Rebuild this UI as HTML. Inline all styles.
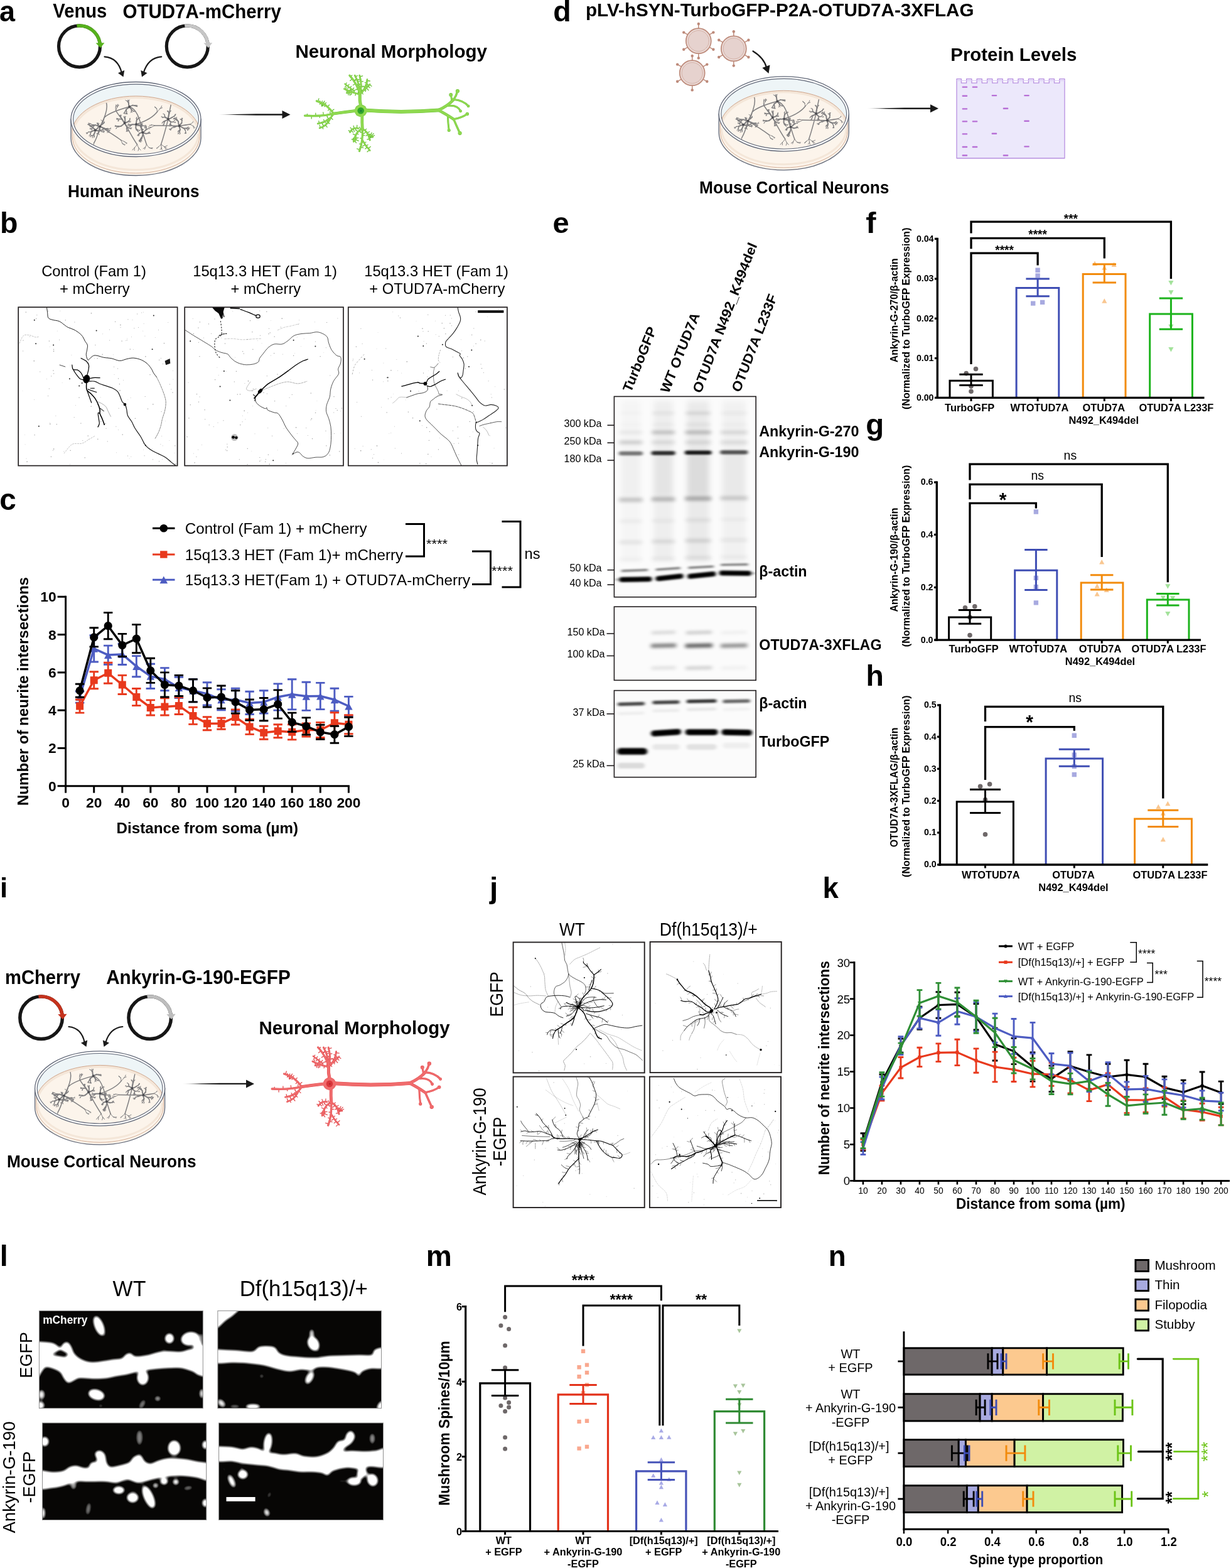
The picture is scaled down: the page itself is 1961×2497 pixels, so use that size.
<!DOCTYPE html>
<html lang="en"><head><meta charset="utf-8"><title>Figure</title>
<style>
html,body{margin:0;padding:0;background:#fff;}
body{width:1961px;height:2497px;overflow:hidden;}
svg{display:block;font-family:"Liberation Sans", sans-serif;}
text{white-space:pre;}
</style></head><body>
<svg width="1961" height="2497" viewBox="0 0 1961 2497">
<defs><g id="dishg"><path d="M-103.5 0.0L-103.5 30.0A103.5 59.5 0 0 0 103.5 30.0L103.5 0.0Z" fill="#fcf4eb" stroke="#5f6676" stroke-width="1.3" /><path d="M-101.3 14.0L-101.3 27.5A101.3 58.3 0 0 0 101.3 27.5L101.3 14.0" fill="none" stroke="#cfa58b" stroke-width="0.9" /><path d="M-99.5 23.0A99.5 57.5 0 0 0 99.5 23.0" fill="none" stroke="#f4e6d8" stroke-width="3" /><ellipse cx="0.0" cy="0.0" rx="103.5" ry="59.5" fill="#ffffff" stroke="#5f6676" stroke-width="1.3" /><clipPath id="dcA"><ellipse cx="0.0" cy="0.0" rx="99.9" ry="55.9"/></clipPath><ellipse cx="0.0" cy="0.0" rx="99.9" ry="55.9" fill="#eef5f7" stroke="none" stroke-width="1" /><g clip-path="url(#dcA)"><clipPath id="dcAm"><ellipse cx="0.0" cy="26.0" rx="98.5" ry="59.5"/></clipPath><ellipse cx="0.0" cy="22.5" rx="102.0" ry="59.5" fill="#f4e6d8" stroke="#cfa58b" stroke-width="1.0" /><ellipse cx="0.0" cy="26.5" rx="99.5" ry="59.5" fill="#fcf4eb" stroke="none" stroke-width="1" /></g><ellipse cx="0.0" cy="0.0" rx="99.9" ry="55.9" fill="none" stroke="#5f6676" stroke-width="1.1" /><g clip-path="url(#dcA)"><g clip-path="url(#dcAm)" opacity="0.9"><path d="M-69.3 8.7Q-71.0 9.1 -72.2 9.6M-72.2 9.6Q-72.5 10.4 -72.6 11.5M-72.2 9.6Q-73.0 10.1 -73.9 10.6M-69.3 8.7Q-70.4 8.0 -71.9 7.2M-71.9 7.2Q-72.6 6.8 -73.5 6.8M-71.9 7.2Q-72.6 6.8 -73.6 6.6M-68.4 12.6Q-69.7 13.6 -71.1 14.7M-71.1 14.7Q-71.6 15.3 -71.5 16.4M-71.1 14.7Q-72.2 14.9 -73.2 15.5M-71.1 14.7Q-72.1 14.5 -73.2 14.5M-68.4 12.6Q-69.2 14.0 -69.9 15.2M-69.9 15.2Q-70.2 16.1 -70.5 17.0M-69.9 15.2Q-70.1 16.1 -69.8 16.9M-69.0 10.2Q-70.0 10.3 -71.3 10.1M-71.3 10.1Q-71.9 9.6 -72.8 9.5M-71.3 10.1Q-71.9 10.3 -72.8 10.4M-69.0 10.2Q-70.3 10.5 -71.5 11.5M-71.5 11.5Q-71.9 12.2 -72.7 12.6M-71.5 11.5Q-72.4 11.6 -73.2 11.0M-52.9 3.8Q-52.2 3.1 -52.0 2.2M-52.9 3.8Q-53.2 2.7 -54.3 1.9M-54.3 1.9Q-54.8 1.4 -55.6 1.1M-50.5 5.5Q-50.4 4.7 -50.4 3.9M-50.5 5.5Q-50.4 4.7 -50.2 3.9M-45.2 16.5Q-44.9 18.0 -44.9 19.5M-44.9 19.5Q-45.3 20.3 -45.6 21.4M-44.9 19.5Q-44.4 20.3 -44.0 20.9M-44.9 19.5Q-44.3 20.1 -43.8 20.9M-45.2 16.5Q-44.1 17.2 -43.0 17.7M-43.0 17.7Q-42.2 17.6 -41.3 17.5M-43.0 17.7Q-42.0 17.8 -41.4 18.2M-44.7 14.6Q-43.8 15.9 -43.1 17.3M-43.1 17.3Q-42.6 18.4 -42.5 19.4M-43.1 17.3Q-43.2 18.1 -43.2 19.1M-44.7 14.6Q-43.1 15.4 -41.5 15.2M-41.5 15.2Q-40.4 14.7 -40.1 13.5M-41.5 15.2Q-40.6 14.9 -39.7 15.1M-59.2 19.5Q-59.5 20.3 -59.5 21.1M-59.2 19.5Q-59.8 20.2 -60.2 20.9M-59.3 20.9Q-60.0 21.7 -60.9 22.7M-60.9 22.7Q-61.5 22.9 -62.3 23.2M-60.9 22.7Q-61.6 22.7 -62.3 22.6M-59.3 20.9Q-59.2 21.9 -59.2 23.3M-59.2 23.3Q-58.8 23.7 -58.3 24.1M-59.2 23.3Q-58.8 23.8 -58.6 24.5M-73.7 9.4Q-73.9 8.2 -74.5 7.2M-74.5 7.2Q-74.9 6.7 -75.4 6.1M-74.5 7.2Q-74.4 6.5 -74.6 5.9M-74.5 7.2Q-75.1 6.8 -75.5 6.4M-73.7 9.4Q-74.5 8.7 -75.4 8.3M-75.4 8.3Q-76.1 8.4 -76.7 8.4M-75.4 8.3Q-75.9 8.2 -76.6 8.1M-73.3 9.3Q-74.4 9.4 -75.4 9.1M-75.4 9.1Q-75.8 8.7 -76.3 8.2M-73.3 9.3Q-73.9 8.4 -75.0 7.8M-75.0 7.8Q-75.8 7.9 -76.3 8.2M-75.0 7.8Q-75.1 7.3 -74.9 6.5M-60.7 9.3Q-60.8 8.2 -60.5 7.2M-60.5 7.2Q-60.6 6.5 -60.8 5.9M-60.5 7.2Q-60.4 6.6 -60.1 5.9M-60.7 9.3Q-60.9 8.1 -61.6 7.0M-61.6 7.0Q-61.4 6.2 -60.6 5.8M-61.6 7.0Q-62.2 6.4 -62.3 5.7M-59.7 9.9Q-59.6 9.0 -60.0 7.8M-60.0 7.8Q-60.6 7.2 -61.3 7.0M-60.0 7.8Q-60.1 7.2 -60.6 6.6M-59.7 9.9Q-59.6 8.9 -59.3 7.9M-59.3 7.9Q-59.4 7.1 -59.6 6.6M-59.3 7.9Q-58.9 7.4 -58.3 6.9M-53.9 17.0Q-52.9 16.6 -51.8 16.0M-51.8 16.0Q-51.1 15.6 -50.8 15.1M-51.8 16.0Q-51.5 15.4 -51.4 14.8M-51.8 16.0Q-51.5 15.5 -50.9 15.1M-53.9 17.0Q-53.1 15.9 -52.0 14.6M-52.0 14.6Q-51.1 14.2 -50.1 14.6M-52.0 14.6Q-50.9 14.6 -50.1 14.4M-53.9 17.0Q-52.7 17.3 -51.6 18.3M-51.6 18.3Q-51.0 18.6 -50.1 19.0M-51.6 18.3Q-50.9 18.5 -50.0 18.8M-54.2 19.6Q-53.4 20.3 -52.0 20.3M-52.0 20.3Q-51.7 20.8 -51.0 21.2M-52.0 20.3Q-51.4 20.2 -50.7 20.2M-54.2 19.6Q-53.2 19.5 -51.9 18.8M-51.9 18.8Q-51.3 19.0 -50.5 19.0M-68.9 26.1Q-70.0 26.3 -71.1 25.9M-71.1 25.9Q-71.8 26.0 -72.3 26.5M-71.1 25.9Q-71.6 26.3 -71.8 26.9M-68.9 26.1Q-69.2 26.9 -69.3 28.1M-69.3 28.1Q-69.2 28.7 -69.3 29.6M-68.9 26.1Q-69.7 26.2 -70.5 25.9M-66.4 27.0Q-66.7 28.1 -67.0 29.0M-66.4 27.0Q-66.6 27.7 -66.7 28.7M-75.5 20.2Q-76.5 20.7 -77.8 21.6M-77.8 21.6Q-78.4 21.7 -79.2 21.6M-77.8 21.6Q-78.1 22.2 -78.6 23.0M-75.5 20.2Q-76.6 20.5 -77.3 21.5M-77.3 21.5Q-77.5 22.1 -77.6 22.9M-77.3 21.5Q-77.6 22.1 -77.5 22.8M-72.6 23.8Q-73.4 24.6 -74.1 25.5M-74.1 25.5Q-74.4 26.2 -74.3 26.9M-72.6 23.8Q-72.0 25.0 -72.0 26.5M-72.0 26.5Q-72.2 27.4 -72.5 28.1M-72.0 26.5Q-72.0 27.2 -72.2 27.8M-1.5 -21.6Q-0.6 -21.3 0.2 -20.8M0.2 -20.8Q0.9 -20.7 1.5 -20.6M-1.5 -21.6Q-0.6 -21.9 0.5 -22.0M0.5 -22.0Q1.0 -22.4 1.6 -22.7M-1.1 -21.5Q-0.1 -21.3 0.8 -20.7M0.8 -20.7Q1.3 -20.4 1.9 -20.2M-1.1 -21.5Q0.1 -21.3 1.2 -21.4M1.2 -21.4Q1.9 -21.1 2.6 -21.3M-1.4 -22.2Q-0.3 -21.6 0.6 -21.1M0.6 -21.1Q1.3 -20.9 1.8 -20.5M0.6 -21.1Q1.3 -21.1 1.9 -21.4M-1.4 -22.2Q-0.3 -22.1 0.9 -22.1M-4.2 -13.0Q-3.4 -12.6 -2.5 -12.2M-4.2 -13.0Q-3.2 -12.6 -2.3 -12.5M-2.3 -12.5Q-1.8 -12.8 -1.3 -13.4M-7.2 -12.1Q-6.5 -11.5 -5.6 -11.1M-7.2 -12.1Q-7.6 -11.3 -8.3 -10.5M-14.8 -12.0Q-15.1 -11.0 -15.6 -9.8M-15.6 -9.8Q-15.4 -9.2 -14.9 -8.5M-15.6 -9.8Q-15.2 -9.2 -15.3 -8.5M-15.6 -9.8Q-15.8 -9.1 -16.2 -8.6M-14.8 -12.0Q-14.4 -10.9 -14.5 -9.7M-14.5 -9.7Q-14.0 -9.2 -13.8 -8.5M-14.5 -9.7Q-14.1 -9.3 -13.5 -8.8M-14.5 -9.7Q-14.9 -9.0 -14.6 -8.2M-17.3 -12.3Q-18.1 -11.3 -18.8 -10.6M-18.8 -10.6Q-18.8 -10.0 -19.1 -9.3M-18.8 -10.6Q-19.3 -10.0 -19.6 -9.6M-17.3 -12.3Q-17.4 -11.1 -17.9 -10.0M-17.9 -10.0Q-17.7 -9.4 -17.3 -8.9M-17.9 -10.0Q-18.0 -9.3 -17.9 -8.7M-11.4 -29.5Q-10.8 -30.3 -10.3 -31.1M-11.4 -29.5Q-11.8 -30.1 -12.2 -30.9M-13.7 -28.9Q-13.5 -29.8 -13.2 -30.6M-13.7 -28.9Q-14.7 -29.6 -15.5 -29.8M-15.5 -29.8Q-16.2 -29.9 -16.7 -30.4M-18.7 -3.0Q-19.2 -3.7 -19.6 -4.5M-18.7 -3.0Q-18.6 -4.1 -18.3 -4.9M-17.3 -3.1Q-16.7 -3.8 -16.5 -4.8M-17.3 -3.1Q-16.8 -3.7 -16.4 -4.4M-9.8 1.5Q-9.3 0.8 -9.5 -0.4M-9.8 1.5Q-9.7 0.6 -9.8 -0.5M-9.8 -0.5Q-9.6 -1.2 -9.5 -1.8M-9.8 -0.5Q-9.4 -0.9 -9.1 -1.6M-9.8 3.9Q-9.0 4.1 -8.3 4.1M-9.8 3.9Q-8.9 3.7 -8.2 3.2M-14.9 15.6Q-13.9 16.5 -13.2 17.7M-13.2 17.7Q-12.7 18.5 -12.5 19.2M-13.2 17.7Q-13.1 18.5 -13.6 19.3M-13.2 17.7Q-12.5 17.9 -11.7 17.8M-14.9 15.6Q-14.8 16.9 -14.7 18.2M-14.7 18.2Q-14.4 18.8 -14.2 19.4M-14.7 18.2Q-15.0 18.8 -15.4 19.6M-11.2 13.8Q-10.3 14.5 -9.0 14.8M-9.0 14.8Q-8.3 14.4 -7.5 14.2M-9.0 14.8Q-8.2 14.5 -7.6 14.7M-11.2 13.8Q-9.7 14.0 -8.4 14.1M-8.4 14.1Q-7.6 13.9 -6.6 13.6M-8.4 14.1Q-7.7 14.6 -7.4 15.4M-28.5 10.8Q-29.8 11.2 -30.9 10.8M-30.9 10.8Q-31.5 10.6 -32.0 10.2M-30.9 10.8Q-31.6 11.2 -32.2 11.8M-28.5 10.8Q-30.2 10.8 -31.8 10.9M-31.8 10.9Q-32.4 10.4 -32.7 9.5M-31.8 10.9Q-32.5 11.1 -33.5 11.2M-28.2 11.9Q-29.8 12.3 -30.8 13.4M-30.8 13.4Q-31.3 14.2 -31.7 14.9M-30.8 13.4Q-31.2 14.1 -31.4 14.9M-28.2 11.9Q-29.7 11.1 -31.1 11.2M-31.1 11.2Q-32.1 10.8 -33.0 10.6M-31.1 11.2Q-31.8 11.0 -32.7 10.7M-26.0 -0.6Q-27.4 -0.4 -28.6 -0.2M-28.6 -0.2Q-29.3 -0.1 -30.1 0.1M-28.6 -0.2Q-29.0 -0.6 -29.6 -0.9M-28.6 -0.2Q-29.3 -0.2 -30.3 -0.0M-26.0 -0.6Q-27.2 0.0 -27.5 1.4M-27.5 1.4Q-28.3 2.0 -28.8 2.3M-27.5 1.4Q-27.7 2.1 -27.7 3.0M-27.5 1.4Q-28.0 1.9 -28.1 2.8M-26.0 -0.6Q-27.7 -0.5 -29.1 -0.9M-29.1 -0.9Q-29.9 -0.5 -30.8 -0.1M-29.1 -0.9Q-29.9 -1.4 -30.7 -1.6M-29.1 -0.9Q-30.0 -0.6 -30.8 -0.9M-24.0 -3.1Q-23.9 -4.2 -23.7 -5.7M-23.7 -5.7Q-24.1 -6.1 -24.7 -6.7M-23.7 -5.7Q-23.7 -6.3 -23.4 -7.0M-24.0 -3.1Q-24.3 -4.4 -25.1 -5.1M-25.1 -5.1Q-25.6 -5.5 -26.3 -5.6M-25.1 -5.1Q-25.5 -5.7 -25.8 -6.2M-25.1 -5.1Q-25.0 -5.8 -25.2 -6.3M-24.0 -3.1Q-24.3 -4.2 -25.1 -5.5M-25.1 -5.5Q-24.7 -6.0 -24.5 -6.8M-25.1 -5.5Q-24.8 -6.2 -24.7 -6.9M2.9 16.8Q3.2 17.6 3.1 18.8M3.1 18.8Q3.3 19.6 3.6 20.1M2.9 16.8Q4.1 17.1 5.4 17.5M5.4 17.5Q6.1 17.4 7.0 16.9M5.4 17.5Q5.8 18.1 6.0 18.7M1.0 17.4Q1.9 17.8 2.5 18.7M1.0 17.4Q1.6 18.3 2.9 18.7M2.9 18.7Q3.3 19.3 4.0 19.8M1.0 17.4Q1.9 18.1 2.7 18.8M2.7 18.8Q3.4 19.0 4.1 19.0M-9.4 8.7Q-10.5 7.9 -11.4 7.3M-11.4 7.3Q-12.0 7.2 -12.5 6.8M-9.4 8.7Q-10.6 8.9 -11.9 8.7M-11.9 8.7Q-12.7 9.0 -13.2 9.3M-11.9 8.7Q-12.7 9.0 -13.3 9.1M-8.3 10.1Q-8.9 11.0 -9.3 11.7M-9.3 11.7Q-9.9 11.8 -10.5 12.2M-8.3 10.1Q-9.2 10.3 -10.4 10.2M-10.4 10.2Q-10.9 10.2 -11.6 10.2M-10.4 10.2Q-10.9 10.6 -11.5 11.0M0.8 -1.8Q1.3 -2.5 1.8 -3.3M0.8 -1.8Q0.9 -2.6 1.3 -3.4M3.5 -1.2Q4.7 -1.7 5.5 -2.3M5.5 -2.3Q6.2 -2.6 6.6 -3.2M5.5 -2.3Q6.2 -2.4 7.1 -2.2M3.5 -1.2Q3.8 -2.0 4.2 -2.7M8.9 13.9Q9.9 14.8 10.8 15.8M10.8 15.8Q11.4 16.0 12.3 16.3M10.8 15.8Q11.0 16.4 10.8 17.2M8.9 13.9Q9.5 15.3 10.4 15.9M10.4 15.9Q10.7 16.6 11.0 17.5M10.4 15.9Q10.4 16.6 10.3 17.3M8.9 13.9Q9.6 14.7 10.2 15.7M10.2 15.7Q10.8 16.2 11.4 16.6M10.2 15.7Q10.5 16.3 11.1 16.7M11.8 10.2Q13.0 11.2 14.0 12.3M14.0 12.3Q14.5 12.9 15.1 13.3M14.0 12.3Q14.2 13.0 14.2 14.0M14.0 12.3Q14.3 13.4 15.0 14.1M11.8 10.2Q13.2 10.3 14.2 10.3M14.2 10.3Q14.7 10.7 15.1 11.4M14.2 10.3Q14.7 9.7 14.9 9.1M6.5 10.2Q5.0 10.1 3.8 10.1M3.8 10.1Q3.2 10.5 2.3 10.5M3.8 10.1Q3.4 9.7 2.7 9.4M3.8 10.1Q3.4 9.5 2.9 9.0M6.5 10.2Q5.5 9.3 4.3 8.6M4.3 8.6Q3.7 8.0 3.6 7.4M4.3 8.6Q3.4 8.6 2.6 8.0M6.5 10.2Q6.3 9.3 6.4 8.2M9.6 10.2Q9.0 9.5 9.1 8.3M9.1 8.3Q8.7 7.9 8.4 7.3M9.6 10.2Q9.8 9.0 10.0 7.9M10.0 7.9Q10.4 7.5 10.9 7.1M9.6 10.2Q9.3 9.1 9.4 7.9M9.4 7.9Q9.2 7.2 9.0 6.5M9.4 7.9Q9.2 7.4 9.2 6.6M9.4 7.9Q9.8 7.3 10.3 6.7M18.6 15.3Q19.6 14.9 20.4 14.4M18.6 15.3Q19.5 14.8 20.7 14.6M20.7 14.6Q21.3 15.0 21.9 15.3M16.6 13.2Q16.1 12.5 15.8 11.4M15.8 11.4Q16.1 10.9 16.5 10.3M15.8 11.4Q15.4 10.9 15.0 10.5M16.6 13.2Q16.7 12.4 17.2 11.5M16.6 13.2Q15.8 12.2 15.4 11.0M15.4 11.0Q14.8 10.3 14.0 10.2M15.4 11.0Q15.7 10.4 16.1 9.7M19.5 22.5Q20.3 21.8 20.8 21.1M19.5 22.5Q20.7 22.2 21.5 22.1M19.6 22.0Q20.6 21.9 21.7 22.0M21.7 22.0Q22.3 22.2 22.8 22.5M21.7 22.0Q22.4 22.2 23.0 22.3M19.6 22.0Q20.5 21.9 21.4 21.4M21.4 21.4Q21.8 21.0 22.3 20.6M19.6 22.0Q20.2 21.2 20.5 20.3M20.5 20.3Q21.1 20.0 21.6 19.9M7.2 31.4Q6.9 32.7 6.5 33.7M6.5 33.7Q6.2 34.1 6.0 34.8M7.2 31.4Q6.2 31.8 5.7 32.9M5.7 32.9Q5.2 33.4 4.9 33.8M5.7 32.9Q5.3 33.3 4.6 33.6M8.0 32.1Q8.0 33.4 7.2 34.7M7.2 34.7Q7.5 35.6 8.0 36.4M7.2 34.7Q7.2 35.6 6.9 36.3M8.0 32.1Q7.2 32.9 6.5 34.2M6.5 34.2Q5.9 34.2 5.2 34.2M6.5 34.2Q6.2 34.9 5.8 35.7M6.5 34.2Q5.7 34.7 5.2 35.4M9.0 31.3Q8.1 31.8 7.2 32.6M7.2 32.6Q7.0 33.1 6.5 33.6M7.2 32.6Q6.8 33.1 6.2 33.5M9.0 31.3Q8.6 32.4 8.7 33.7M8.7 33.7Q9.1 34.1 9.6 34.8M8.7 33.7Q8.5 34.4 8.4 35.0M3.5 24.6Q2.8 24.8 2.1 25.5M3.5 24.6Q3.4 25.5 3.4 26.4M4.9 25.1Q4.3 25.6 3.9 26.2M4.9 25.1Q5.0 25.6 4.7 26.4M53.7 -10.9Q53.6 -12.0 53.9 -13.0M53.9 -13.0Q54.0 -13.6 54.0 -14.2M53.7 -10.9Q54.7 -11.7 54.9 -12.9M54.9 -12.9Q55.5 -13.2 56.1 -13.5M54.9 -12.9Q54.7 -13.6 54.2 -14.3M52.3 -10.8Q51.8 -11.9 50.6 -12.3M50.6 -12.3Q50.3 -12.9 50.1 -13.5M50.6 -12.3Q50.1 -12.8 50.0 -13.6M52.3 -10.8Q52.0 -12.0 51.7 -13.0M51.7 -13.0Q51.1 -13.5 50.4 -13.5M61.1 -4.8Q61.8 -5.6 62.1 -6.6M62.1 -6.6Q62.1 -7.1 62.3 -7.8M62.1 -6.6Q62.7 -6.9 63.3 -7.0M61.1 -4.8Q61.3 -5.5 62.2 -6.3M62.2 -6.3Q62.3 -6.9 62.9 -7.3M61.2 -5.4Q62.0 -6.0 62.5 -7.1M62.5 -7.1Q63.0 -7.3 63.6 -7.9M61.2 -5.4Q62.2 -5.9 62.8 -7.0M62.8 -7.0Q63.1 -7.6 63.0 -8.2M59.6 4.2Q60.8 4.6 61.9 5.0M61.9 5.0Q62.4 4.6 63.1 4.2M61.9 5.0Q62.8 5.0 63.5 4.9M59.6 4.2Q60.6 3.1 61.0 2.3M61.0 2.3Q61.6 1.9 62.3 1.7M61.0 2.3Q61.3 1.8 61.7 1.1M54.5 7.9Q53.7 8.2 52.9 8.9M54.5 7.9Q54.4 8.8 54.8 9.9M54.8 9.9Q54.4 10.4 54.1 11.1M44.9 6.3Q44.6 7.5 43.9 8.2M43.9 8.2Q43.4 8.6 43.1 9.1M43.9 8.2Q43.4 8.7 43.3 9.4M44.9 6.3Q44.5 7.5 44.6 8.5M44.6 8.5Q44.1 8.9 43.6 9.3M43.4 4.2Q42.8 5.1 42.1 5.7M42.1 5.7Q41.9 6.3 41.6 6.8M43.4 4.2Q42.9 4.9 41.7 5.3M43.5 -3.1Q42.4 -3.3 41.7 -3.7M41.7 -3.7Q41.2 -4.0 40.5 -4.0M41.7 -3.7Q41.4 -4.2 41.2 -4.8M43.5 -3.1Q42.9 -2.7 42.1 -2.4M45.7 -7.1Q44.9 -7.7 44.4 -8.5M45.7 -7.1Q44.9 -7.9 44.4 -8.6M44.4 -8.6Q43.8 -8.8 43.2 -8.8M57.7 10.2Q56.7 9.4 55.5 8.8M55.5 8.8Q55.2 8.1 54.9 7.5M55.5 8.8Q54.6 8.7 53.8 8.7M57.7 10.2Q56.8 9.2 55.6 8.2M55.6 8.2Q55.5 7.4 55.3 6.7M55.6 8.2Q55.2 7.2 54.7 6.5M57.1 13.7Q56.2 15.0 54.8 15.5M54.8 15.5Q54.4 16.1 54.6 16.9M54.8 15.5Q53.9 15.3 52.9 15.5M54.8 15.5Q54.6 16.2 53.9 16.8M57.1 13.7Q56.2 14.9 56.1 16.1M56.1 16.1Q55.8 16.9 55.4 17.4M56.1 16.1Q55.7 16.6 55.3 17.4M63.9 0.7Q63.4 -0.8 62.2 -1.5M62.2 -1.5Q62.0 -2.2 61.8 -3.0M62.2 -1.5Q61.4 -1.6 60.7 -1.5M63.9 0.7Q62.7 0.3 61.3 -0.9M61.3 -0.9Q60.5 -1.0 59.8 -1.3M61.3 -0.9Q60.5 -0.8 59.6 -0.4M61.3 -0.9Q60.8 -1.3 59.9 -1.6M65.6 0.2Q64.6 -0.5 64.5 -2.0M64.5 -2.0Q64.7 -2.8 64.9 -3.6M64.5 -2.0Q63.8 -2.4 63.2 -2.7M65.6 0.2Q64.8 -0.3 64.0 -0.7M64.0 -0.7Q63.6 -1.1 63.0 -1.4M64.0 -0.7Q63.4 -0.7 62.7 -0.5M73.4 1.6Q72.9 1.0 71.9 0.2M71.9 0.2Q71.3 0.1 70.6 -0.1M71.9 0.2Q71.3 0.1 70.7 -0.1M73.4 1.6Q73.5 0.6 73.6 -0.6M73.6 -0.6Q74.2 -1.0 74.5 -1.7M73.6 -0.6Q73.4 -1.1 73.3 -1.8M73.4 1.6Q72.8 0.8 72.9 -0.5M72.9 -0.5Q73.2 -1.2 73.3 -1.9M72.9 -0.5Q73.3 -1.1 73.9 -1.6M73.2 2.6Q72.6 1.8 72.4 0.9M73.2 2.6Q73.0 1.6 72.4 0.7M72.4 0.7Q71.9 0.6 71.3 0.2M72.4 0.7Q71.7 0.3 71.3 -0.1M79.0 18.4Q79.0 19.6 79.5 21.2M79.5 21.2Q79.8 21.8 80.0 22.5M79.5 21.2Q79.3 21.9 78.9 22.7M79.0 18.4Q79.5 19.6 79.0 21.1M79.0 21.1Q78.9 21.7 78.5 22.3M79.0 21.1Q78.5 21.9 77.6 22.3M80.9 14.1Q82.2 14.6 83.9 15.0M83.9 15.0Q84.8 14.7 85.5 14.1M83.9 15.0Q84.4 15.7 84.5 16.6M80.9 14.1Q82.2 13.5 83.9 14.0M83.9 14.0Q84.7 14.1 85.7 13.8M83.9 14.0Q84.5 14.3 85.3 14.6M80.1 14.7Q81.4 13.8 82.3 12.9M82.3 12.9Q83.0 12.5 83.6 12.2M82.3 12.9Q82.7 12.1 83.5 11.9M80.1 14.7Q81.2 15.5 82.1 16.2M82.1 16.2Q82.9 16.2 83.5 16.1M82.1 16.2Q82.3 17.0 82.4 17.7M82.1 16.2Q82.1 16.8 82.6 17.5M67.7 18.7Q67.1 19.5 66.6 20.1M67.7 18.7Q67.6 19.7 67.4 20.6M69.5 19.9Q69.0 21.0 68.1 22.2M68.1 22.2Q67.8 22.8 67.1 23.3M68.1 22.2Q67.5 22.5 66.9 22.5M68.1 22.2Q68.4 22.9 69.0 23.5M69.5 19.9Q69.9 21.1 70.6 22.0M70.6 22.0Q70.5 22.8 70.3 23.6M-50.0 -32.0Q-51.2 -34.1 -52.6 -36.6M-52.6 -36.6Q-52.5 -38.3 -53.0 -40.1M-52.6 -36.6Q-52.7 -38.6 -52.4 -40.5M-50.0 -32.0Q-48.2 -34.6 -48.2 -37.4M-48.2 -37.4Q-48.5 -39.1 -49.4 -40.4M-48.2 -37.4Q-47.0 -39.0 -45.7 -40.6M-67.0 38.0Q-68.2 41.2 -67.5 45.0M-67.5 45.0Q-67.3 47.2 -66.7 49.2M-67.5 45.0Q-67.4 47.4 -66.5 49.1M-24.0 33.0Q-22.9 35.7 -21.3 38.8M-21.3 38.8Q-19.5 39.7 -18.2 41.3M-21.3 38.8Q-19.3 39.6 -17.2 40.4M-24.0 33.0Q-21.4 34.2 -18.0 35.6M-18.0 35.6Q-16.4 37.1 -14.1 38.0M-18.0 35.6Q-16.5 37.7 -15.0 38.8M-49.0 -4.0Q-50.9 -2.2 -51.2 0.8M-51.2 0.8Q-51.7 2.3 -52.1 3.9M-51.2 0.8Q-52.3 1.6 -53.0 3.1M-32.0 -14.0Q-32.8 -17.0 -32.2 -19.6M-32.2 -19.6Q-32.0 -21.3 -31.7 -23.2M-32.2 -19.6Q-31.2 -21.0 -30.4 -22.4M-32.0 -14.0Q-31.0 -17.1 -29.7 -19.6M-29.7 -19.6Q-28.6 -21.1 -28.2 -23.1M-29.7 -19.6Q-30.2 -21.5 -29.0 -24.0M-29.7 -19.6Q-28.7 -21.1 -27.1 -22.3M2.0 40.0Q3.1 43.6 4.7 45.9M4.7 45.9Q4.5 47.9 3.5 50.1M4.7 45.9Q5.7 47.9 7.6 49.0M2.0 40.0Q0.8 42.8 -2.2 45.2M-2.2 45.2Q-2.4 47.2 -2.4 49.6M-2.2 45.2Q-4.2 46.8 -5.6 49.0M34.0 -12.0Q36.9 -14.5 38.5 -17.1M38.5 -17.1Q40.3 -17.6 42.1 -18.4M38.5 -17.1Q40.6 -18.6 41.2 -21.4M34.0 -12.0Q33.7 -14.9 33.1 -17.2M33.1 -17.2Q31.7 -18.5 30.4 -18.9M33.1 -17.2Q32.0 -18.5 30.3 -19.9M33.1 -17.2Q31.3 -18.6 29.9 -19.8M17.0 40.0Q18.6 42.8 21.2 45.3M21.2 45.3Q23.8 46.1 26.7 45.6M21.2 45.3Q23.5 46.3 26.0 46.8M17.0 40.0Q16.2 42.4 14.9 44.5M14.9 44.5Q13.4 45.6 11.6 46.7M14.9 44.5Q14.9 46.2 13.8 47.8M40.0 40.0Q40.3 43.2 40.8 45.4M40.8 45.4Q39.9 47.3 38.7 48.4M40.8 45.4Q40.8 46.9 41.7 48.9M40.0 40.0Q38.2 42.3 35.8 43.9M35.8 43.9Q34.3 45.2 32.9 46.0M35.8 43.9Q34.1 45.1 33.3 46.7M40.0 40.0Q42.6 41.6 45.3 43.7M45.3 43.7Q47.6 43.4 49.9 41.9M45.3 43.7Q47.6 44.8 49.6 46.5M45.3 43.7Q46.5 46.0 47.9 47.9M56.0 -24.0Q57.2 -26.7 58.5 -28.5M58.5 -28.5Q59.1 -30.2 59.1 -31.9M58.5 -28.5Q58.1 -30.6 57.5 -32.4M58.5 -28.5Q59.7 -30.1 61.8 -30.7M56.0 -24.0Q55.5 -27.1 53.6 -29.5M53.6 -29.5Q53.4 -32.1 53.0 -34.0M53.6 -29.5Q54.2 -31.4 54.9 -33.6M30.0 10.0Q27.6 8.9 25.0 9.0M25.0 9.0Q23.5 9.8 21.5 9.6M25.0 9.0Q23.3 9.5 22.1 9.8M30.0 10.0Q27.5 11.4 24.2 12.8M24.2 12.8Q21.9 12.1 19.9 12.1M24.2 12.8Q22.6 13.7 20.9 14.4M86.0 8.0Q88.8 9.0 91.3 10.7M91.3 10.7Q91.6 12.6 92.5 14.4M91.3 10.7Q93.2 12.2 94.4 13.6M86.0 8.0Q88.8 6.7 91.0 4.6M91.0 4.6Q91.6 2.7 92.0 1.2M91.0 4.6Q91.3 2.7 92.3 1.3" fill="none" stroke="#727275" stroke-width="1.0" stroke-linecap="round"/><path d="M-64.6 9.1Q-66.7 8.5 -69.3 8.7M-64.6 9.1Q-67.0 10.2 -68.4 12.6M-64.6 9.1Q-66.9 9.7 -69.0 10.2M-52.8 7.3Q-52.9 5.6 -52.9 3.8M-52.8 7.3Q-51.8 6.3 -50.5 5.5M-50.0 14.5Q-48.1 15.5 -45.2 16.5M-50.0 14.5Q-47.4 15.0 -44.7 14.6M-57.3 17.4Q-58.2 18.3 -59.2 19.5M-57.3 17.4Q-58.2 19.6 -59.3 20.9M-70.4 11.9Q-71.5 10.2 -73.7 9.4M-70.4 11.9Q-71.7 10.5 -73.3 9.3M-60.0 13.2Q-59.8 11.2 -60.7 9.3M-60.0 13.2Q-59.9 11.4 -59.7 9.9M-58.1 18.1Q-56.1 17.4 -53.9 17.0M-58.1 18.1Q-55.7 18.4 -54.2 19.6M-66.7 23.6Q-67.9 25.1 -68.9 26.1M-66.7 23.6Q-66.7 25.4 -66.4 27.0M-71.3 19.6Q-73.2 20.2 -75.5 20.2M-71.3 19.6Q-72.2 21.5 -72.6 23.8M-4.8 -22.4Q-3.2 -21.6 -1.5 -21.6M-4.8 -22.4Q-3.2 -21.8 -1.1 -21.5M-4.8 -22.4Q-3.3 -21.8 -1.4 -22.2M-6.9 -15.4Q-5.9 -14.1 -4.2 -13.0M-6.9 -15.4Q-7.4 -13.5 -7.2 -12.1M-15.3 -16.0Q-15.4 -13.9 -14.8 -12.0M-15.3 -16.0Q-16.1 -14.0 -17.3 -12.3M-11.7 -26.3Q-11.8 -28.1 -11.4 -29.5M-11.7 -26.3Q-13.0 -27.5 -13.7 -28.9M-17.3 -0.0Q-17.9 -1.5 -18.7 -3.0M-17.3 -0.0Q-16.8 -1.5 -17.3 -3.1M-12.6 3.8Q-11.6 2.2 -9.8 1.5M-12.6 3.8Q-11.2 3.7 -9.8 3.9M-14.5 11.3Q-14.9 13.6 -14.9 15.6M-14.5 11.3Q-13.0 12.7 -11.2 13.8M-23.7 10.8Q-26.0 11.2 -28.5 10.8M-23.7 10.8Q-25.8 11.6 -28.2 11.9M-21.6 0.3Q-24.0 -0.2 -26.0 -0.6M-21.6 0.3Q-22.6 -1.9 -24.0 -3.1M-0.1 14.0Q1.0 16.0 2.9 16.8M-0.1 14.0Q0.0 15.6 1.0 17.4M-5.6 8.3Q-7.3 7.9 -9.4 8.7M-5.6 8.3Q-7.0 9.1 -8.3 10.1M1.2 1.4Q1.4 -0.4 0.8 -1.8M1.2 1.4Q2.8 0.6 3.5 -1.2M7.2 10.0Q8.5 11.5 8.9 13.9M7.2 10.0Q9.7 9.5 11.8 10.2M8.4 13.9Q7.1 12.1 6.5 10.2M8.4 13.9Q9.6 11.9 9.6 10.2M15.7 17.0Q17.1 16.7 18.6 15.3M15.7 17.0Q16.5 15.4 16.6 13.2M16.5 22.9Q18.1 22.2 19.5 22.5M16.5 22.9Q17.9 21.9 19.6 22.0M10.0 27.9Q8.1 29.2 7.2 31.4M10.0 27.9Q9.5 30.5 8.0 32.1M10.0 27.9Q10.1 29.7 9.0 31.3M5.5 22.4Q4.6 23.8 3.5 24.6M5.5 22.4Q4.8 23.7 4.9 25.1M52.3 -7.0Q53.4 -8.6 53.7 -10.9M52.3 -7.0Q52.3 -8.8 52.3 -10.8M57.9 -3.2Q59.0 -4.5 61.1 -4.8M57.9 -3.2Q59.6 -4.1 61.2 -5.4M55.6 4.2Q57.9 4.5 59.6 4.2M55.6 4.2Q55.5 6.1 54.5 7.9M46.1 2.7Q45.4 4.4 44.9 6.3M46.1 2.7Q44.4 2.9 43.4 4.2M46.3 -3.5Q45.1 -3.6 43.5 -3.1M46.3 -3.5Q45.6 -5.5 45.7 -7.1M61.5 12.4Q59.6 11.7 57.7 10.2M61.5 12.4Q59.5 13.4 57.1 13.7M67.5 3.3Q65.5 1.8 63.9 0.7M67.5 3.3Q66.3 2.1 65.6 0.2M73.0 5.7Q73.1 3.6 73.4 1.6M73.0 5.7Q72.9 3.9 73.2 2.6M75.9 14.2Q78.0 15.7 79.0 18.4M75.9 14.2Q78.1 14.1 80.9 14.1M75.9 14.2Q78.1 14.4 80.1 14.7M70.4 16.2Q69.3 17.7 67.7 18.7M70.4 16.2Q70.6 17.8 69.5 19.9M-57.2 11.4Q-40.0 -20.0 -50.0 -32.0M-57.2 11.4Q-62.0 30.0 -67.0 38.0M-57.2 11.4Q-35.0 25.0 -24.0 33.0M-10.4 -20.0Q-40.0 -12.0 -49.0 -4.0M-10.4 -20.0Q5.0 -15.0 10.0 20.0M-17.9 5.8Q-30.0 -10.0 -32.0 -14.0M-17.9 5.8Q-5.0 30.0 2.0 40.0M0.5 8.0Q25.0 0.0 34.0 -12.0M10.8 20.8Q15.0 35.0 17.0 40.0M51.4 -0.4Q45.0 25.0 40.0 40.0M51.4 -0.4Q54.0 -15.0 56.0 -24.0M69.2 10.5Q45.0 10.0 30.0 10.0M69.2 10.5Q80.0 9.0 86.0 8.0" fill="none" stroke="#727275" stroke-width="1.5" stroke-linecap="round"/><path d="M-57.2 11.4Q-60.8 10.3 -64.6 9.1M-57.2 11.4Q-55.6 8.5 -52.8 7.3M-57.2 11.4Q-54.3 12.8 -50.0 14.5M-57.2 11.4Q-57.7 13.9 -57.3 17.4M-64.7 17.4Q-66.7 14.5 -70.4 11.9M-64.7 17.4Q-62.0 15.6 -60.0 13.2M-64.7 17.4Q-61.7 18.5 -58.1 18.1M-64.7 17.4Q-64.9 21.1 -66.7 23.6M-64.7 17.4Q-68.0 17.8 -71.3 19.6M-10.4 -20.0Q-8.2 -21.4 -4.8 -22.4M-10.4 -20.0Q-8.8 -17.7 -6.9 -15.4M-10.4 -20.0Q-12.2 -17.8 -15.3 -16.0M-10.4 -20.0Q-11.7 -22.6 -11.7 -26.3M-17.9 5.8Q-17.1 3.2 -17.3 -0.0M-17.9 5.8Q-15.4 5.1 -12.6 3.8M-17.9 5.8Q-16.6 9.2 -14.5 11.3M-17.9 5.8Q-20.7 8.9 -23.7 10.8M-17.9 5.8Q-20.5 3.0 -21.6 0.3M0.5 8.0Q-0.3 11.2 -0.1 14.0M0.5 8.0Q-2.4 8.5 -5.6 8.3M0.5 8.0Q0.5 4.6 1.2 1.4M0.5 8.0Q3.5 7.8 7.2 10.0M10.8 20.8Q9.4 17.5 8.4 13.9M10.8 20.8Q13.7 19.6 15.7 17.0M10.8 20.8Q13.0 22.1 16.5 22.9M10.8 20.8Q11.7 24.3 10.0 27.9M10.8 20.8Q7.9 21.5 5.5 22.4M51.4 -0.4Q51.4 -4.1 52.3 -7.0M51.4 -0.4Q54.8 -1.0 57.9 -3.2M51.4 -0.4Q53.3 2.5 55.6 4.2M51.4 -0.4Q49.3 1.9 46.1 2.7M51.4 -0.4Q49.0 -2.2 46.3 -3.5M69.2 10.5Q64.6 10.3 61.5 12.4M69.2 10.5Q67.5 7.7 67.5 3.3M69.2 10.5Q70.9 7.6 73.0 5.7M69.2 10.5Q72.2 12.3 75.9 14.2M69.2 10.5Q69.2 13.2 70.4 16.2" fill="none" stroke="#727275" stroke-width="2.0" stroke-linecap="round"/></g></g><circle cx="-57.2" cy="11.4" r="1.9" fill="#4c4c50" stroke="none" stroke-width="1" /><circle cx="-64.7" cy="17.4" r="1.9" fill="#4c4c50" stroke="none" stroke-width="1" /><circle cx="-10.4" cy="-20.0" r="1.9" fill="#4c4c50" stroke="none" stroke-width="1" /><circle cx="-17.9" cy="5.8" r="1.9" fill="#4c4c50" stroke="none" stroke-width="1" /><circle cx="0.5" cy="8.0" r="1.9" fill="#4c4c50" stroke="none" stroke-width="1" /><circle cx="10.8" cy="20.8" r="1.9" fill="#4c4c50" stroke="none" stroke-width="1" /><circle cx="51.4" cy="-0.4" r="1.9" fill="#4c4c50" stroke="none" stroke-width="1" /><circle cx="69.2" cy="10.5" r="1.9" fill="#4c4c50" stroke="none" stroke-width="1" /></g><filter id="bl1" filterUnits="userSpaceOnUse" x="960" y="600" width="260" height="660"><feGaussianBlur stdDeviation="2.4 1.7"/></filter><filter id="bl3" filterUnits="userSpaceOnUse" x="960" y="600" width="260" height="660"><feGaussianBlur stdDeviation="3 2.4"/></filter><filter id="bl2" filterUnits="userSpaceOnUse" x="960" y="600" width="260" height="660"><feGaussianBlur stdDeviation="4 5"/></filter><clipPath id="cb1"><rect x="978.4" y="631.4" width="225.8" height="319.4"/></clipPath><clipPath id="cb2"><rect x="978.4" y="966.2" width="225.8" height="117.1"/></clipPath><clipPath id="cb3"><rect x="978.4" y="1099.6" width="225.8" height="138.1"/></clipPath><filter id="lb" filterUnits="userSpaceOnUse" x="40" y="2070" width="600" height="370" color-interpolation-filters="sRGB"><feGaussianBlur stdDeviation="2.6"/><feComponentTransfer><feFuncA type="linear" slope="1.7" intercept="-0.35"/></feComponentTransfer></filter></defs>
<rect width="1961" height="2497" fill="#fff"/>
<g id="p_a"><text font-size="46.82" font-weight="bold" transform="translate(-0.96 34.48) scale(0.960 1)">a</text><text x="84.3" y="28.0" font-size="32.1" font-weight="bold" textLength="86.0" lengthAdjust="spacingAndGlyphs">Venus</text><text x="195.5" y="29.3" font-size="32.1" font-weight="bold" textLength="252.5" lengthAdjust="spacingAndGlyphs">OTUD7A-mCherry</text><circle cx="126.5" cy="73.8" r="33.0" fill="none" stroke="#161616" stroke-width="5.2" /><path d="M122.48 41.05A33.0 33.0 0 0 1 159.18 69.21" fill="none" stroke="#56b11c" stroke-width="5.2" /><polygon points="152.6,68.6 166.4,68.2 160.1,76.2" fill="#56b11c" stroke="none" stroke-width="1" /><circle cx="298.3" cy="73.8" r="33.0" fill="none" stroke="#161616" stroke-width="5.2" /><path d="M294.28 41.05A33.0 33.0 0 0 1 330.98 69.21" fill="none" stroke="#c6c6c6" stroke-width="5.2" /><polygon points="324.4,68.6 338.2,68.2 331.9,76.2" fill="#c6c6c6" stroke="none" stroke-width="1" /><path d="M166.5 90.3Q188.0 92.0 193.8 115.8" fill="none" stroke="#1a1a1a" stroke-width="2.2" stroke-linecap="round"/><polygon points="196.5,122.5 188.0,116.2 198.2,112.1" fill="#1a1a1a" stroke="none" stroke-width="1" /><path d="M257.2 90.3Q236.0 92.0 228.7 115.8" fill="none" stroke="#1a1a1a" stroke-width="2.2" stroke-linecap="round"/><polygon points="226.0,122.5 224.3,112.1 234.5,116.2" fill="#1a1a1a" stroke="none" stroke-width="1" /><use href="#dishg" transform="translate(216.5 190)"/><text x="108.0" y="314.3" font-size="26.8" font-weight="bold" textLength="209.5" lengthAdjust="spacingAndGlyphs">Human iNeurons</text><linearGradient id="gaA" gradientUnits="userSpaceOnUse" x1="348" y1="0" x2="378" y2="0"><stop offset="0" stop-color="#1a1a1a" stop-opacity="0.15"/><stop offset="1" stop-color="#1a1a1a"/></linearGradient><path d="M348 182.5L408 181.3L450.5 181.3L450.5 183.7L408 183.7Z" fill="url(#gaA)"/><polygon points="462.5,182.5 449.5,176.0 449.5,189.0" fill="#1a1a1a" stroke="none" stroke-width="1" /><text x="470.5" y="91.8" font-size="28.8" font-weight="bold" textLength="305.5" lengthAdjust="spacingAndGlyphs">Neuronal Morphology</text><path d="M572.0 145.6L575.9 144.4M570.4 141.3L566.3 143.0M568.6 137.2L572.7 135.2M566.5 133.2L562.4 135.5M564.1 129.3L567.8 126.8M561.5 125.5L557.7 128.4M558.5 121.9L560.8 119.9M573.2 146.1L577.1 145.9M572.9 142.1L568.1 142.7M572.2 138.1L576.3 137.2M571.2 134.1L566.7 135.4M570.0 130.1L573.0 129.0M568.3 126.1L564.8 127.7M566.4 122.1L569.5 120.5M574.2 146.1L578.1 146.9M574.9 142.1L570.8 141.6M575.2 138.1L578.2 138.2M575.2 134.1L571.8 134.2M574.9 130.1L578.4 129.7M574.3 126.1L569.7 127.0M573.4 122.1L577.7 120.9M575.9 147.5L578.3 149.8M578.3 144.7L574.7 142.0M580.3 141.8L583.1 143.5M582.0 138.7L578.2 137.0M583.3 135.5L586.3 136.5M584.2 132.1L581.3 131.4M584.8 128.5L589.4 129.0M580.4 143.0L582.5 145.6M582.2 141.5L580.0 138.9M583.8 140.1L587.0 143.7M585.3 138.7L582.0 135.4M586.6 137.4L589.2 139.8M587.8 136.1L584.2 132.9M588.8 134.8L592.0 137.2M570.1 149.5L571.0 145.3M566.9 148.7L566.0 152.0M563.7 147.8L565.1 143.3M560.4 146.7L559.0 150.8M557.0 145.5L558.8 141.0M553.7 144.1L551.8 148.4M550.2 142.5L551.8 139.3M561.5 143.0L563.7 140.0M559.5 141.5L557.5 144.1M557.6 140.0L559.6 137.4M555.7 138.6L553.8 141.0M553.9 137.1L556.1 134.3M552.1 135.7L549.5 138.9M550.3 134.3L552.2 131.9M560.3 146.6L559.5 142.4M559.1 146.8L559.8 150.4M557.9 147.1L557.2 143.6M556.7 147.3L557.6 151.8M555.5 147.6L554.7 143.8M554.3 147.8L555.1 151.3M553.2 148.1L552.3 144.3M526.5 182.1L525.6 177.9M521.0 183.0L521.5 186.1M515.3 183.7L514.8 178.9M509.2 184.2L509.4 187.3M502.9 184.5L502.8 180.1M496.2 184.5L496.2 189.1M489.3 184.3L489.4 181.3M528.5 176.9L532.0 174.1M525.3 173.3L522.6 175.9M521.9 170.1L524.5 167.0M518.3 167.4L516.6 169.8M514.5 165.0L516.0 162.3M510.6 163.1L509.3 166.1M506.5 161.5L508.0 157.0M529.4 184.3L526.7 182.3M526.9 187.2L530.0 190.3M524.0 189.8L521.1 186.1M520.7 192.0L523.1 196.1M517.0 193.9L515.6 190.5M513.0 195.4L514.1 198.9M508.6 196.5L507.8 192.6M524.4 192.3L520.6 189.9M522.6 194.9L525.1 196.8M520.6 197.1L517.4 194.1M518.4 199.2L521.2 202.6M516.0 200.9L513.5 197.0M513.4 202.4L514.7 205.1M510.6 203.5L509.0 199.1M517.5 166.0L519.4 163.5M516.4 165.3L514.6 168.4M515.3 164.8L516.9 160.9M514.2 164.4L513.2 169.0M513.1 164.3L513.3 160.6M511.9 164.3L512.4 169.0M510.7 164.5L509.7 160.6M577.5 210.5L573.9 210.5M577.4 215.5L581.0 215.7M577.1 220.4L573.8 220.1M576.5 225.2L579.6 225.6M575.7 229.7L572.5 229.1M574.6 234.2L578.7 235.3M573.2 238.5L568.6 236.9M579.5 206.3L577.9 209.2M581.5 207.7L583.5 205.3M583.4 209.5L579.7 212.7M585.0 211.8L588.4 209.7M586.5 214.5L583.1 216.1M587.8 217.6L591.0 216.5M588.8 221.2L584.9 222.2M574.7 206.3L572.7 202.3M572.4 207.8L574.7 210.9M570.2 209.8L567.4 207.3M568.3 212.3L570.9 214.0M566.7 215.3L562.4 213.3M565.2 218.8L568.1 219.9M564.0 222.8L560.2 221.8M568.5 204.1L568.8 199.5M566.3 204.1L566.6 207.3M564.3 204.5L563.1 200.3M562.5 205.2L564.7 209.5M560.8 206.3L558.2 203.1M559.3 207.8L562.7 210.7M558.0 209.6L555.3 207.9M578.7 225.6L575.4 227.5M580.1 228.0L582.9 226.2M581.6 230.3L577.8 232.9M583.2 232.5L586.0 230.4M584.8 234.6L581.8 237.0M586.6 236.7L590.2 233.5M588.4 238.7L585.1 241.8M589.2 214.3L587.4 218.8M590.5 214.8L592.2 211.4M591.5 215.4L589.4 218.7M592.4 216.0L595.1 212.6M593.1 216.7L590.2 219.3M593.6 217.4L596.6 215.5M593.9 218.1L590.3 219.3M566.9 218.3L563.7 219.1M567.1 219.8L570.8 219.5M567.1 221.2L562.3 220.5M566.8 222.4L571.2 224.3M566.1 223.5L562.8 220.9M565.1 224.4L567.5 227.6M563.8 225.2L562.2 222.0" fill="none" stroke="#6cc13a" stroke-width="1.3" stroke-linecap="round"/><path d="M582.2 175.7Q640.3 180.0 700.2 175.4" fill="none" stroke="#6cc13a" stroke-width="5.77" stroke-linecap="round"/><path d="M698.4 175.4Q713.3 168.8 722.7 158.5" fill="none" stroke="#6cc13a" stroke-width="4.65" stroke-linecap="round"/><path d="M722.7 158.5Q726.8 152.9 728.9 145.0" fill="none" stroke="#6cc13a" stroke-width="3.34" stroke-linecap="round"/><path d="M719.9 161.3Q719.3 155.7 718.2 151.0" fill="none" stroke="#6cc13a" stroke-width="2.96" stroke-linecap="round"/><path d="M722.7 158.5Q737.7 159.4 746.1 169.0" fill="none" stroke="#6cc13a" stroke-width="3.15" stroke-linecap="round"/><path d="M714.3 168.4Q729.3 166.9 733.6 176.9" fill="none" stroke="#6cc13a" stroke-width="2.96" stroke-linecap="round"/><path d="M698.4 175.4Q709.6 181.0 722.7 189.8" fill="none" stroke="#6cc13a" stroke-width="4.46" stroke-linecap="round"/><path d="M722.7 189.8Q735.8 187.5 744.3 181.5" fill="none" stroke="#6cc13a" stroke-width="3.15" stroke-linecap="round"/><path d="M722.7 189.8Q727.4 200.7 732.6 212.1" fill="none" stroke="#6cc13a" stroke-width="3.34" stroke-linecap="round"/><path d="M713.3 183.8Q713.7 196.9 715.2 207.4" fill="none" stroke="#6cc13a" stroke-width="2.96" stroke-linecap="round"/><path d="M574.7 168.8Q572.5 159.4 573.2 150.1" fill="none" stroke="#6cc13a" stroke-width="4.97" stroke-linecap="round"/><path d="M573.2 150.1Q569.1 133.2 556.9 120.1" fill="none" stroke="#6cc13a" stroke-width="3.07" stroke-linecap="round"/><path d="M573.2 150.1Q573.8 135.1 565.3 120.1" fill="none" stroke="#6cc13a" stroke-width="2.80" stroke-linecap="round"/><path d="M573.2 150.1Q577.5 135.1 572.8 120.1" fill="none" stroke="#6cc13a" stroke-width="2.80" stroke-linecap="round"/><path d="M573.2 150.1Q584.1 140.7 585.0 126.7" fill="none" stroke="#6cc13a" stroke-width="2.80" stroke-linecap="round"/><path d="M578.4 144.4Q585.9 138.8 589.3 134.1" fill="none" stroke="#6cc13a" stroke-width="2.26" stroke-linecap="round"/><path d="M573.2 150.1Q561.6 148.2 548.5 141.6" fill="none" stroke="#6cc13a" stroke-width="2.80" stroke-linecap="round"/><path d="M563.5 144.4Q556.0 138.8 549.4 133.6" fill="none" stroke="#6cc13a" stroke-width="2.26" stroke-linecap="round"/><path d="M561.6 146.3Q556.9 147.3 552.6 148.2" fill="none" stroke="#6cc13a" stroke-width="2.26" stroke-linecap="round"/><path d="M567.2 176.3Q550.3 178.2 531.6 181.0" fill="none" stroke="#6cc13a" stroke-width="4.70" stroke-linecap="round"/><path d="M531.6 181.0Q512.9 185.7 485.7 184.2" fill="none" stroke="#6cc13a" stroke-width="3.34" stroke-linecap="round"/><path d="M531.6 181.0Q520.4 165.1 504.4 160.9" fill="none" stroke="#6cc13a" stroke-width="3.07" stroke-linecap="round"/><path d="M531.6 181.0Q524.1 194.1 506.3 196.9" fill="none" stroke="#6cc13a" stroke-width="2.80" stroke-linecap="round"/><path d="M526.0 189.4Q520.4 200.7 509.1 204.0" fill="none" stroke="#6cc13a" stroke-width="2.53" stroke-linecap="round"/><path d="M518.5 166.9Q514.7 163.2 510.1 164.7" fill="none" stroke="#6cc13a" stroke-width="2.26" stroke-linecap="round"/><path d="M576.9 184.7Q576.6 195.0 577.3 205.3" fill="none" stroke="#6cc13a" stroke-width="4.70" stroke-linecap="round"/><path d="M577.3 205.3Q578.4 225.0 572.5 240.6" fill="none" stroke="#6cc13a" stroke-width="3.07" stroke-linecap="round"/><path d="M577.3 205.3Q585.9 208.2 589.3 223.1" fill="none" stroke="#6cc13a" stroke-width="2.80" stroke-linecap="round"/><path d="M577.3 205.3Q567.2 208.2 563.5 225.0" fill="none" stroke="#6cc13a" stroke-width="2.80" stroke-linecap="round"/><path d="M571.0 204.4Q561.6 202.5 557.5 210.6" fill="none" stroke="#6cc13a" stroke-width="2.53" stroke-linecap="round"/><path d="M577.3 223.1Q582.2 232.5 589.3 239.6" fill="none" stroke="#6cc13a" stroke-width="2.53" stroke-linecap="round"/><path d="M587.8 213.8Q593.4 215.6 594.0 218.5" fill="none" stroke="#6cc13a" stroke-width="2.26" stroke-linecap="round"/><path d="M566.3 216.6Q569.1 223.1 563.1 225.6" fill="none" stroke="#6cc13a" stroke-width="2.26" stroke-linecap="round"/><circle cx="728.9" cy="145.0" r="3.07" fill="#6cc13a" stroke="none" stroke-width="1" /><circle cx="718.2" cy="151.0" r="2.89" fill="#6cc13a" stroke="none" stroke-width="1" /><circle cx="746.1" cy="169.0" r="2.32" fill="#6cc13a" stroke="none" stroke-width="1" /><circle cx="733.6" cy="176.9" r="2.32" fill="#6cc13a" stroke="none" stroke-width="1" /><circle cx="744.3" cy="181.5" r="2.70" fill="#6cc13a" stroke="none" stroke-width="1" /><circle cx="732.6" cy="212.1" r="3.07" fill="#6cc13a" stroke="none" stroke-width="1" /><circle cx="715.2" cy="207.4" r="2.51" fill="#6cc13a" stroke="none" stroke-width="1" /><circle cx="574.7" cy="176.3" r="9.9" fill="#6cc13a" stroke="none" stroke-width="1" /><path d="M582.2 175.7Q640.3 180.0 700.2 175.4" fill="none" stroke="#8fd94f" stroke-width="4.87" stroke-linecap="round"/><path d="M698.4 175.4Q713.3 168.8 722.7 158.5" fill="none" stroke="#8fd94f" stroke-width="3.75" stroke-linecap="round"/><path d="M722.7 158.5Q726.8 152.9 728.9 145.0" fill="none" stroke="#8fd94f" stroke-width="2.44" stroke-linecap="round"/><path d="M719.9 161.3Q719.3 155.7 718.2 151.0" fill="none" stroke="#8fd94f" stroke-width="2.06" stroke-linecap="round"/><path d="M722.7 158.5Q737.7 159.4 746.1 169.0" fill="none" stroke="#8fd94f" stroke-width="2.25" stroke-linecap="round"/><path d="M714.3 168.4Q729.3 166.9 733.6 176.9" fill="none" stroke="#8fd94f" stroke-width="2.06" stroke-linecap="round"/><path d="M698.4 175.4Q709.6 181.0 722.7 189.8" fill="none" stroke="#8fd94f" stroke-width="3.56" stroke-linecap="round"/><path d="M722.7 189.8Q735.8 187.5 744.3 181.5" fill="none" stroke="#8fd94f" stroke-width="2.25" stroke-linecap="round"/><path d="M722.7 189.8Q727.4 200.7 732.6 212.1" fill="none" stroke="#8fd94f" stroke-width="2.44" stroke-linecap="round"/><path d="M713.3 183.8Q713.7 196.9 715.2 207.4" fill="none" stroke="#8fd94f" stroke-width="2.06" stroke-linecap="round"/><path d="M574.7 168.8Q572.5 159.4 573.2 150.1" fill="none" stroke="#8fd94f" stroke-width="4.07" stroke-linecap="round"/><path d="M573.2 150.1Q569.1 133.2 556.9 120.1" fill="none" stroke="#8fd94f" stroke-width="2.17" stroke-linecap="round"/><path d="M573.2 150.1Q573.8 135.1 565.3 120.1" fill="none" stroke="#8fd94f" stroke-width="1.90" stroke-linecap="round"/><path d="M573.2 150.1Q577.5 135.1 572.8 120.1" fill="none" stroke="#8fd94f" stroke-width="1.90" stroke-linecap="round"/><path d="M573.2 150.1Q584.1 140.7 585.0 126.7" fill="none" stroke="#8fd94f" stroke-width="1.90" stroke-linecap="round"/><path d="M578.4 144.4Q585.9 138.8 589.3 134.1" fill="none" stroke="#8fd94f" stroke-width="1.36" stroke-linecap="round"/><path d="M573.2 150.1Q561.6 148.2 548.5 141.6" fill="none" stroke="#8fd94f" stroke-width="1.90" stroke-linecap="round"/><path d="M563.5 144.4Q556.0 138.8 549.4 133.6" fill="none" stroke="#8fd94f" stroke-width="1.36" stroke-linecap="round"/><path d="M561.6 146.3Q556.9 147.3 552.6 148.2" fill="none" stroke="#8fd94f" stroke-width="1.36" stroke-linecap="round"/><path d="M567.2 176.3Q550.3 178.2 531.6 181.0" fill="none" stroke="#8fd94f" stroke-width="3.80" stroke-linecap="round"/><path d="M531.6 181.0Q512.9 185.7 485.7 184.2" fill="none" stroke="#8fd94f" stroke-width="2.44" stroke-linecap="round"/><path d="M531.6 181.0Q520.4 165.1 504.4 160.9" fill="none" stroke="#8fd94f" stroke-width="2.17" stroke-linecap="round"/><path d="M531.6 181.0Q524.1 194.1 506.3 196.9" fill="none" stroke="#8fd94f" stroke-width="1.90" stroke-linecap="round"/><path d="M526.0 189.4Q520.4 200.7 509.1 204.0" fill="none" stroke="#8fd94f" stroke-width="1.63" stroke-linecap="round"/><path d="M518.5 166.9Q514.7 163.2 510.1 164.7" fill="none" stroke="#8fd94f" stroke-width="1.36" stroke-linecap="round"/><path d="M576.9 184.7Q576.6 195.0 577.3 205.3" fill="none" stroke="#8fd94f" stroke-width="3.80" stroke-linecap="round"/><path d="M577.3 205.3Q578.4 225.0 572.5 240.6" fill="none" stroke="#8fd94f" stroke-width="2.17" stroke-linecap="round"/><path d="M577.3 205.3Q585.9 208.2 589.3 223.1" fill="none" stroke="#8fd94f" stroke-width="1.90" stroke-linecap="round"/><path d="M577.3 205.3Q567.2 208.2 563.5 225.0" fill="none" stroke="#8fd94f" stroke-width="1.90" stroke-linecap="round"/><path d="M571.0 204.4Q561.6 202.5 557.5 210.6" fill="none" stroke="#8fd94f" stroke-width="1.63" stroke-linecap="round"/><path d="M577.3 223.1Q582.2 232.5 589.3 239.6" fill="none" stroke="#8fd94f" stroke-width="1.63" stroke-linecap="round"/><path d="M587.8 213.8Q593.4 215.6 594.0 218.5" fill="none" stroke="#8fd94f" stroke-width="1.36" stroke-linecap="round"/><path d="M566.3 216.6Q569.1 223.1 563.1 225.6" fill="none" stroke="#8fd94f" stroke-width="1.36" stroke-linecap="round"/><circle cx="728.9" cy="145.0" r="2.62" fill="#8fd94f" stroke="none" stroke-width="1" /><circle cx="718.2" cy="151.0" r="2.44" fill="#8fd94f" stroke="none" stroke-width="1" /><circle cx="746.1" cy="169.0" r="1.87" fill="#8fd94f" stroke="none" stroke-width="1" /><circle cx="733.6" cy="176.9" r="1.87" fill="#8fd94f" stroke="none" stroke-width="1" /><circle cx="744.3" cy="181.5" r="2.25" fill="#8fd94f" stroke="none" stroke-width="1" /><circle cx="732.6" cy="212.1" r="2.62" fill="#8fd94f" stroke="none" stroke-width="1" /><circle cx="715.2" cy="207.4" r="2.06" fill="#8fd94f" stroke="none" stroke-width="1" /><circle cx="574.7" cy="176.3" r="9.4" fill="#8fd94f" stroke="none" stroke-width="1" /><path d="M561.7 175.3Q570.7 174.3 574.2 163.3Q576.7 173.3 587.7 174.8Q577.7 179.3 576.9 189.3Q572.7 179.3 561.7 178.3Z" fill="#8fd94f" stroke="none" stroke-width="1" /><circle cx="574.7" cy="176.3" r="5.3" fill="#2fa52c" stroke="none" stroke-width="1" /><circle cx="575.0" cy="176.5" r="1.5" fill="#1d7c3c" stroke="none" stroke-width="1" /></g>
<g id="p_d"><text font-size="46.12" font-weight="bold" transform="translate(881.14 34.49) scale(1.009 1)">d</text><text x="933.0" y="26.0" font-size="29.29" font-weight="bold" textLength="618.5" lengthAdjust="spacingAndGlyphs">pLV-hSYN-TurboGFP-P2A-OTUD7A-3XFLAG</text><line x1="1112.8" y1="45.2" x2="1112.8" y2="38.0" stroke="#bd8a7a" stroke-width="1.5" stroke-linecap="butt" /><circle cx="1112.8" cy="38.0" r="2.2" fill="#bd8a7a" stroke="none" stroke-width="1" /><line x1="1130.1" y1="55.2" x2="1136.4" y2="51.6" stroke="#bd8a7a" stroke-width="1.5" stroke-linecap="butt" /><circle cx="1136.4" cy="51.6" r="2.2" fill="#bd8a7a" stroke="none" stroke-width="1" /><line x1="1130.1" y1="75.2" x2="1136.4" y2="78.8" stroke="#bd8a7a" stroke-width="1.5" stroke-linecap="butt" /><circle cx="1136.4" cy="78.8" r="2.2" fill="#bd8a7a" stroke="none" stroke-width="1" /><line x1="1112.8" y1="85.2" x2="1112.8" y2="92.4" stroke="#bd8a7a" stroke-width="1.5" stroke-linecap="butt" /><circle cx="1112.8" cy="92.4" r="2.2" fill="#bd8a7a" stroke="none" stroke-width="1" /><line x1="1095.5" y1="75.2" x2="1089.2" y2="78.8" stroke="#bd8a7a" stroke-width="1.5" stroke-linecap="butt" /><circle cx="1089.2" cy="78.8" r="2.2" fill="#bd8a7a" stroke="none" stroke-width="1" /><line x1="1095.5" y1="55.2" x2="1089.2" y2="51.6" stroke="#bd8a7a" stroke-width="1.5" stroke-linecap="butt" /><circle cx="1089.2" cy="51.6" r="2.2" fill="#bd8a7a" stroke="none" stroke-width="1" /><circle cx="1112.8" cy="65.2" r="20.0" fill="#ead9d5" stroke="#bd8a7a" stroke-width="1.7" /><circle cx="1112.8" cy="65.2" r="16.6" fill="#e6d2ce" stroke="#bd8a7a" stroke-width="0.9" stroke-dasharray="1.2 0.9"/><line x1="1168.8" y1="57.4" x2="1168.8" y2="50.2" stroke="#bd8a7a" stroke-width="1.5" stroke-linecap="butt" /><circle cx="1168.8" cy="50.2" r="2.2" fill="#bd8a7a" stroke="none" stroke-width="1" /><line x1="1186.1" y1="67.4" x2="1192.4" y2="63.8" stroke="#bd8a7a" stroke-width="1.5" stroke-linecap="butt" /><circle cx="1192.4" cy="63.8" r="2.2" fill="#bd8a7a" stroke="none" stroke-width="1" /><line x1="1186.1" y1="87.4" x2="1192.4" y2="91.0" stroke="#bd8a7a" stroke-width="1.5" stroke-linecap="butt" /><circle cx="1192.4" cy="91.0" r="2.2" fill="#bd8a7a" stroke="none" stroke-width="1" /><line x1="1168.8" y1="97.4" x2="1168.8" y2="104.6" stroke="#bd8a7a" stroke-width="1.5" stroke-linecap="butt" /><circle cx="1168.8" cy="104.6" r="2.2" fill="#bd8a7a" stroke="none" stroke-width="1" /><line x1="1151.5" y1="87.4" x2="1145.2" y2="91.0" stroke="#bd8a7a" stroke-width="1.5" stroke-linecap="butt" /><circle cx="1145.2" cy="91.0" r="2.2" fill="#bd8a7a" stroke="none" stroke-width="1" /><line x1="1151.5" y1="67.4" x2="1145.2" y2="63.8" stroke="#bd8a7a" stroke-width="1.5" stroke-linecap="butt" /><circle cx="1145.2" cy="63.8" r="2.2" fill="#bd8a7a" stroke="none" stroke-width="1" /><circle cx="1168.8" cy="77.4" r="20.0" fill="#ead9d5" stroke="#bd8a7a" stroke-width="1.7" /><circle cx="1168.8" cy="77.4" r="16.6" fill="#e6d2ce" stroke="#bd8a7a" stroke-width="0.9" stroke-dasharray="1.2 0.9"/><line x1="1102.7" y1="96.2" x2="1102.7" y2="89.0" stroke="#bd8a7a" stroke-width="1.5" stroke-linecap="butt" /><circle cx="1102.7" cy="89.0" r="2.2" fill="#bd8a7a" stroke="none" stroke-width="1" /><line x1="1120.0" y1="106.2" x2="1126.3" y2="102.6" stroke="#bd8a7a" stroke-width="1.5" stroke-linecap="butt" /><circle cx="1126.3" cy="102.6" r="2.2" fill="#bd8a7a" stroke="none" stroke-width="1" /><line x1="1120.0" y1="126.2" x2="1126.3" y2="129.8" stroke="#bd8a7a" stroke-width="1.5" stroke-linecap="butt" /><circle cx="1126.3" cy="129.8" r="2.2" fill="#bd8a7a" stroke="none" stroke-width="1" /><line x1="1102.7" y1="136.2" x2="1102.7" y2="143.4" stroke="#bd8a7a" stroke-width="1.5" stroke-linecap="butt" /><circle cx="1102.7" cy="143.4" r="2.2" fill="#bd8a7a" stroke="none" stroke-width="1" /><line x1="1085.4" y1="126.2" x2="1079.1" y2="129.8" stroke="#bd8a7a" stroke-width="1.5" stroke-linecap="butt" /><circle cx="1079.1" cy="129.8" r="2.2" fill="#bd8a7a" stroke="none" stroke-width="1" /><line x1="1085.4" y1="106.2" x2="1079.1" y2="102.6" stroke="#bd8a7a" stroke-width="1.5" stroke-linecap="butt" /><circle cx="1079.1" cy="102.6" r="2.2" fill="#bd8a7a" stroke="none" stroke-width="1" /><circle cx="1102.7" cy="116.2" r="20.0" fill="#ead9d5" stroke="#bd8a7a" stroke-width="1.7" /><circle cx="1102.7" cy="116.2" r="16.6" fill="#e6d2ce" stroke="#bd8a7a" stroke-width="0.9" stroke-dasharray="1.2 0.9"/><path d="M1199.5 81.5Q1217.0 92.0 1221.2 108.0" fill="none" stroke="#1a1a1a" stroke-width="2.2" stroke-linecap="round"/><polygon points="1224.5,117.0 1214.3,107.9 1226.5,103.5" fill="#1a1a1a" stroke="none" stroke-width="1" /><use href="#dishg" transform="translate(1248.7 181.3)"/><text x="1114.0" y="307.5" font-size="26.77" font-weight="bold" textLength="302.5" lengthAdjust="spacingAndGlyphs">Mouse Cortical Neurons</text><linearGradient id="gaD" gradientUnits="userSpaceOnUse" x1="1381" y1="0" x2="1411" y2="0"><stop offset="0" stop-color="#1a1a1a" stop-opacity="0.15"/><stop offset="1" stop-color="#1a1a1a"/></linearGradient><path d="M1381 172.8L1441 171.60000000000002L1483 171.60000000000002L1483 174.0L1441 174.0Z" fill="url(#gaD)"/><polygon points="1495.0,172.8 1482.0,166.3 1482.0,179.3" fill="#1a1a1a" stroke="none" stroke-width="1" /><text x="1514.3" y="96.7" font-size="28.79" font-weight="bold" textLength="201.0" lengthAdjust="spacingAndGlyphs">Protein Levels</text><path d="M1524.0 252.0L1524.0 130.7L1524.0 125.7L1531.4 125.7L1531.4 132.2L1539.6 132.2L1539.6 125.7L1547.9 125.7L1547.9 132.2L1556.1 132.2L1556.1 125.7L1564.3 125.7L1564.3 132.2L1572.6 132.2L1572.6 125.7L1580.8 125.7L1580.8 132.2L1589.0 132.2L1589.0 125.7L1597.2 125.7L1597.2 132.2L1605.5 132.2L1605.5 125.7L1613.7 125.7L1613.7 132.2L1621.9 132.2L1621.9 125.7L1630.2 125.7L1630.2 132.2L1638.4 132.2L1638.4 125.7L1646.6 125.7L1646.6 132.2L1654.9 132.2L1654.9 125.7L1663.1 125.7L1663.1 132.2L1671.3 132.2L1671.3 125.7L1679.5 125.7L1679.5 132.2L1687.8 132.2L1687.8 125.7L1696.0 125.7L1696.0 252.0Z" fill="#ece8fb" stroke="#b78fe0" stroke-width="1.3" stroke-linejoin="round"/><line x1="1524.0" y1="128.5" x2="1696.0" y2="128.5" stroke="#d9c8f3" stroke-width="1.0" stroke-linecap="butt" /><rect x="1532.6" y="137.4" width="8.6" height="2.4" fill="#b76fd6" stroke="none" stroke-width="1" rx="1"/><rect x="1548.7" y="137.4" width="8.6" height="2.4" fill="#b76fd6" stroke="none" stroke-width="1" rx="1"/><rect x="1532.6" y="151.6" width="8.6" height="2.4" fill="#b76fd6" stroke="none" stroke-width="1" rx="1"/><rect x="1579.6" y="150.9" width="8.6" height="2.4" fill="#b76fd6" stroke="none" stroke-width="1" rx="1"/><rect x="1631.2" y="150.9" width="8.6" height="2.4" fill="#b76fd6" stroke="none" stroke-width="1" rx="1"/><rect x="1532.6" y="172.2" width="8.6" height="2.4" fill="#b76fd6" stroke="none" stroke-width="1" rx="1"/><rect x="1597.7" y="171.6" width="8.6" height="2.4" fill="#b76fd6" stroke="none" stroke-width="1" rx="1"/><rect x="1532.6" y="192.2" width="8.6" height="2.4" fill="#b76fd6" stroke="none" stroke-width="1" rx="1"/><rect x="1548.7" y="192.2" width="8.6" height="2.4" fill="#b76fd6" stroke="none" stroke-width="1" rx="1"/><rect x="1631.2" y="191.5" width="8.6" height="2.4" fill="#b76fd6" stroke="none" stroke-width="1" rx="1"/><rect x="1532.6" y="212.2" width="8.6" height="2.4" fill="#b76fd6" stroke="none" stroke-width="1" rx="1"/><rect x="1579.6" y="211.5" width="8.6" height="2.4" fill="#b76fd6" stroke="none" stroke-width="1" rx="1"/><rect x="1532.6" y="232.8" width="8.6" height="2.4" fill="#b76fd6" stroke="none" stroke-width="1" rx="1"/><rect x="1548.7" y="232.8" width="8.6" height="2.4" fill="#b76fd6" stroke="none" stroke-width="1" rx="1"/><rect x="1631.2" y="232.2" width="8.6" height="2.4" fill="#b76fd6" stroke="none" stroke-width="1" rx="1"/><rect x="1532.6" y="246.3" width="8.6" height="2.4" fill="#b76fd6" stroke="none" stroke-width="1" rx="1"/><rect x="1597.7" y="246.3" width="8.6" height="2.4" fill="#b76fd6" stroke="none" stroke-width="1" rx="1"/></g>
<g id="p_b"><text font-size="46.53" font-weight="bold" transform="translate(-0.12 371.43) scale(1.000 1)">b</text><text x="149.5" y="439.6" font-size="23.8" text-anchor="middle">Control (Fam 1)</text><text x="150.9" y="468.2" font-size="23.8" text-anchor="middle">+ mCherry</text><text x="422.0" y="439.6" font-size="23.8" text-anchor="middle">15q13.3 HET (Fam 1)</text><text x="423.4" y="468.2" font-size="23.8" text-anchor="middle">+ mCherry</text><text x="695.0" y="439.6" font-size="23.8" text-anchor="middle">15q13.3 HET (Fam 1)</text><text x="696.4" y="468.2" font-size="23.8" text-anchor="middle">+ OTUD7A-mCherry</text><path d="M144.2 630.3h1.3v1.3h-1.3zM147.5 617.4h1.1v1.1h-1.1zM77.8 618.4h1.1v1.1h-1.1zM228.7 515.2h0.8v0.8h-0.8zM54.5 692.0h1.2v1.2h-1.2zM42.4 734.6h1.4v1.4h-1.4zM194.2 644.0h0.7v0.7h-0.7zM35.7 622.5h0.6v0.6h-0.6zM79.2 551.8h0.6v0.6h-0.6zM147.1 600.8h1.3v1.3h-1.3zM160.7 650.2h1.0v1.0h-1.0zM196.3 605.0h0.8v0.8h-0.8zM279.4 737.9h1.3v1.3h-1.3zM207.5 569.9h0.8v0.8h-0.8zM103.7 509.3h1.2v1.2h-1.2zM131.3 701.1h0.9v0.9h-0.9zM269.6 701.3h0.6v0.6h-0.6zM84.0 716.8h1.0v1.0h-1.0zM275.1 590.2h0.7v0.7h-0.7zM188.1 684.3h0.8v0.8h-0.8zM53.6 574.1h1.4v1.4h-1.4zM220.0 521.1h0.8v0.8h-0.8zM57.1 506.8h1.2v1.2h-1.2zM76.1 630.1h1.0v1.0h-1.0zM79.3 672.8h0.7v0.7h-0.7zM191.6 520.8h0.9v0.9h-0.9zM84.8 558.6h1.4v1.4h-1.4zM231.2 567.1h1.3v1.3h-1.3zM84.3 589.4h1.3v1.3h-1.3zM191.2 516.8h1.4v1.4h-1.4zM84.9 555.8h1.2v1.2h-1.2zM113.6 565.2h0.7v0.7h-0.7zM54.3 635.9h0.8v0.8h-0.8zM181.1 583.8h1.0v1.0h-1.0zM269.9 611.5h1.1v1.1h-1.1zM246.9 537.2h0.7v0.7h-0.7zM257.3 694.0h0.8v0.8h-0.8zM79.1 674.6h1.4v1.4h-1.4zM80.8 726.7h1.3v1.3h-1.3zM181.7 596.1h0.7v0.7h-0.7zM41.6 729.8h0.8v0.8h-0.8zM206.7 555.5h1.3v1.3h-1.3zM179.9 564.5h0.7v0.7h-0.7zM210.6 509.0h0.8v0.8h-0.8zM170.7 702.5h1.1v1.1h-1.1zM101.5 718.6h0.8v0.8h-0.8zM36.1 558.5h1.0v1.0h-1.0zM47.0 535.5h0.9v0.9h-0.9zM173.9 524.5h0.9v0.9h-0.9zM253.0 734.2h1.1v1.1h-1.1zM203.4 636.4h0.7v0.7h-0.7zM40.7 496.4h1.3v1.3h-1.3zM205.8 729.8h0.6v0.6h-0.6zM189.8 611.1h1.2v1.2h-1.2zM111.1 738.8h0.7v0.7h-0.7zM167.4 674.0h1.3v1.3h-1.3zM214.8 665.8h1.2v1.2h-1.2zM258.9 578.9h1.1v1.1h-1.1zM255.4 707.2h0.9v0.9h-0.9zM228.1 705.3h1.1v1.1h-1.1zM187.0 586.4h1.1v1.1h-1.1zM183.0 511.8h1.1v1.1h-1.1zM278.3 709.3h1.2v1.2h-1.2zM128.3 673.6h1.1v1.1h-1.1zM141.2 699.1h0.7v0.7h-0.7zM218.1 499.4h1.1v1.1h-1.1zM151.3 548.9h1.2v1.2h-1.2zM155.3 643.8h1.3v1.3h-1.3zM95.4 494.8h0.8v0.8h-0.8zM200.2 542.0h0.7v0.7h-0.7zM256.6 655.0h1.0v1.0h-1.0zM253.1 572.8h1.1v1.1h-1.1zM81.2 598.4h1.2v1.2h-1.2zM258.7 709.4h0.9v0.9h-0.9zM176.6 570.2h0.7v0.7h-0.7zM155.1 698.8h1.3v1.3h-1.3zM208.4 726.7h0.8v0.8h-0.8zM73.9 603.3h0.8v0.8h-0.8zM85.1 594.3h1.1v1.1h-1.1zM154.5 569.9h1.3v1.3h-1.3zM275.5 603.8h0.7v0.7h-0.7zM39.8 707.6h0.6v0.6h-0.6zM207.7 632.9h0.8v0.8h-0.8zM228.3 496.7h0.7v0.7h-0.7zM144.8 498.1h1.3v1.3h-1.3zM90.9 526.8h0.6v0.6h-0.6zM188.0 602.3h1.1v1.1h-1.1zM194.5 691.4h1.4v1.4h-1.4zM201.8 541.2h1.0v1.0h-1.0zM76.3 494.7h1.0v1.0h-1.0zM209.1 536.2h0.8v0.8h-0.8zM117.7 664.2h1.0v1.0h-1.0zM184.4 678.8h0.9v0.9h-0.9zM228.4 715.8h0.7v0.7h-0.7zM263.3 670.4h0.7v0.7h-0.7zM144.5 646.5h1.3v1.3h-1.3zM125.4 632.5h1.3v1.3h-1.3zM229.6 725.2h1.0v1.0h-1.0zM193.5 542.6h1.2v1.2h-1.2zM234.9 650.5h1.2v1.2h-1.2zM84.9 714.3h1.4v1.4h-1.4zM274.4 624.6h1.2v1.2h-1.2zM111.5 716.8h1.3v1.3h-1.3zM118.4 512.4h1.0v1.0h-1.0zM168.5 681.8h1.0v1.0h-1.0zM39.0 691.9h0.7v0.7h-0.7zM230.4 534.7h0.9v0.9h-0.9zM227.4 526.7h0.7v0.7h-0.7zM160.1 670.7h1.3v1.3h-1.3zM203.0 725.6h1.0v1.0h-1.0zM267.4 513.2h0.8v0.8h-0.8zM162.6 563.7h1.2v1.2h-1.2zM190.4 621.1h1.3v1.3h-1.3zM170.9 569.0h0.9v0.9h-0.9zM241.6 714.4h0.8v0.8h-0.8zM243.0 731.2h1.0v1.0h-1.0zM174.1 541.6h1.0v1.0h-1.0zM156.8 641.5h0.6v0.6h-0.6zM272.4 619.5h0.9v0.9h-0.9zM230.7 631.0h1.0v1.0h-1.0zM203.4 508.3h1.0v1.0h-1.0zM134.6 728.3h1.3v1.3h-1.3zM98.8 608.9h0.7v0.7h-0.7zM139.6 693.5h1.3v1.3h-1.3zM150.2 570.4h0.8v0.8h-0.8zM185.2 720.5h0.7v0.7h-0.7zM225.3 497.6h0.8v0.8h-0.8zM88.4 661.7h0.9v0.9h-0.9zM120.1 645.1h0.7v0.7h-0.7zM213.3 522.3h1.0v1.0h-1.0zM94.1 540.8h1.0v1.0h-1.0zM140.3 584.8h0.9v0.9h-0.9zM163.3 531.5h0.8v0.8h-0.8zM188.6 649.7h1.0v1.0h-1.0zM243.1 643.1h1.3v1.3h-1.3zM89.7 675.0h1.2v1.2h-1.2zM255.9 570.0h0.9v0.9h-0.9zM260.8 545.9h1.4v1.4h-1.4zM252.1 525.1h0.8v0.8h-0.8zM212.2 556.1h0.7v0.7h-0.7zM238.4 596.1h1.2v1.2h-1.2zM63.2 591.5h1.1v1.1h-1.1zM36.4 541.6h1.1v1.1h-1.1zM258.0 731.2h0.7v0.7h-0.7zM157.4 679.3h1.0v1.0h-1.0zM202.0 538.7h0.7v0.7h-0.7zM58.3 501.2h1.0v1.0h-1.0zM159.7 632.5h0.7v0.7h-0.7zM77.8 542.4h1.3v1.3h-1.3zM277.6 720.9h0.7v0.7h-0.7z" fill="#000" fill-opacity="0.35"/><path d="M74.5 489.8C74.7 491.1 75.2 494.7 75.6 497.4C76.0 500.1 75.6 504.1 76.9 506.1C78.2 508.1 80.3 508.3 83.2 509.2C86.1 510.2 91.1 510.3 94.3 511.6C97.5 512.9 99.8 515.5 102.2 517.1C104.6 518.8 105.9 520.1 108.5 521.4C111.2 522.7 114.8 523.4 118.0 525.1C121.2 526.7 125.1 529.4 127.5 531.4C129.9 533.4 130.9 534.9 132.2 536.9C133.6 538.9 134.2 541.1 135.4 543.2C136.6 545.3 138.8 547.2 139.3 549.6C139.9 551.9 138.9 554.8 138.6 557.5C138.2 560.1 137.0 562.7 137.3 565.4C137.6 568.0 138.9 572.6 140.1 573.3C141.4 573.9 143.3 570.5 144.9 569.3C146.5 568.1 147.8 566.6 149.6 566.2C151.5 565.7 153.3 566.1 155.9 566.6C158.6 567.2 161.7 568.6 165.4 569.3C169.1 570.0 173.9 570.0 178.1 570.9C182.3 571.8 186.8 574.4 190.7 574.5C194.7 574.7 198.1 572.4 201.8 571.7C205.5 570.9 208.9 569.8 212.9 570.1C216.8 570.4 221.8 571.7 225.5 573.3C229.2 574.8 232.4 577.2 235.0 579.6C237.6 582.0 239.7 585.1 241.3 587.5C242.9 589.9 243.2 591.7 244.5 593.8C245.8 595.9 248.4 599.1 249.2 600.1" fill="none" stroke="#000" stroke-width="1.0" stroke-linecap="round" stroke-linejoin="round" stroke-opacity="0.85"/><path d="M249.2 600.1C250.0 601.7 252.4 606.2 254.0 609.6C255.5 613.0 257.2 617.0 258.7 620.7C260.1 624.4 261.7 628.3 262.6 631.8C263.6 635.2 264.2 637.6 264.2 641.2C264.2 644.9 263.6 649.7 262.6 653.9C261.7 658.1 259.8 662.6 258.7 666.5C257.6 670.5 257.4 673.9 256.3 677.6C255.3 681.3 254.0 685.1 252.4 688.7C250.8 692.2 247.8 697.2 246.8 698.9" fill="none" stroke="#000" stroke-width="0.9" stroke-linecap="round" stroke-linejoin="round" stroke-opacity="0.55" stroke-dasharray="3 1.2"/><path d="M142.5 607.3C144.0 607.3 148.4 606.6 151.2 607.3C154.0 607.9 156.2 610.0 159.1 611.2C162.0 612.4 165.2 613.2 168.6 614.4C172.0 615.6 176.5 616.7 179.7 618.3C182.8 619.9 185.6 621.6 187.6 623.9C189.5 626.1 190.3 629.1 191.5 631.8C192.7 634.4 193.4 637.6 194.7 639.7C196.0 641.8 198.2 642.3 199.4 644.4C200.6 646.5 201.1 649.4 201.8 652.3C202.4 655.2 202.1 658.6 203.4 661.8C204.7 665.0 207.7 667.8 209.7 671.3C211.7 674.7 212.9 678.4 215.2 682.3C217.6 686.3 221.2 690.5 223.9 695.0C226.7 699.5 228.9 705.5 231.8 709.2C234.7 712.9 237.9 714.9 241.3 717.1C244.7 719.4 248.7 720.8 252.4 722.6C256.1 724.5 260.0 725.9 263.4 728.2C266.9 730.4 270.3 734.0 272.9 736.1C275.6 738.2 278.2 740.0 279.2 740.8" fill="none" stroke="#000" stroke-width="1.2" stroke-linecap="round" stroke-linejoin="round" stroke-opacity="0.9"/><ellipse cx="137.8" cy="603.6" rx="5.4" ry="6.8" fill="#000" stroke="none" stroke-width="1" transform="rotate(15 137.8 603.6)"/><path d="M138.6 597.8C139.0 596.3 140.5 591.8 140.9 589.1C141.4 586.3 142.1 583.5 141.4 581.2C140.7 578.8 139.0 576.6 137.0 574.8C134.9 573.1 130.4 571.2 129.1 570.4" fill="none" stroke="#000" stroke-width="1.2" stroke-linecap="round" stroke-linejoin="round"/><path d="M133.0 601.7C132.4 600.4 130.7 595.9 129.1 593.8C127.5 591.7 125.6 590.0 123.5 589.1C121.4 588.2 117.9 589.6 116.4 588.3C115.0 587.0 115.1 582.4 114.8 581.2" fill="none" stroke="#000" stroke-width="1.2" stroke-linecap="round" stroke-linejoin="round"/><path d="M133.0 604.9C132.1 604.6 129.2 604.5 127.5 603.3C125.8 602.1 124.2 599.6 122.8 597.8C121.3 595.9 119.8 593.8 118.8 592.2C117.8 590.7 117.1 588.9 116.7 588.3" fill="none" stroke="#000" stroke-width="1.2" stroke-linecap="round" stroke-linejoin="round"/><path d="M143.3 602.5C144.6 602.3 148.6 601.5 151.2 601.4C153.8 601.3 157.8 601.7 159.1 601.7" fill="none" stroke="#000" stroke-width="1.2" stroke-linecap="round" stroke-linejoin="round"/><path d="M137.8 610.4C137.8 612.1 137.1 617.9 138.2 620.7C139.4 623.5 142.7 624.8 144.9 627.0C147.0 629.3 149.4 631.5 151.2 634.1C153.0 636.8 154.6 639.8 155.9 642.8C157.3 645.8 158.6 649.7 159.1 652.3C159.6 654.9 158.6 656.4 159.1 658.6C159.6 660.9 161.1 662.8 162.3 665.7C163.5 668.6 165.6 674.3 166.2 676.0" fill="none" stroke="#000" stroke-width="1.56" stroke-linecap="round" stroke-linejoin="round"/><path d="M159.1 658.6C158.6 658.5 156.6 656.5 156.3 657.8C155.9 659.2 156.9 663.8 157.2 666.5C157.6 669.3 158.5 672.2 158.3 674.4C158.1 676.7 156.3 679.0 155.9 680.0" fill="none" stroke="#000" stroke-width="1.2" stroke-linecap="round" stroke-linejoin="round"/><path d="M138.6 621.5C139.1 622.9 140.5 626.9 141.7 630.2C142.9 633.5 145.0 639.4 145.7 641.2" fill="none" stroke="#000" stroke-width="1.2" stroke-linecap="round" stroke-linejoin="round"/><path d="M140.1 619.9C141.2 620.3 144.2 621.5 146.5 622.3C148.7 623.1 152.4 624.2 153.6 624.6" fill="none" stroke="#000" stroke-width="1.2" stroke-linecap="round" stroke-linejoin="round"/><path d="M144.1 618.3L150.4 618.3" fill="none" stroke="#000" stroke-width="1.0" stroke-linecap="round" stroke-linejoin="round"/><path d="M155.9 639.7C157.0 640.2 160.2 641.5 162.3 642.8C164.4 644.1 166.9 645.5 168.6 647.6C170.3 649.7 171.2 652.8 172.5 655.5C173.9 658.1 175.8 662.1 176.5 663.4" fill="none" stroke="#000" stroke-width="0.8" stroke-linecap="round" stroke-linejoin="round" stroke-opacity="0.4"/><path d="M159.1 649.9L165.4 654.7" fill="none" stroke="#000" stroke-width="1.0" stroke-linecap="round" stroke-linejoin="round"/><path d="M95.1 581.2L103.8 584.0" fill="none" stroke="#000" stroke-width="1.0" stroke-linecap="round" stroke-linejoin="round" stroke-opacity="0.7"/><circle cx="198.9" cy="644.1" r="2.3" fill="#000" stroke="none" stroke-width="1" /><polygon points="262.6,574.8 270.6,570.9 271.3,578.8 264.2,581.2" fill="#1a1a1a" stroke="none" stroke-width="1" /><circle cx="54.8" cy="509.7" r="1.0" fill="#000" stroke="none" stroke-width="1" fill-opacity="0.85"/><circle cx="244.8" cy="502.4" r="1.0" fill="#000" stroke="none" stroke-width="1" fill-opacity="0.85"/><circle cx="242.6" cy="556.2" r="1.0" fill="#000" stroke="none" stroke-width="1" fill-opacity="0.85"/><circle cx="57.1" cy="547.2" r="1.0" fill="#000" stroke="none" stroke-width="1" fill-opacity="0.85"/><circle cx="85.1" cy="549.6" r="1.0" fill="#000" stroke="none" stroke-width="1" fill-opacity="0.85"/><circle cx="110.9" cy="603.3" r="1.0" fill="#000" stroke="none" stroke-width="1" fill-opacity="0.85"/><circle cx="61.9" cy="678.7" r="1.0" fill="#000" stroke="none" stroke-width="1" fill-opacity="0.85"/><circle cx="231.8" cy="709.2" r="1.0" fill="#000" stroke="none" stroke-width="1" fill-opacity="0.85"/><circle cx="166.2" cy="676.0" r="1.0" fill="#000" stroke="none" stroke-width="1" fill-opacity="0.85"/><circle cx="130.7" cy="609.9" r="1.0" fill="#000" stroke="none" stroke-width="1" fill-opacity="0.85"/><circle cx="126.2" cy="614.4" r="1.0" fill="#000" stroke="none" stroke-width="1" fill-opacity="0.85"/><circle cx="153.6" cy="526.6" r="1.0" fill="#000" stroke="none" stroke-width="1" fill-opacity="0.85"/><path d="M31.1 546.4C32.1 544.4 34.8 536.6 37.4 534.5C40.0 532.4 43.7 533.4 46.9 533.7C50.0 534.1 53.7 536.5 56.4 536.9C59.0 537.3 61.6 536.2 62.7 536.1" fill="none" stroke="#000" stroke-width="0.8" stroke-linecap="round" stroke-linejoin="round" stroke-opacity="0.3" stroke-dasharray="2 2"/><path d="M102.2 721.9C104.3 719.5 110.1 710.3 114.8 707.6C119.6 705.0 126.2 707.4 130.7 706.1C135.1 704.7 138.3 701.7 141.7 699.7C145.1 697.8 149.6 695.1 151.2 694.2" fill="none" stroke="#000" stroke-width="0.8" stroke-linecap="round" stroke-linejoin="round" stroke-opacity="0.3" stroke-dasharray="2 2"/><rect x="29.2" y="489.2" width="253.4" height="252.4" fill="none" stroke="#231f20" stroke-width="1.7" /><path d="M312.4 727.0h1.0v1.0h-1.0zM486.7 572.7h1.0v1.0h-1.0zM424.8 598.2h1.1v1.1h-1.1zM300.3 665.2h1.3v1.3h-1.3zM342.0 604.1h1.2v1.2h-1.2zM397.5 540.2h0.7v0.7h-0.7zM424.1 495.8h1.3v1.3h-1.3zM495.8 666.1h1.3v1.3h-1.3zM453.1 591.9h1.1v1.1h-1.1zM422.1 734.7h1.2v1.2h-1.2zM361.0 717.1h1.2v1.2h-1.2zM489.9 693.2h0.9v0.9h-0.9zM519.3 709.3h1.2v1.2h-1.2zM487.3 681.0h0.9v0.9h-0.9zM476.2 509.4h0.9v0.9h-0.9zM413.3 494.6h0.9v0.9h-0.9zM455.4 646.1h0.8v0.8h-0.8zM531.3 656.5h0.9v0.9h-0.9zM460.6 632.7h1.0v1.0h-1.0zM393.6 739.0h1.1v1.1h-1.1zM470.9 680.1h1.4v1.4h-1.4zM302.7 644.0h1.2v1.2h-1.2zM360.6 591.2h0.6v0.6h-0.6zM345.5 584.8h0.7v0.7h-0.7zM359.2 715.7h1.0v1.0h-1.0zM422.9 730.9h1.1v1.1h-1.1zM543.8 649.6h1.2v1.2h-1.2zM315.9 639.6h1.2v1.2h-1.2zM308.2 721.7h0.7v0.7h-0.7zM414.0 533.8h1.0v1.0h-1.0zM448.6 506.5h1.4v1.4h-1.4zM401.3 622.1h1.1v1.1h-1.1zM387.7 562.6h1.1v1.1h-1.1zM436.0 562.0h1.2v1.2h-1.2zM370.4 495.5h0.8v0.8h-0.8zM307.6 530.7h1.2v1.2h-1.2zM393.7 713.7h1.2v1.2h-1.2zM309.4 736.2h1.4v1.4h-1.4zM315.2 715.7h0.9v0.9h-0.9zM415.4 732.4h0.8v0.8h-0.8zM426.8 723.5h1.2v1.2h-1.2zM413.2 733.8h1.3v1.3h-1.3zM446.7 520.4h1.1v1.1h-1.1zM410.0 542.3h0.6v0.6h-0.6zM428.0 522.7h1.0v1.0h-1.0zM462.6 604.5h0.8v0.8h-0.8zM441.4 595.6h1.2v1.2h-1.2zM428.6 738.4h1.4v1.4h-1.4zM479.1 550.9h0.7v0.7h-0.7zM518.4 685.7h1.1v1.1h-1.1zM386.1 559.1h1.1v1.1h-1.1zM437.1 638.1h1.1v1.1h-1.1zM483.8 538.9h0.8v0.8h-0.8zM540.0 718.2h1.3v1.3h-1.3zM306.8 507.0h0.8v0.8h-0.8zM402.4 646.0h0.7v0.7h-0.7zM431.3 509.9h0.7v0.7h-0.7zM464.7 628.0h1.1v1.1h-1.1zM389.5 610.2h0.8v0.8h-0.8zM382.2 676.0h1.3v1.3h-1.3zM315.4 521.6h1.2v1.2h-1.2zM451.7 681.9h0.8v0.8h-0.8zM402.2 555.7h1.2v1.2h-1.2zM388.5 653.5h1.4v1.4h-1.4zM377.7 627.5h1.2v1.2h-1.2zM525.4 597.6h0.9v0.9h-0.9zM321.1 708.2h0.7v0.7h-0.7zM317.6 631.4h1.0v1.0h-1.0zM467.0 565.8h1.2v1.2h-1.2zM315.9 544.7h1.1v1.1h-1.1zM317.3 567.0h1.2v1.2h-1.2zM469.1 561.9h0.7v0.7h-0.7zM385.7 671.3h0.9v0.9h-0.9zM326.1 667.2h1.1v1.1h-1.1zM524.8 724.2h1.3v1.3h-1.3zM405.6 690.4h0.8v0.8h-0.8zM375.8 590.7h1.3v1.3h-1.3zM518.9 553.3h0.9v0.9h-0.9zM387.7 581.7h0.9v0.9h-0.9zM393.1 540.2h1.1v1.1h-1.1zM494.7 625.5h1.3v1.3h-1.3zM436.6 535.6h1.2v1.2h-1.2zM515.5 561.5h0.6v0.6h-0.6zM424.9 626.4h1.1v1.1h-1.1zM536.7 652.8h1.2v1.2h-1.2zM312.9 627.1h1.2v1.2h-1.2zM317.8 512.2h1.2v1.2h-1.2zM520.0 512.9h1.1v1.1h-1.1zM332.7 676.2h1.1v1.1h-1.1zM357.9 546.5h1.2v1.2h-1.2zM426.3 680.9h0.9v0.9h-0.9zM380.8 731.2h1.1v1.1h-1.1zM419.4 624.7h1.2v1.2h-1.2zM472.6 718.0h0.9v0.9h-0.9zM501.9 656.7h1.3v1.3h-1.3zM496.9 698.0h1.3v1.3h-1.3zM534.5 650.1h1.0v1.0h-1.0zM473.1 690.2h0.9v0.9h-0.9zM401.3 528.1h1.2v1.2h-1.2zM542.8 584.8h0.7v0.7h-0.7zM347.7 597.0h0.8v0.8h-0.8zM537.5 506.6h0.8v0.8h-0.8zM325.5 652.1h1.2v1.2h-1.2zM341.5 507.4h1.0v1.0h-1.0zM441.8 716.6h0.6v0.6h-0.6zM324.0 537.6h0.8v0.8h-0.8zM355.4 669.2h1.1v1.1h-1.1zM352.5 537.7h0.8v0.8h-0.8zM339.8 679.1h0.8v0.8h-0.8zM433.0 693.8h1.0v1.0h-1.0zM361.6 711.2h1.3v1.3h-1.3zM381.8 627.2h1.4v1.4h-1.4zM416.7 546.6h0.6v0.6h-0.6zM532.0 690.0h0.9v0.9h-0.9zM427.8 619.4h0.8v0.8h-0.8zM542.6 654.4h0.8v0.8h-0.8zM299.7 608.7h0.9v0.9h-0.9zM494.6 668.2h1.1v1.1h-1.1zM336.0 530.8h0.9v0.9h-0.9zM361.3 706.7h1.0v1.0h-1.0zM455.0 737.3h0.8v0.8h-0.8zM429.6 529.2h1.2v1.2h-1.2zM297.3 694.9h1.3v1.3h-1.3zM500.9 512.4h0.8v0.8h-0.8zM474.7 516.0h1.0v1.0h-1.0zM413.2 728.0h1.1v1.1h-1.1zM509.6 567.0h1.2v1.2h-1.2zM400.4 718.4h0.7v0.7h-0.7zM501.9 543.5h1.0v1.0h-1.0zM427.4 530.9h1.3v1.3h-1.3zM374.2 568.8h0.7v0.7h-0.7zM372.8 607.4h1.2v1.2h-1.2zM386.2 661.7h0.7v0.7h-0.7zM394.8 606.1h1.4v1.4h-1.4zM502.8 653.5h0.6v0.6h-0.6zM390.5 667.4h0.8v0.8h-0.8zM436.9 605.1h0.6v0.6h-0.6zM542.9 689.5h0.8v0.8h-0.8zM449.8 563.7h0.9v0.9h-0.9zM430.9 565.7h0.9v0.9h-0.9zM394.3 656.7h0.8v0.8h-0.8zM346.6 672.7h0.9v0.9h-0.9zM531.4 631.0h1.2v1.2h-1.2zM379.3 696.2h0.7v0.7h-0.7zM331.9 515.3h1.1v1.1h-1.1zM472.7 536.4h0.9v0.9h-0.9zM504.6 638.4h0.7v0.7h-0.7zM353.2 530.8h0.7v0.7h-0.7zM397.9 510.0h1.3v1.3h-1.3zM402.9 618.4h1.1v1.1h-1.1z" fill="#000" fill-opacity="0.35"/><path d="M294.8 525.5C297.1 527.0 303.8 531.5 308.7 534.5C313.7 537.6 319.8 541.1 324.5 544.0C329.3 546.9 334.0 549.7 337.2 551.9C340.3 554.2 340.9 555.9 343.5 557.5C346.1 559.0 349.8 560.4 353.0 561.4C356.1 562.5 360.1 562.5 362.5 563.8C364.8 565.1 365.4 567.5 367.2 569.3C369.0 571.2 371.2 573.3 373.5 574.8C375.9 576.4 378.3 577.8 381.4 578.8C384.6 579.8 388.8 580.7 392.5 580.9C396.2 581.0 400.4 580.6 403.6 579.9C406.7 579.2 409.7 578.1 411.5 576.4C413.2 574.8 412.5 572.3 413.8 570.1C415.2 567.9 417.1 565.8 419.4 563.0C421.6 560.2 424.4 556.0 427.3 553.5C430.2 551.0 433.1 548.9 436.8 548.0C440.4 547.1 445.7 548.9 449.4 548.0C453.1 547.1 455.7 544.7 458.9 542.4C462.0 540.2 464.7 536.4 468.4 534.5C472.1 532.7 476.8 532.0 481.0 531.4C485.2 530.7 489.7 531.0 493.7 530.6C497.6 530.1 501.3 528.6 504.7 528.7C508.2 528.8 511.4 530.0 514.2 531.4C517.0 532.7 519.7 534.4 521.3 536.9C522.9 539.4 522.5 543.0 523.7 546.4C524.9 549.8 526.3 554.2 528.4 557.5C530.5 560.8 534.0 564.3 536.3 566.2C538.7 568.0 541.6 566.5 542.7 568.5C543.7 570.5 543.3 574.8 542.7 578.0C542.0 581.2 539.2 584.6 538.7 587.5C538.2 590.4 540.7 592.2 539.5 595.4C538.3 598.6 533.7 602.5 531.6 606.5C529.5 610.4 527.9 614.9 526.9 619.1C525.8 623.3 526.3 627.5 525.3 631.8C524.2 636.0 521.5 640.4 520.5 644.4C519.6 648.4 519.2 651.8 519.7 655.5C520.3 659.2 522.5 662.6 523.7 666.5C524.9 670.5 526.2 674.7 526.9 679.2C527.5 683.7 527.6 688.7 527.6 693.4C527.6 698.1 527.5 703.2 526.9 707.6C526.2 712.1 525.5 717.0 523.7 720.3C521.9 723.6 519.2 726.1 515.8 727.4C512.4 728.7 507.4 727.8 503.1 728.2C498.9 728.6 493.9 730.0 490.5 729.8C487.1 729.5 485.0 728.2 482.6 726.6C480.2 725.0 478.4 721.2 476.3 720.3C474.2 719.4 471.8 720.4 470.0 721.1C468.1 721.7 466.0 723.7 465.2 724.2" fill="none" stroke="#000" stroke-width="0.9" stroke-linecap="round" stroke-linejoin="round" stroke-opacity="0.75"/><path d="M406.7 635.7C407.0 636.6 407.0 639.4 408.3 641.2C409.6 643.1 412.3 645.2 414.6 646.8C417.0 648.4 420.8 650.3 422.5 650.7C424.2 651.1 424.2 648.7 424.9 649.1C425.6 649.5 424.5 651.8 426.5 653.1C428.5 654.4 434.0 656.1 436.8 657.0C439.5 658.0 441.0 656.8 443.1 658.6C445.2 660.5 447.3 664.4 449.4 668.1C451.5 671.8 453.4 676.8 455.7 680.8C458.1 684.7 461.3 688.7 463.6 691.8C466.0 695.0 468.1 697.4 470.0 699.7C471.8 702.1 474.4 703.7 474.7 706.1C475.0 708.4 472.8 711.3 471.5 714.0C470.2 716.6 467.6 720.5 466.8 721.9" fill="none" stroke="#000" stroke-width="0.9" stroke-linecap="round" stroke-linejoin="round" stroke-opacity="0.8"/><path d="M405.1 634.1C405.9 633.2 408.4 630.4 409.9 628.6C411.4 626.7 413.6 624.0 414.3 623.1" fill="none" stroke="#000" stroke-width="1.87" stroke-linecap="round" stroke-linejoin="round"/><path d="M414.3 623.1C416.5 621.1 422.5 614.8 427.3 611.2C432.1 607.6 437.8 605.1 443.1 601.7C448.3 598.3 456.3 592.5 458.9 590.7" fill="none" stroke="#000" stroke-width="1.44" stroke-linecap="round" stroke-linejoin="round"/><path d="M458.9 590.7C461.0 589.1 467.6 583.8 471.5 581.2C475.5 578.5 479.4 576.4 482.6 574.8C485.8 573.3 489.2 572.5 490.5 572.0" fill="none" stroke="#000" stroke-width="1.2" stroke-linecap="round" stroke-linejoin="round"/><ellipse cx="414.6" cy="622.7" rx="4.6" ry="2.7" fill="#000" stroke="none" stroke-width="1" transform="rotate(-48 414.6 622.7)"/><path d="M403.6 628.6C404.1 629.1 406.3 630.2 406.7 631.8C407.1 633.3 406.1 637.0 405.9 638.1" fill="none" stroke="#000" stroke-width="1.3" stroke-linecap="round" stroke-linejoin="round" stroke-opacity="0.9" stroke-dasharray="1.5 1"/><path d="M419.4 620.7C422.0 619.6 430.7 616.1 435.2 614.4C439.7 612.7 442.3 611.5 446.2 610.4C450.2 609.4 454.1 608.0 458.9 608.0C463.6 608.1 469.7 611.0 474.7 610.9C479.7 610.8 486.5 607.9 488.9 607.3" fill="none" stroke="#000" stroke-width="0.8" stroke-linecap="round" stroke-linejoin="round" stroke-opacity="0.4" stroke-dasharray="3 1.5"/><path d="M398.8 608.0C397.8 609.9 392.5 616.7 392.5 619.1C392.5 621.5 396.2 622.3 398.8 622.3C401.5 622.3 406.7 619.6 408.3 619.1" fill="none" stroke="#000" stroke-width="0.7" stroke-linecap="round" stroke-linejoin="round" stroke-opacity="0.35"/><polygon points="338.0,489.8 357.7,489.8 355.3,497.4 354.6,506.9 352.2,507.7 348.2,499.0 342.7,495.0" fill="#0a0a0a" stroke="none" stroke-width="1" /><path d="M354.6 495.8L356.9 504.5" fill="none" stroke="#000" stroke-width="1.2" stroke-linecap="round" stroke-linejoin="round"/><path d="M367.2 490.7L381.4 491.4" fill="none" stroke="#000" stroke-width="1.58" stroke-linecap="round" stroke-linejoin="round"/><path d="M383.0 492.6C385.1 493.4 391.6 495.8 395.7 497.4C399.7 499.0 405.5 501.6 407.5 502.4" fill="none" stroke="#000" stroke-width="1.2" stroke-linecap="round" stroke-linejoin="round"/><ellipse cx="411.0" cy="503.7" rx="3.2" ry="2.6" fill="none" stroke="#000" stroke-width="1.2" /><path d="M351.4 511.6C351.7 513.7 352.8 520.6 353.0 524.3C353.1 528.0 353.8 531.1 352.2 533.7C350.6 536.4 345.2 537.4 343.5 540.1C341.8 542.7 341.8 545.9 341.9 549.6C342.0 553.2 342.8 558.8 344.3 562.2C345.7 565.6 349.5 568.8 350.6 570.1" fill="none" stroke="#000" stroke-width="1.2" stroke-linecap="round" stroke-linejoin="round" stroke-opacity="0.8" stroke-dasharray="1.5 3"/><path d="M349.0 534.5C349.9 534.1 352.6 532.7 354.6 532.2C356.5 531.6 359.8 531.5 360.9 531.4" fill="none" stroke="#000" stroke-width="1.2" stroke-linecap="round" stroke-linejoin="round" stroke-opacity="0.9" stroke-dasharray="2 1.5"/><path d="M357.7 539.8C359.8 539.7 365.6 539.1 370.4 539.3C375.1 539.5 380.6 540.8 386.2 540.9C391.7 540.9 398.6 540.0 403.6 539.8C408.6 539.5 414.1 539.4 416.2 539.3" fill="none" stroke="#000" stroke-width="0.8" stroke-linecap="round" stroke-linejoin="round" stroke-opacity="0.25" stroke-dasharray="3 2"/><path d="M442.3 525.8C444.0 525.1 448.7 522.6 452.6 521.4C456.4 520.2 461.3 519.7 465.2 518.7C469.2 517.8 474.4 516.1 476.3 515.6" fill="none" stroke="#000" stroke-width="0.8" stroke-linecap="round" stroke-linejoin="round" stroke-opacity="0.25" stroke-dasharray="3 2"/><circle cx="371.6" cy="696.3" r="2.4" fill="#000" stroke="none" stroke-width="1" /><circle cx="376.4" cy="696.9" r="2.2" fill="#000" stroke="none" stroke-width="1" /><circle cx="373.5" cy="696.6" r="5.5" fill="#000" stroke="none" stroke-width="1" fill-opacity="0.25"/><circle cx="467.6" cy="541.7" r="1.0" fill="#000" stroke="none" stroke-width="1" fill-opacity="0.85"/><circle cx="502.4" cy="551.5" r="1.0" fill="#000" stroke="none" stroke-width="1" fill-opacity="0.85"/><circle cx="350.6" cy="615.5" r="1.0" fill="#000" stroke="none" stroke-width="1" fill-opacity="0.85"/><circle cx="366.4" cy="637.6" r="1.0" fill="#000" stroke="none" stroke-width="1" fill-opacity="0.85"/><circle cx="435.2" cy="733.2" r="1.0" fill="#000" stroke="none" stroke-width="1" fill-opacity="0.85"/><circle cx="303.2" cy="543.2" r="1.0" fill="#000" stroke="none" stroke-width="1" fill-opacity="0.85"/><circle cx="356.9" cy="591.0" r="1.0" fill="#000" stroke="none" stroke-width="1" fill-opacity="0.85"/><circle cx="466.8" cy="722.6" r="1.0" fill="#000" stroke="none" stroke-width="1" fill-opacity="0.85"/><rect x="294.2" y="489.2" width="252.8" height="252.4" fill="none" stroke="#231f20" stroke-width="1.7" /><path d="M747.9 694.8h0.9v0.9h-0.9zM639.5 593.8h0.6v0.6h-0.6zM656.8 664.9h1.4v1.4h-1.4zM753.6 655.1h1.1v1.1h-1.1zM561.6 573.8h0.9v0.9h-0.9zM719.0 518.3h0.9v0.9h-0.9zM683.8 686.8h1.3v1.3h-1.3zM709.2 531.1h1.2v1.2h-1.2zM781.8 627.4h0.9v0.9h-0.9zM681.6 527.0h1.2v1.2h-1.2zM802.7 619.5h1.2v1.2h-1.2zM765.0 540.7h1.4v1.4h-1.4zM713.2 540.9h0.7v0.7h-0.7zM617.9 634.4h1.2v1.2h-1.2zM639.0 721.5h0.9v0.9h-0.9zM672.3 522.6h1.4v1.4h-1.4zM590.8 715.3h1.0v1.0h-1.0zM696.6 630.4h0.8v0.8h-0.8zM783.4 737.1h1.3v1.3h-1.3zM706.8 522.3h1.3v1.3h-1.3zM628.9 713.6h0.8v0.8h-0.8zM699.8 697.2h0.7v0.7h-0.7zM693.4 510.8h0.6v0.6h-0.6zM601.8 735.8h1.4v1.4h-1.4zM720.9 568.0h1.1v1.1h-1.1zM740.7 586.3h1.1v1.1h-1.1zM757.2 496.0h0.8v0.8h-0.8zM673.5 527.3h0.9v0.9h-0.9zM698.8 534.9h1.0v1.0h-1.0zM622.7 632.3h0.9v0.9h-0.9zM716.8 501.4h1.1v1.1h-1.1zM593.0 729.0h1.1v1.1h-1.1zM674.0 593.6h1.1v1.1h-1.1zM728.6 679.2h1.2v1.2h-1.2zM678.0 737.7h1.3v1.3h-1.3zM769.9 593.0h0.9v0.9h-0.9zM697.9 715.6h1.0v1.0h-1.0zM687.7 598.8h1.3v1.3h-1.3zM636.9 505.5h1.2v1.2h-1.2zM781.1 672.8h1.1v1.1h-1.1zM744.2 567.3h1.1v1.1h-1.1zM574.4 522.7h1.0v1.0h-1.0zM682.2 590.0h0.6v0.6h-0.6zM730.0 622.0h0.8v0.8h-0.8zM633.3 589.7h0.8v0.8h-0.8zM574.0 717.1h1.4v1.4h-1.4zM722.8 706.0h0.9v0.9h-0.9zM757.5 546.8h1.2v1.2h-1.2zM698.1 715.1h0.7v0.7h-0.7zM754.3 522.6h1.0v1.0h-1.0zM793.8 492.1h0.8v0.8h-0.8zM631.5 572.2h0.7v0.7h-0.7zM779.9 693.4h0.9v0.9h-0.9zM645.8 636.6h0.6v0.6h-0.6zM564.8 713.9h0.8v0.8h-0.8zM681.1 722.7h1.4v1.4h-1.4zM674.7 543.0h0.8v0.8h-0.8zM786.7 713.5h0.8v0.8h-0.8zM765.6 579.5h1.0v1.0h-1.0zM599.8 709.3h1.4v1.4h-1.4zM607.3 648.2h0.8v0.8h-0.8zM776.2 504.4h0.7v0.7h-0.7zM737.7 569.3h1.3v1.3h-1.3zM773.5 668.1h0.7v0.7h-0.7zM730.3 723.6h1.0v1.0h-1.0zM576.7 547.1h0.8v0.8h-0.8zM733.9 540.5h0.7v0.7h-0.7zM615.6 656.2h1.2v1.2h-1.2zM649.8 655.5h1.3v1.3h-1.3zM703.9 548.6h0.8v0.8h-0.8zM787.8 656.8h0.8v0.8h-0.8zM716.3 514.2h1.4v1.4h-1.4zM666.6 622.5h1.0v1.0h-1.0zM568.3 640.1h0.8v0.8h-0.8zM619.5 690.4h0.7v0.7h-0.7zM628.0 678.7h0.8v0.8h-0.8zM626.5 627.4h0.7v0.7h-0.7zM780.4 736.0h0.6v0.6h-0.6zM671.9 677.4h0.9v0.9h-0.9zM788.4 615.5h0.7v0.7h-0.7zM695.4 651.3h0.9v0.9h-0.9zM720.9 685.4h1.0v1.0h-1.0zM682.9 700.8h1.1v1.1h-1.1zM686.6 727.0h0.7v0.7h-0.7zM751.1 532.8h1.1v1.1h-1.1zM615.6 600.8h1.2v1.2h-1.2zM752.9 687.4h0.8v0.8h-0.8zM678.8 546.6h1.1v1.1h-1.1zM681.2 500.7h1.1v1.1h-1.1zM735.0 633.4h1.3v1.3h-1.3zM601.8 529.5h0.6v0.6h-0.6zM680.5 599.4h1.0v1.0h-1.0zM622.5 689.2h0.7v0.7h-0.7zM782.9 632.5h1.0v1.0h-1.0zM754.1 550.8h0.7v0.7h-0.7zM634.4 502.5h0.9v0.9h-0.9zM711.7 621.8h0.8v0.8h-0.8zM703.6 513.9h1.3v1.3h-1.3zM599.7 554.9h0.7v0.7h-0.7zM729.0 697.2h1.2v1.2h-1.2zM572.2 593.4h0.9v0.9h-0.9zM610.9 731.7h0.6v0.6h-0.6zM678.9 680.0h1.4v1.4h-1.4zM593.0 604.5h1.2v1.2h-1.2zM566.8 551.4h1.3v1.3h-1.3zM592.2 589.1h0.8v0.8h-0.8zM662.7 510.9h0.6v0.6h-0.6zM805.0 680.5h1.2v1.2h-1.2zM614.2 554.5h1.0v1.0h-1.0zM617.2 606.0h1.3v1.3h-1.3zM647.6 575.3h1.4v1.4h-1.4zM709.1 501.8h0.9v0.9h-0.9zM718.8 506.5h0.9v0.9h-0.9zM730.0 705.5h1.1v1.1h-1.1zM777.7 606.3h0.9v0.9h-0.9zM766.9 586.1h1.2v1.2h-1.2zM610.6 577.8h0.7v0.7h-0.7zM693.8 532.5h0.8v0.8h-0.8zM610.4 607.5h0.8v0.8h-0.8zM668.3 737.3h1.1v1.1h-1.1zM771.8 542.5h0.9v0.9h-0.9zM575.1 662.8h0.9v0.9h-0.9zM625.4 496.6h0.7v0.7h-0.7zM622.3 589.1h1.3v1.3h-1.3zM735.1 558.3h0.9v0.9h-0.9zM595.2 723.3h0.9v0.9h-0.9zM747.7 670.7h1.3v1.3h-1.3zM562.1 571.6h0.9v0.9h-0.9zM577.7 709.9h0.9v0.9h-0.9zM748.9 620.3h0.6v0.6h-0.6z" fill="#000" fill-opacity="0.35"/><path d="M729.2 489.8C729.4 491.1 730.0 494.8 730.7 497.4C731.5 500.0 733.0 502.9 733.4 505.3C733.8 507.7 734.0 509.0 733.1 511.6C732.3 514.3 730.2 517.9 728.4 521.1C726.5 524.3 724.3 527.7 722.0 530.6C719.8 533.5 716.9 536.2 714.9 538.5C713.0 540.7 711.1 542.0 710.2 544.0C709.3 546.0 709.5 548.8 709.7 550.3C710.0 551.8 710.2 552.2 711.8 553.0C713.3 553.9 716.4 554.4 718.9 555.6C721.4 556.7 724.4 558.6 726.8 559.8C729.2 561.1 732.2 561.9 733.1 563.0C734.0 564.0 731.8 564.7 732.3 566.2C732.8 567.6 735.1 569.4 736.3 571.7C737.4 573.9 738.8 576.7 739.1 579.6C739.4 582.5 738.5 586.2 738.2 589.1C737.8 592.0 737.6 594.9 737.1 597.0C736.5 599.0 735.6 600.9 734.7 601.4C733.8 601.9 732.5 601.4 731.5 600.1C730.6 598.9 729.3 593.9 729.2 593.8C729.0 593.7 729.6 597.2 730.7 599.3C731.9 601.5 734.0 603.7 736.3 606.5C738.5 609.2 741.5 612.8 744.2 615.9C746.8 619.1 749.7 622.5 752.1 625.4C754.5 628.3 756.3 630.7 758.4 633.3C760.5 636.0 762.4 639.1 764.7 641.2C767.1 643.3 769.7 645.5 772.6 646.0C775.5 646.5 779.2 644.4 782.1 644.4C785.0 644.4 788.0 645.1 790.0 646.0C792.0 646.9 794.2 648.4 794.0 649.9C793.7 651.5 790.9 653.5 788.4 655.5C785.9 657.4 782.1 659.7 779.0 661.8C775.8 663.9 772.4 666.4 769.5 668.1C766.6 669.8 763.4 671.3 761.6 672.1C759.7 672.9 759.1 671.1 758.4 672.9C757.7 674.6 757.4 680.0 757.6 682.3C757.9 684.7 758.9 685.8 760.0 687.1C761.0 688.4 763.7 688.4 763.9 690.2C764.2 692.1 762.1 695.0 761.6 698.1C761.0 701.3 761.0 705.5 760.8 709.2C760.5 712.9 760.2 716.6 760.0 720.3C759.7 724.0 759.1 728.2 759.2 731.3C759.3 734.5 760.5 737.9 760.8 739.2" fill="none" stroke="#000" stroke-width="1.1" stroke-linecap="round" stroke-linejoin="round" stroke-opacity="0.85"/><path d="M763.9 678.4C765.1 678.0 768.0 676.8 771.1 676.0C774.1 675.2 778.7 674.4 782.1 673.6C785.5 672.9 788.8 671.9 791.6 671.6C794.4 671.2 797.5 671.6 798.7 671.6" fill="none" stroke="#000" stroke-width="0.9" stroke-linecap="round" stroke-linejoin="round" stroke-opacity="0.7"/><path d="M769.5 680.0C770.4 680.9 773.4 683.3 775.0 685.5C776.6 687.7 778.3 692.1 779.0 693.4" fill="none" stroke="#000" stroke-width="0.7" stroke-linecap="round" stroke-linejoin="round" stroke-opacity="0.4"/><path d="M699.9 627.8C700.7 627.9 705.2 628.1 704.7 628.6C704.1 629.1 699.1 629.8 696.8 631.0C694.4 632.1 692.3 634.3 690.4 635.7C688.6 637.2 686.7 637.7 685.7 639.7C684.6 641.6 685.2 645.2 684.1 647.6C683.1 649.9 680.6 651.5 679.4 653.9C678.2 656.3 677.0 659.4 677.0 661.8C677.0 664.2 677.7 665.7 679.4 668.1C681.1 670.5 684.6 673.4 687.3 676.0C689.9 678.7 692.5 681.3 695.2 683.9C697.8 686.6 700.4 689.5 703.1 691.8C705.7 694.2 708.6 696.0 711.0 698.1C713.4 700.3 715.5 701.8 717.3 704.5C719.1 707.1 720.5 710.5 722.0 714.0C723.6 717.4 725.2 721.6 726.8 725.0C728.4 728.4 730.2 731.9 731.5 734.5C732.8 737.1 734.2 739.8 734.7 740.8" fill="none" stroke="#000" stroke-width="0.9" stroke-linecap="round" stroke-linejoin="round" stroke-opacity="0.75"/><path d="M698.3 643.1C699.9 643.3 704.4 644.0 707.8 644.4C711.2 644.8 715.5 645.1 718.9 645.7C722.3 646.2 725.2 646.7 728.4 647.6C731.5 648.4 734.7 649.5 737.9 650.7C741.0 651.9 744.7 653.4 747.3 654.7C750.0 656.0 752.1 656.7 753.7 658.6C755.2 660.6 756.0 664.2 756.8 666.5C757.6 668.9 758.1 671.8 758.4 672.9" fill="none" stroke="#000" stroke-width="1.0" stroke-linecap="round" stroke-linejoin="round" stroke-opacity="0.7" stroke-dasharray="4 1.5"/><path d="M726.8 627.8C728.1 628.5 732.1 630.6 734.7 631.8C737.3 632.9 740.2 633.6 742.6 634.9C745.0 636.2 747.3 637.8 748.9 639.7C750.5 641.5 751.6 644.9 752.1 646.0" fill="none" stroke="#000" stroke-width="0.7" stroke-linecap="round" stroke-linejoin="round" stroke-opacity="0.35"/><circle cx="677.5" cy="610.9" r="2.9" fill="#000" stroke="none" stroke-width="1" /><path d="M675.4 610.4C674.5 610.4 671.5 610.7 669.9 610.4C668.3 610.2 666.6 609.1 665.9 608.8" fill="none" stroke="#000" stroke-width="1.44" stroke-linecap="round" stroke-linejoin="round"/><path d="M665.9 608.8C664.2 609.2 658.9 610.1 655.7 610.9C652.4 611.7 648.8 612.9 646.2 613.6C643.5 614.3 640.9 614.9 639.8 615.2" fill="none" stroke="#000" stroke-width="1.2" stroke-linecap="round" stroke-linejoin="round"/><path d="M679.4 608.8C679.9 607.9 680.9 604.9 682.5 603.3C684.1 601.7 686.7 600.7 688.9 599.3C691.0 598.0 693.3 596.7 695.2 595.4C697.0 594.1 699.1 592.1 699.9 591.4" fill="none" stroke="#000" stroke-width="1.22" stroke-linecap="round" stroke-linejoin="round"/><path d="M680.2 614.4C681.1 614.6 683.4 615.9 685.7 615.5C687.9 615.1 691.0 613.4 693.6 612.0C696.2 610.6 698.9 608.6 701.5 607.3C704.1 605.9 708.1 604.6 709.4 604.1" fill="none" stroke="#000" stroke-width="1.2" stroke-linecap="round" stroke-linejoin="round"/><path d="M680.9 615.2C680.9 616.2 682.0 619.8 680.9 621.5C679.9 623.2 677.3 624.5 674.6 625.4C672.0 626.4 668.3 626.2 665.1 627.0C662.0 627.8 658.6 629.2 655.7 630.2C652.8 631.2 649.1 632.5 647.8 633.0" fill="none" stroke="#000" stroke-width="0.9" stroke-linecap="round" stroke-linejoin="round" stroke-opacity="0.8"/><path d="M647.8 633.0C645.9 632.9 639.6 631.7 636.7 632.5C633.8 633.4 632.2 636.5 630.4 638.1C628.5 639.7 626.4 641.4 625.6 642.0" fill="none" stroke="#000" stroke-width="0.8" stroke-linecap="round" stroke-linejoin="round" stroke-opacity="0.3"/><path d="M692.0 585.9C691.7 587.2 690.6 590.9 690.4 593.8C690.2 596.7 690.5 600.4 690.7 603.3C691.0 606.2 691.3 608.8 692.0 611.2C692.8 613.6 694.1 615.4 695.2 617.5C696.2 619.6 697.7 622.1 698.3 623.9C699.0 625.6 699.0 627.1 699.1 627.8" fill="none" stroke="#000" stroke-width="0.8" stroke-linecap="round" stroke-linejoin="round" stroke-opacity="0.6"/><path d="M685.7 584.3C686.7 584.5 690.0 586.0 692.0 585.1C694.1 584.2 697.0 579.9 698.0 578.8" fill="none" stroke="#000" stroke-width="0.8" stroke-linecap="round" stroke-linejoin="round" stroke-opacity="0.7"/><path d="M701.5 557.5C701.1 558.8 699.7 562.7 699.1 565.4C698.6 568.0 698.1 571.3 698.3 573.3C698.6 575.2 700.3 576.6 700.7 577.2" fill="none" stroke="#000" stroke-width="0.8" stroke-linecap="round" stroke-linejoin="round" stroke-opacity="0.4" stroke-dasharray="2 2"/><path d="M579.8 564.6C578.7 565.8 575.8 568.9 573.5 571.7C571.1 574.5 567.4 578.0 565.6 581.2C563.7 584.3 563.2 587.8 562.4 590.7C561.6 593.6 561.1 597.2 560.8 598.6" fill="none" stroke="#000" stroke-width="0.8" stroke-linecap="round" stroke-linejoin="round" stroke-opacity="0.4" stroke-dasharray="2 3"/><circle cx="674.3" cy="551.1" r="1.0" fill="#000" stroke="none" stroke-width="1" fill-opacity="0.85"/><circle cx="580.6" cy="571.7" r="1.0" fill="#000" stroke="none" stroke-width="1" fill-opacity="0.85"/><circle cx="617.7" cy="601.2" r="1.0" fill="#000" stroke="none" stroke-width="1" fill-opacity="0.85"/><circle cx="654.1" cy="622.7" r="1.0" fill="#000" stroke="none" stroke-width="1" fill-opacity="0.85"/><circle cx="668.8" cy="670.2" r="1.0" fill="#000" stroke="none" stroke-width="1" fill-opacity="0.85"/><circle cx="752.1" cy="645.7" r="1.0" fill="#000" stroke="none" stroke-width="1" fill-opacity="0.85"/><circle cx="705.0" cy="548.8" r="1.0" fill="#000" stroke="none" stroke-width="1" fill-opacity="0.85"/><circle cx="747.0" cy="583.9" r="1.0" fill="#000" stroke="none" stroke-width="1" fill-opacity="0.85"/><circle cx="751.3" cy="557.5" r="1.0" fill="#000" stroke="none" stroke-width="1" fill-opacity="0.85"/><circle cx="665.9" cy="535.6" r="1.0" fill="#000" stroke="none" stroke-width="1" fill-opacity="0.85"/><circle cx="761.3" cy="709.2" r="1.0" fill="#000" stroke="none" stroke-width="1" fill-opacity="0.85"/><circle cx="758.7" cy="672.9" r="1.0" fill="#000" stroke="none" stroke-width="1" fill-opacity="0.85"/><rect x="761.2" y="494.2" width="41.2" height="4.0" fill="#000" stroke="none" stroke-width="1" /><rect x="554.8" y="489.2" width="253.1" height="252.4" fill="none" stroke="#231f20" stroke-width="1.7" /></g>
<g id="p_c"><text font-size="47.27" font-weight="bold" transform="translate(-0.86 812.43) scale(1.010 1)">c</text><path d="M127.1 1101V1119.1M119.9 1101h14.4M119.9 1119.1h14.4M149.7 1011.8V1054M142.5 1011.8h14.4M142.5 1054h14.4M172.2 1028.1V1058.2M165 1028.1h14.4M165 1058.2h14.4M194.8 1025.3V1058.5M187.6 1025.3h14.4M187.6 1058.5h14.4M217.3 1044.6V1077.8M210.1 1044.6h14.4M210.1 1077.8h14.4M239.8 1057.3V1096.5M232.6 1057.3h14.4M232.6 1096.5h14.4M262.4 1063.6V1099.8M255.2 1063.6h14.4M255.2 1099.8h14.4M284.9 1078.4V1111.5M277.7 1078.4h14.4M277.7 1111.5h14.4M307.5 1081.7V1117.9M300.3 1081.7h14.4M300.3 1117.9h14.4M330 1086.8V1123M322.8 1086.8h14.4M322.8 1123h14.4M352.5 1097.7V1130.8M345.3 1097.7h14.4M345.3 1130.8h14.4M375.1 1096.2V1132.3M367.9 1096.2h14.4M367.9 1132.3h14.4M397.6 1101.3V1137.5M390.4 1101.3h14.4M390.4 1137.5h14.4M420.2 1099.8V1136M413 1099.8h14.4M413 1136h14.4M442.7 1088.9V1131.1M435.5 1088.9h14.4M435.5 1131.1h14.4M465.2 1081.7V1129.9M458 1081.7h14.4M458 1129.9h14.4M487.8 1086.2V1131.4M480.6 1086.2h14.4M480.6 1131.4h14.4M510.3 1087.4V1129.6M503.1 1087.4h14.4M503.1 1129.6h14.4M532.9 1096.2V1132.3M525.7 1096.2h14.4M525.7 1132.3h14.4M555.4 1109.4V1139.6M548.2 1109.4h14.4M548.2 1139.6h14.4" fill="none" stroke="#4d5cc2" stroke-width="2.9"/><polyline points="127.1,1110.0 149.7,1032.9 172.2,1043.1 194.8,1041.9 217.3,1061.2 239.8,1076.9 262.4,1081.7 284.9,1095.0 307.5,1099.8 330.0,1104.9 352.5,1114.3 375.1,1114.3 397.6,1119.4 420.2,1117.9 442.7,1110.0 465.2,1105.8 487.8,1108.8 510.3,1108.5 532.9,1114.3 555.4,1124.5" fill="none" stroke="#4d5cc2" stroke-width="3.5" stroke-linejoin="round" /><path d="M127.1 1104.4l6.3 11.5h-12.5zM149.7 1027.3l6.3 11.5h-12.5zM172.2 1037.5l6.3 11.5h-12.5zM194.8 1036.3l6.3 11.5h-12.5zM217.3 1055.6l6.3 11.5h-12.5zM239.8 1071.3l6.3 11.5h-12.5zM262.4 1076.1l6.3 11.5h-12.5zM284.9 1089.4l6.3 11.5h-12.5zM307.5 1094.2l6.3 11.5h-12.5zM330 1099.3l6.3 11.5h-12.5zM352.5 1108.7l6.3 11.5h-12.5zM375.1 1108.7l6.3 11.5h-12.5zM397.6 1113.8l6.3 11.5h-12.5zM420.2 1112.3l6.3 11.5h-12.5zM442.7 1104.4l6.3 11.5h-12.5zM465.2 1100.2l6.3 11.5h-12.5zM487.8 1103.2l6.3 11.5h-12.5zM510.3 1102.9l6.3 11.5h-12.5zM532.9 1108.7l6.3 11.5h-12.5zM555.4 1118.9l6.3 11.5h-12.5z" fill="#4d5cc2"/><path d="M127.1 1114V1135.1M119.9 1114h14.4M119.9 1135.1h14.4M149.7 1069.7V1096.8M142.5 1069.7h14.4M142.5 1096.8h14.4M172.2 1055.2V1088.3M165 1055.2h14.4M165 1088.3h14.4M194.8 1075.4V1105.5M187.6 1075.4h14.4M187.6 1105.5h14.4M217.3 1096.5V1123.6M210.1 1096.5h14.4M210.1 1123.6h14.4M239.8 1114.9V1139M232.6 1114.9h14.4M232.6 1139h14.4M262.4 1111.9V1139M255.2 1111.9h14.4M255.2 1139h14.4M284.9 1110.3V1137.5M277.7 1110.3h14.4M277.7 1137.5h14.4M307.5 1126.3V1153.4M300.3 1126.3h14.4M300.3 1153.4h14.4M330 1141.7V1162.8M322.8 1141.7h14.4M322.8 1162.8h14.4M352.5 1143.2V1161.3M345.3 1143.2h14.4M345.3 1161.3h14.4M375.1 1129.9V1154M367.9 1129.9h14.4M367.9 1154h14.4M397.6 1145.3V1169.4M390.4 1145.3h14.4M390.4 1169.4h14.4M420.2 1156.2V1177.3M413 1156.2h14.4M413 1177.3h14.4M442.7 1153.7V1174.8M435.5 1153.7h14.4M435.5 1174.8h14.4M465.2 1153.7V1177.9M458 1153.7h14.4M458 1177.9h14.4M487.8 1151.9V1173M480.6 1151.9h14.4M480.6 1173h14.4M510.3 1150.4V1174.5M503.1 1150.4h14.4M503.1 1174.5h14.4M532.9 1134.8V1167.9M525.7 1134.8h14.4M525.7 1167.9h14.4M555.4 1138.7V1168.8M548.2 1138.7h14.4M548.2 1168.8h14.4" fill="none" stroke="#e8391d" stroke-width="2.9"/><polyline points="127.1,1124.5 149.7,1083.2 172.2,1071.8 194.8,1090.5 217.3,1110.0 239.8,1126.9 262.4,1125.4 284.9,1123.9 307.5,1139.9 330.0,1152.2 352.5,1152.2 375.1,1142.0 397.6,1157.4 420.2,1166.7 442.7,1164.3 465.2,1165.8 487.8,1162.5 510.3,1162.5 532.9,1151.3 555.4,1153.7" fill="none" stroke="#e8391d" stroke-width="3.5" stroke-linejoin="round" /><path d="M121.1 1118.5h12v12h-12zM143.7 1077.2h12v12h-12zM166.2 1065.8h12v12h-12zM188.8 1084.5h12v12h-12zM211.3 1104h12v12h-12zM233.8 1120.9h12v12h-12zM256.4 1119.4h12v12h-12zM278.9 1117.9h12v12h-12zM301.5 1133.9h12v12h-12zM324 1146.2h12v12h-12zM346.5 1146.2h12v12h-12zM369.1 1136h12v12h-12zM391.6 1151.4h12v12h-12zM414.2 1160.7h12v12h-12zM436.7 1158.3h12v12h-12zM459.2 1159.8h12v12h-12zM481.8 1156.5h12v12h-12zM504.3 1156.5h12v12h-12zM526.9 1145.3h12v12h-12zM549.4 1147.7h12v12h-12z" fill="#e8391d"/><path d="M127.1 1089.2V1110.3M119.9 1089.2h14.4M119.9 1110.3h14.4M149.7 999.7V1029.9M142.5 999.7h14.4M142.5 1029.9h14.4M172.2 975.6V1017.8M165 975.6h14.4M165 1017.8h14.4M194.8 1009.4V1045.5M187.6 1009.4h14.4M187.6 1045.5h14.4M217.3 994.6V1039.8M210.1 994.6h14.4M210.1 1039.8h14.4M239.8 1048.3V1087.4M232.6 1048.3h14.4M232.6 1087.4h14.4M262.4 1070.9V1110M255.2 1070.9h14.4M255.2 1110h14.4M284.9 1075.4V1108.5M277.7 1075.4h14.4M277.7 1108.5h14.4M307.5 1081.7V1117.9M300.3 1081.7h14.4M300.3 1117.9h14.4M330 1095.9V1126M322.8 1095.9h14.4M322.8 1126h14.4M352.5 1092V1128.1M345.3 1092h14.4M345.3 1128.1h14.4M375.1 1099.8V1136M367.9 1099.8h14.4M367.9 1136h14.4M397.6 1114V1147.1M390.4 1114h14.4M390.4 1147.1h14.4M420.2 1111.5V1147.7M413 1111.5h14.4M413 1147.7h14.4M442.7 1098.9V1144.1M435.5 1098.9h14.4M435.5 1144.1h14.4M465.2 1135.1V1165.2M458 1135.1h14.4M458 1165.2h14.4M487.8 1142.9V1170M480.6 1142.9h14.4M480.6 1170h14.4M510.3 1154.3V1177.3M503.1 1154.3h14.4M503.1 1177.3h14.4M532.9 1156.2V1183.3M525.7 1156.2h14.4M525.7 1183.3h14.4M555.4 1142.3V1172.4M548.2 1142.3h14.4M548.2 1172.4h14.4" fill="none" stroke="#000000" stroke-width="2.9"/><polyline points="127.1,1099.8 149.7,1014.8 172.2,996.7 194.8,1027.5 217.3,1017.2 239.8,1067.8 262.4,1090.5 284.9,1092.0 307.5,1099.8 330.0,1110.9 352.5,1110.0 375.1,1117.9 397.6,1130.5 420.2,1129.6 442.7,1121.5 465.2,1150.1 487.8,1156.5 510.3,1165.8 532.9,1169.7 555.4,1157.4" fill="none" stroke="#000000" stroke-width="3.5" stroke-linejoin="round" /><path d="M120.5 1099.8a6.6 6.6 0 1 0 13.2 0a6.6 6.6 0 1 0 -13.2 0zM143.1 1014.8a6.6 6.6 0 1 0 13.2 0a6.6 6.6 0 1 0 -13.2 0zM165.6 996.7a6.6 6.6 0 1 0 13.2 0a6.6 6.6 0 1 0 -13.2 0zM188.2 1027.5a6.6 6.6 0 1 0 13.2 0a6.6 6.6 0 1 0 -13.2 0zM210.7 1017.2a6.6 6.6 0 1 0 13.2 0a6.6 6.6 0 1 0 -13.2 0zM233.2 1067.8a6.6 6.6 0 1 0 13.2 0a6.6 6.6 0 1 0 -13.2 0zM255.8 1090.5a6.6 6.6 0 1 0 13.2 0a6.6 6.6 0 1 0 -13.2 0zM278.3 1092a6.6 6.6 0 1 0 13.2 0a6.6 6.6 0 1 0 -13.2 0zM300.9 1099.8a6.6 6.6 0 1 0 13.2 0a6.6 6.6 0 1 0 -13.2 0zM323.4 1110.9a6.6 6.6 0 1 0 13.2 0a6.6 6.6 0 1 0 -13.2 0zM345.9 1110a6.6 6.6 0 1 0 13.2 0a6.6 6.6 0 1 0 -13.2 0zM368.5 1117.9a6.6 6.6 0 1 0 13.2 0a6.6 6.6 0 1 0 -13.2 0zM391 1130.5a6.6 6.6 0 1 0 13.2 0a6.6 6.6 0 1 0 -13.2 0zM413.6 1129.6a6.6 6.6 0 1 0 13.2 0a6.6 6.6 0 1 0 -13.2 0zM436.1 1121.5a6.6 6.6 0 1 0 13.2 0a6.6 6.6 0 1 0 -13.2 0zM458.6 1150.1a6.6 6.6 0 1 0 13.2 0a6.6 6.6 0 1 0 -13.2 0zM481.2 1156.5a6.6 6.6 0 1 0 13.2 0a6.6 6.6 0 1 0 -13.2 0zM503.7 1165.8a6.6 6.6 0 1 0 13.2 0a6.6 6.6 0 1 0 -13.2 0zM526.3 1169.7a6.6 6.6 0 1 0 13.2 0a6.6 6.6 0 1 0 -13.2 0zM548.8 1157.4a6.6 6.6 0 1 0 13.2 0a6.6 6.6 0 1 0 -13.2 0z" fill="#000000"/><line x1="104.6" y1="948.8" x2="104.6" y2="1253.2" stroke="#000" stroke-width="3" stroke-linecap="butt" /><line x1="103.1" y1="1251.7" x2="556.9" y2="1251.7" stroke="#000" stroke-width="3" stroke-linecap="butt" /><line x1="91.6" y1="1251.7" x2="104.6" y2="1251.7" stroke="#000" stroke-width="3" stroke-linecap="butt" /><text font-size="22.8" font-weight="bold" text-anchor="end" transform="translate(89.6 1259.6) scale(1.0 1)" >0</text><line x1="91.6" y1="1191.4" x2="104.6" y2="1191.4" stroke="#000" stroke-width="3" stroke-linecap="butt" /><text font-size="22.8" font-weight="bold" text-anchor="end" transform="translate(89.6 1199.3) scale(1.0 1)" >2</text><line x1="91.6" y1="1131.1" x2="104.6" y2="1131.1" stroke="#000" stroke-width="3" stroke-linecap="butt" /><text font-size="22.8" font-weight="bold" text-anchor="end" transform="translate(89.6 1139.0) scale(1.0 1)" >4</text><line x1="91.6" y1="1070.9" x2="104.6" y2="1070.9" stroke="#000" stroke-width="3" stroke-linecap="butt" /><text font-size="22.8" font-weight="bold" text-anchor="end" transform="translate(89.6 1078.8) scale(1.0 1)" >6</text><line x1="91.6" y1="1010.6" x2="104.6" y2="1010.6" stroke="#000" stroke-width="3" stroke-linecap="butt" /><text font-size="22.8" font-weight="bold" text-anchor="end" transform="translate(89.6 1018.5) scale(1.0 1)" >8</text><line x1="91.6" y1="950.3" x2="104.6" y2="950.3" stroke="#000" stroke-width="3" stroke-linecap="butt" /><text font-size="22.8" font-weight="bold" text-anchor="end" transform="translate(89.6 958.2) scale(1.0 1)" >10</text><line x1="104.6" y1="1251.7" x2="104.6" y2="1262.7" stroke="#000" stroke-width="3" stroke-linecap="butt" /><text font-size="22.8" font-weight="bold" text-anchor="middle" transform="translate(104.6 1286.0) scale(1.0 1)" >0</text><line x1="149.7" y1="1251.7" x2="149.7" y2="1262.7" stroke="#000" stroke-width="3" stroke-linecap="butt" /><text font-size="22.8" font-weight="bold" text-anchor="middle" transform="translate(149.7 1286.0) scale(1.0 1)" >20</text><line x1="194.8" y1="1251.7" x2="194.8" y2="1262.7" stroke="#000" stroke-width="3" stroke-linecap="butt" /><text font-size="22.8" font-weight="bold" text-anchor="middle" transform="translate(194.8 1286.0) scale(1.0 1)" >40</text><line x1="239.8" y1="1251.7" x2="239.8" y2="1262.7" stroke="#000" stroke-width="3" stroke-linecap="butt" /><text font-size="22.8" font-weight="bold" text-anchor="middle" transform="translate(239.8 1286.0) scale(1.0 1)" >60</text><line x1="284.9" y1="1251.7" x2="284.9" y2="1262.7" stroke="#000" stroke-width="3" stroke-linecap="butt" /><text font-size="22.8" font-weight="bold" text-anchor="middle" transform="translate(284.9 1286.0) scale(1.0 1)" >80</text><line x1="330.0" y1="1251.7" x2="330.0" y2="1262.7" stroke="#000" stroke-width="3" stroke-linecap="butt" /><text font-size="22.8" font-weight="bold" text-anchor="middle" transform="translate(330.0 1286.0) scale(1.0 1)" >100</text><line x1="375.1" y1="1251.7" x2="375.1" y2="1262.7" stroke="#000" stroke-width="3" stroke-linecap="butt" /><text font-size="22.8" font-weight="bold" text-anchor="middle" transform="translate(375.1 1286.0) scale(1.0 1)" >120</text><line x1="420.2" y1="1251.7" x2="420.2" y2="1262.7" stroke="#000" stroke-width="3" stroke-linecap="butt" /><text font-size="22.8" font-weight="bold" text-anchor="middle" transform="translate(420.2 1286.0) scale(1.0 1)" >140</text><line x1="465.2" y1="1251.7" x2="465.2" y2="1262.7" stroke="#000" stroke-width="3" stroke-linecap="butt" /><text font-size="22.8" font-weight="bold" text-anchor="middle" transform="translate(465.2 1286.0) scale(1.0 1)" >160</text><line x1="510.3" y1="1251.7" x2="510.3" y2="1262.7" stroke="#000" stroke-width="3" stroke-linecap="butt" /><text font-size="22.8" font-weight="bold" text-anchor="middle" transform="translate(510.3 1286.0) scale(1.0 1)" >180</text><line x1="555.4" y1="1251.7" x2="555.4" y2="1262.7" stroke="#000" stroke-width="3" stroke-linecap="butt" /><text font-size="22.8" font-weight="bold" text-anchor="middle" transform="translate(555.4 1286.0) scale(1.0 1)" >200</text><text x="330.3" y="1326.6" font-size="24.6" font-weight="bold" text-anchor="middle" textLength="289.5" lengthAdjust="spacingAndGlyphs">Distance from soma (µm)</text><text x="44.5" y="1101.0" font-size="24.6" font-weight="bold" text-anchor="middle" transform="rotate(-90 44.5 1101.0)" textLength="364.0" lengthAdjust="spacingAndGlyphs">Number of neurite intersections</text><line x1="243.0" y1="841.2" x2="278.5" y2="841.2" stroke="#000000" stroke-width="3" stroke-linecap="butt" /><circle cx="260.8" cy="841.2" r="6.3" fill="#000000" stroke="none" stroke-width="1" /><text x="294.7" y="849.8" font-size="23.6" textLength="290.0" lengthAdjust="spacingAndGlyphs">Control (Fam 1) + mCherry</text><line x1="243.0" y1="883.0" x2="278.5" y2="883.0" stroke="#e8391d" stroke-width="3" stroke-linecap="butt" /><rect x="255.1" y="877.3" width="11.4" height="11.4" fill="#e8391d" stroke="none" stroke-width="1" /><text x="294.7" y="891.6" font-size="23.6" textLength="347.5" lengthAdjust="spacingAndGlyphs">15q13.3 HET (Fam 1)+ mCherry</text><line x1="243.0" y1="923.2" x2="278.5" y2="923.2" stroke="#4d5cc2" stroke-width="3" stroke-linecap="butt" /><polygon points="260.8,917.6 267.1,929.2 254.5,929.2" fill="#4d5cc2" stroke="none" stroke-width="1" /><text x="294.7" y="931.5" font-size="23.6" textLength="454.5" lengthAdjust="spacingAndGlyphs">15q13.3 HET(Fam 1) + OTUD7A-mCherry</text><polyline points="646.0,834.5 675.5,834.5 675.5,886.0 646.0,886.0" fill="none" stroke="#000" stroke-width="3" stroke-linejoin="miter" /><text x="679.0" y="873.0" font-size="20" textLength="34.0" lengthAdjust="spacingAndGlyphs">****</text><polyline points="752.0,878.0 781.5,878.0 781.5,930.5 752.0,930.5" fill="none" stroke="#000" stroke-width="3" stroke-linejoin="miter" /><text x="783.0" y="916.0" font-size="20" textLength="34.0" lengthAdjust="spacingAndGlyphs">****</text><polyline points="799.5,830.5 829.0,830.5 829.0,935.0 799.5,935.0" fill="none" stroke="#000" stroke-width="3" stroke-linejoin="miter" /><text x="835.5" y="890.0" font-size="23.6" textLength="25.0" lengthAdjust="spacingAndGlyphs">ns</text></g>
<g id="p_e"><text font-size="46.73" font-weight="bold" transform="translate(880.61 371.43) scale(1.008 1)">e</text><text font-size="23" font-weight="bold" transform="translate(1005 626) scale(0.93 1) rotate(-66.3)">TurboGFP</text><text font-size="23" font-weight="bold" transform="translate(1065 627.5) scale(0.93 1) rotate(-66.8)">WT OTUD7A</text><text font-size="23" font-weight="bold" transform="translate(1116.5 627.5) scale(0.93 1) rotate(-67.8)">OTUD7A N492_K494del</text><text font-size="23" font-weight="bold" transform="translate(1178.5 626) scale(0.93 1) rotate(-67.3)">OTUD7A L233F</text><rect x="978.4" y="631.4" width="225.8" height="319.4" fill="#fbfbfb" stroke="none" stroke-width="1" /><g clip-path="url(#cb1)"><g filter="url(#bl2)"><rect x="989.6" y="638.3" width="30.4" height="255.7" fill="#000" stroke="none" stroke-width="1" fill-opacity="0.025"/><rect x="989.6" y="720.5" width="30.4" height="70.0" fill="#000" stroke="none" stroke-width="1" fill-opacity="0.023"/><rect x="1041.4" y="638.3" width="30.4" height="255.7" fill="#000" stroke="none" stroke-width="1" fill-opacity="0.05"/><rect x="1041.4" y="720.5" width="30.4" height="70.0" fill="#000" stroke="none" stroke-width="1" fill-opacity="0.045"/><rect x="1094.6" y="638.3" width="35.0" height="255.7" fill="#000" stroke="none" stroke-width="1" fill-opacity="0.065"/><rect x="1094.6" y="720.5" width="35.0" height="70.0" fill="#000" stroke="none" stroke-width="1" fill-opacity="0.059"/><rect x="1151.0" y="638.3" width="36.5" height="255.7" fill="#000" stroke="none" stroke-width="1" fill-opacity="0.04"/><rect x="1151.0" y="720.5" width="36.5" height="70.0" fill="#000" stroke="none" stroke-width="1" fill-opacity="0.036"/></g><g filter="url(#bl3)"><path d="M989.0 658.1L1020.7 658.1" stroke="#000" stroke-width="4" stroke-opacity="0.02" stroke-linecap="round" fill="none"/><path d="M1040.8 658.1L1072.4 658.1" stroke="#000" stroke-width="4" stroke-opacity="0.07" stroke-linecap="round" fill="none"/><path d="M1094.0 658.1L1130.3 658.1" stroke="#000" stroke-width="4" stroke-opacity="0.13" stroke-linecap="round" fill="none"/><path d="M1150.4 658.1L1188.1 658.1" stroke="#000" stroke-width="4" stroke-opacity="0.05" stroke-linecap="round" fill="none"/><path d="M989.0 676.3L1020.7 676.3" stroke="#000" stroke-width="4" stroke-opacity="0.02" stroke-linecap="round" fill="none"/><path d="M1040.8 676.3L1072.4 676.3" stroke="#000" stroke-width="4" stroke-opacity="0.04" stroke-linecap="round" fill="none"/><path d="M1094.0 676.3L1130.3 676.3" stroke="#000" stroke-width="4" stroke-opacity="0.07" stroke-linecap="round" fill="none"/><path d="M1150.4 676.3L1188.1 676.3" stroke="#000" stroke-width="4" stroke-opacity="0.03" stroke-linecap="round" fill="none"/><path d="M989.0 688.5L1020.7 688.5" stroke="#000" stroke-width="6" stroke-opacity="0.06" stroke-linecap="round" fill="none"/><path d="M1040.8 688.5L1072.4 688.5" stroke="#000" stroke-width="6" stroke-opacity="0.2" stroke-linecap="round" fill="none"/><path d="M1094.0 688.5L1130.3 688.5" stroke="#000" stroke-width="6" stroke-opacity="0.22" stroke-linecap="round" fill="none"/><path d="M1150.4 688.5L1188.1 688.5" stroke="#000" stroke-width="6" stroke-opacity="0.12" stroke-linecap="round" fill="none"/><path d="M989.0 704.6L1020.7 704.6" stroke="#000" stroke-width="6" stroke-opacity="0.17" stroke-linecap="round" fill="none"/><path d="M1040.8 704.6L1072.4 704.6" stroke="#000" stroke-width="6" stroke-opacity="0.1" stroke-linecap="round" fill="none"/><path d="M1094.0 704.6L1130.3 704.6" stroke="#000" stroke-width="6" stroke-opacity="0.1" stroke-linecap="round" fill="none"/><path d="M1150.4 704.6L1188.1 704.6" stroke="#000" stroke-width="6" stroke-opacity="0.1" stroke-linecap="round" fill="none"/><path d="M989.0 796.0L1020.7 796.0" stroke="#000" stroke-width="7" stroke-opacity="0.2" stroke-linecap="round" fill="none"/><path d="M1040.8 795.1L1072.4 795.1" stroke="#000" stroke-width="7" stroke-opacity="0.24" stroke-linecap="round" fill="none"/><path d="M1094.0 794.1L1130.3 794.1" stroke="#000" stroke-width="7" stroke-opacity="0.28" stroke-linecap="round" fill="none"/><path d="M1150.4 793.2L1188.1 793.2" stroke="#000" stroke-width="7" stroke-opacity="0.17" stroke-linecap="round" fill="none"/><path d="M989.0 830.1L1020.7 830.1" stroke="#000" stroke-width="5" stroke-opacity="0.05" stroke-linecap="round" fill="none"/><path d="M1040.8 829.2L1072.4 829.2" stroke="#000" stroke-width="5" stroke-opacity="0.05" stroke-linecap="round" fill="none"/><path d="M1094.0 828.2L1130.3 828.2" stroke="#000" stroke-width="5" stroke-opacity="0.08" stroke-linecap="round" fill="none"/><path d="M1150.4 827.3L1188.1 827.3" stroke="#000" stroke-width="5" stroke-opacity="0.04" stroke-linecap="round" fill="none"/><path d="M989.0 863.6L1020.7 863.6" stroke="#000" stroke-width="6" stroke-opacity="0.08" stroke-linecap="round" fill="none"/><path d="M1040.8 862.3L1072.4 862.3" stroke="#000" stroke-width="6" stroke-opacity="0.1" stroke-linecap="round" fill="none"/><path d="M1094.0 861.1L1130.3 861.1" stroke="#000" stroke-width="6" stroke-opacity="0.12" stroke-linecap="round" fill="none"/><path d="M1150.4 859.9L1188.1 859.9" stroke="#000" stroke-width="6" stroke-opacity="0.06" stroke-linecap="round" fill="none"/><path d="M989.0 891.0L1020.7 891.0" stroke="#000" stroke-width="6" stroke-opacity="0.03" stroke-linecap="round" fill="none"/><path d="M1040.8 889.7L1072.4 889.7" stroke="#000" stroke-width="6" stroke-opacity="0.05" stroke-linecap="round" fill="none"/><path d="M1094.0 888.5L1130.3 888.5" stroke="#000" stroke-width="6" stroke-opacity="0.08" stroke-linecap="round" fill="none"/><path d="M1150.4 887.3L1188.1 887.3" stroke="#000" stroke-width="6" stroke-opacity="0.04" stroke-linecap="round" fill="none"/></g><g filter="url(#bl1)"><path d="M989.0 722.0L1020.7 722.0" stroke="#000" stroke-width="6.5" stroke-opacity="0.52" stroke-linecap="round" fill="none"/><path d="M1040.8 721.4L1072.4 721.4" stroke="#000" stroke-width="6.5" stroke-opacity="0.82" stroke-linecap="round" fill="none"/><path d="M1094.0 720.8L1130.3 720.8" stroke="#000" stroke-width="6.5" stroke-opacity="0.9" stroke-linecap="round" fill="none"/><path d="M1150.4 720.2L1188.1 720.2" stroke="#000" stroke-width="6.5" stroke-opacity="0.66" stroke-linecap="round" fill="none"/><path d="M991.1 909.2L1030.7 907.7" stroke="#000" stroke-width="3.2" stroke-opacity="0.55" stroke-linecap="round" fill="none"/><path d="M1045.9 907.1L1082.5 904.7" stroke="#000" stroke-width="3.2" stroke-opacity="0.55" stroke-linecap="round" fill="none"/><path d="M1097.7 904.1L1135.7 902.2" stroke="#000" stroke-width="3.2" stroke-opacity="0.55" stroke-linecap="round" fill="none"/><path d="M1149.4 899.5L1190.5 898.9" stroke="#000" stroke-width="3.2" stroke-opacity="0.55" stroke-linecap="round" fill="none"/></g><g filter="url(#bl1)"><path d="M990.5 922.9L1034.4 922.3" stroke="#000" stroke-width="8.0" stroke-opacity="1.0" stroke-linecap="round" fill="none"/><path d="M1048.4 921.4L1084.6 917.4" stroke="#000" stroke-width="8.0" stroke-opacity="1.0" stroke-linecap="round" fill="none"/><path d="M1099.2 917.8L1136.3 914.1" stroke="#000" stroke-width="8.0" stroke-opacity="1.0" stroke-linecap="round" fill="none"/><path d="M1149.7 912.6L1192.7 912.9" stroke="#000" stroke-width="8.0" stroke-opacity="1.0" stroke-linecap="round" fill="none"/><path d="M980.5 922.9L989.6 922.9" stroke="#000" stroke-width="3" stroke-opacity="0.3" stroke-linecap="round" fill="none"/><path d="M1196.6 912.9L1203.3 912.9" stroke="#000" stroke-width="3" stroke-opacity="0.3" stroke-linecap="round" fill="none"/></g></g><rect x="978.4" y="631.4" width="225.8" height="319.4" fill="none" stroke="#231f20" stroke-width="1.6" /><rect x="978.4" y="966.2" width="225.8" height="117.1" fill="#fbfbfb" stroke="none" stroke-width="1" /><g clip-path="url(#cb2)"><g filter="url(#bl3)"><path d="M1039.6 1007.7L1074.6 1006.8" stroke="#000" stroke-width="3.5" stroke-opacity="0.2" stroke-linecap="round" fill="none"/><path d="M1094.3 1007.7L1132.4 1006.8" stroke="#000" stroke-width="3.5" stroke-opacity="0.27" stroke-linecap="round" fill="none"/><path d="M1150.7 1007.7L1187.9 1006.8" stroke="#000" stroke-width="3.5" stroke-opacity="0.07" stroke-linecap="round" fill="none"/><path d="M1039.6 1028.6L1074.6 1027.8" stroke="#000" stroke-width="6" stroke-opacity="0.52" stroke-linecap="round" fill="none"/><path d="M1094.3 1028.6L1132.4 1027.8" stroke="#000" stroke-width="6" stroke-opacity="0.66" stroke-linecap="round" fill="none"/><path d="M1150.7 1028.6L1187.9 1027.8" stroke="#000" stroke-width="6" stroke-opacity="0.45" stroke-linecap="round" fill="none"/><path d="M1039.6 1064.1L1074.6 1063.3" stroke="#000" stroke-width="4.5" stroke-opacity="0.12" stroke-linecap="round" fill="none"/><path d="M1094.3 1064.1L1132.4 1063.3" stroke="#000" stroke-width="4.5" stroke-opacity="0.2" stroke-linecap="round" fill="none"/><path d="M1150.7 1064.1L1187.9 1063.3" stroke="#000" stroke-width="4.5" stroke-opacity="0.05" stroke-linecap="round" fill="none"/></g></g><rect x="978.4" y="966.2" width="225.8" height="117.1" fill="none" stroke="#231f20" stroke-width="1.6" /><rect x="978.4" y="1099.6" width="225.8" height="138.1" fill="#fbfbfb" stroke="none" stroke-width="1" /><g clip-path="url(#cb3)"><g filter="url(#bl1)"><path d="M986.6 1121.4L1024.2 1120.5" stroke="#000" stroke-width="5.5" stroke-opacity="0.72" stroke-linecap="round" fill="none"/><path d="M1042.1 1118.8L1079.8 1118.0" stroke="#000" stroke-width="5.5" stroke-opacity="0.74" stroke-linecap="round" fill="none"/><path d="M1096.4 1117.1L1138.8 1116.3" stroke="#000" stroke-width="5.5" stroke-opacity="0.8" stroke-linecap="round" fill="none"/><path d="M1154.2 1117.1L1192.2 1116.3" stroke="#000" stroke-width="5.5" stroke-opacity="0.6" stroke-linecap="round" fill="none"/><path d="M986.6 1136.4L1024.2 1135.5" stroke="#000" stroke-width="5" stroke-opacity="0.05" stroke-linecap="round" fill="none"/><path d="M1042.1 1132.1L1079.8 1131.2" stroke="#000" stroke-width="5" stroke-opacity="0.06" stroke-linecap="round" fill="none"/><path d="M1096.4 1129.9L1138.8 1129.1" stroke="#000" stroke-width="5" stroke-opacity="0.08" stroke-linecap="round" fill="none"/><path d="M1154.2 1129.9L1192.2 1129.1" stroke="#000" stroke-width="5" stroke-opacity="0.04" stroke-linecap="round" fill="none"/><path d="M988.3 1219.3L1022.5 1219.3" stroke="#000" stroke-width="9" stroke-opacity="0.13" stroke-linecap="round" fill="none"/><path d="M1043.8 1189.4L1078.1 1189.4" stroke="#000" stroke-width="9" stroke-opacity="0.08" stroke-linecap="round" fill="none"/><path d="M1098.1 1189.4L1137.1 1189.4" stroke="#000" stroke-width="9" stroke-opacity="0.1" stroke-linecap="round" fill="none"/><path d="M1155.9 1187.2L1190.5 1187.2" stroke="#000" stroke-width="9" stroke-opacity="0.05" stroke-linecap="round" fill="none"/></g><g filter="url(#bl1)"><path d="M988.3 1196.6L1025.9 1196.6" stroke="#000" stroke-width="10.5" stroke-opacity="1.0" stroke-linecap="round" fill="none"/><path d="M1041.7 1168.0L1080.2 1165.4" stroke="#000" stroke-width="9.5" stroke-opacity="1.0" stroke-linecap="round" fill="none"/><path d="M1096.4 1165.9L1138.8 1165.9" stroke="#000" stroke-width="9.5" stroke-opacity="1.0" stroke-linecap="round" fill="none"/><path d="M1154.2 1165.9L1193.5 1166.7" stroke="#000" stroke-width="9.5" stroke-opacity="1.0" stroke-linecap="round" fill="none"/></g></g><rect x="978.4" y="1099.6" width="225.8" height="138.1" fill="none" stroke="#231f20" stroke-width="1.6" /><line x1="967.5" y1="677.2" x2="978.4" y2="677.2" stroke="#231f20" stroke-width="1.6" stroke-linecap="butt" /><text x="958.5" y="679.7" font-size="16.1" text-anchor="end">300 kDa</text><line x1="967.5" y1="705.2" x2="978.4" y2="705.2" stroke="#231f20" stroke-width="1.6" stroke-linecap="butt" /><text x="958.5" y="707.7" font-size="16.1" text-anchor="end">250 kDa</text><line x1="967.5" y1="733.0" x2="978.4" y2="733.0" stroke="#231f20" stroke-width="1.6" stroke-linecap="butt" /><text x="958.5" y="735.5" font-size="16.1" text-anchor="end">180 kDa</text><line x1="967.5" y1="907.7" x2="978.4" y2="907.7" stroke="#231f20" stroke-width="1.6" stroke-linecap="butt" /><text x="958.5" y="910.2" font-size="16.1" text-anchor="end">50 kDa</text><line x1="967.5" y1="931.2" x2="978.4" y2="931.2" stroke="#231f20" stroke-width="1.6" stroke-linecap="butt" /><text x="958.5" y="933.7" font-size="16.1" text-anchor="end">40 kDa</text><line x1="966.5" y1="1009.0" x2="978.4" y2="1009.0" stroke="#231f20" stroke-width="1.6" stroke-linecap="butt" /><text x="963.5" y="1012.0" font-size="16.1" text-anchor="end">150 kDa</text><line x1="966.5" y1="1044.4" x2="978.4" y2="1044.4" stroke="#231f20" stroke-width="1.6" stroke-linecap="butt" /><text x="963.5" y="1047.4" font-size="16.1" text-anchor="end">100 kDa</text><line x1="966.5" y1="1136.8" x2="978.4" y2="1136.8" stroke="#231f20" stroke-width="1.6" stroke-linecap="butt" /><text x="963.5" y="1139.8" font-size="16.1" text-anchor="end">37 kDa</text><line x1="966.5" y1="1219.3" x2="978.4" y2="1219.3" stroke="#231f20" stroke-width="1.6" stroke-linecap="butt" /><text x="963.5" y="1222.3" font-size="16.1" text-anchor="end">25 kDa</text><text font-size="24.08" font-weight="bold" transform="translate(1209.3 695.2) scale(0.967 1)" >Ankyrin-G-270</text><text font-size="24.08" font-weight="bold" transform="translate(1209.3 728.1) scale(0.967 1)" >Ankyrin-G-190</text><text font-size="24.08" font-weight="bold" transform="translate(1209.3 918.4) scale(0.967 1)" >β-actin</text><text font-size="24.08" font-weight="bold" transform="translate(1209.3 1034.6) scale(0.967 1)" >OTUD7A-3XFLAG</text><text font-size="24.08" font-weight="bold" transform="translate(1209.3 1128.2) scale(0.967 1)" >β-actin</text><text font-size="24.08" font-weight="bold" transform="translate(1209.3 1189.4) scale(0.967 1)" >TurboGFP</text></g>
<g id="p_fgh"><text font-size="46.9" font-weight="bold" transform="translate(1379.26 371.00) scale(1.040 1)">f</text><path d="M1550.7 587.5a3.8 3.8 0 1 0 7.6 0a3.8 3.8 0 1 0 -7.6 0zM1535.4 594.6a3.8 3.8 0 1 0 7.6 0a3.8 3.8 0 1 0 -7.6 0zM1543.2 615.1a3.8 3.8 0 1 0 7.6 0a3.8 3.8 0 1 0 -7.6 0zM1543.2 623.2a3.8 3.8 0 1 0 7.6 0a3.8 3.8 0 1 0 -7.6 0z" fill="#6e6869"/><path d="M1649.4 426.6h7.4v7.4h-7.4zM1649.4 435.2h7.4v7.4h-7.4zM1642 479.4h7.4v7.4h-7.4zM1656.9 477.7h7.4v7.4h-7.4z" fill="#a8aae0"/><path d="M1744 415.4l4.1 7.5h-8.2zM1774.6 417.5l4.1 7.5h-8.2zM1759.3 422.2l4.1 7.5h-8.2zM1759.3 475.3l4.1 7.5h-8.2z" fill="#f9c791"/><path d="M1865.4 454.5l4.1 -7.5h-8.2zM1865.4 469.8l4.1 -7.5h-8.2zM1865.4 524.2l4.1 -7.5h-8.2zM1865.4 560.6l4.1 -7.5h-8.2z" fill="#a3e29b"/><polyline points="1513.0,633.4 1513.0,606.2 1581.4,606.2 1581.4,633.4" fill="none" stroke="#000000" stroke-width="3.0" stroke-linejoin="miter" /><path d="M1547 596.3V613.4M1528.3 596.3h37.4M1528.3 613.4h37.4" fill="none" stroke="#000000" stroke-width="3.0"/><line x1="1547.0" y1="633.4" x2="1547.0" y2="638.9" stroke="#000" stroke-width="3.0" stroke-linecap="butt" /><polyline points="1619.1,633.4 1619.1,458.6 1686.8,458.6 1686.8,633.4" fill="none" stroke="#3f4eb4" stroke-width="3.0" stroke-linejoin="miter" /><path d="M1653.1 444V471.8M1634.4 444h37.4M1634.4 471.8h37.4" fill="none" stroke="#3f4eb4" stroke-width="3.0"/><line x1="1653.1" y1="633.4" x2="1653.1" y2="638.9" stroke="#000" stroke-width="3.0" stroke-linecap="butt" /><polyline points="1725.2,633.4 1725.2,436.5 1793.0,436.5 1793.0,633.4" fill="none" stroke="#f28b0c" stroke-width="3.0" stroke-linejoin="miter" /><path d="M1759.3 420.8V450.1M1740.6 420.8h37.4M1740.6 450.1h37.4" fill="none" stroke="#f28b0c" stroke-width="3.0"/><line x1="1759.3" y1="633.4" x2="1759.3" y2="638.9" stroke="#000" stroke-width="3.0" stroke-linecap="butt" /><polyline points="1831.7,633.4 1831.7,500.1 1899.4,500.1 1899.4,633.4" fill="none" stroke="#1cb31c" stroke-width="3.0" stroke-linejoin="miter" /><path d="M1865.4 474.9V524.2M1846.7 474.9h37.4M1846.7 524.2h37.4" fill="none" stroke="#1cb31c" stroke-width="3.0"/><line x1="1865.4" y1="633.4" x2="1865.4" y2="638.9" stroke="#000" stroke-width="3.0" stroke-linecap="butt" /><line x1="1493.3" y1="378.7" x2="1493.3" y2="635.1" stroke="#000" stroke-width="3.4" stroke-linecap="butt" /><line x1="1490.6" y1="633.4" x2="1918.5" y2="633.4" stroke="#000" stroke-width="3.4" stroke-linecap="butt" /><line x1="1488.9" y1="380.3" x2="1493.3" y2="380.3" stroke="#000" stroke-width="3.2" stroke-linecap="butt" /><text font-size="15.19" font-weight="bold" text-anchor="end" transform="translate(1487.5 384.7) scale(0.935 1)" >0.04</text><line x1="1488.9" y1="444.0" x2="1493.3" y2="444.0" stroke="#000" stroke-width="3.2" stroke-linecap="butt" /><text font-size="15.19" font-weight="bold" text-anchor="end" transform="translate(1487.5 448.4) scale(0.935 1)" >0.03</text><line x1="1488.9" y1="507.2" x2="1493.3" y2="507.2" stroke="#000" stroke-width="3.2" stroke-linecap="butt" /><text font-size="15.19" font-weight="bold" text-anchor="end" transform="translate(1487.5 511.6) scale(0.935 1)" >0.02</text><line x1="1488.9" y1="570.5" x2="1493.3" y2="570.5" stroke="#000" stroke-width="3.2" stroke-linecap="butt" /><text font-size="15.19" font-weight="bold" text-anchor="end" transform="translate(1487.5 574.9) scale(0.935 1)" >0.01</text><line x1="1488.9" y1="633.4" x2="1493.3" y2="633.4" stroke="#000" stroke-width="3.2" stroke-linecap="butt" /><text font-size="15.19" font-weight="bold" text-anchor="end" transform="translate(1487.5 637.8) scale(0.935 1)" >0.00</text><polyline points="1547.0,580.0 1547.0,403.1 1653.1,403.1 1653.1,422.5" fill="none" stroke="#000" stroke-width="3.3" stroke-linejoin="miter" /><text font-size="20.33" font-weight="bold" text-anchor="middle" transform="translate(1600.1 405.2) scale(0.935 1)" >****</text><polyline points="1547.0,396.3 1547.0,379.3 1759.3,379.3 1759.3,411.6" fill="none" stroke="#000" stroke-width="3.3" stroke-linejoin="miter" /><text font-size="20.33" font-weight="bold" text-anchor="middle" transform="translate(1653.1 380.0) scale(0.935 1)" >****</text><polyline points="1547.0,371.5 1547.0,353.1 1865.4,353.1 1865.4,444.0" fill="none" stroke="#000" stroke-width="3.3" stroke-linejoin="miter" /><text font-size="20.33" font-weight="bold" text-anchor="middle" transform="translate(1705.9 354.8) scale(0.935 1)" >***</text><text font-size="16.91" font-weight="bold" text-anchor="middle" transform="translate(1544.6 655.2) scale(0.972 1)" >TurboGFP</text><text font-size="16.91" font-weight="bold" text-anchor="middle" transform="translate(1655.9 655.2) scale(0.972 1)" >WTOTUD7A</text><text font-size="16.91" font-weight="bold" text-anchor="middle" transform="translate(1758.3 655.2) scale(0.972 1)" >OTUD7A</text><text font-size="16.91" font-weight="bold" text-anchor="middle" transform="translate(1758.3 675.0) scale(0.972 1)" >N492_K494del</text><text font-size="16.91" font-weight="bold" text-anchor="middle" transform="translate(1873.9 655.2) scale(0.972 1)" >OTUD7A L233F</text><text font-size="16.69" font-weight="bold" text-anchor="middle" transform="translate(1430.0 494.3) rotate(-90) scale(0.958 1)" >Ankyrin-G-270/β-actin</text><text font-size="16.69" font-weight="bold" text-anchor="middle" transform="translate(1448.8 507.2) rotate(-90) scale(0.963 1)" >(Normalized to TurboGFP Expression)</text><text font-size="46.49" font-weight="bold" transform="translate(1379.31 692.20) scale(1.018 1)">g</text><path d="M1533.7 967.7a3.8 3.8 0 1 0 7.6 0a3.8 3.8 0 1 0 -7.6 0zM1549 965.7a3.8 3.8 0 1 0 7.6 0a3.8 3.8 0 1 0 -7.6 0zM1541.2 983a3.8 3.8 0 1 0 7.6 0a3.8 3.8 0 1 0 -7.6 0zM1541.2 1011.6a3.8 3.8 0 1 0 7.6 0a3.8 3.8 0 1 0 -7.6 0z" fill="#6e6869"/><path d="M1646.7 811.3h7.4v7.4h-7.4zM1646.7 916.7h7.4v7.4h-7.4zM1646.7 931h7.4v7.4h-7.4zM1646.7 956.2h7.4v7.4h-7.4z" fill="#a8aae0"/><path d="M1755.2 890.9l4.1 7.5h-8.2zM1747.7 929.3l4.1 7.5h-8.2zM1762.7 935.4l4.1 7.5h-8.2zM1747.7 941.9l4.1 7.5h-8.2z" fill="#f9c791"/><path d="M1860.3 937.7l4.1 -7.5h-8.2zM1852.8 956.1l4.1 -7.5h-8.2zM1868.1 956.8l4.1 -7.5h-8.2zM1860.3 981.6l4.1 -7.5h-8.2z" fill="#a3e29b"/><polyline points="1511.6,1019.1 1511.6,983.0 1578.7,983.0 1578.7,1019.1" fill="none" stroke="#000000" stroke-width="3.0" stroke-linejoin="miter" /><path d="M1545 971.4V993.2M1526.8 971.4h36.4M1526.8 993.2h36.4" fill="none" stroke="#000000" stroke-width="3.0"/><line x1="1545.0" y1="1019.1" x2="1545.0" y2="1024.6" stroke="#000" stroke-width="3.0" stroke-linecap="butt" /><polyline points="1616.7,1019.1 1616.7,908.2 1683.8,908.2 1683.8,1019.1" fill="none" stroke="#3f4eb4" stroke-width="3.0" stroke-linejoin="miter" /><path d="M1650.4 875.5V939.5M1632.2 875.5h36.4M1632.2 939.5h36.4" fill="none" stroke="#3f4eb4" stroke-width="3.0"/><line x1="1650.4" y1="1019.1" x2="1650.4" y2="1024.6" stroke="#000" stroke-width="3.0" stroke-linecap="butt" /><polyline points="1722.2,1019.1 1722.2,927.9 1788.9,927.9 1788.9,1019.1" fill="none" stroke="#f28b0c" stroke-width="3.0" stroke-linejoin="miter" /><path d="M1755.2 915.7V939.1M1737 915.7h36.4M1737 939.1h36.4" fill="none" stroke="#f28b0c" stroke-width="3.0"/><line x1="1755.2" y1="1019.1" x2="1755.2" y2="1024.6" stroke="#000" stroke-width="3.0" stroke-linecap="butt" /><polyline points="1827.3,1019.1 1827.3,955.1 1894.0,955.1 1894.0,1019.1" fill="none" stroke="#1cb31c" stroke-width="3.0" stroke-linejoin="miter" /><path d="M1860.3 945.6V964M1842.1 945.6h36.4M1842.1 964h36.4" fill="none" stroke="#1cb31c" stroke-width="3.0"/><line x1="1860.3" y1="1019.1" x2="1860.3" y2="1024.6" stroke="#000" stroke-width="3.0" stroke-linecap="butt" /><line x1="1492.3" y1="766.4" x2="1492.3" y2="1020.8" stroke="#000" stroke-width="3.4" stroke-linecap="butt" /><line x1="1489.5" y1="1019.1" x2="1913.0" y2="1019.1" stroke="#000" stroke-width="3.4" stroke-linecap="butt" /><line x1="1487.9" y1="768.0" x2="1492.3" y2="768.0" stroke="#000" stroke-width="3.2" stroke-linecap="butt" /><text font-size="15.19" font-weight="bold" text-anchor="end" transform="translate(1486.5 772.4) scale(0.935 1)" >0.6</text><line x1="1487.9" y1="851.4" x2="1492.3" y2="851.4" stroke="#000" stroke-width="3.2" stroke-linecap="butt" /><text font-size="15.19" font-weight="bold" text-anchor="end" transform="translate(1486.5 855.8) scale(0.935 1)" >0.4</text><line x1="1487.9" y1="935.4" x2="1492.3" y2="935.4" stroke="#000" stroke-width="3.2" stroke-linecap="butt" /><text font-size="15.19" font-weight="bold" text-anchor="end" transform="translate(1486.5 939.8) scale(0.935 1)" >0.2</text><line x1="1487.9" y1="1019.1" x2="1492.3" y2="1019.1" stroke="#000" stroke-width="3.2" stroke-linecap="butt" /><text font-size="15.19" font-weight="bold" text-anchor="end" transform="translate(1486.5 1023.5) scale(0.935 1)" >0.0</text><polyline points="1545.0,960.2 1545.0,801.4 1650.4,801.4 1650.4,809.5" fill="none" stroke="#000" stroke-width="3.3" stroke-linejoin="miter" /><text font-size="32.1" font-weight="bold" text-anchor="middle" transform="translate(1597.7 806.5) scale(0.935 1)" >*</text><polyline points="1545.0,795.2 1545.0,771.4 1755.2,771.4 1755.2,887.1" fill="none" stroke="#000" stroke-width="3.3" stroke-linejoin="miter" /><text x="1652.8" y="763.9" font-size="19.5" text-anchor="middle">ns</text><polyline points="1545.0,764.6 1545.0,739.1 1860.3,739.1 1860.3,927.2" fill="none" stroke="#000" stroke-width="3.3" stroke-linejoin="miter" /><text x="1704.9" y="731.6" font-size="19.5" text-anchor="middle">ns</text><text font-size="16.91" font-weight="bold" text-anchor="middle" transform="translate(1551.1 1039.4) scale(0.972 1)" >TurboGFP</text><text font-size="16.91" font-weight="bold" text-anchor="middle" transform="translate(1653.8 1039.4) scale(0.972 1)" >WTOTUD7A</text><text font-size="16.91" font-weight="bold" text-anchor="middle" transform="translate(1752.5 1039.4) scale(0.972 1)" >OTUD7A</text><text font-size="16.91" font-weight="bold" text-anchor="middle" transform="translate(1752.5 1059.2) scale(0.972 1)" >N492_K494del</text><text font-size="16.91" font-weight="bold" text-anchor="middle" transform="translate(1862.0 1039.4) scale(0.972 1)" >OTUD7A L233F</text><text font-size="16.69" font-weight="bold" text-anchor="middle" transform="translate(1430.0 891.5) rotate(-90) scale(0.958 1)" >Ankyrin-G-190/β-actin</text><text font-size="16.69" font-weight="bold" text-anchor="middle" transform="translate(1448.8 885.4) rotate(-90) scale(0.963 1)" >(Normalized to TurboGFP Expression)</text><text font-size="46.48" font-weight="bold" transform="translate(1379.56 1092.00) scale(0.999 1)">h</text><path d="M1557.8 1252.2a3.8 3.8 0 1 0 7.6 0a3.8 3.8 0 1 0 -7.6 0zM1572.8 1248.8a3.8 3.8 0 1 0 7.6 0a3.8 3.8 0 1 0 -7.6 0zM1565.7 1273.6a3.8 3.8 0 1 0 7.6 0a3.8 3.8 0 1 0 -7.6 0zM1565.7 1328.7a3.8 3.8 0 1 0 7.6 0a3.8 3.8 0 1 0 -7.6 0z" fill="#6e6869"/><path d="M1707.6 1167.5h7.4v7.4h-7.4zM1707.6 1198.5h7.4v7.4h-7.4zM1707.6 1216.9h7.4v7.4h-7.4zM1707.6 1229.8h7.4v7.4h-7.4z" fill="#a8aae0"/><path d="M1845.3 1280.8l4.1 7.5h-8.2zM1860.3 1275.7l4.1 7.5h-8.2zM1852.8 1291l4.1 7.5h-8.2zM1852.8 1332.8l4.1 7.5h-8.2z" fill="#f9c791"/><polyline points="1524.2,1377.0 1524.2,1276.7 1614.4,1276.7 1614.4,1377.0" fill="none" stroke="#000000" stroke-width="3.0" stroke-linejoin="miter" /><path d="M1569.5 1257.3V1294.4M1545 1257.3h49M1545 1294.4h49" fill="none" stroke="#000000" stroke-width="3.0"/><line x1="1569.5" y1="1377.0" x2="1569.5" y2="1382.5" stroke="#000" stroke-width="3.0" stroke-linecap="butt" /><polyline points="1666.1,1377.0 1666.1,1208.0 1756.6,1208.0 1756.6,1377.0" fill="none" stroke="#3f4eb4" stroke-width="3.0" stroke-linejoin="miter" /><path d="M1711.3 1193.3V1220.2M1686.8 1193.3h49M1686.8 1220.2h49" fill="none" stroke="#3f4eb4" stroke-width="3.0"/><line x1="1711.3" y1="1377.0" x2="1711.3" y2="1382.5" stroke="#000" stroke-width="3.0" stroke-linecap="butt" /><polyline points="1807.6,1377.0 1807.6,1303.9 1898.4,1303.9 1898.4,1377.0" fill="none" stroke="#f28b0c" stroke-width="3.0" stroke-linejoin="miter" /><path d="M1852.8 1290.3V1316.5M1828.3 1290.3h49M1828.3 1316.5h49" fill="none" stroke="#f28b0c" stroke-width="3.0"/><line x1="1852.8" y1="1377.0" x2="1852.8" y2="1382.5" stroke="#000" stroke-width="3.0" stroke-linecap="butt" /><line x1="1497.4" y1="1121.3" x2="1497.4" y2="1378.7" stroke="#000" stroke-width="3.4" stroke-linecap="butt" /><line x1="1495.0" y1="1377.0" x2="1924.3" y2="1377.0" stroke="#000" stroke-width="3.4" stroke-linecap="butt" /><line x1="1493.0" y1="1122.9" x2="1497.4" y2="1122.9" stroke="#000" stroke-width="3.2" stroke-linecap="butt" /><text font-size="15.19" font-weight="bold" text-anchor="end" transform="translate(1491.6 1127.3) scale(0.935 1)" >0.5</text><line x1="1493.0" y1="1173.3" x2="1497.4" y2="1173.3" stroke="#000" stroke-width="3.2" stroke-linecap="butt" /><text font-size="15.19" font-weight="bold" text-anchor="end" transform="translate(1491.6 1177.7) scale(0.935 1)" >0.4</text><line x1="1493.0" y1="1224.3" x2="1497.4" y2="1224.3" stroke="#000" stroke-width="3.2" stroke-linecap="butt" /><text font-size="15.19" font-weight="bold" text-anchor="end" transform="translate(1491.6 1228.7) scale(0.935 1)" >0.3</text><line x1="1493.0" y1="1275.3" x2="1497.4" y2="1275.3" stroke="#000" stroke-width="3.2" stroke-linecap="butt" /><text font-size="15.19" font-weight="bold" text-anchor="end" transform="translate(1491.6 1279.7) scale(0.935 1)" >0.2</text><line x1="1493.0" y1="1326.0" x2="1497.4" y2="1326.0" stroke="#000" stroke-width="3.2" stroke-linecap="butt" /><text font-size="15.19" font-weight="bold" text-anchor="end" transform="translate(1491.6 1330.4) scale(0.935 1)" >0.1</text><line x1="1493.0" y1="1377.0" x2="1497.4" y2="1377.0" stroke="#000" stroke-width="3.2" stroke-linecap="butt" /><text font-size="15.19" font-weight="bold" text-anchor="end" transform="translate(1491.6 1381.4) scale(0.935 1)" >0.0</text><polyline points="1569.5,1242.0 1569.5,1157.6 1711.3,1157.6 1711.3,1163.7" fill="none" stroke="#000" stroke-width="3.3" stroke-linejoin="miter" /><text font-size="32.1" font-weight="bold" text-anchor="middle" transform="translate(1640.2 1161.4) scale(0.935 1)" >*</text><polyline points="1569.5,1149.1 1569.5,1125.3 1852.8,1125.3 1852.8,1271.6" fill="none" stroke="#000" stroke-width="3.3" stroke-linejoin="miter" /><text x="1712.7" y="1117.8" font-size="19.5" text-anchor="middle">ns</text><text font-size="16.91" font-weight="bold" text-anchor="middle" transform="translate(1578.3 1399.4) scale(0.972 1)" >WTOTUD7A</text><text font-size="16.91" font-weight="bold" text-anchor="middle" transform="translate(1710.0 1399.4) scale(0.972 1)" >OTUD7A</text><text font-size="16.91" font-weight="bold" text-anchor="middle" transform="translate(1710.0 1419.2) scale(0.972 1)" >N492_K494del</text><text font-size="16.91" font-weight="bold" text-anchor="middle" transform="translate(1864.0 1399.4) scale(0.972 1)" >OTUD7A L233F</text><text font-size="16.69" font-weight="bold" text-anchor="middle" transform="translate(1430.0 1253.9) rotate(-90) scale(0.958 1)" >OTUD7A-3XFLAG/β-actin</text><text font-size="16.69" font-weight="bold" text-anchor="middle" transform="translate(1448.8 1252.2) rotate(-90) scale(0.963 1)" >(Normalized to TurboGFP Expression)</text></g>
<g id="p_i"><text font-size="45.1" font-weight="bold" transform="translate(0.04 1428.90) scale(0.969 1)">i</text><text x="8.0" y="1567.1" font-size="31.05" font-weight="bold" textLength="120.0" lengthAdjust="spacingAndGlyphs">mCherry</text><text x="169.2" y="1567.4" font-size="31.05" font-weight="bold" textLength="293.5" lengthAdjust="spacingAndGlyphs">Ankyrin-G-190-EGFP</text><circle cx="65.6" cy="1620.7" r="33.8" fill="none" stroke="#161616" stroke-width="5.4" /><path d="M61.48 1587.15A33.8 33.8 0 0 1 99.07 1616.00" fill="none" stroke="#c5321d" stroke-width="5.4" /><polygon points="92.2,1615.2 106.6,1614.8 100.0,1623.2" fill="#c5321d" stroke="none" stroke-width="1" /><circle cx="238.7" cy="1620.7" r="33.8" fill="none" stroke="#161616" stroke-width="5.4" /><path d="M234.58 1587.15A33.8 33.8 0 0 1 272.17 1616.00" fill="none" stroke="#bdbdbd" stroke-width="5.4" /><polygon points="265.3,1615.2 279.7,1614.8 273.1,1623.2" fill="#bdbdbd" stroke="none" stroke-width="1" /><path d="M109.5 1635.0Q130.0 1637.0 134.8 1660.3" fill="none" stroke="#1a1a1a" stroke-width="2.2" stroke-linecap="round"/><polygon points="137.5,1667.0 129.0,1660.7 139.2,1656.6" fill="#1a1a1a" stroke="none" stroke-width="1" /><path d="M195.3 1635.0Q175.0 1637.0 168.2 1660.3" fill="none" stroke="#1a1a1a" stroke-width="2.2" stroke-linecap="round"/><polygon points="165.5,1667.0 163.8,1656.6 174.0,1660.7" fill="#1a1a1a" stroke="none" stroke-width="1" /><use href="#dishg" transform="translate(159.1 1733.4)"/><text x="11.0" y="1859.4" font-size="27.43" font-weight="bold" textLength="301.7" lengthAdjust="spacingAndGlyphs">Mouse Cortical Neurons</text><linearGradient id="gaI" gradientUnits="userSpaceOnUse" x1="290" y1="0" x2="320" y2="0"><stop offset="0" stop-color="#1a1a1a" stop-opacity="0.15"/><stop offset="1" stop-color="#1a1a1a"/></linearGradient><path d="M290 1725.9L350 1724.7L393 1724.7L393 1727.1000000000001L350 1727.1000000000001Z" fill="url(#gaI)"/><polygon points="405.0,1725.9 392.0,1719.4 392.0,1732.4" fill="#1a1a1a" stroke="none" stroke-width="1" /><text x="412.5" y="1646.7" font-size="29.5" font-weight="bold" textLength="304.0" lengthAdjust="spacingAndGlyphs">Neuronal Morphology</text><path d="M522.2 1694.3L526.3 1693.0M520.6 1689.9L516.4 1691.6M518.7 1685.6L522.9 1683.6M516.6 1681.5L512.3 1683.9M514.1 1677.4L517.9 1675.0M511.4 1673.6L507.5 1676.5M508.3 1669.8L510.7 1667.8M523.4 1694.8L527.4 1694.6M523.1 1690.7L518.2 1691.2M522.4 1686.5L526.7 1685.7M521.4 1682.4L516.8 1683.7M520.1 1678.3L523.2 1677.2M518.5 1674.2L514.8 1675.8M516.5 1670.1L519.6 1668.4M524.5 1694.8L528.5 1695.6M525.2 1690.7L521.0 1690.1M525.5 1686.5L528.6 1686.7M525.6 1682.4L522.1 1682.5M525.3 1678.3L528.9 1677.9M524.6 1674.2L519.9 1675.1M523.7 1670.1L528.1 1668.9M526.3 1696.2L528.7 1698.6M528.7 1693.4L525.0 1690.6M530.8 1690.4L533.6 1692.1M532.5 1687.2L528.6 1685.4M533.8 1683.9L537.0 1684.9M534.8 1680.4L531.8 1679.7M535.4 1676.7L540.2 1677.2M530.8 1691.6L533.0 1694.3M532.7 1690.1L530.4 1687.4M534.4 1688.6L537.7 1692.3M535.9 1687.2L532.6 1683.8M537.3 1685.8L539.9 1688.3M538.5 1684.4L534.7 1681.2M539.6 1683.1L542.8 1685.6M520.2 1698.3L521.1 1694.0M517.0 1697.5L516.1 1700.9M513.6 1696.6L515.1 1691.9M510.3 1695.5L508.8 1699.6M506.8 1694.2L508.6 1689.6M503.3 1692.7L501.4 1697.1M499.8 1691.1L501.4 1687.8M511.4 1691.6L513.7 1688.5M509.4 1690.0L507.3 1692.7M507.4 1688.5L509.5 1685.9M505.5 1687.0L503.5 1689.6M503.6 1685.5L505.8 1682.7M501.7 1684.1L499.1 1687.4M499.9 1682.6L501.8 1680.2M510.2 1695.3L509.3 1691.0M508.9 1695.5L509.7 1699.2M507.7 1695.8L506.9 1692.2M506.5 1696.1L507.4 1700.6M505.2 1696.3L504.4 1692.4M504.0 1696.6L504.8 1700.2M502.8 1696.8L502.0 1692.9M475.3 1731.9L474.5 1727.5M469.7 1732.8L470.2 1736.0M463.8 1733.6L463.3 1728.6M457.6 1734.1L457.7 1737.2M451.0 1734.3L450.9 1729.8M444.2 1734.4L444.1 1739.1M437.0 1734.2L437.2 1731.1M477.4 1726.6L481.0 1723.6M474.1 1722.8L471.4 1725.5M470.6 1719.5L473.3 1716.4M466.9 1716.7L465.1 1719.2M463.0 1714.3L464.6 1711.5M459.0 1712.3L457.6 1715.4M454.8 1710.7L456.3 1706.0M478.4 1734.1L475.6 1732.0M475.7 1737.2L479.0 1740.4M472.7 1739.8L469.8 1736.0M469.4 1742.1L471.8 1746.3M465.6 1744.0L464.1 1740.6M461.5 1745.5L462.6 1749.1M457.0 1746.7L456.1 1742.7M473.2 1742.4L469.3 1739.9M471.3 1745.0L473.9 1747.0M469.3 1747.4L466.0 1744.2M467.0 1749.5L469.9 1753.0M464.5 1751.2L462.0 1747.2M461.9 1752.7L463.2 1755.6M459.0 1754.0L457.3 1749.3M466.1 1715.3L468.1 1712.8M465.0 1714.6L463.1 1717.8M463.9 1714.0L465.5 1710.1M462.7 1713.7L461.7 1718.4M461.5 1713.5L461.7 1709.8M460.3 1713.5L460.8 1718.4M459.1 1713.8L458.1 1709.7M527.9 1761.1L524.2 1761.2M527.8 1766.3L531.5 1766.5M527.5 1771.3L524.0 1771.0M526.9 1776.2L530.1 1776.7M526.0 1780.9L522.7 1780.2M524.9 1785.5L529.1 1786.7M523.5 1789.9L518.7 1788.3M530.0 1756.8L528.3 1759.8M532.1 1758.2L534.1 1755.8M533.9 1760.1L530.1 1763.4M535.6 1762.5L539.1 1760.3M537.1 1765.2L533.6 1766.9M538.4 1768.5L541.8 1767.3M539.6 1772.1L535.5 1773.2M525.0 1756.8L522.9 1752.7M522.6 1758.4L525.0 1761.5M520.4 1760.4L517.5 1757.8M518.5 1763.0L521.1 1764.8M516.7 1766.1L512.3 1764.0M515.2 1769.7L518.2 1770.8M514.0 1773.8L510.1 1772.8M518.7 1754.5L519.0 1749.8M516.4 1754.5L516.7 1757.9M514.3 1754.9L513.0 1750.6M512.4 1755.7L514.7 1760.1M510.7 1756.8L508.0 1753.5M509.2 1758.3L512.7 1761.3M507.8 1760.2L505.0 1758.4M529.1 1776.7L525.7 1778.6M530.5 1779.1L533.4 1777.3M532.1 1781.5L528.2 1784.1M533.7 1783.8L536.6 1781.6M535.4 1786.0L532.3 1788.5M537.2 1788.1L541.0 1784.8M539.1 1790.1L535.7 1793.4M540.0 1765.0L538.1 1769.6M541.2 1765.6L543.0 1762.0M542.3 1766.2L540.2 1769.6M543.2 1766.8L546.0 1763.3M543.9 1767.5L540.9 1770.2M544.4 1768.2L547.6 1766.3M544.8 1768.9L541.1 1770.1M516.9 1769.1L513.7 1770.0M517.2 1770.7L521.0 1770.4M517.2 1772.1L512.2 1771.4M516.8 1773.4L521.4 1775.3M516.1 1774.5L512.8 1771.8M515.1 1775.5L517.6 1778.7M513.8 1776.3L512.1 1773.0" fill="none" stroke="#e14e52" stroke-width="1.3" stroke-linecap="round"/><path d="M532.7 1725.3Q592.5 1729.8 654.3 1724.9" fill="none" stroke="#e14e52" stroke-width="5.92" stroke-linecap="round"/><path d="M652.4 1724.9Q667.8 1718.2 677.4 1707.6" fill="none" stroke="#e14e52" stroke-width="4.76" stroke-linecap="round"/><path d="M677.4 1707.6Q681.7 1701.8 683.8 1693.7" fill="none" stroke="#e14e52" stroke-width="3.41" stroke-linecap="round"/><path d="M674.6 1710.5Q674.0 1704.7 672.8 1699.8" fill="none" stroke="#e14e52" stroke-width="3.02" stroke-linecap="round"/><path d="M677.4 1707.6Q692.9 1708.5 701.6 1718.4" fill="none" stroke="#e14e52" stroke-width="3.22" stroke-linecap="round"/><path d="M668.8 1717.8Q684.2 1716.3 688.6 1726.5" fill="none" stroke="#e14e52" stroke-width="3.02" stroke-linecap="round"/><path d="M652.4 1724.9Q663.9 1730.7 677.4 1739.8" fill="none" stroke="#e14e52" stroke-width="4.57" stroke-linecap="round"/><path d="M677.4 1739.8Q691.0 1737.5 699.6 1731.3" fill="none" stroke="#e14e52" stroke-width="3.22" stroke-linecap="round"/><path d="M677.4 1739.8Q682.3 1751.0 687.7 1762.8" fill="none" stroke="#e14e52" stroke-width="3.41" stroke-linecap="round"/><path d="M667.8 1733.6Q668.2 1747.1 669.7 1757.9" fill="none" stroke="#e14e52" stroke-width="3.02" stroke-linecap="round"/><path d="M525.0 1718.2Q522.7 1708.5 523.5 1698.9" fill="none" stroke="#e14e52" stroke-width="5.10" stroke-linecap="round"/><path d="M523.5 1698.9Q519.2 1681.5 506.7 1668.0" fill="none" stroke="#e14e52" stroke-width="3.14" stroke-linecap="round"/><path d="M523.5 1698.9Q524.0 1683.4 515.4 1668.0" fill="none" stroke="#e14e52" stroke-width="2.86" stroke-linecap="round"/><path d="M523.5 1698.9Q527.9 1683.4 523.1 1668.0" fill="none" stroke="#e14e52" stroke-width="2.86" stroke-linecap="round"/><path d="M523.5 1698.9Q534.6 1689.2 535.6 1674.8" fill="none" stroke="#e14e52" stroke-width="2.86" stroke-linecap="round"/><path d="M528.9 1693.1Q536.6 1687.3 540.1 1682.5" fill="none" stroke="#e14e52" stroke-width="2.30" stroke-linecap="round"/><path d="M523.5 1698.9Q511.5 1697.0 498.0 1690.2" fill="none" stroke="#e14e52" stroke-width="2.86" stroke-linecap="round"/><path d="M513.4 1693.1Q505.7 1687.3 498.9 1681.9" fill="none" stroke="#e14e52" stroke-width="2.30" stroke-linecap="round"/><path d="M511.5 1695.0Q506.7 1696.0 502.2 1697.0" fill="none" stroke="#e14e52" stroke-width="2.30" stroke-linecap="round"/><path d="M517.3 1725.9Q499.9 1727.8 480.6 1730.7" fill="none" stroke="#e14e52" stroke-width="4.82" stroke-linecap="round"/><path d="M480.6 1730.7Q461.3 1735.5 433.3 1734.0" fill="none" stroke="#e14e52" stroke-width="3.42" stroke-linecap="round"/><path d="M480.6 1730.7Q469.0 1714.3 452.6 1710.1" fill="none" stroke="#e14e52" stroke-width="3.14" stroke-linecap="round"/><path d="M480.6 1730.7Q472.9 1744.2 454.6 1747.1" fill="none" stroke="#e14e52" stroke-width="2.86" stroke-linecap="round"/><path d="M474.8 1739.4Q469.0 1751.0 457.5 1754.5" fill="none" stroke="#e14e52" stroke-width="2.58" stroke-linecap="round"/><path d="M467.1 1716.3Q463.2 1712.4 458.4 1713.9" fill="none" stroke="#e14e52" stroke-width="2.30" stroke-linecap="round"/><path d="M527.3 1734.6Q526.9 1745.2 527.7 1755.8" fill="none" stroke="#e14e52" stroke-width="4.82" stroke-linecap="round"/><path d="M527.7 1755.8Q528.9 1776.1 522.7 1792.1" fill="none" stroke="#e14e52" stroke-width="3.14" stroke-linecap="round"/><path d="M527.7 1755.8Q536.6 1758.7 540.1 1774.1" fill="none" stroke="#e14e52" stroke-width="2.86" stroke-linecap="round"/><path d="M527.7 1755.8Q517.3 1758.7 513.4 1776.1" fill="none" stroke="#e14e52" stroke-width="2.86" stroke-linecap="round"/><path d="M521.1 1754.8Q511.5 1752.9 507.2 1761.2" fill="none" stroke="#e14e52" stroke-width="2.58" stroke-linecap="round"/><path d="M527.7 1774.1Q532.7 1783.8 540.1 1791.1" fill="none" stroke="#e14e52" stroke-width="2.58" stroke-linecap="round"/><path d="M538.5 1764.5Q544.3 1766.4 544.9 1769.3" fill="none" stroke="#e14e52" stroke-width="2.30" stroke-linecap="round"/><path d="M516.3 1767.4Q519.2 1774.1 513.0 1776.7" fill="none" stroke="#e14e52" stroke-width="2.30" stroke-linecap="round"/><circle cx="683.8" cy="1693.7" r="3.15" fill="#e14e52" stroke="none" stroke-width="1" /><circle cx="672.8" cy="1699.8" r="2.96" fill="#e14e52" stroke="none" stroke-width="1" /><circle cx="701.6" cy="1718.4" r="2.38" fill="#e14e52" stroke="none" stroke-width="1" /><circle cx="688.6" cy="1726.5" r="2.38" fill="#e14e52" stroke="none" stroke-width="1" /><circle cx="699.6" cy="1731.3" r="2.77" fill="#e14e52" stroke="none" stroke-width="1" /><circle cx="687.7" cy="1762.8" r="3.15" fill="#e14e52" stroke="none" stroke-width="1" /><circle cx="669.7" cy="1757.9" r="2.57" fill="#e14e52" stroke="none" stroke-width="1" /><circle cx="525.0" cy="1725.9" r="10.197000000000001" fill="#e14e52" stroke="none" stroke-width="1" /><path d="M532.7 1725.3Q592.5 1729.8 654.3 1724.9" fill="none" stroke="#f06b6c" stroke-width="5.02" stroke-linecap="round"/><path d="M652.4 1724.9Q667.8 1718.2 677.4 1707.6" fill="none" stroke="#f06b6c" stroke-width="3.86" stroke-linecap="round"/><path d="M677.4 1707.6Q681.7 1701.8 683.8 1693.7" fill="none" stroke="#f06b6c" stroke-width="2.51" stroke-linecap="round"/><path d="M674.6 1710.5Q674.0 1704.7 672.8 1699.8" fill="none" stroke="#f06b6c" stroke-width="2.12" stroke-linecap="round"/><path d="M677.4 1707.6Q692.9 1708.5 701.6 1718.4" fill="none" stroke="#f06b6c" stroke-width="2.32" stroke-linecap="round"/><path d="M668.8 1717.8Q684.2 1716.3 688.6 1726.5" fill="none" stroke="#f06b6c" stroke-width="2.12" stroke-linecap="round"/><path d="M652.4 1724.9Q663.9 1730.7 677.4 1739.8" fill="none" stroke="#f06b6c" stroke-width="3.67" stroke-linecap="round"/><path d="M677.4 1739.8Q691.0 1737.5 699.6 1731.3" fill="none" stroke="#f06b6c" stroke-width="2.32" stroke-linecap="round"/><path d="M677.4 1739.8Q682.3 1751.0 687.7 1762.8" fill="none" stroke="#f06b6c" stroke-width="2.51" stroke-linecap="round"/><path d="M667.8 1733.6Q668.2 1747.1 669.7 1757.9" fill="none" stroke="#f06b6c" stroke-width="2.12" stroke-linecap="round"/><path d="M525.0 1718.2Q522.7 1708.5 523.5 1698.9" fill="none" stroke="#f06b6c" stroke-width="4.20" stroke-linecap="round"/><path d="M523.5 1698.9Q519.2 1681.5 506.7 1668.0" fill="none" stroke="#f06b6c" stroke-width="2.24" stroke-linecap="round"/><path d="M523.5 1698.9Q524.0 1683.4 515.4 1668.0" fill="none" stroke="#f06b6c" stroke-width="1.96" stroke-linecap="round"/><path d="M523.5 1698.9Q527.9 1683.4 523.1 1668.0" fill="none" stroke="#f06b6c" stroke-width="1.96" stroke-linecap="round"/><path d="M523.5 1698.9Q534.6 1689.2 535.6 1674.8" fill="none" stroke="#f06b6c" stroke-width="1.96" stroke-linecap="round"/><path d="M528.9 1693.1Q536.6 1687.3 540.1 1682.5" fill="none" stroke="#f06b6c" stroke-width="1.40" stroke-linecap="round"/><path d="M523.5 1698.9Q511.5 1697.0 498.0 1690.2" fill="none" stroke="#f06b6c" stroke-width="1.96" stroke-linecap="round"/><path d="M513.4 1693.1Q505.7 1687.3 498.9 1681.9" fill="none" stroke="#f06b6c" stroke-width="1.40" stroke-linecap="round"/><path d="M511.5 1695.0Q506.7 1696.0 502.2 1697.0" fill="none" stroke="#f06b6c" stroke-width="1.40" stroke-linecap="round"/><path d="M517.3 1725.9Q499.9 1727.8 480.6 1730.7" fill="none" stroke="#f06b6c" stroke-width="3.92" stroke-linecap="round"/><path d="M480.6 1730.7Q461.3 1735.5 433.3 1734.0" fill="none" stroke="#f06b6c" stroke-width="2.52" stroke-linecap="round"/><path d="M480.6 1730.7Q469.0 1714.3 452.6 1710.1" fill="none" stroke="#f06b6c" stroke-width="2.24" stroke-linecap="round"/><path d="M480.6 1730.7Q472.9 1744.2 454.6 1747.1" fill="none" stroke="#f06b6c" stroke-width="1.96" stroke-linecap="round"/><path d="M474.8 1739.4Q469.0 1751.0 457.5 1754.5" fill="none" stroke="#f06b6c" stroke-width="1.68" stroke-linecap="round"/><path d="M467.1 1716.3Q463.2 1712.4 458.4 1713.9" fill="none" stroke="#f06b6c" stroke-width="1.40" stroke-linecap="round"/><path d="M527.3 1734.6Q526.9 1745.2 527.7 1755.8" fill="none" stroke="#f06b6c" stroke-width="3.92" stroke-linecap="round"/><path d="M527.7 1755.8Q528.9 1776.1 522.7 1792.1" fill="none" stroke="#f06b6c" stroke-width="2.24" stroke-linecap="round"/><path d="M527.7 1755.8Q536.6 1758.7 540.1 1774.1" fill="none" stroke="#f06b6c" stroke-width="1.96" stroke-linecap="round"/><path d="M527.7 1755.8Q517.3 1758.7 513.4 1776.1" fill="none" stroke="#f06b6c" stroke-width="1.96" stroke-linecap="round"/><path d="M521.1 1754.8Q511.5 1752.9 507.2 1761.2" fill="none" stroke="#f06b6c" stroke-width="1.68" stroke-linecap="round"/><path d="M527.7 1774.1Q532.7 1783.8 540.1 1791.1" fill="none" stroke="#f06b6c" stroke-width="1.68" stroke-linecap="round"/><path d="M538.5 1764.5Q544.3 1766.4 544.9 1769.3" fill="none" stroke="#f06b6c" stroke-width="1.40" stroke-linecap="round"/><path d="M516.3 1767.4Q519.2 1774.1 513.0 1776.7" fill="none" stroke="#f06b6c" stroke-width="1.40" stroke-linecap="round"/><circle cx="683.8" cy="1693.7" r="2.70" fill="#f06b6c" stroke="none" stroke-width="1" /><circle cx="672.8" cy="1699.8" r="2.51" fill="#f06b6c" stroke="none" stroke-width="1" /><circle cx="701.6" cy="1718.4" r="1.93" fill="#f06b6c" stroke="none" stroke-width="1" /><circle cx="688.6" cy="1726.5" r="1.93" fill="#f06b6c" stroke="none" stroke-width="1" /><circle cx="699.6" cy="1731.3" r="2.32" fill="#f06b6c" stroke="none" stroke-width="1" /><circle cx="687.7" cy="1762.8" r="2.70" fill="#f06b6c" stroke="none" stroke-width="1" /><circle cx="669.7" cy="1757.9" r="2.12" fill="#f06b6c" stroke="none" stroke-width="1" /><circle cx="525.0" cy="1725.9" r="9.682" fill="#f06b6c" stroke="none" stroke-width="1" /><path d="M512.0 1724.9Q521.0 1723.9 524.5 1712.9Q527.0 1722.9 538.0 1724.4Q528.0 1728.9 527.2 1738.9Q523.0 1728.9 512.0 1727.9Z" fill="#f06b6c" stroke="none" stroke-width="1" /><circle cx="525.0" cy="1725.9" r="5.3" fill="#d9363b" stroke="none" stroke-width="1" /><circle cx="525.3" cy="1726.1" r="1.5" fill="#b8262c" stroke="none" stroke-width="1" /></g>
<g id="p_j"><text font-size="45.99" font-weight="bold" transform="translate(779.91 1429.54) scale(1.040 1)">j</text><text font-size="28.6" text-anchor="middle" transform="translate(911.5 1490.0) scale(0.92 1)" >WT</text><text font-size="28.6" text-anchor="middle" transform="translate(1128.8 1490.0) scale(0.93 1)" >Df(h15q13)/+</text><text font-size="28.6" text-anchor="middle" transform="translate(800.7 1583.4) rotate(-90) scale(0.93 1)" >EGFP</text><text font-size="28.6" text-anchor="middle" transform="translate(773.8 1817.9) rotate(-90) scale(0.93 1)" >Ankyrin-G-190</text><text font-size="28.6" text-anchor="middle" transform="translate(805.6 1817.9) rotate(-90) scale(0.9 1)" >-EGFP</text><path d="M847.4 1675.0h1.2v1.2h-1.2zM872.0 1603.6h1.0v1.0h-1.0zM952.9 1663.1h0.7v0.7h-0.7zM825.8 1672.7h0.9v0.9h-0.9zM975.5 1503.4h1.0v1.0h-1.0zM967.2 1549.4h1.4v1.4h-1.4zM1003.9 1509.2h0.6v0.6h-0.6zM930.4 1693.6h0.9v0.9h-0.9zM864.2 1588.7h0.6v0.6h-0.6zM865.2 1591.9h1.0v1.0h-1.0zM867.5 1549.9h0.8v0.8h-0.8zM913.8 1561.8h0.6v0.6h-0.6zM990.9 1616.0h1.1v1.1h-1.1zM857.9 1704.5h1.3v1.3h-1.3zM844.7 1570.5h1.2v1.2h-1.2zM965.1 1693.1h0.9v0.9h-0.9zM989.3 1639.1h0.8v0.8h-0.8zM939.9 1682.1h1.3v1.3h-1.3z" fill="#000" fill-opacity="0.25"/><path d="M852.8 1526.0C853.8 1527.4 856.9 1531.3 858.7 1534.5C860.6 1537.7 862.6 1541.8 864.0 1545.1C865.4 1548.4 866.6 1551.0 867.3 1554.3C868.0 1557.6 867.6 1561.1 868.0 1564.8C868.3 1568.6 868.4 1573.2 869.3 1576.7C870.2 1580.2 872.6 1584.4 873.2 1585.9" fill="none" stroke="#000" stroke-width="0.8" stroke-linecap="round" stroke-linejoin="round" stroke-opacity="0.4" stroke-dasharray="2.5 1"/><path d="M955.6 1509.2C954.1 1509.9 950.2 1511.9 947.0 1513.4C943.8 1515.0 940.0 1517.1 936.5 1518.7C933.0 1520.4 929.4 1521.8 925.9 1523.3C922.4 1524.9 918.5 1525.8 915.4 1527.9C912.3 1530.0 908.8 1534.5 907.5 1535.8" fill="none" stroke="#000" stroke-width="0.8" stroke-linecap="round" stroke-linejoin="round" stroke-opacity="0.35" stroke-dasharray="2.5 1"/><path d="M818.6 1570.1C820.0 1571.2 824.2 1574.7 827.1 1576.7C830.1 1578.7 833.7 1579.7 836.3 1581.9C839.0 1584.1 840.7 1587.7 842.9 1589.8C845.1 1592.0 846.7 1593.4 849.5 1595.1C852.4 1596.9 858.3 1599.5 860.1 1600.4" fill="none" stroke="#000" stroke-width="0.8" stroke-linecap="round" stroke-linejoin="round" stroke-opacity="0.5" stroke-dasharray="2.5 1"/><path d="M819.2 1580.6C821.0 1581.3 825.8 1583.7 829.8 1584.6C833.7 1585.5 838.5 1585.8 842.9 1585.9C847.3 1586.0 851.7 1585.2 856.1 1585.2C860.5 1585.2 867.1 1585.8 869.3 1585.9" fill="none" stroke="#000" stroke-width="0.8" stroke-linecap="round" stroke-linejoin="round" stroke-opacity="0.4" stroke-dasharray="2.5 1"/><path d="M940.4 1645.2C939.3 1646.5 936.2 1650.4 933.8 1653.1C931.4 1655.7 928.6 1658.6 925.9 1661.0C923.3 1663.4 920.7 1664.9 918.0 1667.6C915.4 1670.2 912.8 1673.9 910.1 1676.8C907.5 1679.6 904.3 1682.5 902.2 1684.7C900.1 1686.9 897.9 1688.0 897.6 1690.0C897.3 1691.9 900.0 1694.1 900.2 1696.6C900.5 1699.0 899.1 1703.1 898.9 1704.5" fill="none" stroke="#000" stroke-width="0.8" stroke-linecap="round" stroke-linejoin="round" stroke-opacity="0.45" stroke-dasharray="2.5 1"/><path d="M941.7 1646.5C943.1 1648.0 947.0 1652.4 949.6 1655.7C952.3 1659.0 954.9 1662.7 957.5 1666.3C960.2 1669.8 963.0 1673.5 965.4 1676.8C967.9 1680.1 970.3 1683.4 972.0 1686.0C973.8 1688.7 975.4 1689.7 976.0 1692.6C976.6 1695.5 975.8 1701.4 975.7 1703.1" fill="none" stroke="#000" stroke-width="0.8" stroke-linecap="round" stroke-linejoin="round" stroke-opacity="0.4" stroke-dasharray="2.5 1"/><path d="M972.0 1650.4C973.4 1652.0 977.7 1656.4 979.9 1659.7C982.1 1663.0 983.2 1666.3 985.2 1670.2C987.2 1674.2 990.3 1679.2 991.8 1683.4C993.3 1687.6 993.3 1691.7 994.4 1695.2C995.5 1698.8 997.7 1702.9 998.4 1704.5" fill="none" stroke="#000" stroke-width="0.8" stroke-linecap="round" stroke-linejoin="round" stroke-opacity="0.4" stroke-dasharray="2.5 1"/><path d="M954.9 1639.9C957.1 1641.0 963.3 1644.5 968.1 1646.5C972.9 1648.5 979.1 1649.6 983.9 1651.8C988.7 1654.0 992.7 1657.0 997.1 1659.7C1001.5 1662.3 1006.1 1665.4 1010.2 1667.6C1014.4 1669.8 1020.1 1672.0 1022.1 1672.8" fill="none" stroke="#000" stroke-width="0.8" stroke-linecap="round" stroke-linejoin="round" stroke-opacity="0.3" stroke-dasharray="2.5 1"/><path d="M889.0 1653.1L889.7 1663.6" fill="none" stroke="#000" stroke-width="0.8" stroke-linecap="round" stroke-linejoin="round" stroke-opacity="0.3" stroke-dasharray="2.5 1"/><path d="M899.6 1500.3C899.8 1502.0 900.8 1507.3 900.9 1510.8C901.0 1514.3 900.3 1519.6 900.2 1521.3" fill="none" stroke="#000" stroke-width="0.8" stroke-linecap="round" stroke-linejoin="round" stroke-opacity="0.3" stroke-dasharray="2.5 1"/><path d="M819.2 1600.4C821.0 1599.9 825.8 1598.5 829.8 1597.8C833.7 1597.0 840.7 1596.1 842.9 1595.8" fill="none" stroke="#000" stroke-width="0.8" stroke-linecap="round" stroke-linejoin="round" stroke-opacity="0.2" stroke-dasharray="2.5 1"/><path d="M883.8 1613.6C884.0 1611.8 884.2 1606.1 885.1 1603.0C886.0 1599.9 888.4 1596.4 889.0 1595.1" fill="none" stroke="#000" stroke-width="0.8" stroke-linecap="round" stroke-linejoin="round" stroke-opacity="0.3" stroke-dasharray="2.5 1"/><path d="M894.3 1603.7C893.4 1602.3 890.8 1598.1 889.0 1595.1C887.3 1592.2 884.9 1588.5 883.8 1585.9C882.7 1583.3 882.2 1581.7 882.5 1579.3C882.7 1576.9 883.6 1573.2 885.1 1571.4C886.6 1569.6 889.3 1570.1 891.7 1568.8C894.1 1567.5 897.5 1565.5 899.6 1563.5C901.7 1561.5 903.1 1559.0 904.2 1556.9C905.2 1554.8 905.6 1552.0 905.9 1551.0" fill="none" stroke="#000" stroke-width="0.8" stroke-linecap="round" stroke-linejoin="round" stroke-opacity="0.8"/><path d="M895.0 1501.6C895.3 1503.1 896.3 1507.5 896.9 1510.8C897.6 1514.1 898.5 1518.3 898.9 1521.3C899.4 1524.4 898.9 1526.8 899.6 1529.3C900.2 1531.7 902.1 1533.4 902.9 1535.8C903.6 1538.3 903.7 1541.2 904.2 1543.7C904.7 1546.3 904.9 1549.1 905.9 1551.0C906.9 1552.9 908.1 1553.5 910.1 1554.9C912.1 1556.4 915.4 1558.1 918.0 1559.6C920.7 1561.0 923.6 1562.0 925.9 1563.5C928.2 1565.0 930.6 1566.6 931.9 1568.8C933.1 1571.0 933.3 1574.4 933.2 1576.7C933.1 1579.0 931.5 1581.6 931.2 1582.6" fill="none" stroke="#000" stroke-width="0.8" stroke-linecap="round" stroke-linejoin="round" stroke-opacity="0.8"/><path d="M907.5 1587.9C906.2 1587.5 902.7 1586.3 899.6 1585.9C896.5 1585.5 892.6 1585.2 889.0 1585.2C885.5 1585.2 881.6 1585.5 878.5 1585.9C875.4 1586.3 872.6 1586.3 870.6 1587.9C868.6 1589.4 868.1 1593.4 866.6 1595.1C865.2 1596.9 862.9 1597.1 862.0 1598.4C861.2 1599.7 861.0 1601.4 861.4 1603.0C861.7 1604.7 862.7 1606.9 864.0 1608.3C865.3 1609.7 867.1 1610.9 869.3 1611.6C871.5 1612.2 874.8 1611.9 877.2 1612.2C879.6 1612.6 881.6 1612.6 883.8 1613.6C886.0 1614.5 888.2 1617.0 890.4 1618.2C892.6 1619.4 895.8 1620.4 896.9 1620.8" fill="none" stroke="#000" stroke-width="0.96" stroke-linecap="round" stroke-linejoin="round" stroke-opacity="0.9"/><path d="M905.9 1551.0C906.1 1552.6 906.5 1557.5 906.8 1560.9C907.2 1564.3 907.6 1568.1 908.1 1571.4C908.7 1574.7 910.1 1577.8 910.1 1580.6C910.1 1583.5 908.5 1587.2 908.1 1588.5" fill="none" stroke="#000" stroke-width="0.6400000000000001" stroke-linecap="round" stroke-linejoin="round" stroke-opacity="0.6"/><path d="M947.7 1638.6C949.1 1639.5 953.3 1642.1 956.2 1643.9C959.2 1645.6 962.8 1646.7 965.4 1649.1C968.1 1651.5 969.6 1655.5 972.0 1658.4C974.4 1661.2 977.5 1664.4 979.9 1666.3C982.4 1668.1 984.1 1668.7 986.5 1669.5C988.9 1670.4 991.6 1670.5 994.4 1671.5C997.3 1672.5 1000.6 1674.2 1003.7 1675.5C1006.7 1676.8 1010.0 1677.7 1012.9 1679.4C1015.7 1681.2 1019.0 1684.5 1020.8 1686.0C1022.5 1687.6 1023.0 1688.2 1023.4 1688.7" fill="none" stroke="#000" stroke-width="0.8" stroke-linecap="round" stroke-linejoin="round" stroke-opacity="0.7"/><path d="M947.0 1637.3C948.3 1636.7 952.1 1635.0 954.9 1634.0C957.8 1633.0 960.8 1631.5 964.1 1631.3C967.4 1631.2 970.7 1632.6 974.7 1633.3C978.6 1634.1 983.5 1635.3 987.8 1636.0C992.2 1636.6 996.8 1637.2 1001.0 1637.0C1005.2 1636.8 1009.2 1635.3 1012.9 1634.6C1016.5 1634.0 1021.1 1633.3 1022.8 1633.1" fill="none" stroke="#000" stroke-width="0.96" stroke-linecap="round" stroke-linejoin="round" stroke-opacity="0.9"/><path d="M921.3 1603.7C921.9 1602.3 923.2 1597.9 924.6 1595.1C926.0 1592.4 927.9 1589.6 929.9 1587.2C931.9 1584.8 934.5 1582.8 936.5 1580.6C938.4 1578.4 940.3 1576.5 941.7 1574.0C943.2 1571.6 944.3 1568.8 945.0 1566.1C945.7 1563.5 945.7 1560.5 946.0 1558.2C946.2 1555.9 946.3 1553.3 946.3 1552.3" fill="none" stroke="#000" stroke-width="1.44" stroke-linecap="round" stroke-linejoin="round"/><path d="M946.3 1552.3C945.4 1551.2 942.2 1547.9 940.4 1545.7C938.7 1543.5 937.5 1541.0 935.8 1539.1C934.2 1537.3 931.6 1535.8 930.5 1534.5C929.4 1533.3 929.4 1532.1 929.2 1531.6" fill="none" stroke="#000" stroke-width="1.08" stroke-linecap="round" stroke-linejoin="round"/><path d="M946.3 1552.3C947.4 1551.5 951.1 1549.1 952.9 1547.7C954.8 1546.3 956.8 1544.4 957.5 1543.7" fill="none" stroke="#000" stroke-width="1.08" stroke-linecap="round" stroke-linejoin="round"/><path d="M935.8 1539.1L935.1 1534.5" fill="none" stroke="#000" stroke-width="0.72" stroke-linecap="round" stroke-linejoin="round"/><path d="M941.7 1574.0C943.1 1574.3 947.2 1574.7 949.6 1575.4C952.1 1576.0 954.2 1576.8 956.2 1578.0C958.2 1579.2 959.5 1580.8 961.5 1582.6C963.5 1584.4 966.1 1586.7 968.1 1588.5C970.1 1590.4 972.0 1592.0 973.4 1593.8C974.7 1595.6 976.0 1597.4 976.0 1599.1C976.0 1600.7 974.9 1602.3 973.4 1603.7C971.8 1605.1 969.8 1606.4 966.8 1607.6C963.7 1608.8 959.1 1610.4 954.9 1610.9C950.7 1611.5 945.5 1611.4 941.7 1610.9C938.0 1610.5 934.1 1608.7 932.5 1608.3" fill="none" stroke="#000" stroke-width="1.08" stroke-linecap="round" stroke-linejoin="round"/><path d="M961.5 1581.9C962.8 1581.9 966.8 1582.0 969.4 1581.9C972.0 1581.9 976.0 1581.7 977.3 1581.7" fill="none" stroke="#000" stroke-width="0.72" stroke-linecap="round" stroke-linejoin="round"/><path d="M943.1 1560.9C942.6 1562.2 941.3 1566.1 940.4 1568.8C939.5 1571.4 938.2 1575.4 937.8 1576.7" fill="none" stroke="#000" stroke-width="0.864" stroke-linecap="round" stroke-linejoin="round"/><path d="M923.3 1603.0C924.8 1602.1 929.2 1599.3 932.5 1597.8C935.8 1596.2 939.3 1594.8 943.1 1593.8C946.8 1592.8 951.2 1592.1 954.9 1591.8C958.6 1591.6 963.7 1592.2 965.4 1592.2" fill="none" stroke="#000" stroke-width="0.9359999999999999" stroke-linecap="round" stroke-linejoin="round"/><path d="M925.9 1604.3C927.7 1604.4 932.7 1605.0 936.5 1605.0C940.2 1605.0 945.0 1604.7 948.3 1604.3C951.6 1604.0 953.9 1603.5 956.2 1603.0C958.5 1602.6 961.2 1601.9 962.2 1601.7" fill="none" stroke="#000" stroke-width="0.9359999999999999" stroke-linecap="round" stroke-linejoin="round"/><path d="M946.3 1595.1C946.9 1596.0 948.7 1599.0 949.6 1600.4C950.6 1601.8 951.8 1603.1 952.3 1603.7" fill="none" stroke="#000" stroke-width="0.72" stroke-linecap="round" stroke-linejoin="round"/><path d="M924.6 1599.1C925.9 1597.5 929.7 1591.7 932.5 1589.8C935.4 1588.0 938.9 1588.1 941.7 1587.9C944.6 1587.6 948.3 1588.2 949.6 1588.3" fill="none" stroke="#000" stroke-width="0.72" stroke-linecap="round" stroke-linejoin="round"/><path d="M922.0 1605.7C922.9 1606.3 925.7 1608.1 927.2 1609.6C928.8 1611.1 930.1 1612.9 931.2 1614.9C932.3 1616.9 932.7 1619.3 933.8 1621.5C934.9 1623.7 936.2 1625.9 937.8 1628.1C939.3 1630.2 941.5 1632.7 943.1 1634.6C944.6 1636.6 945.9 1637.9 947.0 1639.9C948.1 1641.9 948.7 1644.4 949.6 1646.5C950.6 1648.6 951.5 1651.1 952.9 1652.4C954.4 1653.7 957.3 1654.1 958.2 1654.4" fill="none" stroke="#000" stroke-width="1.44" stroke-linecap="round" stroke-linejoin="round"/><path d="M933.8 1614.2C935.6 1614.8 940.9 1616.5 944.4 1617.5C947.9 1618.5 952.1 1619.2 954.9 1620.1C957.8 1621.1 959.3 1622.0 961.5 1623.4C963.7 1624.9 967.0 1627.8 968.1 1628.7" fill="none" stroke="#000" stroke-width="0.9359999999999999" stroke-linecap="round" stroke-linejoin="round"/><path d="M920.7 1605.7C920.2 1606.8 918.9 1610.0 918.0 1612.2C917.1 1614.4 916.7 1616.9 915.4 1618.8C914.1 1620.8 912.3 1622.3 910.1 1624.1C907.9 1625.9 904.8 1627.5 902.2 1629.4C899.6 1631.2 896.5 1633.8 894.3 1635.3C892.1 1636.8 890.6 1637.6 889.0 1638.6C887.5 1639.6 885.7 1640.8 885.1 1641.2" fill="none" stroke="#000" stroke-width="1.58" stroke-linecap="round" stroke-linejoin="round"/><path d="M885.1 1641.2C884.5 1642.3 882.6 1645.7 881.8 1647.8C881.0 1649.9 880.7 1652.8 880.5 1653.7" fill="none" stroke="#000" stroke-width="1.08" stroke-linecap="round" stroke-linejoin="round"/><path d="M889.0 1638.6C889.2 1639.9 889.4 1644.2 889.7 1646.5C890.0 1648.8 890.5 1651.4 890.6 1652.4" fill="none" stroke="#000" stroke-width="0.9359999999999999" stroke-linecap="round" stroke-linejoin="round"/><path d="M885.1 1641.2C884.0 1641.0 880.5 1639.5 878.5 1639.9C876.5 1640.3 874.4 1642.5 873.2 1643.9C872.1 1645.2 871.9 1647.2 871.7 1647.8" fill="none" stroke="#000" stroke-width="0.864" stroke-linecap="round" stroke-linejoin="round"/><path d="M895.6 1634.6C895.4 1635.7 894.9 1639.5 894.3 1641.2C893.8 1643.0 892.7 1644.5 892.3 1645.2" fill="none" stroke="#000" stroke-width="0.864" stroke-linecap="round" stroke-linejoin="round"/><path d="M915.4 1618.8C915.1 1620.1 914.2 1624.3 913.4 1626.7C912.6 1629.2 911.2 1632.2 910.8 1633.3" fill="none" stroke="#000" stroke-width="1.08" stroke-linecap="round" stroke-linejoin="round"/><path d="M920.0 1603.7C919.0 1603.1 916.2 1601.2 914.1 1600.4C912.0 1599.6 909.5 1599.7 907.5 1599.1C905.5 1598.4 903.1 1596.9 902.2 1596.4" fill="none" stroke="#000" stroke-width="1.08" stroke-linecap="round" stroke-linejoin="round"/><path d="M919.3 1604.3C917.8 1604.0 913.2 1602.7 910.1 1602.4C907.0 1602.0 903.5 1602.1 900.9 1602.4C898.3 1602.6 895.6 1602.9 894.3 1603.7C893.0 1604.4 893.2 1606.4 893.0 1607.0" fill="none" stroke="#000" stroke-width="0.9359999999999999" stroke-linecap="round" stroke-linejoin="round"/><path d="M918.7 1605.7C917.9 1606.5 915.7 1609.2 914.1 1610.9C912.4 1612.7 910.8 1615.0 908.8 1616.2C906.8 1617.4 903.3 1617.8 902.2 1618.2" fill="none" stroke="#000" stroke-width="0.864" stroke-linecap="round" stroke-linejoin="round"/><path d="M920.7 1602.4C920.2 1600.9 918.8 1596.3 918.0 1593.8C917.3 1591.3 915.8 1588.3 916.0 1587.2C916.3 1586.1 918.1 1586.6 919.3 1587.2C920.5 1587.9 922.6 1590.5 923.3 1591.2" fill="none" stroke="#000" stroke-width="0.864" stroke-linecap="round" stroke-linejoin="round"/><path d="M920.0 1605.0C918.8 1605.3 914.7 1606.0 912.8 1607.0C910.8 1608.0 908.9 1610.3 908.1 1610.9" fill="none" stroke="#000" stroke-width="0.72" stroke-linecap="round" stroke-linejoin="round"/><path d="M923 1599.4L921.3 1596.5L919.8 1594.3M923.5 1598L926.6 1597.2L929.2 1596.9M926.6 1592.2L928.2 1592.2L929.4 1591.9M929 1588.5L930.4 1588.4L931.4 1587.8M934.5 1582.6L936.2 1583L937.7 1582.9M930 1587.1L929.4 1583.6L928.2 1580.9M939.2 1577.2L941.2 1577.2L942.9 1577.2M944.9 1566.5L943.4 1563.2L943.6 1560.2M945.9 1558.7L943.9 1556.8L942.1 1555.3M946 1557.9L947.5 1556.9L948.8 1556.2M943.5 1549.1L943.6 1547.8L943.7 1546.7M936.8 1540.5L937.1 1539.2L937.1 1538.1M934.9 1538.3L931.8 1539.9L929 1540.4M929.5 1532.2L929.8 1528.3L928.8 1525.4M952.1 1548.3L955.4 1548L957.9 1547M953.4 1547.3L953.6 1545.8L953.3 1544.6M945.9 1574.7L947.9 1572.4L949.1 1570.3M954.3 1577.2L954.7 1578.5L955.1 1579.5M958.4 1579.9L960.4 1580L962 1580.3M967.9 1588.4L967.5 1589.7L967.7 1590.8M968.9 1589.3L971.5 1589.1L973.7 1588.8M975.5 1598.2L974.9 1601.2L974.6 1603.6M974.5 1601.7L972 1601.8L970.1 1601.4M972.5 1604.2L972.9 1606.3L972.6 1608M963.1 1608.7L961.4 1606.9L959.8 1605.8M966.7 1607.7L966.1 1609.4L965 1610.6M948.8 1610.9L947.3 1612.5L946.4 1614.2M946 1610.9L944.6 1608.8L944.2 1606.6M938.1 1609.9L936.1 1607.8L934.2 1606.3M939.1 1610.2L937.1 1611L935.3 1610.8M941 1567.1L939.1 1567.9L938 1569M939.4 1571.8L935.9 1571.8L933 1571.8M930.4 1599L931.1 1597.7L931.2 1596.6M924.8 1602.1L925.6 1600.1L926.2 1598.4M935.2 1596.7L937.1 1597.6L938.3 1598.8M938.9 1595.4L941.6 1596.1L943.8 1595.7M943.5 1593.7L945.8 1590.5L946.6 1587.3M944.5 1593.6L945.9 1590.4L946.7 1587.8M960.9 1592.1L963.3 1589L964.8 1586.3M958 1591.9L959.4 1590.4L960.8 1589.6M934.7 1604.9L935.5 1603.8L936 1602.9M934.6 1604.9L937.5 1603L939.9 1601.7M938.4 1604.9L940 1606L941.1 1607.1M937.7 1604.9L939 1607.4L939.3 1609.6M952.7 1603.6L954.2 1604.6L955.6 1605.2M956.4 1603L957.8 1604.6L959.1 1605.8M924.1 1607.2L927.3 1605.1L930.5 1604.7M927.7 1610.2L931 1609.5L933.7 1610M933.5 1620.6L932.3 1622.2L931.2 1623.4M935 1623.5L938.4 1624.3L941.3 1623.8M941.8 1633L944.8 1632.6L947.1 1633.4M944.6 1636.7L944.8 1638.5L944.5 1639.9M948.5 1643.7L948 1645.2L947.5 1646.4M952.3 1651.3L953.6 1651.8L954.7 1651.9M953.3 1652.6L954.3 1651.7L954.7 1650.6M941.7 1616.7L943.1 1620.1L945 1622.3M939.1 1615.9L941.6 1618.8L944.3 1620.4M952.5 1619.6L953.9 1617.8L954.3 1616.1M949.8 1618.9L951 1620.3L952 1621.4M959.7 1622.5L959.5 1625.5L959 1627.9M965.1 1626.4L967.6 1626.4L969.5 1625.8M918.8 1610.4L919.2 1611.8L919.1 1613M915.9 1617.6L912.4 1618.5L909.6 1619.4M913.3 1620.9L910.7 1621.3L908.6 1621M902.7 1629L901.8 1631.1L901.7 1632.9M909.1 1624.8L907.6 1623.4L906.4 1622.3M900.9 1630.4L900.5 1631.7L900.3 1632.7M898.3 1632.3L895.8 1630.6L893.4 1629.8M892.7 1636.3L890.2 1634.2L888 1632.9M886.6 1640.2L885.2 1639L884.5 1637.6M882.6 1646.3L879.6 1647.8L876.9 1648.1M881.4 1649.7L879.1 1650.1L877.2 1650M889.5 1644.4L893.1 1645.5L895.3 1647.6M890.2 1649.9L891.9 1651.6L892.6 1653.5M880.3 1640.3L878.5 1641.8L876.9 1642.8M876.5 1641.4L876.5 1645.4L876.5 1648.6M873.1 1644.2L871.1 1644.6L869.5 1644.2M894.4 1641L897 1642.4L898.4 1644.3M893 1643.9L894.4 1647.4L894.2 1650.5M914.6 1621.9L911.4 1623.7L908.8 1625.3M911.8 1630.8L910.2 1630.7L908.8 1630.5M917.6 1602.3L915.8 1603.4L914.5 1604.4M910.4 1599.7L908.2 1601.5L907.4 1603.7M902.4 1596.5L900.9 1597.7L900 1598.9M914.3 1603.3L912.4 1600.5L911.7 1597.9M915.2 1603.5L913.3 1605.2L911.3 1606M903 1602.4L900.3 1600.2L898.9 1597.7M909.9 1602.4L907.6 1605.5L905.1 1607.5M894.5 1603.6L892.8 1605.2L891.1 1606.1M893.7 1605.1L891.6 1605.3L890 1606.1M915.4 1609.4L913 1609.7L911.1 1609.4M910.5 1614.5L906.8 1615.3L903.8 1616.2M905.1 1617.3L902.7 1615.2L901.2 1613M918.7 1596.1L916.2 1596.2L914.2 1595.5M919.6 1598.9L921.3 1597.1L923 1595.8M917.6 1592.5L914.9 1591.8L913.1 1590.3M917.2 1587.2L919.2 1584.6L921.2 1582.8M921.9 1589.8L924.9 1589.7L927.3 1589.9" fill="none" stroke="#000" stroke-width="0.55" stroke-opacity="0.75" stroke-linecap="round" stroke-linejoin="round"/><path d="M921.3 1603.7C922.4 1603.2 925.3 1601.2 927.6 1601.1C929.8 1601.0 933.6 1602.7 934.8 1603.0" fill="none" stroke="#000" stroke-width="0.9" stroke-linecap="round" stroke-linejoin="round" stroke-opacity="0.8"/><path d="M921.3 1603.7C921.4 1602.5 921.6 1599.0 922.1 1596.8C922.6 1594.5 923.9 1591.2 924.3 1590.1" fill="none" stroke="#000" stroke-width="0.9" stroke-linecap="round" stroke-linejoin="round" stroke-opacity="0.8"/><path d="M921.3 1603.7C920.9 1604.2 920.0 1606.0 919.0 1606.9C918.0 1607.9 916.0 1608.7 915.4 1609.1" fill="none" stroke="#000" stroke-width="0.9" stroke-linecap="round" stroke-linejoin="round" stroke-opacity="0.8"/><path d="M921.3 1603.7C922.0 1603.0 924.4 1601.4 925.2 1599.8C925.9 1598.1 925.8 1594.7 925.9 1593.7" fill="none" stroke="#000" stroke-width="0.9" stroke-linecap="round" stroke-linejoin="round" stroke-opacity="0.8"/><path d="M921.3 1603.7C921.7 1602.9 923.1 1600.7 923.9 1599.2C924.7 1597.7 925.8 1595.3 926.2 1594.5" fill="none" stroke="#000" stroke-width="0.9" stroke-linecap="round" stroke-linejoin="round" stroke-opacity="0.8"/><path d="M921.3 1603.7C922.2 1603.9 924.9 1604.3 926.4 1605.2C928.0 1606.1 929.8 1608.4 930.5 1609.1" fill="none" stroke="#000" stroke-width="0.9" stroke-linecap="round" stroke-linejoin="round" stroke-opacity="0.8"/><path d="M921.3 1603.7C920.7 1604.0 918.8 1605.3 917.3 1605.8C915.9 1606.3 913.5 1606.5 912.8 1606.6" fill="none" stroke="#000" stroke-width="0.9" stroke-linecap="round" stroke-linejoin="round" stroke-opacity="0.8"/><path d="M921.3 1603.7C922.2 1603.8 925.1 1603.4 926.6 1604.3C928.1 1605.3 929.6 1608.6 930.3 1609.4" fill="none" stroke="#000" stroke-width="0.9" stroke-linecap="round" stroke-linejoin="round" stroke-opacity="0.8"/><path d="M921.3 1603.7C921.0 1602.9 919.9 1600.8 919.6 1599.3C919.3 1597.7 919.6 1595.2 919.6 1594.3" fill="none" stroke="#000" stroke-width="0.9" stroke-linecap="round" stroke-linejoin="round" stroke-opacity="0.8"/><path d="M921.3 1603.7C920.8 1603.3 919.5 1601.8 918.4 1601.4C917.2 1600.9 915.0 1601.1 914.3 1601.0" fill="none" stroke="#000" stroke-width="0.9" stroke-linecap="round" stroke-linejoin="round" stroke-opacity="0.8"/><path d="M921.3 1603.7C921.8 1603.2 923.8 1602.2 924.4 1601.0C924.9 1599.8 924.6 1597.1 924.7 1596.3" fill="none" stroke="#000" stroke-width="0.9" stroke-linecap="round" stroke-linejoin="round" stroke-opacity="0.8"/><path d="M921.3 1603.7C921.8 1602.9 923.3 1600.6 923.9 1599.0C924.6 1597.3 925.0 1594.5 925.3 1593.6" fill="none" stroke="#000" stroke-width="0.9" stroke-linecap="round" stroke-linejoin="round" stroke-opacity="0.8"/><path d="M921.3 1603.7C920.2 1603.6 916.9 1602.7 914.8 1603.2C912.7 1603.8 909.7 1606.4 908.7 1607.0" fill="none" stroke="#000" stroke-width="0.9" stroke-linecap="round" stroke-linejoin="round" stroke-opacity="0.8"/><path d="M921.3 1603.7C920.7 1602.8 918.3 1600.5 917.7 1598.4C917.0 1596.4 917.6 1592.6 917.6 1591.4" fill="none" stroke="#000" stroke-width="0.9" stroke-linecap="round" stroke-linejoin="round" stroke-opacity="0.8"/><circle cx="921.3" cy="1603.7" r="2.6" fill="#000" stroke="none" stroke-width="1" /><circle cx="918.0" cy="1671.3" r="1.0" fill="#000" stroke="none" stroke-width="1" /><circle cx="852.8" cy="1526.2" r="1.0" fill="#000" stroke="none" stroke-width="1" /><circle cx="930.9" cy="1556.9" r="1.0" fill="#000" stroke="none" stroke-width="1" /><rect x="817.6" y="1500.5" width="209.1" height="207.9" fill="none" stroke="#231f20" stroke-width="1.9" /><path d="M1233.0 1695.4h0.6v0.6h-0.6zM1055.3 1672.6h1.2v1.2h-1.2zM1174.6 1565.6h1.1v1.1h-1.1zM1161.8 1621.0h0.7v0.7h-0.7zM1125.9 1582.9h1.2v1.2h-1.2zM1240.9 1695.7h1.0v1.0h-1.0zM1128.8 1557.5h0.6v0.6h-0.6zM1043.6 1597.4h0.9v0.9h-0.9zM1115.5 1684.0h1.0v1.0h-1.0zM1152.3 1550.9h0.6v0.6h-0.6zM1104.3 1530.7h1.0v1.0h-1.0zM1241.7 1639.9h0.7v0.7h-0.7zM1220.3 1664.7h1.2v1.2h-1.2zM1222.9 1657.9h1.2v1.2h-1.2zM1110.2 1702.1h1.4v1.4h-1.4zM1070.9 1656.1h1.2v1.2h-1.2zM1132.1 1610.7h1.0v1.0h-1.0zM1226.7 1604.7h1.3v1.3h-1.3z" fill="#000" fill-opacity="0.22"/><path d="M1078.7 1559.6C1077.3 1558.8 1073.0 1556.4 1070.2 1554.9C1067.3 1553.5 1063.0 1551.6 1061.6 1551.0" fill="none" stroke="#000" stroke-width="0.8" stroke-linecap="round" stroke-linejoin="round" stroke-opacity="0.4" stroke-dasharray="2.5 1"/><path d="M1092.6 1577.3C1093.2 1576.6 1095.3 1573.9 1096.5 1572.7C1097.7 1571.5 1099.2 1570.5 1099.8 1570.1" fill="none" stroke="#000" stroke-width="0.8" stroke-linecap="round" stroke-linejoin="round" stroke-opacity="0.5" stroke-dasharray="2.5 1"/><path d="M1128.8 1545.7C1128.9 1543.9 1129.1 1538.8 1129.4 1534.5C1129.8 1530.2 1130.5 1522.4 1130.8 1520.0" fill="none" stroke="#000" stroke-width="0.8" stroke-linecap="round" stroke-linejoin="round" stroke-opacity="0.4" stroke-dasharray="2.5 1"/><path d="M1125.5 1545.1C1125.0 1543.7 1123.7 1539.0 1122.8 1537.2C1122.0 1535.3 1120.7 1534.4 1120.2 1533.9" fill="none" stroke="#000" stroke-width="0.8" stroke-linecap="round" stroke-linejoin="round" stroke-opacity="0.4" stroke-dasharray="2.5 1"/><path d="M1212.4 1583.3C1213.7 1583.0 1217.7 1582.6 1220.3 1581.9C1223.0 1581.3 1225.4 1579.9 1228.2 1579.3C1231.1 1578.8 1235.9 1578.8 1237.5 1578.7" fill="none" stroke="#000" stroke-width="0.8" stroke-linecap="round" stroke-linejoin="round" stroke-opacity="0.35" stroke-dasharray="2.5 1"/><path d="M1197.9 1585.9C1197.9 1585.0 1196.8 1582.1 1197.9 1580.6C1199.0 1579.2 1202.8 1578.3 1204.5 1577.3C1206.3 1576.3 1207.8 1575.1 1208.5 1574.7" fill="none" stroke="#000" stroke-width="0.8" stroke-linecap="round" stroke-linejoin="round" stroke-opacity="0.4" stroke-dasharray="2.5 1"/><path d="M1204.5 1589.8C1205.4 1590.9 1208.0 1594.7 1209.8 1596.4C1211.6 1598.2 1213.4 1599.2 1215.1 1600.4C1216.7 1601.6 1218.9 1603.1 1219.7 1603.7" fill="none" stroke="#000" stroke-width="0.8" stroke-linecap="round" stroke-linejoin="round" stroke-opacity="0.4" stroke-dasharray="2.5 1"/><path d="M1212.4 1583.3C1212.6 1582.2 1213.4 1578.9 1213.7 1576.7C1214.1 1574.5 1214.3 1571.2 1214.4 1570.1" fill="none" stroke="#000" stroke-width="0.8" stroke-linecap="round" stroke-linejoin="round" stroke-opacity="0.3" stroke-dasharray="2.5 1"/><path d="M1153.1 1655.7C1152.1 1657.0 1148.3 1660.8 1146.6 1663.6C1144.8 1666.5 1143.3 1671.3 1142.6 1672.8" fill="none" stroke="#000" stroke-width="0.8" stroke-linecap="round" stroke-linejoin="round" stroke-opacity="0.15" stroke-dasharray="2.5 1"/><path d="M1162.4 1674.2C1163.5 1675.9 1167.0 1681.8 1169.0 1684.7C1170.9 1687.6 1173.3 1690.2 1174.2 1691.3" fill="none" stroke="#000" stroke-width="0.8" stroke-linecap="round" stroke-linejoin="round" stroke-opacity="0.15" stroke-dasharray="2.5 1"/><path d="M1211.1 1676.8C1210.7 1678.3 1209.4 1682.7 1208.5 1686.0C1207.6 1689.3 1206.3 1694.8 1205.8 1696.6" fill="none" stroke="#000" stroke-width="0.8" stroke-linecap="round" stroke-linejoin="round" stroke-opacity="0.15" stroke-dasharray="2.5 1"/><path d="M1172.9 1647.2C1174.7 1647.4 1180.4 1647.3 1183.4 1648.5C1186.5 1649.7 1188.9 1652.1 1191.4 1654.4C1193.8 1656.7 1195.7 1660.1 1197.9 1662.3C1200.1 1664.5 1202.3 1666.1 1204.5 1667.6C1206.7 1669.1 1210.0 1670.6 1211.1 1671.3" fill="none" stroke="#000" stroke-width="0.8" stroke-linecap="round" stroke-linejoin="round" stroke-opacity="0.35" stroke-dasharray="2.5 1"/><path d="M1089.9 1641.2C1089.0 1642.5 1085.6 1646.5 1084.6 1649.1C1083.7 1651.8 1084.1 1655.7 1084.0 1657.0" fill="none" stroke="#000" stroke-width="0.8" stroke-linecap="round" stroke-linejoin="round" stroke-opacity="0.4" stroke-dasharray="2.5 1"/><path d="M1102.4 1645.2C1101.9 1646.3 1099.9 1649.9 1099.1 1651.8C1098.4 1653.6 1098.0 1655.6 1097.8 1656.4" fill="none" stroke="#000" stroke-width="0.8" stroke-linecap="round" stroke-linejoin="round" stroke-opacity="0.4" stroke-dasharray="2.5 1"/><path d="M1133.4 1609.0C1132.9 1608.2 1132.5 1606.0 1130.8 1604.3C1129.0 1602.7 1125.5 1601.3 1122.8 1599.1C1120.2 1596.9 1117.6 1593.6 1114.9 1591.2C1112.3 1588.8 1109.7 1586.4 1107.0 1584.6C1104.4 1582.7 1101.6 1581.2 1099.1 1580.0C1096.7 1578.8 1094.5 1578.8 1092.6 1577.3C1090.6 1575.9 1089.0 1573.5 1087.3 1571.4C1085.5 1569.3 1083.4 1566.8 1082.0 1564.8C1080.6 1562.8 1079.3 1560.4 1078.7 1559.6" fill="none" stroke="#000" stroke-width="1.44" stroke-linecap="round" stroke-linejoin="round"/><path d="M1137.3 1607.0C1138.0 1605.9 1140.2 1603.0 1141.3 1600.4C1142.4 1597.8 1143.9 1594.2 1143.9 1591.2C1143.9 1588.1 1142.4 1585.0 1141.3 1581.9C1140.2 1578.9 1138.7 1575.8 1137.3 1572.7C1136.0 1569.6 1134.4 1566.6 1133.4 1563.5C1132.4 1560.4 1132.2 1557.2 1131.4 1554.3C1130.6 1551.3 1129.2 1547.1 1128.8 1545.7" fill="none" stroke="#000" stroke-width="1.152" stroke-linecap="round" stroke-linejoin="round"/><path d="M1138.7 1607.0C1140.0 1606.5 1143.5 1605.1 1146.6 1604.3C1149.6 1603.6 1153.6 1603.0 1157.1 1602.4C1160.6 1601.7 1164.6 1600.9 1167.6 1600.4C1170.7 1599.8 1173.3 1599.8 1175.5 1599.1C1177.7 1598.3 1179.1 1597.1 1180.8 1595.8C1182.6 1594.5 1183.9 1592.3 1186.1 1591.2C1188.3 1590.1 1191.1 1590.1 1194.0 1589.2C1196.8 1588.3 1200.1 1586.9 1203.2 1585.9C1206.3 1584.9 1210.9 1583.7 1212.4 1583.3" fill="none" stroke="#000" stroke-width="1.152" stroke-linecap="round" stroke-linejoin="round"/><path d="M1180.8 1595.8C1182.3 1595.2 1187.0 1593.8 1190.0 1592.5C1193.1 1591.2 1196.0 1589.0 1199.3 1587.9C1202.5 1586.8 1208.0 1586.2 1209.8 1585.9" fill="none" stroke="#000" stroke-width="0.7" stroke-linecap="round" stroke-linejoin="round" stroke-opacity="0.7"/><path d="M1141.3 1607.0C1142.2 1605.7 1145.1 1601.5 1146.6 1599.1C1148.0 1596.7 1149.0 1594.2 1149.9 1592.5C1150.7 1590.7 1151.5 1589.2 1151.8 1588.5" fill="none" stroke="#000" stroke-width="0.9359999999999999" stroke-linecap="round" stroke-linejoin="round"/><path d="M1151.8 1603.0C1152.3 1602.1 1153.3 1599.4 1154.5 1597.8C1155.7 1596.1 1158.3 1593.9 1159.1 1593.1" fill="none" stroke="#000" stroke-width="0.72" stroke-linecap="round" stroke-linejoin="round"/><path d="M1153.1 1603.7C1154.2 1604.2 1157.5 1606.0 1159.7 1607.0C1161.9 1608.0 1164.7 1608.5 1166.3 1609.6C1168.0 1610.7 1168.6 1612.0 1169.6 1613.6C1170.6 1615.1 1171.8 1618.0 1172.2 1618.8" fill="none" stroke="#000" stroke-width="0.864" stroke-linecap="round" stroke-linejoin="round"/><path d="M1167.6 1609.6C1168.5 1609.3 1171.4 1608.1 1172.9 1607.6C1174.4 1607.2 1176.2 1607.1 1176.9 1607.0" fill="none" stroke="#000" stroke-width="0.7" stroke-linecap="round" stroke-linejoin="round" stroke-opacity="0.5"/><path d="M1142.6 1608.3C1143.3 1609.0 1145.0 1611.0 1146.6 1612.2C1148.1 1613.5 1149.6 1614.4 1151.8 1615.5C1154.0 1616.6 1158.4 1618.3 1159.7 1618.8" fill="none" stroke="#000" stroke-width="0.864" stroke-linecap="round" stroke-linejoin="round"/><path d="M1142.6 1610.9C1142.8 1612.0 1143.4 1615.4 1143.9 1617.5C1144.5 1619.6 1145.1 1621.8 1145.9 1623.4C1146.7 1625.1 1148.1 1626.7 1148.5 1627.4" fill="none" stroke="#000" stroke-width="0.72" stroke-linecap="round" stroke-linejoin="round" stroke-opacity="0.7"/><path d="M1132.1 1612.2C1131.0 1612.5 1127.5 1612.9 1125.5 1613.6C1123.5 1614.2 1122.0 1615.9 1120.2 1616.2C1118.5 1616.5 1115.8 1615.6 1114.9 1615.5" fill="none" stroke="#000" stroke-width="1.3" stroke-linecap="round" stroke-linejoin="round"/><path d="M1120.2 1616.2C1118.9 1616.3 1114.9 1616.4 1112.3 1616.9C1109.7 1617.3 1107.0 1617.8 1104.4 1618.8C1101.8 1619.8 1099.2 1621.7 1096.5 1622.8C1093.8 1623.9 1089.4 1625.0 1087.9 1625.4" fill="none" stroke="#000" stroke-width="0.72" stroke-linecap="round" stroke-linejoin="round" stroke-opacity="0.9"/><path d="M1130.8 1613.6C1130.1 1614.4 1128.6 1617.5 1126.8 1618.8C1125.0 1620.1 1122.6 1620.8 1120.2 1621.5C1117.8 1622.1 1114.5 1622.1 1112.3 1622.8C1110.1 1623.4 1108.8 1624.3 1107.0 1625.4C1105.3 1626.5 1103.7 1627.8 1101.8 1629.4C1099.8 1630.9 1097.2 1632.7 1095.2 1634.6C1093.2 1636.6 1090.8 1640.1 1089.9 1641.2" fill="none" stroke="#000" stroke-width="0.9359999999999999" stroke-linecap="round" stroke-linejoin="round" stroke-opacity="0.9"/><path d="M1107.0 1625.4C1107.0 1626.5 1107.3 1629.8 1107.0 1632.0C1106.8 1634.2 1106.5 1636.4 1105.7 1638.6C1105.0 1640.8 1103.0 1644.1 1102.4 1645.2" fill="none" stroke="#000" stroke-width="0.72" stroke-linecap="round" stroke-linejoin="round" stroke-opacity="0.6"/><path d="M1114.9 1622.1C1114.7 1623.1 1114.3 1626.2 1113.6 1628.1C1113.0 1629.9 1111.4 1632.4 1111.0 1633.3" fill="none" stroke="#000" stroke-width="0.72" stroke-linecap="round" stroke-linejoin="round"/><path d="M1122.8 1621.5C1122.9 1622.8 1123.3 1626.7 1123.1 1629.4C1122.9 1632.0 1121.8 1636.0 1121.5 1637.3" fill="none" stroke="#000" stroke-width="0.72" stroke-linecap="round" stroke-linejoin="round" stroke-opacity="0.7"/><path d="M1130.8 1610.9C1129.9 1610.9 1127.2 1611.6 1125.5 1610.9C1123.7 1610.3 1122.0 1608.3 1120.2 1607.0C1118.5 1605.7 1116.7 1604.1 1114.9 1603.0C1113.2 1601.9 1111.4 1601.5 1109.7 1600.4C1107.9 1599.3 1106.2 1597.4 1104.4 1596.4C1102.6 1595.4 1101.3 1594.7 1099.1 1594.5C1096.9 1594.2 1093.6 1595.0 1091.2 1594.9C1088.8 1594.7 1085.7 1593.8 1084.6 1593.5" fill="none" stroke="#000" stroke-width="1.08" stroke-linecap="round" stroke-linejoin="round"/><path d="M1120.2 1607.0C1119.8 1606.1 1118.7 1603.5 1117.6 1601.7C1116.5 1599.9 1114.9 1598.0 1113.6 1596.4C1112.3 1594.9 1110.3 1593.1 1109.7 1592.5" fill="none" stroke="#000" stroke-width="0.72" stroke-linecap="round" stroke-linejoin="round" stroke-opacity="0.6"/><path d="M1114.9 1605.7L1114.9 1612.2" fill="none" stroke="#000" stroke-width="0.7" stroke-linecap="round" stroke-linejoin="round" stroke-opacity="0.5"/><path d="M1132.1 1613.6C1132.7 1614.2 1134.9 1615.5 1136.0 1617.5C1137.1 1619.5 1138.0 1623.2 1138.7 1625.4C1139.3 1627.6 1139.8 1629.8 1140.0 1630.7" fill="none" stroke="#000" stroke-width="0.864" stroke-linecap="round" stroke-linejoin="round"/><path d="M1129.4 1617.5C1129.5 1618.8 1129.0 1623.2 1130.1 1625.4C1131.2 1627.6 1133.9 1628.9 1136.0 1630.7C1138.1 1632.4 1140.6 1634.2 1142.6 1636.0C1144.6 1637.7 1145.7 1639.8 1147.9 1641.2C1150.1 1642.7 1152.9 1644.0 1155.8 1644.5C1158.6 1645.1 1162.2 1644.1 1165.0 1644.5C1167.9 1645.0 1171.6 1646.7 1172.9 1647.2" fill="none" stroke="#000" stroke-width="0.72" stroke-linecap="round" stroke-linejoin="round" stroke-opacity="0.7"/><path d="M1132.5 1607.3L1134.1 1605.4L1135.5 1603.9M1123.5 1599.5L1123.3 1597.6L1122.9 1596.1M1125.2 1600.7L1122.8 1602.4L1120.5 1603.2M1119.1 1595.3L1120.5 1592.4L1121.8 1590.1M1118.8 1595L1118.7 1593.1L1118.7 1591.6M1107.6 1585L1105.5 1585.9L1104.5 1587.4M1108.5 1585.8L1105.5 1585.3L1103 1585.5M1105.2 1583.5L1103.8 1584.4L1102.9 1585.4M1100.5 1580.8L1097.4 1581.8L1095.6 1583.6M1096.8 1579L1095.5 1579.4L1094.6 1580.2M1092.2 1576.9L1090.9 1577.3L1089.9 1577.8M1083 1566L1080.3 1566.6L1078.6 1568M1080.1 1561.7L1078.8 1561.2L1077.7 1560.9M1139.8 1602.9L1139.3 1600.4L1138.5 1598.4M1142.7 1595.3L1140 1593.3L1138.6 1591.1M1143.2 1593.9L1144.7 1593.8L1146 1594M1141.7 1583.4L1138.4 1581.9L1135.4 1581.7M1142.4 1585.8L1143.6 1584L1145.1 1583M1139.9 1578.8L1141.3 1576.8L1141.5 1574.8M1139.1 1576.8L1137.1 1576.5L1135.5 1576.9M1136.7 1571.1L1138.2 1569L1140.1 1567.9M1133.6 1564.1L1131.4 1563L1129.4 1562.5M1132.2 1558.1L1133.4 1555.9L1134.4 1554.2M1133.4 1563.5L1131.9 1562.5L1130.7 1561.8M1131.2 1553.5L1129.8 1552.4L1128.5 1551.8M1130.8 1552.4L1132.3 1550.1L1133.3 1548.1M1144.1 1605.2L1144.5 1602.7L1144.8 1600.8M1152.7 1603.2L1153.4 1599.5L1154.2 1596.5M1156.3 1602.5L1158.5 1604.1L1159.6 1606M1163.5 1601.2L1166 1604.1L1168.4 1606M1166.3 1600.6L1168.3 1601.5L1169.6 1602.6M1173 1599.5L1173.3 1598.1L1173.8 1597M1178 1597.5L1178.7 1596.3L1179 1595.3M1184.6 1592.4L1184.2 1590.7L1183.9 1589.2M1189.2 1590.4L1191.3 1591.2L1192.6 1592.4M1196.3 1588.4L1198.5 1585.5L1200.6 1583.5M1202.8 1586L1204.8 1583.7L1206.9 1582.3M1209.9 1584L1213.4 1585.7L1216.5 1586M1206.7 1584.9L1208.7 1586.5L1209.7 1588.3M1145.5 1600.6L1147.6 1601L1149.3 1600.9M1143.9 1603.1L1147 1603L1149.6 1603.4M1146.8 1598.5L1146.7 1596.7L1146.6 1595.3M1151.4 1589.3L1149.1 1586.4L1147.7 1583.7M1158.5 1606.3L1160.6 1606.1L1162.1 1605.4M1164.2 1608.7L1165.1 1611.3L1166.5 1613M1168.1 1611.7L1168.4 1614.4L1168.2 1616.6M1170.3 1614.9L1173.4 1615.7L1176 1616M1146.5 1612.2L1149.8 1611.9L1152.3 1612.5M1148.6 1613.5L1150 1613.1L1151 1612.6M1153.8 1616.4L1154.1 1618.9L1153.4 1620.9M1129.9 1612.7L1129 1616.1L1129 1619.1M1122.2 1615.2L1120.4 1613.7L1119.5 1612M1115.4 1615.6L1113.6 1612.9L1113.1 1610.3M1128.2 1617L1127.7 1620.8L1126.6 1623.7M1122.8 1620.4L1122.8 1622L1122.5 1623.2M1114.2 1622.5L1111.8 1625.4L1109.6 1627.6M1109.7 1624.1L1108 1626.7L1106.6 1628.8M1104.3 1627.4L1104.2 1629.3L1103.5 1630.6M1101.3 1629.8L1102.2 1632.3L1102.5 1634.5M1094.8 1635.1L1091.3 1633.8L1088.3 1632.9M1126.1 1610.9L1124.8 1610.2L1123.9 1609.3M1124.6 1610.2L1123.9 1607.3L1124.2 1604.9M1116.4 1604.1L1114.1 1604.1L1112.2 1604.1M1113.4 1602.2L1110.9 1602.9L1109.4 1604.4M1109.5 1600.3L1109.5 1598.4L1109.8 1596.9M1101.8 1595.5L1099.4 1596.8L1097.2 1597.1M1098.5 1594.5L1096.2 1592.5L1094.8 1590.5M1086.9 1594L1085.3 1590.6L1083.9 1587.8M1132.9 1614.4L1135.7 1613.4L1137.8 1612.1M1136.6 1619.4L1135 1621.5L1134.6 1623.7M1138.8 1626L1137.3 1627.1L1136.2 1628.2" fill="none" stroke="#000" stroke-width="0.55" stroke-opacity="0.75" stroke-linecap="round" stroke-linejoin="round"/><ellipse cx="1133.4" cy="1609.9" rx="2.6" ry="3.3" fill="#000" stroke="none" stroke-width="1" transform="rotate(35 1133.4 1609.9)"/><circle cx="1212.0" cy="1671.8" r="1.7" fill="#000" stroke="none" stroke-width="1" /><circle cx="1079.0" cy="1559.6" r="1.2" fill="#000" stroke="none" stroke-width="1" /><circle cx="1156.8" cy="1680.1" r="0.8" fill="#000" stroke="none" stroke-width="1" /><circle cx="1141.3" cy="1612.6" r="1.3" fill="#000" stroke="none" stroke-width="1" /><rect x="1035.6" y="1499.9" width="209.1" height="208.2" fill="none" stroke="#231f20" stroke-width="1.9" /><path d="M868.5 1828.0h0.9v0.9h-0.9zM943.2 1844.6h0.7v0.7h-0.7zM822.7 1887.8h0.8v0.8h-0.8zM867.8 1920.1h1.0v1.0h-1.0zM990.6 1814.2h1.1v1.1h-1.1zM850.7 1846.5h1.3v1.3h-1.3zM926.7 1868.2h1.1v1.1h-1.1zM833.1 1871.7h1.1v1.1h-1.1zM881.5 1723.3h1.3v1.3h-1.3zM916.4 1863.6h1.3v1.3h-1.3zM965.7 1904.9h0.9v0.9h-0.9zM983.4 1807.7h1.3v1.3h-1.3zM999.3 1736.9h0.7v0.7h-0.7zM864.3 1914.0h0.9v0.9h-0.9zM947.8 1778.4h1.0v1.0h-1.0zM898.7 1788.6h1.1v1.1h-1.1zM939.2 1901.5h1.1v1.1h-1.1zM1009.5 1891.7h1.4v1.4h-1.4z" fill="#000" fill-opacity="0.22"/><path d="M870.6 1717.2C871.9 1720.5 875.6 1731.3 878.5 1737.0C881.4 1742.7 884.9 1746.9 887.7 1751.5C890.6 1756.1 893.2 1760.5 895.6 1764.6C898.0 1768.8 901.1 1774.5 902.2 1776.5" fill="none" stroke="#000" stroke-width="0.8" stroke-linecap="round" stroke-linejoin="round" stroke-opacity="0.25" stroke-dasharray="2.5 1"/><path d="M869.3 1735.7C871.7 1737.4 878.7 1742.9 883.8 1746.2C888.8 1749.5 894.7 1753.0 899.6 1755.4C904.4 1757.8 910.6 1759.8 912.8 1760.7" fill="none" stroke="#000" stroke-width="0.8" stroke-linecap="round" stroke-linejoin="round" stroke-opacity="0.2" stroke-dasharray="2.5 1"/><path d="M895.6 1717.2C897.4 1720.1 903.3 1728.6 906.2 1734.3C909.0 1740.1 910.1 1745.5 912.8 1751.5C915.4 1757.4 920.4 1766.8 922.0 1769.9" fill="none" stroke="#000" stroke-width="0.8" stroke-linecap="round" stroke-linejoin="round" stroke-opacity="0.2" stroke-dasharray="2.5 1"/><path d="M949.6 1742.3C951.2 1743.6 955.8 1747.5 958.9 1750.2C961.9 1752.8 964.8 1756.1 968.1 1758.1C971.4 1760.0 975.3 1760.7 978.6 1762.0C981.9 1763.3 986.3 1765.3 987.8 1766.0" fill="none" stroke="#000" stroke-width="0.8" stroke-linecap="round" stroke-linejoin="round" stroke-opacity="0.25" stroke-dasharray="2.5 1"/><path d="M949.6 1751.5C950.1 1753.0 951.5 1757.8 952.3 1760.7C953.0 1763.5 953.9 1767.3 954.2 1768.6" fill="none" stroke="#000" stroke-width="0.8" stroke-linecap="round" stroke-linejoin="round" stroke-opacity="0.25" stroke-dasharray="2.5 1"/><path d="M902.2 1779.1C900.5 1780.0 894.7 1782.9 891.7 1784.4C888.6 1785.9 885.1 1787.7 883.8 1788.4" fill="none" stroke="#000" stroke-width="0.8" stroke-linecap="round" stroke-linejoin="round" stroke-opacity="0.2" stroke-dasharray="2.5 1"/><path d="M991.1 1839.1C992.1 1838.9 995.0 1838.4 997.1 1837.8C999.1 1837.1 1002.6 1835.6 1003.7 1835.1" fill="none" stroke="#000" stroke-width="0.8" stroke-linecap="round" stroke-linejoin="round" stroke-opacity="0.3" stroke-dasharray="2.5 1"/><path d="M849.5 1817.3C848.4 1818.1 844.8 1820.5 842.9 1822.0C841.1 1823.4 839.1 1825.2 838.3 1825.9" fill="none" stroke="#000" stroke-width="0.8" stroke-linecap="round" stroke-linejoin="round" stroke-opacity="0.5" stroke-dasharray="2.5 1"/><path d="M852.8 1820.6L852.8 1829.2" fill="none" stroke="#000" stroke-width="0.8" stroke-linecap="round" stroke-linejoin="round" stroke-opacity="0.5" stroke-dasharray="2.5 1"/><path d="M974.7 1843.7L978.0 1850.3" fill="none" stroke="#000" stroke-width="0.8" stroke-linecap="round" stroke-linejoin="round" stroke-opacity="0.5" stroke-dasharray="2.5 1"/><path d="M922.0 1814.0C920.4 1813.9 916.0 1813.5 912.8 1813.4C909.5 1813.2 905.7 1813.1 902.2 1813.1C898.7 1813.1 894.7 1813.6 891.7 1813.4C888.6 1813.2 886.0 1812.9 883.8 1812.1C881.6 1811.2 879.4 1808.8 878.5 1808.1" fill="none" stroke="#000" stroke-width="1.3" stroke-linecap="round" stroke-linejoin="round"/><path d="M878.5 1808.1C877.6 1807.8 875.2 1806.9 873.2 1806.1C871.3 1805.4 868.8 1804.3 866.6 1803.5C864.5 1802.7 862.5 1801.8 860.1 1801.5C857.6 1801.3 854.8 1802.0 852.2 1802.2C849.5 1802.4 846.9 1802.8 844.3 1802.6C841.6 1802.4 838.8 1800.9 836.3 1800.9C833.9 1800.8 830.9 1802.0 829.8 1802.2" fill="none" stroke="#000" stroke-width="0.864" stroke-linecap="round" stroke-linejoin="round"/><path d="M881.1 1810.8C880.5 1809.4 878.7 1805.5 877.2 1802.8C875.6 1800.2 873.9 1797.4 871.9 1794.9C869.9 1792.5 867.1 1790.6 865.3 1788.4C863.6 1786.2 862.7 1783.7 861.4 1781.8C860.1 1779.8 858.6 1777.9 857.4 1776.5C856.2 1775.1 854.7 1773.8 854.1 1773.2" fill="none" stroke="#000" stroke-width="0.9359999999999999" stroke-linecap="round" stroke-linejoin="round"/><path d="M896.9 1810.8C896.5 1809.7 895.4 1806.1 894.3 1804.2C893.2 1802.2 891.9 1800.4 890.4 1798.9C888.8 1797.4 886.5 1796.5 885.1 1794.9C883.7 1793.4 882.7 1791.7 881.8 1789.7C880.9 1787.7 880.1 1784.2 879.8 1783.1" fill="none" stroke="#000" stroke-width="0.864" stroke-linecap="round" stroke-linejoin="round"/><path d="M841.6 1801.5C840.7 1800.4 838.0 1797.0 836.3 1794.9C834.7 1792.9 832.8 1790.7 831.7 1789.0C830.6 1787.4 830.1 1785.7 829.8 1785.1" fill="none" stroke="#000" stroke-width="0.72" stroke-linecap="round" stroke-linejoin="round"/><path d="M871.9 1805.5C870.8 1804.6 867.1 1802.0 865.3 1800.2C863.6 1798.5 862.4 1796.3 861.4 1794.9C860.4 1793.6 859.7 1792.7 859.4 1792.3" fill="none" stroke="#000" stroke-width="0.7" stroke-linecap="round" stroke-linejoin="round" stroke-opacity="0.6"/><path d="M891.7 1813.4C889.9 1813.3 884.2 1812.3 881.1 1812.7C878.1 1813.2 876.3 1815.4 873.2 1816.0C870.2 1816.7 866.6 1816.5 862.7 1816.7C858.7 1816.9 853.5 1817.0 849.5 1817.1C845.6 1817.1 842.4 1817.1 839.0 1817.1C835.6 1817.0 830.7 1816.7 829.1 1816.7" fill="none" stroke="#000" stroke-width="0.864" stroke-linecap="round" stroke-linejoin="round"/><path d="M875.9 1810.1C874.1 1810.1 869.1 1810.2 865.3 1810.1C861.6 1810.0 857.2 1809.9 853.5 1809.7C849.7 1809.5 846.6 1809.4 842.9 1809.2C839.3 1809.0 833.6 1808.5 831.7 1808.4" fill="none" stroke="#000" stroke-width="0.72" stroke-linecap="round" stroke-linejoin="round" stroke-opacity="0.8"/><path d="M912.8 1816.0C911.0 1816.2 905.7 1817.1 902.2 1817.3C898.7 1817.6 893.4 1817.3 891.7 1817.3" fill="none" stroke="#000" stroke-width="0.72" stroke-linecap="round" stroke-linejoin="round" stroke-opacity="0.7"/><path d="M922.0 1812.1C921.5 1811.0 919.4 1807.9 919.3 1805.5C919.2 1803.1 920.8 1800.4 921.3 1797.6C921.9 1794.7 921.9 1790.3 922.6 1788.4C923.4 1786.4 924.5 1786.9 925.9 1785.7C927.4 1784.5 929.4 1782.2 931.2 1781.1C933.0 1780.0 935.1 1780.3 936.5 1779.1C937.8 1777.9 938.0 1776.1 939.1 1773.9C940.2 1771.7 941.7 1768.6 943.1 1766.0C944.4 1763.3 946.0 1760.7 947.0 1758.1C948.0 1755.4 948.5 1752.8 949.0 1750.2C949.4 1747.5 950.0 1744.9 949.6 1742.3C949.3 1739.6 948.0 1737.2 947.0 1734.3C946.0 1731.5 945.0 1728.2 943.7 1725.1C942.4 1722.1 939.9 1717.4 939.1 1715.9" fill="none" stroke="#000" stroke-width="0.864" stroke-linecap="round" stroke-linejoin="round"/><path d="M929.9 1781.1C929.2 1779.9 927.0 1776.2 925.9 1773.9C924.8 1771.6 923.5 1769.7 923.3 1767.3C923.1 1764.9 924.8 1762.0 924.6 1759.4C924.4 1756.7 923.0 1753.9 922.0 1751.5C921.0 1749.1 919.1 1747.7 918.7 1744.9C918.2 1742.0 919.0 1737.6 919.3 1734.3C919.7 1731.1 920.9 1728.2 920.7 1725.1C920.4 1722.1 918.5 1717.4 918.0 1715.9" fill="none" stroke="#000" stroke-width="0.7" stroke-linecap="round" stroke-linejoin="round" stroke-opacity="0.6"/><path d="M925.9 1813.4C927.0 1812.7 930.3 1810.8 932.5 1809.4C934.7 1808.1 936.9 1806.8 939.1 1805.5C941.3 1804.2 943.5 1802.6 945.7 1801.5C947.9 1800.4 951.2 1799.3 952.3 1798.9" fill="none" stroke="#000" stroke-width="1.08" stroke-linecap="round" stroke-linejoin="round"/><path d="M928.6 1812.1C929.2 1810.8 931.1 1806.4 932.5 1804.2C933.9 1802.0 936.4 1799.8 937.1 1798.9" fill="none" stroke="#000" stroke-width="0.864" stroke-linecap="round" stroke-linejoin="round"/><path d="M927.2 1812.1C929.2 1811.4 936.5 1809.7 939.1 1808.1C941.7 1806.6 942.2 1804.6 943.1 1802.8C943.9 1801.1 944.2 1798.5 944.4 1797.6" fill="none" stroke="#000" stroke-width="0.72" stroke-linecap="round" stroke-linejoin="round"/><path d="M927.2 1814.7C928.6 1814.7 932.5 1814.7 935.1 1815.0C937.8 1815.2 940.5 1815.7 943.1 1816.0C945.6 1816.3 947.9 1816.5 950.3 1816.7C952.7 1816.9 955.0 1816.8 957.5 1817.3C960.1 1817.9 963.0 1819.1 965.4 1820.0C967.9 1820.9 970.3 1822.0 972.0 1822.6C973.8 1823.3 974.4 1822.8 976.0 1823.9C977.5 1825.0 979.5 1827.4 981.3 1829.2C983.0 1831.0 984.9 1832.8 986.5 1834.5C988.2 1836.1 990.9 1837.4 991.1 1839.1C991.4 1840.7 989.5 1843.6 987.8 1844.3C986.2 1845.1 983.5 1843.9 981.3 1843.7C979.1 1843.5 976.9 1843.7 974.7 1843.0C972.5 1842.4 970.3 1841.2 968.1 1839.7C965.9 1838.3 963.5 1836.4 961.5 1834.5C959.5 1832.5 957.8 1830.1 956.2 1827.9C954.7 1825.7 953.3 1823.2 952.3 1821.3C951.3 1819.4 950.6 1817.4 950.3 1816.7" fill="none" stroke="#000" stroke-width="1.008" stroke-linecap="round" stroke-linejoin="round"/><path d="M976.0 1823.9C977.1 1823.3 980.6 1821.3 982.6 1820.0C984.5 1818.7 986.0 1817.1 987.8 1816.0C989.7 1814.9 992.8 1813.8 993.8 1813.4" fill="none" stroke="#000" stroke-width="0.72" stroke-linecap="round" stroke-linejoin="round" stroke-opacity="0.8"/><path d="M923.3 1817.3C923.2 1818.9 922.9 1823.3 922.6 1826.6C922.4 1829.9 922.1 1834.0 922.0 1837.1C921.9 1840.2 922.0 1843.7 922.0 1845.0" fill="none" stroke="#000" stroke-width="1.44" stroke-linecap="round" stroke-linejoin="round"/><path d="M922.0 1845.0C922.1 1846.3 922.4 1850.3 922.6 1852.9C922.9 1855.5 923.2 1858.1 923.3 1860.8C923.4 1863.6 923.1 1867.9 923.0 1869.4" fill="none" stroke="#000" stroke-width="0.864" stroke-linecap="round" stroke-linejoin="round"/><path d="M922.0 1845.0C920.9 1846.1 917.6 1849.4 915.4 1851.6C913.2 1853.8 910.6 1856.2 908.8 1858.2C907.0 1860.2 906.2 1861.5 904.8 1863.4C903.5 1865.4 902.4 1867.8 900.9 1870.0C899.4 1872.2 897.2 1874.6 895.6 1876.6C894.1 1878.6 892.7 1880.5 891.7 1881.9C890.6 1883.3 889.8 1884.6 889.4 1885.2" fill="none" stroke="#000" stroke-width="1.152" stroke-linecap="round" stroke-linejoin="round"/><path d="M904.8 1861.5C904.0 1861.1 901.3 1860.6 899.6 1859.5C897.8 1858.4 895.2 1855.7 894.3 1854.9" fill="none" stroke="#000" stroke-width="0.72" stroke-linecap="round" stroke-linejoin="round"/><path d="M924.6 1818.7C925.3 1820.0 927.2 1824.1 928.6 1826.6C929.9 1829.0 931.4 1831.0 932.5 1833.1C933.6 1835.3 934.5 1837.3 935.1 1839.7C935.8 1842.2 936.2 1846.3 936.5 1847.6" fill="none" stroke="#000" stroke-width="0.864" stroke-linecap="round" stroke-linejoin="round"/><path d="M925.9 1817.3C927.2 1818.2 931.6 1821.1 933.8 1822.6C936.0 1824.1 937.8 1825.2 939.1 1826.6C940.4 1827.9 941.3 1829.9 941.7 1830.5" fill="none" stroke="#000" stroke-width="0.72" stroke-linecap="round" stroke-linejoin="round"/><path d="M924.0 1821.3C924.3 1823.0 925.2 1828.8 925.9 1831.8C926.7 1834.9 927.9 1837.5 928.6 1839.7C929.2 1841.9 929.7 1844.1 929.9 1845.0" fill="none" stroke="#000" stroke-width="0.72" stroke-linecap="round" stroke-linejoin="round"/><path d="M920.7 1820.0C919.8 1821.5 917.1 1826.6 915.4 1829.2C913.6 1831.8 911.9 1833.8 910.1 1835.8C908.4 1837.8 906.1 1839.4 904.8 1841.1C903.6 1842.7 903.2 1844.9 902.9 1845.7" fill="none" stroke="#000" stroke-width="0.864" stroke-linecap="round" stroke-linejoin="round"/><path d="M919.3 1818.7C918.0 1819.8 914.3 1823.5 911.4 1825.2C908.6 1827.0 905.1 1828.1 902.2 1829.2C899.4 1830.3 896.6 1831.2 894.3 1831.6C892.0 1831.9 889.4 1831.2 888.4 1831.2" fill="none" stroke="#000" stroke-width="0.864" stroke-linecap="round" stroke-linejoin="round"/><path d="M918.0 1817.3C916.7 1818.0 912.8 1820.0 910.1 1821.3C907.5 1822.6 904.5 1824.3 902.2 1825.2C899.9 1826.2 897.3 1826.9 896.3 1827.2" fill="none" stroke="#000" stroke-width="0.72" stroke-linecap="round" stroke-linejoin="round"/><path d="M915.8 1813.6L914.6 1815.4L913.5 1816.9M916.7 1813.7L915.7 1815.2L914.5 1816.2M906.7 1813.2L904.6 1811.7L903.1 1810.3M907.7 1813.3L906.7 1811.1L905.4 1809.6M899.1 1813.2L898.6 1811.9L898.2 1810.8M901.7 1813.1L899.4 1810.1L897.1 1808.2M889.8 1813.1L888.5 1813.9L887.5 1814.5M883.6 1811.9L881.9 1813.2L880.8 1814.5M874.9 1806.8L873.1 1803.3L872.9 1800.1M870.7 1805.1L870.8 1802.8L871.5 1801M862.2 1802.2L859.2 1804.6L856.8 1806.7M856.7 1801.8L856.1 1804.2L856.1 1806.2M849.8 1802.3L847.6 1801.2L845.9 1800.2M844.1 1802.6L841.3 1803.5L839 1804.4M831.9 1801.8L830.4 1800.3L829.2 1799.1M878.8 1806.1L876.9 1806.4L875.3 1806.7M874.1 1798.2L874.2 1796.4L874.6 1795M872.7 1796.2L873.1 1793.9L873.9 1792.2M871.7 1794.8L869.8 1794.7L868.4 1794.2M870.3 1793.4L867.4 1794.1L865.4 1795.7M863 1784.4L863.9 1782.7L865 1781.7M857.6 1776.7L854.6 1776.2L852.4 1774.9M855.9 1775L854.6 1775.5L853.5 1775.4M896.1 1808.7L893.9 1808.7L892.2 1808.1M894 1803.7L894.8 1801.4L895.4 1799.5M885.9 1795.5L885.5 1793.1L885.1 1791.2M883.7 1792.8L883.8 1791.5L884.4 1790.5M880.1 1783.9L882.5 1780.8L884.9 1778.7M891.3 1813.4L890.3 1810.5L889.5 1808.1M888.6 1813.2L887.6 1809.7L887.8 1806.8M873.5 1815.9L873.4 1817.4L872.9 1818.4M865.9 1816.5L864.9 1820L863.8 1822.9M873.1 1816L871.5 1817.4L870 1818.3M855.8 1816.9L852.5 1815L849.5 1814.7M861 1816.7L860.4 1815.4L859.6 1814.5M848.2 1817.1L845.5 1819.1L842.7 1819.7M841 1817.1L839.2 1819.3L838 1821.2M831.5 1816.8L829.4 1818.5L827.8 1820M834.3 1816.9L832.9 1820L833 1822.7M921.8 1811.7L924.7 1809.5L926 1806.9M920.3 1801.5L921.5 1800.6L922.3 1799.7M921.8 1794L923.3 1792.9L924.3 1791.8M921.5 1796.4L919.6 1795.1L917.8 1794.6M923.2 1787.9L926.2 1788.5L928.6 1789.1M929.3 1782.8L928.9 1780.4L928.4 1778.4M933.8 1780.1L936.6 1781.6L939 1782.7M937.1 1777.8L938.6 1777.8L939.8 1777.6M940.8 1770.5L939.2 1768.9L938.4 1767.1M946.2 1759.7L948.9 1758.2L951.5 1758M948.4 1752.3L951.6 1751.3L954.2 1750.7M949 1749.3L947.7 1748L946.4 1747M948.3 1738.1L946 1737.6L944.4 1736.6M945.9 1731.2L944.7 1730.1L943.6 1729.3M944.7 1727.9L946.7 1725.1L947.2 1722.3M940.2 1718L937.3 1716.4L935.7 1714.2M943.4 1724.6L944.6 1723.2L945.1 1721.8M932.5 1809.4L933 1806.3L934.5 1804.2M934.2 1808.4L936.3 1810.3L937.2 1812.4M941.6 1804L941 1801.7L941 1799.7M946.7 1801.1L949.1 1801.7L950.6 1802.8M929.2 1810.8L933 1810.8L936 1810.8M934.6 1801.8L934.9 1798.5L934.3 1795.9M931.3 1814.8L932.4 1812.3L933.9 1810.6M940.5 1815.7L941.7 1818.2L941.7 1820.6M949.5 1816.6L951.6 1818.1L953.5 1819.1M951.5 1816.8L953.4 1818.6L954.3 1820.6M960.9 1818.4L961.2 1820.3L961.4 1821.8M971.4 1822.4L974.2 1820.8L976.8 1820.4M973.6 1823.1L975.3 1822.1L976.3 1821M979.8 1827.7L983 1826L985.1 1824.1M982.3 1830.2L982.8 1833.1L982.8 1835.6M986.7 1834.6L986.9 1836L987.4 1837.1M990.8 1839.6L990.9 1841.6L990.3 1843.1M987.6 1844.3L986.1 1841.6L983.9 1840.2M979.1 1843.5L978.1 1842.3L977.5 1841.2M969.8 1840.6L969 1837.9L967.6 1836.2M966.3 1838.3L965.2 1834.8L965.5 1831.8M961 1833.8L961.8 1831.7L962.4 1829.9M953.6 1823.5L953.8 1819.7L953.4 1816.6M951.2 1818.7L948.5 1818.3L946.4 1819M923.1 1820.1L925.7 1822L928.3 1822.7M923 1820.8L920.7 1823.7L919.7 1826.7M922.4 1830.1L919.8 1831.7L917.8 1833.1M922.4 1829.9L923.8 1830.7L925 1831M922 1841.5L920.5 1842.9L919.5 1844.2M922.5 1851.9L924.2 1853.1L925.4 1854.2M923 1857L920.7 1857.9L918.6 1858.1M923.3 1861.4L921.8 1862L920.7 1862.7M921.3 1845.7L921.9 1849.4L923.5 1852M917.4 1849.6L915.1 1849L913.7 1847.7M914.5 1852.4L915.9 1855.6L916.9 1858.2M914.3 1852.7L914 1854.7L913.4 1856.2M908.7 1858.3L905 1857.3L901.9 1856.7M902.7 1867.1L898.7 1867.2L895.6 1866.7M899.3 1872L897.6 1872.7L896.2 1873M895.2 1877.2L895.9 1879.8L896.5 1881.9M891.2 1882.5L891.1 1885.2L890.6 1887.3M926.4 1822.2L923.7 1824.7L922.4 1827.5M931.7 1831.8L934.3 1833.2L936.4 1834.4M933.8 1836.4L936 1836.3L937.7 1836.9M936.1 1845.2L938.4 1847.9L939.7 1850.5M920.5 1820.3L921.7 1822.2L922.2 1823.9M915.7 1828.6L916.8 1831.7L917.8 1834.3M914.8 1829.9L915.4 1833.4L915.2 1836.4M908.1 1837.8L905.4 1837.1L903.2 1836.7M903.6 1844L901.5 1845.6L899.7 1846.5M915.9 1821.5L913.1 1819.9L910.6 1818.9M916.4 1821.1L914.6 1820.6L913.1 1820.9M909.5 1826.1L907 1825.5L905 1825.7M909.5 1826.1L909 1828.7L908.3 1830.7M901.1 1829.5L900.4 1831.2L899.3 1832.2M891.9 1831.4L889.9 1828.9L887.6 1827.8" fill="none" stroke="#000" stroke-width="0.55" stroke-opacity="0.75" stroke-linecap="round" stroke-linejoin="round"/><path d="M923.3 1817.3C923.6 1818.4 923.4 1822.2 924.9 1824.0C926.4 1825.7 931.1 1827.0 932.3 1827.6" fill="none" stroke="#000" stroke-width="0.8" stroke-linecap="round" stroke-linejoin="round" stroke-opacity="0.7"/><path d="M923.3 1817.3C922.7 1818.0 920.1 1819.6 919.4 1821.3C918.8 1823.1 919.4 1826.6 919.4 1827.7" fill="none" stroke="#000" stroke-width="0.8" stroke-linecap="round" stroke-linejoin="round" stroke-opacity="0.7"/><path d="M923.3 1817.3C923.4 1818.2 923.9 1820.7 923.9 1822.5C923.9 1824.2 923.3 1826.8 923.2 1827.6" fill="none" stroke="#000" stroke-width="0.8" stroke-linecap="round" stroke-linejoin="round" stroke-opacity="0.7"/><path d="M923.3 1817.3C923.6 1818.1 923.8 1820.8 924.9 1821.9C926.1 1823.0 929.3 1823.8 930.2 1824.1" fill="none" stroke="#000" stroke-width="0.8" stroke-linecap="round" stroke-linejoin="round" stroke-opacity="0.7"/><path d="M923.3 1817.3C923.0 1818.3 922.5 1821.3 921.3 1822.9C920.2 1824.6 917.2 1826.3 916.3 1827.0" fill="none" stroke="#000" stroke-width="0.8" stroke-linecap="round" stroke-linejoin="round" stroke-opacity="0.7"/><path d="M923.3 1817.3C923.5 1819.1 923.5 1824.6 924.7 1828.0C925.9 1831.3 929.4 1836.0 930.3 1837.6" fill="none" stroke="#000" stroke-width="0.8" stroke-linecap="round" stroke-linejoin="round" stroke-opacity="0.7"/><path d="M923.3 1817.3C923.8 1818.2 925.8 1820.5 926.2 1822.4C926.6 1824.4 925.8 1827.8 925.7 1828.8" fill="none" stroke="#000" stroke-width="0.8" stroke-linecap="round" stroke-linejoin="round" stroke-opacity="0.7"/><path d="M923.3 1817.3C923.1 1818.4 921.7 1821.6 922.3 1823.7C922.8 1825.8 925.7 1828.8 926.4 1829.9" fill="none" stroke="#000" stroke-width="0.8" stroke-linecap="round" stroke-linejoin="round" stroke-opacity="0.7"/><path d="M923.3 1817.3C922.8 1819.1 921.8 1824.5 920.5 1828.0C919.2 1831.4 916.6 1836.3 915.8 1838.0" fill="none" stroke="#000" stroke-width="0.8" stroke-linecap="round" stroke-linejoin="round" stroke-opacity="0.7"/><path d="M923.3 1817.3C923.9 1817.7 925.4 1819.4 926.7 1819.7C928.1 1820.0 930.7 1819.1 931.5 1819.0" fill="none" stroke="#000" stroke-width="0.8" stroke-linecap="round" stroke-linejoin="round" stroke-opacity="0.7"/><path d="M923.3 1817.3C923.7 1817.9 924.6 1820.0 925.9 1820.7C927.2 1821.3 930.0 1821.0 930.8 1821.1" fill="none" stroke="#000" stroke-width="0.8" stroke-linecap="round" stroke-linejoin="round" stroke-opacity="0.7"/><path d="M923.3 1817.3C922.9 1819.0 920.8 1824.1 921.1 1827.6C921.5 1831.1 924.5 1836.4 925.2 1838.2" fill="none" stroke="#000" stroke-width="0.8" stroke-linecap="round" stroke-linejoin="round" stroke-opacity="0.7"/><path d="M923.3 1817.3C922.4 1818.2 920.3 1821.4 918.1 1822.6C915.9 1823.7 911.5 1824.0 910.2 1824.2" fill="none" stroke="#000" stroke-width="0.8" stroke-linecap="round" stroke-linejoin="round" stroke-opacity="0.7"/><path d="M923.3 1817.3C922.2 1818.7 917.3 1822.2 916.5 1825.7C915.8 1829.2 918.3 1836.3 918.7 1838.4" fill="none" stroke="#000" stroke-width="0.8" stroke-linecap="round" stroke-linejoin="round" stroke-opacity="0.7"/><circle cx="923.6" cy="1814.7" r="2.4" fill="#000" stroke="none" stroke-width="1" /><circle cx="925.9" cy="1813.4" r="1.8" fill="#000" stroke="none" stroke-width="1" /><circle cx="899.6" cy="1764.9" r="0.9" fill="#000" stroke="none" stroke-width="1" /><circle cx="901.2" cy="1775.8" r="0.9" fill="#000" stroke="none" stroke-width="1" /><circle cx="823.8" cy="1762.7" r="0.9" fill="#000" stroke="none" stroke-width="1" /><rect x="817.6" y="1714.6" width="209.1" height="208.4" fill="none" stroke="#231f20" stroke-width="1.9" /><path d="M1085.4 1738.0h0.9v0.9h-0.9zM1068.8 1730.6h0.9v0.9h-0.9zM1225.2 1880.3h1.2v1.2h-1.2zM1082.5 1826.5h0.8v0.8h-0.8zM1072.4 1738.7h0.8v0.8h-0.8zM1227.1 1886.1h1.2v1.2h-1.2zM1201.1 1756.5h0.8v0.8h-0.8zM1165.5 1866.3h1.3v1.3h-1.3zM1217.4 1734.7h1.1v1.1h-1.1zM1174.7 1820.2h0.7v0.7h-0.7zM1134.1 1735.2h1.3v1.3h-1.3zM1214.4 1828.7h0.8v0.8h-0.8zM1223.3 1833.8h1.3v1.3h-1.3zM1210.8 1820.7h0.9v0.9h-0.9zM1159.8 1804.9h0.7v0.7h-0.7zM1099.5 1882.8h0.6v0.6h-0.6zM1046.5 1844.8h0.8v0.8h-0.8zM1146.6 1813.1h0.9v0.9h-0.9zM1241.4 1756.9h0.9v0.9h-0.9zM1078.5 1846.1h0.8v0.8h-0.8zM1109.9 1869.4h0.9v0.9h-0.9zM1151.5 1901.5h0.7v0.7h-0.7zM1049.6 1763.7h1.2v1.2h-1.2zM1163.2 1765.4h0.9v0.9h-0.9zM1073.4 1810.6h0.6v0.6h-0.6zM1179.9 1899.8h1.4v1.4h-1.4zM1187.6 1912.8h0.6v0.6h-0.6zM1096.2 1914.1h1.2v1.2h-1.2zM1121.1 1909.4h1.1v1.1h-1.1zM1204.7 1776.9h0.8v0.8h-0.8zM1128.0 1744.8h0.9v0.9h-0.9zM1234.2 1784.6h0.6v0.6h-0.6zM1046.2 1751.6h1.2v1.2h-1.2zM1111.4 1776.2h0.7v0.7h-0.7zM1238.3 1803.5h0.8v0.8h-0.8zM1049.2 1728.3h0.7v0.7h-0.7zM1175.7 1747.5h0.6v0.6h-0.6zM1137.6 1767.8h1.4v1.4h-1.4zM1062.1 1825.0h1.2v1.2h-1.2zM1120.9 1918.5h1.0v1.0h-1.0zM1086.6 1800.8h0.6v0.6h-0.6zM1123.4 1767.7h1.3v1.3h-1.3zM1207.4 1818.7h0.6v0.6h-0.6zM1089.2 1766.4h0.8v0.8h-0.8zM1084.5 1894.4h0.7v0.7h-0.7zM1047.5 1906.3h1.1v1.1h-1.1zM1240.1 1799.2h1.3v1.3h-1.3zM1171.1 1878.3h1.2v1.2h-1.2zM1138.3 1736.0h0.8v0.8h-0.8zM1216.1 1900.6h1.3v1.3h-1.3zM1106.0 1851.0h1.2v1.2h-1.2zM1168.7 1883.2h1.0v1.0h-1.0zM1171.2 1856.9h0.8v0.8h-0.8zM1226.2 1912.1h0.7v0.7h-0.7zM1236.1 1913.2h1.1v1.1h-1.1zM1046.1 1900.4h0.7v0.7h-0.7zM1235.5 1853.1h0.6v0.6h-0.6zM1071.3 1846.6h1.1v1.1h-1.1zM1190.0 1906.2h0.8v0.8h-0.8zM1037.7 1905.2h0.6v0.6h-0.6zM1216.7 1740.6h1.2v1.2h-1.2zM1197.5 1896.1h1.0v1.0h-1.0zM1217.1 1758.1h1.1v1.1h-1.1zM1104.8 1898.9h1.2v1.2h-1.2zM1133.7 1824.4h0.6v0.6h-0.6zM1044.0 1838.3h1.0v1.0h-1.0zM1214.3 1841.1h0.7v0.7h-0.7zM1111.3 1873.6h1.0v1.0h-1.0zM1039.2 1887.9h1.3v1.3h-1.3zM1054.5 1827.8h0.9v0.9h-0.9z" fill="#000" fill-opacity="0.25"/><path d="M1037.2 1810.8C1038.5 1809.0 1042.3 1804.2 1045.1 1800.2C1048.0 1796.3 1051.1 1792.7 1054.3 1787.0C1057.6 1781.3 1061.6 1770.8 1064.9 1766.0C1068.2 1761.1 1069.7 1761.1 1074.1 1758.1C1078.5 1755.0 1088.4 1749.3 1091.2 1747.5" fill="none" stroke="#000" stroke-width="0.8" stroke-linecap="round" stroke-linejoin="round" stroke-opacity="0.2" stroke-dasharray="2.5 1.5"/><path d="M1037.2 1866.1C1039.0 1869.4 1043.8 1880.4 1047.8 1885.8C1051.7 1891.3 1058.3 1894.4 1060.9 1899.0C1063.6 1903.6 1063.1 1911.1 1063.6 1913.5" fill="none" stroke="#000" stroke-width="0.8" stroke-linecap="round" stroke-linejoin="round" stroke-opacity="0.2" stroke-dasharray="2.5 1.5"/><path d="M1104.4 1872.7C1104.2 1876.0 1103.5 1885.6 1103.1 1892.4C1102.6 1899.2 1102.0 1910.0 1101.8 1913.5" fill="none" stroke="#000" stroke-width="0.8" stroke-linecap="round" stroke-linejoin="round" stroke-opacity="0.15" stroke-dasharray="2.5 1.5"/><path d="M1191.4 1866.1C1192.4 1863.9 1195.7 1857.7 1197.9 1852.9C1200.1 1848.1 1202.1 1842.6 1204.5 1837.1C1206.9 1831.6 1210.0 1826.1 1212.4 1820.0C1214.8 1813.8 1217.9 1803.5 1219.0 1800.2" fill="none" stroke="#000" stroke-width="0.8" stroke-linecap="round" stroke-linejoin="round" stroke-opacity="0.2" stroke-dasharray="2.5 1.5"/><path d="M1178.2 1718.5C1179.1 1721.2 1182.1 1728.6 1183.4 1734.3C1184.8 1740.1 1184.5 1746.6 1186.1 1752.8C1187.6 1758.9 1191.6 1768.2 1192.7 1771.2" fill="none" stroke="#000" stroke-width="0.8" stroke-linecap="round" stroke-linejoin="round" stroke-opacity="0.2" stroke-dasharray="2.5 1.5"/><path d="M1232.2 1783.1C1231.1 1784.6 1227.8 1789.5 1225.6 1792.3C1223.4 1795.2 1220.1 1798.9 1219.0 1800.2" fill="none" stroke="#000" stroke-width="0.8" stroke-linecap="round" stroke-linejoin="round" stroke-opacity="0.3" stroke-dasharray="2.5 1.5"/><path d="M1159.7 1903.0C1161.9 1901.7 1168.5 1897.3 1172.9 1895.1C1177.3 1892.9 1182.1 1892.4 1186.1 1889.8C1190.0 1887.2 1194.9 1881.0 1196.6 1879.3" fill="none" stroke="#000" stroke-width="0.8" stroke-linecap="round" stroke-linejoin="round" stroke-opacity="0.15" stroke-dasharray="2.5 1.5"/><path d="M1128.1 1800.2C1129.0 1798.2 1131.0 1791.4 1133.4 1788.4C1135.8 1785.3 1141.1 1782.9 1142.6 1781.8" fill="none" stroke="#000" stroke-width="0.8" stroke-linecap="round" stroke-linejoin="round" stroke-opacity="0.2" stroke-dasharray="2.5 1.5"/><path d="M1107.0 1739.6C1109.2 1738.1 1115.8 1733.0 1120.2 1730.4C1124.6 1727.8 1131.2 1724.9 1133.4 1723.8" fill="none" stroke="#000" stroke-width="0.8" stroke-linecap="round" stroke-linejoin="round" stroke-opacity="0.15" stroke-dasharray="2.5 1.5"/><path d="M1073.4 1717.5C1074.0 1718.8 1075.3 1722.8 1076.7 1725.1C1078.2 1727.5 1079.8 1729.8 1082.0 1731.7C1084.2 1733.6 1087.1 1734.8 1089.9 1736.3C1092.8 1737.9 1096.4 1739.5 1099.1 1740.9C1101.9 1742.4 1104.0 1744.8 1106.4 1745.1C1108.8 1745.5 1110.9 1743.7 1113.6 1743.3C1116.4 1742.9 1120.0 1742.9 1122.8 1742.9C1125.7 1742.9 1128.3 1742.6 1130.8 1743.3C1133.2 1744.0 1135.4 1745.3 1137.3 1746.9C1139.3 1748.4 1140.6 1750.9 1142.6 1752.8C1144.6 1754.7 1147.2 1756.5 1149.2 1758.1C1151.2 1759.6 1153.0 1760.6 1154.5 1762.0C1155.9 1763.4 1156.4 1766.1 1157.8 1766.6C1159.1 1767.2 1160.7 1765.1 1162.4 1765.3C1164.0 1765.5 1165.9 1766.7 1167.6 1767.9C1169.4 1769.1 1170.9 1771.0 1172.9 1772.6C1174.9 1774.1 1177.0 1775.9 1179.5 1777.2C1182.0 1778.4 1185.0 1779.6 1188.1 1780.1C1191.1 1780.5 1195.0 1779.3 1197.9 1779.8C1200.9 1780.3 1203.4 1781.7 1205.8 1783.1C1208.3 1784.5 1210.5 1786.6 1212.4 1788.4C1214.4 1790.1 1215.9 1791.9 1217.7 1793.6C1219.5 1795.4 1221.5 1796.8 1223.0 1798.9C1224.4 1801.0 1225.4 1803.7 1226.3 1806.1C1227.1 1808.6 1227.7 1810.9 1228.2 1813.4C1228.7 1815.9 1229.4 1818.7 1229.3 1821.3C1229.2 1823.9 1228.1 1826.6 1227.6 1829.2C1227.1 1831.8 1226.6 1834.5 1226.3 1837.1C1225.9 1839.7 1226.2 1842.4 1225.6 1845.0C1225.1 1847.6 1224.1 1850.3 1223.0 1852.9C1221.9 1855.5 1220.3 1858.2 1219.0 1860.8C1217.7 1863.4 1216.6 1866.4 1215.1 1868.7C1213.5 1871.0 1211.8 1873.1 1209.8 1874.6C1207.8 1876.2 1205.1 1877.7 1203.2 1877.9C1201.3 1878.2 1200.4 1877.3 1198.6 1876.0C1196.8 1874.6 1194.8 1871.8 1192.7 1870.0C1190.6 1868.3 1188.5 1866.9 1186.1 1865.4C1183.7 1864.0 1180.8 1862.7 1178.2 1861.5C1175.5 1860.3 1172.9 1859.3 1170.3 1858.2C1167.6 1857.1 1165.0 1855.9 1162.4 1854.9C1159.7 1853.9 1156.4 1852.9 1154.5 1852.2C1152.5 1851.6 1151.2 1851.2 1150.5 1850.9" fill="none" stroke="#000" stroke-width="0.792" stroke-linecap="round" stroke-linejoin="round" stroke-opacity="0.95"/><path d="M1155.1 1717.5C1154.4 1718.1 1151.1 1719.0 1150.5 1721.2C1150.0 1723.3 1151.3 1727.3 1151.8 1730.4C1152.4 1733.5 1153.0 1736.8 1153.8 1739.6C1154.6 1742.5 1155.7 1745.0 1156.4 1747.5C1157.2 1750.0 1158.5 1752.6 1158.4 1754.8C1158.3 1757.0 1156.2 1759.7 1155.8 1760.7" fill="none" stroke="#000" stroke-width="0.7" stroke-linecap="round" stroke-linejoin="round" stroke-opacity="0.6"/><path d="M1188.1 1780.1C1187.1 1781.2 1184.7 1785.0 1182.1 1787.0C1179.6 1789.1 1176.0 1790.6 1172.9 1792.3C1169.8 1794.1 1167.0 1795.8 1163.7 1797.6C1160.4 1799.3 1156.4 1800.9 1153.1 1802.8C1149.9 1804.8 1145.5 1808.3 1143.9 1809.4" fill="none" stroke="#000" stroke-width="0.7" stroke-linecap="round" stroke-linejoin="round" stroke-opacity="0.8"/><path d="M1140.0 1824.6C1141.1 1823.8 1144.1 1821.5 1146.6 1820.0C1149.0 1818.4 1151.8 1816.8 1154.5 1815.4C1157.1 1813.9 1159.6 1812.7 1162.4 1811.4C1165.1 1810.1 1169.5 1808.1 1170.9 1807.5" fill="none" stroke="#000" stroke-width="1.44" stroke-linecap="round" stroke-linejoin="round"/><path d="M1170.9 1807.5C1172.4 1807.9 1176.5 1809.0 1179.5 1810.1C1182.5 1811.2 1185.9 1812.9 1188.7 1814.0C1191.6 1815.1 1195.3 1816.2 1196.6 1816.7" fill="none" stroke="#000" stroke-width="0.864" stroke-linecap="round" stroke-linejoin="round"/><path d="M1170.9 1807.5C1170.7 1806.0 1169.7 1801.9 1169.6 1798.9C1169.5 1795.9 1170.2 1791.2 1170.3 1789.7" fill="none" stroke="#000" stroke-width="0.864" stroke-linecap="round" stroke-linejoin="round"/><path d="M1141.3 1823.9C1142.8 1823.5 1147.4 1822.0 1150.5 1821.3C1153.6 1820.6 1156.9 1820.0 1159.7 1820.0C1162.6 1819.9 1165.3 1820.7 1167.6 1821.0C1169.9 1821.4 1172.6 1821.8 1173.6 1822.0" fill="none" stroke="#000" stroke-width="1.008" stroke-linecap="round" stroke-linejoin="round"/><path d="M1146.6 1822.6C1148.3 1821.8 1154.0 1818.7 1157.1 1818.0C1160.2 1817.3 1162.9 1818.4 1165.0 1818.4C1167.1 1818.4 1168.8 1818.1 1169.6 1818.0" fill="none" stroke="#000" stroke-width="0.72" stroke-linecap="round" stroke-linejoin="round"/><path d="M1153.1 1821.3C1154.7 1821.7 1160.1 1823.4 1162.4 1823.9C1164.7 1824.5 1166.2 1824.5 1167.0 1824.6" fill="none" stroke="#000" stroke-width="0.72" stroke-linecap="round" stroke-linejoin="round"/><path d="M1140.6 1822.6C1141.0 1821.3 1141.5 1817.6 1142.6 1814.7C1143.7 1811.9 1145.8 1808.1 1147.2 1805.5C1148.6 1802.8 1150.2 1801.1 1151.2 1798.9C1152.2 1796.7 1152.3 1794.3 1153.1 1792.3C1154.0 1790.3 1155.6 1788.4 1156.4 1787.0C1157.3 1785.7 1158.1 1784.8 1158.4 1784.4" fill="none" stroke="#000" stroke-width="1.08" stroke-linecap="round" stroke-linejoin="round"/><path d="M1141.3 1821.3C1141.4 1819.8 1141.7 1814.9 1142.0 1812.1C1142.2 1809.2 1142.1 1806.1 1142.6 1804.2C1143.2 1802.2 1144.3 1800.9 1145.2 1800.2C1146.2 1799.6 1148.0 1799.3 1148.5 1800.2C1149.1 1801.1 1148.8 1803.5 1148.5 1805.5C1148.3 1807.5 1147.5 1809.9 1147.2 1812.1C1146.9 1814.3 1146.7 1817.6 1146.6 1818.7" fill="none" stroke="#000" stroke-width="0.9359999999999999" stroke-linecap="round" stroke-linejoin="round"/><path d="M1138.7 1823.3C1137.8 1822.3 1135.1 1819.2 1133.4 1817.3C1131.6 1815.5 1129.7 1813.4 1128.1 1812.1C1126.6 1810.8 1124.8 1809.9 1124.2 1809.4" fill="none" stroke="#000" stroke-width="1.58" stroke-linecap="round" stroke-linejoin="round"/><path d="M1128.1 1812.1C1127.5 1811.2 1125.4 1808.4 1124.2 1806.8C1123.0 1805.2 1121.4 1803.0 1120.9 1802.2" fill="none" stroke="#000" stroke-width="0.864" stroke-linecap="round" stroke-linejoin="round"/><path d="M1133.4 1817.3C1133.2 1816.5 1132.9 1813.2 1132.1 1812.1C1131.2 1811.0 1129.7 1811.2 1128.1 1810.8C1126.6 1810.3 1124.6 1809.2 1122.8 1809.4C1121.1 1809.7 1118.5 1811.6 1117.6 1812.1" fill="none" stroke="#000" stroke-width="0.72" stroke-linecap="round" stroke-linejoin="round"/><path d="M1138.7 1825.2C1137.6 1825.7 1134.5 1827.0 1132.1 1827.9C1129.7 1828.8 1126.8 1829.5 1124.2 1830.5C1121.5 1831.5 1118.9 1832.9 1116.3 1833.8C1113.6 1834.7 1110.8 1834.8 1108.4 1835.8C1105.9 1836.8 1104.2 1838.7 1101.8 1839.7C1099.4 1840.7 1096.7 1841.5 1093.9 1841.7C1091.0 1841.9 1087.3 1841.2 1084.6 1841.1C1082.0 1840.9 1080.0 1840.6 1078.1 1841.1C1076.1 1841.5 1073.7 1843.2 1072.8 1843.7" fill="none" stroke="#000" stroke-width="1.44" stroke-linecap="round" stroke-linejoin="round"/><path d="M1108.4 1835.8C1107.7 1836.7 1106.4 1839.5 1104.4 1841.1C1102.4 1842.6 1099.1 1843.6 1096.5 1845.0C1093.9 1846.4 1091.0 1848.3 1088.6 1849.6C1086.2 1850.9 1084.2 1851.6 1082.0 1852.9C1079.8 1854.2 1077.5 1856.1 1075.4 1857.5C1073.3 1858.9 1070.5 1860.8 1069.5 1861.5" fill="none" stroke="#000" stroke-width="1.008" stroke-linecap="round" stroke-linejoin="round"/><path d="M1072.8 1843.7C1071.9 1843.9 1069.5 1844.6 1067.5 1845.0C1065.5 1845.4 1063.6 1846.0 1060.9 1846.3C1058.3 1846.7 1054.6 1846.8 1051.7 1847.0C1048.9 1847.2 1046.2 1846.5 1043.8 1847.6C1041.4 1848.7 1038.3 1852.6 1037.2 1853.6" fill="none" stroke="#000" stroke-width="0.7" stroke-linecap="round" stroke-linejoin="round" stroke-opacity="0.7"/><path d="M1107.0 1834.5C1106.4 1832.9 1104.3 1828.3 1103.1 1825.2C1101.9 1822.2 1100.3 1817.6 1099.8 1816.0" fill="none" stroke="#000" stroke-width="0.864" stroke-linecap="round" stroke-linejoin="round"/><path d="M1078.7 1839.7C1078.4 1838.2 1077.8 1833.7 1076.7 1830.5C1075.6 1827.3 1072.9 1822.3 1072.1 1820.6" fill="none" stroke="#000" stroke-width="0.864" stroke-linecap="round" stroke-linejoin="round"/><path d="M1072.8 1843.7C1073.2 1844.6 1074.0 1847.5 1075.4 1849.0C1076.9 1850.4 1080.4 1851.7 1081.4 1852.2" fill="none" stroke="#000" stroke-width="0.864" stroke-linecap="round" stroke-linejoin="round"/><path d="M1072.8 1847.6L1068.8 1852.9" fill="none" stroke="#000" stroke-width="0.72" stroke-linecap="round" stroke-linejoin="round"/><path d="M1132.1 1827.9C1130.5 1828.1 1125.7 1829.4 1122.8 1829.2C1120.0 1829.0 1117.0 1827.2 1114.9 1826.6C1112.9 1825.9 1111.1 1825.5 1110.3 1825.2" fill="none" stroke="#000" stroke-width="0.72" stroke-linecap="round" stroke-linejoin="round"/><path d="M1120.2 1831.8C1118.0 1832.1 1111.4 1832.1 1107.0 1833.1C1102.6 1834.2 1098.3 1836.9 1093.9 1838.4C1089.5 1840.0 1085.1 1841.4 1080.7 1842.4C1076.3 1843.4 1069.7 1844.0 1067.5 1844.3" fill="none" stroke="#000" stroke-width="0.7" stroke-linecap="round" stroke-linejoin="round" stroke-opacity="0.7"/><path d="M1141.3 1826.6C1141.7 1827.7 1143.0 1830.7 1143.9 1833.1C1144.8 1835.6 1145.7 1838.6 1146.6 1841.1C1147.4 1843.5 1148.5 1845.9 1149.2 1847.6C1149.9 1849.4 1150.6 1850.1 1150.5 1851.6C1150.4 1853.1 1148.9 1856.0 1148.5 1856.9" fill="none" stroke="#000" stroke-width="1.58" stroke-linecap="round" stroke-linejoin="round"/><path d="M1148.5 1856.9C1147.8 1858.0 1145.4 1861.3 1143.9 1863.4C1142.5 1865.6 1141.2 1867.8 1140.0 1870.0C1138.8 1872.2 1137.3 1874.2 1136.7 1876.6C1136.0 1879.0 1136.1 1883.2 1136.0 1884.5" fill="none" stroke="#000" stroke-width="0.9359999999999999" stroke-linecap="round" stroke-linejoin="round"/><path d="M1150.5 1854.2C1150.5 1855.1 1150.7 1857.7 1150.5 1859.5C1150.3 1861.3 1149.4 1863.9 1149.2 1864.8" fill="none" stroke="#000" stroke-width="0.72" stroke-linecap="round" stroke-linejoin="round"/><path d="M1148.5 1856.2C1147.3 1856.3 1144.0 1856.6 1141.3 1856.9C1138.5 1857.1 1134.3 1858.0 1132.1 1857.5C1129.9 1857.1 1130.2 1855.1 1128.1 1854.2C1126.0 1853.3 1121.0 1852.6 1119.6 1852.2" fill="none" stroke="#000" stroke-width="0.792" stroke-linecap="round" stroke-linejoin="round"/><path d="M1137.3 1826.6C1136.5 1827.4 1132.7 1829.6 1132.1 1831.8C1131.4 1834.0 1133.2 1837.3 1133.4 1839.7C1133.6 1842.2 1133.4 1845.2 1133.4 1846.3" fill="none" stroke="#000" stroke-width="1.152" stroke-linecap="round" stroke-linejoin="round"/><path d="M1132.1 1834.5C1131.0 1834.9 1127.4 1835.9 1125.5 1837.1C1123.6 1838.3 1121.6 1840.9 1120.9 1841.7" fill="none" stroke="#000" stroke-width="0.72" stroke-linecap="round" stroke-linejoin="round"/><path d="M1133.4 1845.0C1134.5 1844.6 1138.0 1843.2 1140.0 1842.4C1142.0 1841.5 1144.4 1840.2 1145.2 1839.7" fill="none" stroke="#000" stroke-width="0.72" stroke-linecap="round" stroke-linejoin="round"/><path d="M1143.9 1830.5C1145.5 1831.0 1150.1 1832.3 1153.1 1833.1C1156.2 1834.0 1160.8 1835.3 1162.4 1835.8" fill="none" stroke="#000" stroke-width="0.72" stroke-linecap="round" stroke-linejoin="round"/><path d="M1145.2 1821L1148.4 1821.6L1150.8 1823.1M1149.7 1818.1L1151 1815.5L1152.8 1813.8M1150.6 1817.6L1153.7 1818.6L1156.2 1819.2M1159.4 1812.9L1159.8 1809.1L1160 1806M1163.4 1810.9L1164 1809.3L1164.7 1808.1M1165.2 1810.1L1168.9 1811.2L1172.1 1810.5M1172.4 1807.9L1173.4 1809.2L1173.9 1810.4M1176.1 1809L1178 1807.6L1179.4 1806.2M1181.6 1811L1183.5 1808.7L1185.4 1807.1M1185.1 1812.5L1186 1816.1L1185.8 1819.2M1193.2 1815.5L1193.8 1818L1195 1819.6M1169.9 1800.9L1171.9 1799.9L1173.5 1799.1M1170 1793.3L1167.7 1790.3L1165.1 1788.5M1170.1 1791.6L1168.7 1788.9L1168.5 1786.4M1144.3 1823.1L1146.2 1824L1147.9 1824M1141.5 1823.9L1142 1820.4L1143.6 1818.1M1152 1821.1L1154.5 1824.2L1157.4 1825.6M1159 1820.1L1160.9 1818.3L1162.8 1817.4M1161.5 1820.2L1162.3 1823.3L1162 1825.8M1169 1821.2L1169.8 1823.2L1170.8 1824.7M1141.3 1820L1143.6 1819.8L1145.5 1819.4M1146.4 1807.2L1149.2 1806.4L1151.2 1805.3M1146.7 1806.4L1149.7 1806.3L1152.1 1805.8M1151 1799.2L1150.9 1797.7L1151.3 1796.6M1153.1 1792.4L1155.2 1791.8L1156.5 1790.6M1154 1791L1152.9 1788.6L1152.1 1786.6M1156.6 1786.9L1156.7 1785.2L1156.2 1783.9M1141.6 1817.6L1142.6 1816L1143.8 1814.9M1141.4 1819.4L1142.6 1817.8L1144 1816.9M1142.4 1807L1139.8 1805.3L1138.5 1803.2M1144.9 1800.7L1143.8 1797.7L1143.5 1795.2M1147.1 1800.2L1150 1802.3L1152.4 1804M1148.5 1800.6L1150.7 1803.6L1152.5 1806M1147.8 1809L1145.7 1809.4L1144 1809.9M1146.9 1814.9L1148.8 1817.4L1150.6 1819.1M1134.5 1818.6L1131 1817.8L1128.5 1816.3M1132.2 1816.1L1128.9 1816.4L1126.5 1817.5M1124.9 1809.9L1124.5 1808.2L1124.2 1806.7M1127.4 1811.1L1128.7 1807.6L1129.1 1804.5M1122 1803.8L1122.5 1802.5L1123.1 1801.5M1137 1825.9L1135.1 1824.2L1134.1 1822.3M1125.7 1830L1125.6 1833.7L1124.3 1836.5M1119 1832.7L1118.4 1835.3L1117 1837.1M1113.5 1834.5L1112.6 1835.6L1111.8 1836.5M1102.9 1839.1L1101.4 1841.8L1100.6 1844.2M1097 1840.9L1096.6 1842.5L1095.7 1843.5M1086.2 1841.2L1084.6 1842.1L1083.4 1843.1M1085.1 1841.1L1082.2 1842.4L1080.2 1844.1M1083 1841.1L1082.2 1839.1L1081.3 1837.6M1074.9 1842.6L1073.7 1845L1073.6 1847.1M1106.3 1838.5L1104.3 1838.4L1102.7 1838.9M1098.8 1843.8L1097.5 1843.6L1096.6 1843M1089.1 1849.3L1085.5 1848.4L1083.1 1846.5M1089.2 1849.3L1086.3 1848.6L1083.9 1848.6M1085.2 1851.3L1084.4 1854.1L1083.3 1856.3M1077.8 1855.9L1073.8 1856L1070.8 1857.2M1074.9 1857.9L1075.4 1859.8L1076.2 1861.2M1104.5 1828.5L1103.2 1828.3L1102.1 1828.1M1106.2 1832.6L1103.1 1831L1100.2 1830.7M1099.9 1816.3L1102 1814.4L1103.2 1812.3M1100.6 1818.4L1097.3 1818.3L1094.7 1817.6M1077.1 1832.3L1074.8 1830.6L1073.1 1828.9M1077.3 1832.9L1078.8 1832.1L1080.2 1831.8M1076.5 1830L1073.4 1830.4L1071 1829.5M1076.5 1829.9L1078.3 1827.4L1080.4 1826M1073.1 1844.2L1075.4 1844.2L1077.3 1844.3M1078.4 1850.6L1079.3 1853.8L1079.1 1856.5M1143.3 1831.6L1145.2 1832.7L1147 1833.4M1144.9 1836L1148 1836L1150.5 1835.7M1148 1844.6L1149.8 1844.5L1151.2 1844.1M1150.5 1851.5L1151.7 1852.6L1152.8 1853.3M1149.2 1855.2L1146.5 1855.1L1144.5 1856M1147.1 1858.9L1143.4 1860.2L1140.2 1860.8M1142.5 1865.8L1143.1 1867.3L1144 1868.3M1137.4 1875.2L1135.4 1876.1L1133.7 1876.7M1136.6 1877.1L1139.5 1879.8L1141.7 1882.1M1136.4 1827.5L1136.9 1830.4L1136.9 1832.8M1132.1 1832L1130.7 1834.5L1129.3 1836.4M1133.4 1840.6L1131.3 1843.2L1129.5 1845.2" fill="none" stroke="#000" stroke-width="0.55" stroke-opacity="0.75" stroke-linecap="round" stroke-linejoin="round"/><path d="M1140.0 1825.2C1139.3 1826.0 1137.7 1828.8 1135.8 1829.6C1134.0 1830.3 1130.0 1829.6 1128.8 1829.7" fill="none" stroke="#000" stroke-width="0.8" stroke-linecap="round" stroke-linejoin="round" stroke-opacity="0.7"/><path d="M1140.0 1825.2C1140.5 1824.4 1141.8 1821.9 1142.9 1820.4C1144.0 1818.8 1145.9 1816.7 1146.5 1816.0" fill="none" stroke="#000" stroke-width="0.8" stroke-linecap="round" stroke-linejoin="round" stroke-opacity="0.7"/><path d="M1140.0 1825.2C1139.5 1826.0 1138.5 1828.8 1137.0 1829.7C1135.4 1830.6 1131.6 1830.4 1130.6 1830.5" fill="none" stroke="#000" stroke-width="0.8" stroke-linecap="round" stroke-linejoin="round" stroke-opacity="0.7"/><path d="M1140.0 1825.2C1140.5 1825.4 1142.2 1825.6 1143.2 1825.9C1144.3 1826.2 1145.9 1826.9 1146.4 1827.0" fill="none" stroke="#000" stroke-width="0.8" stroke-linecap="round" stroke-linejoin="round" stroke-opacity="0.7"/><path d="M1140.0 1825.2C1140.5 1824.6 1141.6 1822.2 1142.9 1821.3C1144.3 1820.4 1147.3 1820.0 1148.1 1819.8" fill="none" stroke="#000" stroke-width="0.8" stroke-linecap="round" stroke-linejoin="round" stroke-opacity="0.7"/><path d="M1140.0 1825.2C1140.8 1825.7 1143.1 1827.4 1144.9 1827.7C1146.7 1828.0 1149.9 1827.1 1150.9 1827.0" fill="none" stroke="#000" stroke-width="0.8" stroke-linecap="round" stroke-linejoin="round" stroke-opacity="0.7"/><path d="M1140.0 1825.2C1140.4 1826.0 1141.4 1828.6 1142.8 1829.6C1144.2 1830.6 1147.4 1831.1 1148.3 1831.4" fill="none" stroke="#000" stroke-width="0.8" stroke-linecap="round" stroke-linejoin="round" stroke-opacity="0.7"/><path d="M1140.0 1825.2C1140.4 1824.5 1142.0 1822.5 1142.7 1820.9C1143.3 1819.3 1143.7 1816.7 1144.0 1815.8" fill="none" stroke="#000" stroke-width="0.8" stroke-linecap="round" stroke-linejoin="round" stroke-opacity="0.7"/><path d="M1140.0 1825.2C1140.9 1824.9 1144.1 1824.5 1145.4 1823.0C1146.8 1821.6 1147.5 1817.6 1147.9 1816.5" fill="none" stroke="#000" stroke-width="0.8" stroke-linecap="round" stroke-linejoin="round" stroke-opacity="0.7"/><path d="M1140.0 1825.2C1140.3 1824.8 1141.5 1823.5 1141.7 1822.4C1141.9 1821.3 1141.5 1819.4 1141.4 1818.8" fill="none" stroke="#000" stroke-width="0.8" stroke-linecap="round" stroke-linejoin="round" stroke-opacity="0.7"/><path d="M1140.0 1825.2C1139.5 1824.8 1137.7 1823.6 1137.1 1822.4C1136.6 1821.2 1136.9 1818.6 1136.8 1817.9" fill="none" stroke="#000" stroke-width="0.8" stroke-linecap="round" stroke-linejoin="round" stroke-opacity="0.7"/><path d="M1140.0 1825.2C1139.8 1826.2 1139.7 1829.1 1138.9 1830.7C1138.1 1832.4 1135.7 1834.5 1135.1 1835.3" fill="none" stroke="#000" stroke-width="0.8" stroke-linecap="round" stroke-linejoin="round" stroke-opacity="0.7"/><circle cx="1140.0" cy="1824.6" r="2.6" fill="#000" stroke="none" stroke-width="1" /><circle cx="1066.6" cy="1754.8" r="1.1" fill="#000" stroke="none" stroke-width="1" /><circle cx="1085.7" cy="1766.6" r="1" fill="#000" stroke="none" stroke-width="1" /><circle cx="1049.1" cy="1854.0" r="1.2" fill="#000" stroke="none" stroke-width="1" /><circle cx="1235.2" cy="1769.9" r="1.1" fill="#000" stroke="none" stroke-width="1" /><circle cx="1166.1" cy="1768.6" r="1" fill="#000" stroke="none" stroke-width="1" /><circle cx="1082.7" cy="1838.8" r="1.2" fill="#000" stroke="none" stroke-width="1" /><circle cx="1210.2" cy="1908.2" r="0.9" fill="#000" stroke="none" stroke-width="1" /><circle cx="1197.9" cy="1761.1" r="0.7" fill="#000" stroke="none" stroke-width="1" /><circle cx="1197.5" cy="1916.4" r="0.7" fill="#000" stroke="none" stroke-width="1" /><circle cx="1159.1" cy="1747.8" r="0.7" fill="#000" stroke="none" stroke-width="1" /><circle cx="1095.4" cy="1780.8" r="0.6" fill="#000" stroke="none" stroke-width="1" /><rect x="1206.1" y="1911.0" width="31.8" height="1.6" fill="#000" stroke="none" stroke-width="1" /><rect x="1034.9" y="1714.6" width="209.1" height="208.4" fill="none" stroke="#231f20" stroke-width="1.9" /></g>
<g id="p_k"><text font-size="46.48" font-weight="bold" transform="translate(1310.52 1429.70) scale(0.980 1)">k</text><path d="M1374.9 1804.7V1832.6M1370.5 1804.7h8.8M1370.5 1832.6h8.8M1404.9 1711V1734.9M1400.5 1711h8.8M1400.5 1734.9h8.8M1434.9 1654V1676.3M1430.5 1654h8.8M1430.5 1676.3h8.8M1464.9 1603.3V1639.2M1460.5 1603.3h8.8M1460.5 1639.2h8.8M1494.9 1579.8V1621.3M1490.5 1579.8h8.8M1490.5 1621.3h8.8M1524.9 1580.2V1618.5M1520.5 1580.2h8.8M1520.5 1618.5h8.8M1555 1598.5V1640M1550.6 1598.5h8.8M1550.6 1640h8.8M1585 1637.2V1689M1580.6 1637.2h8.8M1580.6 1689h8.8M1615 1653.2V1694.6M1610.6 1653.2h8.8M1610.6 1694.6h8.8M1645 1675.9V1722.1M1640.6 1675.9h8.8M1640.6 1722.1h8.8M1675 1697V1738.5M1670.6 1697h8.8M1670.6 1738.5h8.8M1705 1674.7V1720.9M1700.6 1674.7h8.8M1700.6 1720.9h8.8M1735 1679.9V1734.1M1730.6 1679.9h8.8M1730.6 1734.1h8.8M1765 1694.2V1735.7M1760.6 1694.2h8.8M1760.6 1735.7h8.8M1795 1688.2V1734.5M1790.6 1688.2h8.8M1790.6 1734.5h8.8M1825 1694.2V1735.7M1820.6 1694.2h8.8M1820.6 1735.7h8.8M1855 1714.2V1750M1850.6 1714.2h8.8M1850.6 1750h8.8M1885.1 1720.1V1758.4M1880.7 1720.1h8.8M1880.7 1758.4h8.8M1915.1 1707V1750.8M1910.7 1707h8.8M1910.7 1750.8h8.8M1945.1 1722.1V1758M1940.7 1722.1h8.8M1940.7 1758h8.8" fill="none" stroke="#000000" stroke-width="2.9"/><polyline points="1374.9,1818.6 1404.9,1722.9 1434.9,1665.1 1464.9,1621.3 1494.9,1600.5 1524.9,1599.3 1555.0,1619.3 1585.0,1663.1 1615.0,1673.9 1645.0,1699.0 1675.0,1717.8 1705.0,1697.8 1735.0,1707.0 1765.0,1715.0 1795.0,1711.4 1825.0,1715.0 1855.0,1732.1 1885.1,1739.3 1915.1,1728.9 1945.1,1740.1" fill="none" stroke="#000000" stroke-width="3.2" stroke-linejoin="round" /><path d="M1372.3 1818.6a2.6 2.6 0 1 0 5.2 0a2.6 2.6 0 1 0 -5.2 0zM1402.3 1722.9a2.6 2.6 0 1 0 5.2 0a2.6 2.6 0 1 0 -5.2 0zM1432.3 1665.1a2.6 2.6 0 1 0 5.2 0a2.6 2.6 0 1 0 -5.2 0zM1462.3 1621.3a2.6 2.6 0 1 0 5.2 0a2.6 2.6 0 1 0 -5.2 0zM1492.3 1600.5a2.6 2.6 0 1 0 5.2 0a2.6 2.6 0 1 0 -5.2 0zM1522.3 1599.3a2.6 2.6 0 1 0 5.2 0a2.6 2.6 0 1 0 -5.2 0zM1552.4 1619.3a2.6 2.6 0 1 0 5.2 0a2.6 2.6 0 1 0 -5.2 0zM1582.4 1663.1a2.6 2.6 0 1 0 5.2 0a2.6 2.6 0 1 0 -5.2 0zM1612.4 1673.9a2.6 2.6 0 1 0 5.2 0a2.6 2.6 0 1 0 -5.2 0zM1642.4 1699a2.6 2.6 0 1 0 5.2 0a2.6 2.6 0 1 0 -5.2 0zM1672.4 1717.8a2.6 2.6 0 1 0 5.2 0a2.6 2.6 0 1 0 -5.2 0zM1702.4 1697.8a2.6 2.6 0 1 0 5.2 0a2.6 2.6 0 1 0 -5.2 0zM1732.4 1707a2.6 2.6 0 1 0 5.2 0a2.6 2.6 0 1 0 -5.2 0zM1762.4 1715a2.6 2.6 0 1 0 5.2 0a2.6 2.6 0 1 0 -5.2 0zM1792.4 1711.4a2.6 2.6 0 1 0 5.2 0a2.6 2.6 0 1 0 -5.2 0zM1822.4 1715a2.6 2.6 0 1 0 5.2 0a2.6 2.6 0 1 0 -5.2 0zM1852.4 1732.1a2.6 2.6 0 1 0 5.2 0a2.6 2.6 0 1 0 -5.2 0zM1882.5 1739.3a2.6 2.6 0 1 0 5.2 0a2.6 2.6 0 1 0 -5.2 0zM1912.5 1728.9a2.6 2.6 0 1 0 5.2 0a2.6 2.6 0 1 0 -5.2 0zM1942.5 1740.1a2.6 2.6 0 1 0 5.2 0a2.6 2.6 0 1 0 -5.2 0z" fill="#000000"/><path d="M1374.9 1814.6V1830.6M1370.5 1814.6h8.8M1370.5 1830.6h8.8M1404.9 1728.9V1752.8M1400.5 1728.9h8.8M1400.5 1752.8h8.8M1434.9 1683.5V1717M1430.5 1683.5h8.8M1430.5 1717h8.8M1464.9 1668.3V1698.6M1460.5 1668.3h8.8M1460.5 1698.6h8.8M1494.9 1661.9V1690.6M1490.5 1661.9h8.8M1490.5 1690.6h8.8M1524.9 1655.2V1696.6M1520.5 1655.2h8.8M1520.5 1696.6h8.8M1555 1669.9V1708.2M1550.6 1669.9h8.8M1550.6 1708.2h8.8M1585 1675.1V1722.9M1580.6 1675.1h8.8M1580.6 1722.9h8.8M1615 1684.3V1722.5M1610.6 1684.3h8.8M1610.6 1722.5h8.8M1645 1689.4V1730.9M1640.6 1689.4h8.8M1640.6 1730.9h8.8M1675 1692.6V1729.3M1670.6 1692.6h8.8M1670.6 1729.3h8.8M1705 1699.4V1740.9M1700.6 1699.4h8.8M1700.6 1740.9h8.8M1735 1718.5V1753.6M1730.6 1718.5h8.8M1730.6 1753.6h8.8M1765 1709V1744.9M1760.6 1709h8.8M1760.6 1744.9h8.8M1795 1730.9V1772.4M1790.6 1730.9h8.8M1790.6 1772.4h8.8M1825 1732.9V1771.2M1820.6 1732.9h8.8M1820.6 1771.2h8.8M1855 1731.7V1762M1850.6 1731.7h8.8M1850.6 1762h8.8M1885.1 1752.4V1781.1M1880.7 1752.4h8.8M1880.7 1781.1h8.8M1915.1 1757.2V1784.3M1910.7 1757.2h8.8M1910.7 1784.3h8.8M1945.1 1763.2V1791.9M1940.7 1763.2h8.8M1940.7 1791.9h8.8" fill="none" stroke="#e8391d" stroke-width="2.9"/><polyline points="1374.9,1822.6 1404.9,1740.9 1434.9,1700.2 1464.9,1683.5 1494.9,1676.3 1524.9,1675.9 1555.0,1689.0 1585.0,1699.0 1615.0,1703.4 1645.0,1710.2 1675.0,1711.0 1705.0,1720.1 1735.0,1736.1 1765.0,1726.9 1795.0,1751.6 1825.0,1752.0 1855.0,1746.9 1885.1,1766.8 1915.1,1770.8 1945.1,1777.6" fill="none" stroke="#e8391d" stroke-width="3.2" stroke-linejoin="round" /><path d="M1372.3 1820h5.2v5.2h-5.2zM1402.3 1738.3h5.2v5.2h-5.2zM1432.3 1697.6h5.2v5.2h-5.2zM1462.3 1680.9h5.2v5.2h-5.2zM1492.3 1673.7h5.2v5.2h-5.2zM1522.3 1673.3h5.2v5.2h-5.2zM1552.4 1686.4h5.2v5.2h-5.2zM1582.4 1696.4h5.2v5.2h-5.2zM1612.4 1700.8h5.2v5.2h-5.2zM1642.4 1707.6h5.2v5.2h-5.2zM1672.4 1708.4h5.2v5.2h-5.2zM1702.4 1717.5h5.2v5.2h-5.2zM1732.4 1733.5h5.2v5.2h-5.2zM1762.4 1724.3h5.2v5.2h-5.2zM1792.4 1749h5.2v5.2h-5.2zM1822.4 1749.4h5.2v5.2h-5.2zM1852.4 1744.3h5.2v5.2h-5.2zM1882.5 1764.2h5.2v5.2h-5.2zM1912.5 1768.2h5.2v5.2h-5.2zM1942.5 1775h5.2v5.2h-5.2z" fill="#e8391d"/><path d="M1374.9 1818.6V1838.6M1370.5 1818.6h8.8M1370.5 1838.6h8.8M1404.9 1715V1750.8M1400.5 1715h8.8M1400.5 1750.8h8.8M1434.9 1650.8V1679.5M1430.5 1650.8h8.8M1430.5 1679.5h8.8M1464.9 1604.5V1638M1460.5 1604.5h8.8M1460.5 1638h8.8M1494.9 1607.7V1649.2M1490.5 1607.7h8.8M1490.5 1649.2h8.8M1524.9 1589.8V1631.2M1520.5 1589.8h8.8M1520.5 1631.2h8.8M1555 1596.1V1642.4M1550.6 1596.1h8.8M1550.6 1642.4h8.8M1585 1614.1V1660.3M1580.6 1614.1h8.8M1580.6 1660.3h8.8M1615 1622.5V1678.3M1610.6 1622.5h8.8M1610.6 1678.3h8.8M1645 1628.4V1677.9M1640.6 1628.4h8.8M1640.6 1677.9h8.8M1675 1677.5V1711M1670.6 1677.5h8.8M1670.6 1711h8.8M1705 1676.7V1718.1M1700.6 1676.7h8.8M1700.6 1718.1h8.8M1735 1705V1738.5M1730.6 1705h8.8M1730.6 1738.5h8.8M1765 1691.8V1728.5M1760.6 1691.8h8.8M1760.6 1728.5h8.8M1795 1722.9V1746.9M1790.6 1722.9h8.8M1790.6 1746.9h8.8M1825 1713.4V1754.8M1820.6 1713.4h8.8M1820.6 1754.8h8.8M1855 1718.9V1760.4M1850.6 1718.9h8.8M1850.6 1760.4h8.8M1885.1 1725.3V1763.6M1880.7 1725.3h8.8M1880.7 1763.6h8.8M1915.1 1736.9V1768.8M1910.7 1736.9h8.8M1910.7 1768.8h8.8M1945.1 1740.1V1768.8M1940.7 1740.1h8.8M1940.7 1768.8h8.8" fill="none" stroke="#4d5cc2" stroke-width="2.9"/><polyline points="1374.9,1828.6 1404.9,1732.9 1434.9,1665.1 1464.9,1621.3 1494.9,1628.4 1524.9,1610.5 1555.0,1619.3 1585.0,1637.2 1615.0,1650.4 1645.0,1653.2 1675.0,1694.2 1705.0,1697.4 1735.0,1721.7 1765.0,1710.2 1795.0,1734.9 1825.0,1734.1 1855.0,1739.7 1885.1,1744.5 1915.1,1752.8 1945.1,1754.4" fill="none" stroke="#4d5cc2" stroke-width="3.2" stroke-linejoin="round" /><path d="M1374.9 1825.4l3 5.6h-6.1zM1404.9 1729.7l3 5.6h-6.1zM1434.9 1661.9l3 5.6h-6.1zM1464.9 1618.1l3 5.6h-6.1zM1494.9 1625.2l3 5.6h-6.1zM1524.9 1607.3l3 5.6h-6.1zM1555 1616.1l3 5.6h-6.1zM1585 1634l3 5.6h-6.1zM1615 1647.2l3 5.6h-6.1zM1645 1650l3 5.6h-6.1zM1675 1691l3 5.6h-6.1zM1705 1694.2l3 5.6h-6.1zM1735 1718.5l3 5.6h-6.1zM1765 1707l3 5.6h-6.1zM1795 1731.7l3 5.6h-6.1zM1825 1730.9l3 5.6h-6.1zM1855 1736.5l3 5.6h-6.1zM1885.1 1741.3l3 5.6h-6.1zM1915.1 1749.6l3 5.6h-6.1zM1945.1 1751.2l3 5.6h-6.1z" fill="#4d5cc2"/><path d="M1374.9 1812.6V1828.6M1370.5 1812.6h8.8M1370.5 1828.6h8.8M1404.9 1707.8V1746.1M1400.5 1707.8h8.8M1400.5 1746.1h8.8M1434.9 1661.1V1677.1M1430.5 1661.1h8.8M1430.5 1677.1h8.8M1464.9 1576.6V1618.1M1460.5 1576.6h8.8M1460.5 1618.1h8.8M1494.9 1565.4V1606.9M1490.5 1565.4h8.8M1490.5 1606.9h8.8M1524.9 1573V1619.3M1520.5 1573h8.8M1520.5 1619.3h8.8M1555 1593.3V1645.2M1550.6 1593.3h8.8M1550.6 1645.2h8.8M1585 1621.3V1667.5M1580.6 1621.3h8.8M1580.6 1667.5h8.8M1615 1667.5V1709M1610.6 1667.5h8.8M1610.6 1709h8.8M1645 1685.5V1718.9M1640.6 1685.5h8.8M1640.6 1718.9h8.8M1675 1701V1742.5M1670.6 1701h8.8M1670.6 1742.5h8.8M1705 1709.4V1742.9M1700.6 1709.4h8.8M1700.6 1742.9h8.8M1735 1706.6V1736.9M1730.6 1706.6h8.8M1730.6 1736.9h8.8M1765 1724.5V1761.2M1760.6 1724.5h8.8M1760.6 1761.2h8.8M1795 1746.5V1775.2M1790.6 1746.5h8.8M1790.6 1775.2h8.8M1825 1742.9V1773.2M1820.6 1742.9h8.8M1820.6 1773.2h8.8M1855 1736.9V1775.2M1850.6 1736.9h8.8M1850.6 1775.2h8.8M1885.1 1753.6V1782.3M1880.7 1753.6h8.8M1880.7 1782.3h8.8M1915.1 1748.1V1783.1M1910.7 1748.1h8.8M1910.7 1783.1h8.8M1945.1 1756V1791.9M1940.7 1756h8.8M1940.7 1791.9h8.8" fill="none" stroke="#2f8f35" stroke-width="2.9"/><polyline points="1374.9,1820.6 1404.9,1726.9 1434.9,1669.1 1464.9,1597.3 1494.9,1586.2 1524.9,1596.1 1555.0,1619.3 1585.0,1644.4 1615.0,1688.2 1645.0,1702.2 1675.0,1721.7 1705.0,1726.1 1735.0,1721.7 1765.0,1742.9 1795.0,1760.8 1825.0,1758.0 1855.0,1756.0 1885.1,1768.0 1915.1,1765.6 1945.1,1774.0" fill="none" stroke="#2f8f35" stroke-width="3.2" stroke-linejoin="round" /><path d="M1374.9 1823.8l3 -5.6h-6.1zM1404.9 1730.1l3 -5.6h-6.1zM1434.9 1672.3l3 -5.6h-6.1zM1464.9 1600.5l3 -5.6h-6.1zM1494.9 1589.4l3 -5.6h-6.1zM1524.9 1599.3l3 -5.6h-6.1zM1555 1622.5l3 -5.6h-6.1zM1585 1647.6l3 -5.6h-6.1zM1615 1691.4l3 -5.6h-6.1zM1645 1705.4l3 -5.6h-6.1zM1675 1724.9l3 -5.6h-6.1zM1705 1729.3l3 -5.6h-6.1zM1735 1724.9l3 -5.6h-6.1zM1765 1746.1l3 -5.6h-6.1zM1795 1764l3 -5.6h-6.1zM1825 1761.2l3 -5.6h-6.1zM1855 1759.2l3 -5.6h-6.1zM1885.1 1771.2l3 -5.6h-6.1zM1915.1 1768.8l3 -5.6h-6.1zM1945.1 1777.2l3 -5.6h-6.1z" fill="#2f8f35"/><line x1="1360.9" y1="1531.2" x2="1360.9" y2="1881.9" stroke="#000" stroke-width="3" stroke-linecap="butt" /><line x1="1359.4" y1="1880.4" x2="1959.0" y2="1880.4" stroke="#000" stroke-width="3" stroke-linecap="butt" /><line x1="1353.9" y1="1880.4" x2="1360.9" y2="1880.4" stroke="#000" stroke-width="2.6" stroke-linecap="butt" /><text x="1354.1" y="1887.2" font-size="18.6" text-anchor="end">0</text><line x1="1353.9" y1="1822.5" x2="1360.9" y2="1822.5" stroke="#000" stroke-width="2.6" stroke-linecap="butt" /><text x="1354.1" y="1829.3" font-size="18.6" text-anchor="end">5</text><line x1="1353.9" y1="1764.5" x2="1360.9" y2="1764.5" stroke="#000" stroke-width="2.6" stroke-linecap="butt" /><text x="1354.1" y="1771.3" font-size="18.6" text-anchor="end">10</text><line x1="1353.9" y1="1706.6" x2="1360.9" y2="1706.6" stroke="#000" stroke-width="2.6" stroke-linecap="butt" /><text x="1354.1" y="1713.4" font-size="18.6" text-anchor="end">15</text><line x1="1353.9" y1="1648.6" x2="1360.9" y2="1648.6" stroke="#000" stroke-width="2.6" stroke-linecap="butt" /><text x="1354.1" y="1655.4" font-size="18.6" text-anchor="end">20</text><line x1="1353.9" y1="1590.7" x2="1360.9" y2="1590.7" stroke="#000" stroke-width="2.6" stroke-linecap="butt" /><text x="1354.1" y="1597.5" font-size="18.6" text-anchor="end">25</text><line x1="1353.9" y1="1532.7" x2="1360.9" y2="1532.7" stroke="#000" stroke-width="2.6" stroke-linecap="butt" /><text x="1354.1" y="1539.5" font-size="18.6" text-anchor="end">30</text><line x1="1374.9" y1="1880.4" x2="1374.9" y2="1886.4" stroke="#000" stroke-width="2.6" stroke-linecap="butt" /><text x="1374.9" y="1901.4" font-size="13.8" text-anchor="middle">10</text><line x1="1404.9" y1="1880.4" x2="1404.9" y2="1886.4" stroke="#000" stroke-width="2.6" stroke-linecap="butt" /><text x="1404.9" y="1901.4" font-size="13.8" text-anchor="middle">20</text><line x1="1434.9" y1="1880.4" x2="1434.9" y2="1886.4" stroke="#000" stroke-width="2.6" stroke-linecap="butt" /><text x="1434.9" y="1901.4" font-size="13.8" text-anchor="middle">30</text><line x1="1464.9" y1="1880.4" x2="1464.9" y2="1886.4" stroke="#000" stroke-width="2.6" stroke-linecap="butt" /><text x="1464.9" y="1901.4" font-size="13.8" text-anchor="middle">40</text><line x1="1494.9" y1="1880.4" x2="1494.9" y2="1886.4" stroke="#000" stroke-width="2.6" stroke-linecap="butt" /><text x="1494.9" y="1901.4" font-size="13.8" text-anchor="middle">50</text><line x1="1524.9" y1="1880.4" x2="1524.9" y2="1886.4" stroke="#000" stroke-width="2.6" stroke-linecap="butt" /><text x="1524.9" y="1901.4" font-size="13.8" text-anchor="middle">60</text><line x1="1555.0" y1="1880.4" x2="1555.0" y2="1886.4" stroke="#000" stroke-width="2.6" stroke-linecap="butt" /><text x="1555.0" y="1901.4" font-size="13.8" text-anchor="middle">70</text><line x1="1585.0" y1="1880.4" x2="1585.0" y2="1886.4" stroke="#000" stroke-width="2.6" stroke-linecap="butt" /><text x="1585.0" y="1901.4" font-size="13.8" text-anchor="middle">80</text><line x1="1615.0" y1="1880.4" x2="1615.0" y2="1886.4" stroke="#000" stroke-width="2.6" stroke-linecap="butt" /><text x="1615.0" y="1901.4" font-size="13.8" text-anchor="middle">90</text><line x1="1645.0" y1="1880.4" x2="1645.0" y2="1886.4" stroke="#000" stroke-width="2.6" stroke-linecap="butt" /><text x="1645.0" y="1901.4" font-size="13.8" text-anchor="middle">100</text><line x1="1675.0" y1="1880.4" x2="1675.0" y2="1886.4" stroke="#000" stroke-width="2.6" stroke-linecap="butt" /><text x="1675.0" y="1901.4" font-size="13.8" text-anchor="middle">110</text><line x1="1705.0" y1="1880.4" x2="1705.0" y2="1886.4" stroke="#000" stroke-width="2.6" stroke-linecap="butt" /><text x="1705.0" y="1901.4" font-size="13.8" text-anchor="middle">120</text><line x1="1735.0" y1="1880.4" x2="1735.0" y2="1886.4" stroke="#000" stroke-width="2.6" stroke-linecap="butt" /><text x="1735.0" y="1901.4" font-size="13.8" text-anchor="middle">130</text><line x1="1765.0" y1="1880.4" x2="1765.0" y2="1886.4" stroke="#000" stroke-width="2.6" stroke-linecap="butt" /><text x="1765.0" y="1901.4" font-size="13.8" text-anchor="middle">140</text><line x1="1795.0" y1="1880.4" x2="1795.0" y2="1886.4" stroke="#000" stroke-width="2.6" stroke-linecap="butt" /><text x="1795.0" y="1901.4" font-size="13.8" text-anchor="middle">150</text><line x1="1825.0" y1="1880.4" x2="1825.0" y2="1886.4" stroke="#000" stroke-width="2.6" stroke-linecap="butt" /><text x="1825.0" y="1901.4" font-size="13.8" text-anchor="middle">160</text><line x1="1855.0" y1="1880.4" x2="1855.0" y2="1886.4" stroke="#000" stroke-width="2.6" stroke-linecap="butt" /><text x="1855.0" y="1901.4" font-size="13.8" text-anchor="middle">170</text><line x1="1885.1" y1="1880.4" x2="1885.1" y2="1886.4" stroke="#000" stroke-width="2.6" stroke-linecap="butt" /><text x="1885.1" y="1901.4" font-size="13.8" text-anchor="middle">180</text><line x1="1915.1" y1="1880.4" x2="1915.1" y2="1886.4" stroke="#000" stroke-width="2.6" stroke-linecap="butt" /><text x="1915.1" y="1901.4" font-size="13.8" text-anchor="middle">190</text><line x1="1945.1" y1="1880.4" x2="1945.1" y2="1886.4" stroke="#000" stroke-width="2.6" stroke-linecap="butt" /><text x="1945.1" y="1901.4" font-size="13.8" text-anchor="middle">200</text><text x="1657.8" y="1925.0" font-size="23.0" font-weight="bold" text-anchor="middle" textLength="269.5" lengthAdjust="spacingAndGlyphs">Distance from soma (µm)</text><text x="1321.5" y="1700.8" font-size="23.0" font-weight="bold" text-anchor="middle" transform="rotate(-90 1321.5 1700.8)" textLength="341.0" lengthAdjust="spacingAndGlyphs">Number of neurite intersections</text><line x1="1591.0" y1="1506.8" x2="1612.9" y2="1506.8" stroke="#000000" stroke-width="3" stroke-linecap="butt" /><path d="M1599.4 1506.8a2.6 2.6 0 1 0 5.2 0a2.6 2.6 0 1 0 -5.2 0z" fill="#000000"/><text x="1621.7" y="1512.8" font-size="17" textLength="89.7" lengthAdjust="spacingAndGlyphs">WT + EGFP</text><line x1="1591.0" y1="1532.3" x2="1612.9" y2="1532.3" stroke="#e8391d" stroke-width="3" stroke-linecap="butt" /><path d="M1599.4 1529.7h5.2v5.2h-5.2z" fill="#e8391d"/><text x="1621.7" y="1538.3" font-size="17" textLength="169.5" lengthAdjust="spacingAndGlyphs">[Df(h15q13)/+] + EGFP</text><line x1="1591.0" y1="1562.6" x2="1612.9" y2="1562.6" stroke="#2f8f35" stroke-width="3" stroke-linecap="butt" /><path d="M1602 1565.8l3 -5.6h-6.1z" fill="#2f8f35"/><text x="1621.7" y="1568.6" font-size="17" textLength="200.0" lengthAdjust="spacingAndGlyphs">WT + Ankyrin-G-190-EGFP</text><line x1="1591.0" y1="1586.6" x2="1612.9" y2="1586.6" stroke="#4d5cc2" stroke-width="3" stroke-linecap="butt" /><path d="M1602 1583.4l3 5.6h-6.1z" fill="#4d5cc2"/><text x="1621.7" y="1592.6" font-size="17" textLength="280.5" lengthAdjust="spacingAndGlyphs">[Df(h15q13)/+] + Ankyrin-G-190-EGFP</text><polyline points="1800.3,1500.8 1810.3,1500.8 1810.3,1532.3 1800.3,1532.3" fill="none" stroke="#000" stroke-width="1.5" stroke-linejoin="miter" /><text x="1813.1" y="1525.0" font-size="17.5">****</text><polyline points="1827.0,1533.5 1836.2,1533.5 1836.2,1564.6 1827.0,1564.6" fill="none" stroke="#000" stroke-width="1.5" stroke-linejoin="miter" /><text x="1839.4" y="1558.1" font-size="17.5">***</text><polyline points="1906.8,1530.4 1916.0,1530.4 1916.0,1588.2 1906.8,1588.2" fill="none" stroke="#000" stroke-width="1.5" stroke-linejoin="miter" /><text x="1918.8" y="1568.8" font-size="17.5">****</text></g>
<g id="p_l"><text font-size="45.38" font-weight="bold" transform="translate(-0.36 2016.00) scale(1.028 1)">l</text><text font-size="35" text-anchor="middle" transform="translate(206.0 2064.3) scale(0.97 1)" >WT</text><text font-size="35" text-anchor="middle" transform="translate(483.8 2064.3) scale(0.995 1)" >Df(h15q13)/+</text><text font-size="28.5" text-anchor="middle" transform="translate(51.0 2157.8) rotate(-90) scale(0.95 1)" >EGFP</text><text font-size="28.5" text-anchor="middle" transform="translate(24.0 2352.5) rotate(-90) scale(0.97 1)" >Ankyrin-G-190</text><text font-size="28.5" text-anchor="middle" transform="translate(56.0 2352.2) rotate(-90) scale(0.95 1)" >-EGFP</text><clipPath id="l1"><rect x="62.4" y="2087.4" width="260.9" height="155.3"/></clipPath><rect x="62.4" y="2087.4" width="260.9" height="155.3" fill="#070605" stroke="none" stroke-width="1" /><g clip-path="url(#l1)"><g filter="url(#lb)"><path d="M56.8 2137.0C61.3 2137.4 77.4 2137.8 84.0 2139.5C90.5 2141.2 93.0 2147.0 95.8 2147.2C98.7 2147.3 99.1 2141.9 100.9 2140.4C102.8 2138.8 104.9 2137.1 106.9 2137.8C108.9 2138.5 111.0 2141.5 112.8 2144.6C114.7 2147.7 115.1 2153.0 117.9 2156.5C120.7 2160.0 125.3 2163.6 129.8 2165.8C134.3 2168.1 139.1 2169.7 145.1 2170.1C151.0 2170.4 159.8 2168.7 165.4 2168.0C171.1 2167.3 174.2 2166.5 179.0 2165.8C183.8 2165.2 190.6 2165.5 194.3 2164.1C198.0 2162.7 198.8 2158.8 201.1 2157.3C203.4 2155.9 205.6 2155.1 207.9 2155.6C210.2 2156.2 210.4 2160.2 214.7 2160.7C218.9 2161.3 227.4 2160.1 233.4 2159.0C239.3 2158.0 245.2 2155.6 250.3 2154.5C255.4 2153.3 257.7 2152.4 263.9 2152.2C270.1 2152.1 281.5 2153.9 287.7 2153.4C293.9 2153.0 296.7 2150.7 301.3 2149.7C305.8 2148.7 310.0 2147.9 314.9 2147.2C319.7 2146.4 327.6 2138.7 330.1 2145.5C332.7 2152.2 332.4 2180.6 330.1 2187.9C327.9 2195.2 320.2 2189.8 316.6 2189.1C312.9 2188.4 312.9 2185.6 308.1 2183.7C303.3 2181.8 295.3 2178.6 287.7 2177.7C280.1 2176.8 270.7 2177.7 262.2 2178.2C253.7 2178.7 243.8 2179.7 236.8 2180.6C229.7 2181.5 225.4 2182.4 219.8 2183.7C214.1 2184.9 208.5 2186.7 202.8 2187.9C197.1 2189.1 191.5 2189.7 185.8 2190.8C180.2 2191.8 174.5 2193.5 168.8 2194.2C163.2 2194.9 158.9 2194.9 151.9 2194.9C144.8 2194.8 132.1 2193.4 126.4 2193.8C120.7 2194.3 120.9 2196.3 117.9 2197.6C114.9 2198.9 111.3 2202.1 108.6 2201.5C105.9 2200.9 103.8 2196.6 101.8 2193.8C99.8 2191.1 99.7 2187.6 96.7 2185.0C93.7 2182.5 88.1 2180.0 84.0 2178.6C79.9 2177.2 75.0 2175.7 72.1 2176.5C69.1 2177.4 68.7 2180.8 66.1 2183.7C63.6 2186.5 58.3 2201.6 56.8 2193.8C55.2 2186.1 56.8 2146.4 56.8 2137.0Z" fill="#fff" stroke="#fff" stroke-width="1.6"/><ellipse cx="157.8" cy="2111.5" rx="7.2" ry="16.6" fill="#fff" fill-opacity="1" transform="rotate(-22 157.8 2111.5)"/><ellipse cx="269.9" cy="2131.4" rx="7.2" ry="8.0" fill="#fff" fill-opacity="1" transform="rotate(0 269.9 2131.4)"/><ellipse cx="303.0" cy="2131.9" rx="14.7" ry="10.8" fill="#fff" fill-opacity="1" transform="rotate(-10 303.0 2131.9)"/><ellipse cx="314.9" cy="2142.9" rx="6.9" ry="8.8" fill="#fff" fill-opacity="1" transform="rotate(0 314.9 2142.9)"/><ellipse cx="227.4" cy="2193.8" rx="9.2" ry="11.7" fill="#fff" fill-opacity="1" transform="rotate(0 227.4 2193.8)"/><ellipse cx="153.6" cy="2221.0" rx="13.1" ry="8.4" fill="#fff" fill-opacity="1" transform="rotate(15 153.6 2221.0)"/><ellipse cx="251.2" cy="2227.3" rx="5.3" ry="4.5" fill="#fff" fill-opacity="0.6" transform="rotate(0 251.2 2227.3)"/><ellipse cx="66.1" cy="2221.0" rx="5.3" ry="7.8" fill="#fff" fill-opacity="0.8" transform="rotate(0 66.1 2221.0)"/><ellipse cx="64.4" cy="2238.0" rx="6.5" ry="6.5" fill="#fff" fill-opacity="0.9" transform="rotate(0 64.4 2238.0)"/><ellipse cx="226.6" cy="2236.3" rx="4.5" ry="8.8" fill="#fff" fill-opacity="0.5" transform="rotate(30 226.6 2236.3)"/><ellipse cx="160.4" cy="2238.8" rx="4.5" ry="3.7" fill="#fff" fill-opacity="0.4" transform="rotate(0 160.4 2238.8)"/><ellipse cx="321.6" cy="2219.3" rx="3.9" ry="7.8" fill="#fff" fill-opacity="0.8" transform="rotate(0 321.6 2219.3)"/><ellipse cx="321.3" cy="2131.0" rx="3.7" ry="8.8" fill="#fff" fill-opacity="0.5" transform="rotate(0 321.3 2131.0)"/><path d="M167.1 2124.2C168.0 2126.8 170.7 2134.1 172.2 2139.5C173.8 2144.9 175.8 2153.7 176.5 2156.5" fill="none" stroke="#fff" stroke-width="1.5" stroke-opacity="0.45" stroke-linecap="round"/><path d="M263.1 2142.9L259.7 2151.4" fill="none" stroke="#fff" stroke-width="1.5" stroke-opacity="0.4" stroke-linecap="round"/><path d="M185.8 2142.9L190.9 2153.1" fill="none" stroke="#fff" stroke-width="1.5" stroke-opacity="0.25" stroke-linecap="round"/></g></g><rect x="62.4" y="2087.4" width="260.9" height="155.3" fill="none" stroke="#8f8f8f" stroke-width="1.0" /><g clip-path="url(#l1)"><g filter="url(#lb)"><path d="M83.1 2157.3L95.8 2149.7L108.6 2156.5L104.3 2160.7Z" fill="#070605" stroke="#070605" stroke-width="1"/></g></g><text x="68.2" y="2108.1" font-size="17.44" font-weight="bold" fill="#fff" textLength="71.3" lengthAdjust="spacingAndGlyphs">mCherry</text><clipPath id="l2"><rect x="346.9" y="2087.4" width="260.6" height="155.3"/></clipPath><rect x="346.9" y="2087.4" width="260.6" height="155.3" fill="#070605" stroke="none" stroke-width="1" /><g clip-path="url(#l2)"><g filter="url(#lb)"><path d="M340.1 2149.4C346.3 2149.7 367.0 2150.8 377.4 2151.4C387.9 2152.0 397.3 2153.9 402.9 2153.1C408.6 2152.2 408.6 2147.8 411.4 2146.3C414.2 2144.8 415.6 2144.3 419.9 2144.3C424.1 2144.2 432.9 2144.2 436.9 2146.0C440.8 2147.7 440.3 2152.5 443.7 2154.8C447.1 2157.1 451.3 2158.7 457.2 2159.9C463.2 2161.1 471.4 2161.4 479.3 2161.9C487.2 2162.4 497.7 2163.1 504.8 2162.8C511.9 2162.5 514.7 2160.8 521.8 2160.2C528.8 2159.7 538.7 2159.7 547.2 2159.4C555.7 2159.1 565.1 2158.7 572.7 2158.5C580.3 2158.4 589.0 2159.9 593.1 2158.5C597.2 2157.1 593.6 2151.7 597.3 2150.0C601.0 2148.4 612.2 2144.4 615.1 2148.9C618.1 2153.3 619.4 2171.6 615.1 2176.5C610.9 2181.5 596.2 2177.4 589.7 2178.6C583.2 2179.8 579.1 2181.6 576.1 2183.7C573.0 2185.7 572.8 2190.5 571.3 2190.8C569.9 2191.1 571.3 2187.1 567.3 2185.4C563.2 2183.6 554.8 2181.7 547.2 2180.3C539.6 2178.8 528.8 2177.1 521.8 2176.5C514.7 2176.0 509.0 2176.0 504.8 2176.9C500.5 2177.7 500.5 2180.9 496.3 2181.5C492.0 2182.0 485.0 2180.0 479.3 2180.3C473.7 2180.5 468.0 2183.1 462.3 2183.1C456.7 2183.1 452.4 2181.9 445.4 2180.3C438.3 2178.7 428.4 2175.2 419.9 2173.5C411.4 2171.8 402.9 2170.8 394.4 2170.1C385.9 2169.4 378.0 2169.4 369.0 2169.2C359.9 2169.1 344.9 2172.5 340.1 2169.2C335.3 2165.9 340.1 2152.7 340.1 2149.4Z" fill="#fff" stroke="#fff" stroke-width="1.6"/><path d="M341.8 2081.8C348.3 2081.8 375.7 2079.8 380.8 2081.8C385.9 2083.8 375.7 2090.3 372.4 2093.7C369.0 2097.1 365.6 2098.5 360.5 2102.2C355.4 2105.8 344.9 2119.1 341.8 2115.7C338.7 2112.4 341.8 2087.5 341.8 2081.8Z" fill="#fff"/><ellipse cx="499.3" cy="2139.9" rx="8.8" ry="11.9" fill="#fff" fill-opacity="1" transform="rotate(-28 499.3 2139.9)"/><ellipse cx="496.6" cy="2124.2" rx="3.7" ry="7.8" fill="#fff" fill-opacity="0.8" transform="rotate(0 496.6 2124.2)"/><ellipse cx="493.2" cy="2193.8" rx="5.7" ry="11.2" fill="#fff" fill-opacity="0.9" transform="rotate(28 493.2 2193.8)"/><ellipse cx="402.9" cy="2240.0" rx="11.7" ry="4.1" fill="#fff" fill-opacity="1" transform="rotate(0 402.9 2240.0)"/><ellipse cx="352.8" cy="2234.6" rx="4.9" ry="7.8" fill="#fff" fill-opacity="0.8" transform="rotate(-45 352.8 2234.6)"/><ellipse cx="606.6" cy="2238.8" rx="5.3" ry="8.8" fill="#fff" fill-opacity="0.9" transform="rotate(30 606.6 2238.8)"/><ellipse cx="416.8" cy="2191.5" rx="4.1" ry="4.1" fill="#fff" fill-opacity="0.45" transform="rotate(0 416.8 2191.5)"/><ellipse cx="369.0" cy="2188.8" rx="4.5" ry="4.5" fill="#fff" fill-opacity="0.25" transform="rotate(0 369.0 2188.8)"/><ellipse cx="579.5" cy="2137.8" rx="4.1" ry="4.1" fill="#fff" fill-opacity="0.2" transform="rotate(0 579.5 2137.8)"/><ellipse cx="374.0" cy="2239.7" rx="8.8" ry="3.3" fill="#fff" fill-opacity="0.5" transform="rotate(0 374.0 2239.7)"/><path d="M505.6 2149.7L511.6 2158.2" fill="none" stroke="#fff" stroke-width="1.5" stroke-opacity="0.5" stroke-linecap="round"/></g></g><rect x="346.9" y="2087.4" width="260.6" height="155.3" fill="none" stroke="#8f8f8f" stroke-width="1.0" /><clipPath id="l3"><rect x="67.5" y="2266.0" width="261.3" height="154.5"/></clipPath><rect x="67.5" y="2266.0" width="261.3" height="154.5" fill="#070605" stroke="none" stroke-width="1" /><g clip-path="url(#l3)"><g filter="url(#lb)"><path d="M60.2 2341.2C64.1 2341.9 77.2 2344.6 84.0 2345.0C90.7 2345.3 96.4 2344.6 100.9 2343.3C105.5 2341.9 107.7 2338.2 111.1 2336.8C114.5 2335.4 117.3 2334.5 121.3 2334.8C125.3 2335.1 130.9 2338.3 134.9 2338.5C138.9 2338.8 141.7 2338.2 145.1 2336.2C148.5 2334.1 154.1 2329.9 155.3 2326.3C156.4 2322.7 151.3 2317.4 151.9 2314.8C152.4 2312.2 156.3 2310.5 158.7 2310.7C161.1 2310.9 164.5 2313.0 166.3 2316.1C168.1 2319.3 167.6 2326.3 169.2 2329.7C170.7 2333.2 172.3 2336.0 175.6 2336.8C179.0 2337.7 184.1 2336.0 189.2 2334.8C194.3 2333.6 202.2 2332.0 206.2 2329.7C210.2 2327.4 210.2 2323.2 213.0 2321.2C215.8 2319.2 220.3 2316.7 223.2 2317.8C226.1 2319.0 227.5 2325.7 230.3 2328.0C233.1 2330.3 236.2 2332.0 240.2 2331.7C244.1 2331.5 248.6 2327.8 253.7 2326.3C258.8 2324.8 263.6 2323.2 270.7 2322.9C277.8 2322.6 289.1 2323.8 296.2 2324.6C303.3 2325.5 306.4 2326.5 313.2 2328.0C319.9 2329.5 333.0 2328.6 336.9 2333.4C340.9 2338.3 340.9 2354.1 336.9 2357.2C333.0 2360.3 321.4 2353.4 313.2 2352.1C305.0 2350.8 296.2 2349.6 287.7 2349.4C279.2 2349.2 270.7 2349.9 262.2 2351.1C253.7 2352.3 243.8 2355.3 236.8 2356.9C229.7 2358.5 225.4 2360.8 219.8 2360.6C214.1 2360.4 208.5 2355.5 202.8 2355.5C197.1 2355.5 191.5 2360.1 185.8 2360.6C180.2 2361.1 174.5 2358.9 168.8 2358.6C163.2 2358.2 157.5 2358.6 151.9 2358.6C146.2 2358.6 140.0 2358.6 134.9 2358.6C129.8 2358.6 127.0 2357.4 121.3 2358.6C115.6 2359.7 107.2 2363.7 100.9 2365.4C94.7 2367.1 90.7 2368.2 84.0 2368.8C77.2 2369.3 64.1 2373.3 60.2 2368.8C56.2 2364.2 60.2 2345.8 60.2 2341.2Z" fill="#fff" stroke="#fff" stroke-width="1.6"/><ellipse cx="277.5" cy="2305.9" rx="10.0" ry="11.9" fill="#fff" fill-opacity="1" transform="rotate(0 277.5 2305.9)"/><ellipse cx="222.3" cy="2289.0" rx="5.7" ry="12.3" fill="#fff" fill-opacity="0.5" transform="rotate(0 222.3 2289.0)"/><ellipse cx="189.2" cy="2373.0" rx="9.2" ry="6.1" fill="#fff" fill-opacity="1" transform="rotate(0 189.2 2373.0)"/><ellipse cx="211.3" cy="2384.9" rx="9.2" ry="8.0" fill="#fff" fill-opacity="1" transform="rotate(0 211.3 2384.9)"/><ellipse cx="236.8" cy="2384.0" rx="7.6" ry="19.0" fill="#fff" fill-opacity="1" transform="rotate(-24 236.8 2384.0)"/><ellipse cx="261.4" cy="2358.6" rx="6.1" ry="5.7" fill="#fff" fill-opacity="1" transform="rotate(0 261.4 2358.6)"/><ellipse cx="280.1" cy="2359.9" rx="4.9" ry="4.9" fill="#fff" fill-opacity="0.9" transform="rotate(0 280.1 2359.9)"/><ellipse cx="247.8" cy="2365.7" rx="4.5" ry="4.1" fill="#fff" fill-opacity="0.8" transform="rotate(0 247.8 2365.7)"/><ellipse cx="299.6" cy="2369.6" rx="8.0" ry="3.7" fill="#fff" fill-opacity="0.5" transform="rotate(-10 299.6 2369.6)"/><ellipse cx="140.8" cy="2402.7" rx="4.3" ry="10.8" fill="#fff" fill-opacity="0.5" transform="rotate(10 140.8 2402.7)"/><ellipse cx="71.2" cy="2295.7" rx="6.5" ry="7.6" fill="#fff" fill-opacity="1" transform="rotate(0 71.2 2295.7)"/><ellipse cx="327.1" cy="2300.8" rx="4.9" ry="6.9" fill="#fff" fill-opacity="1" transform="rotate(0 327.1 2300.8)"/><ellipse cx="327.1" cy="2393.4" rx="4.9" ry="6.5" fill="#fff" fill-opacity="1" transform="rotate(0 327.1 2393.4)"/><ellipse cx="68.3" cy="2409.5" rx="3.7" ry="9.2" fill="#fff" fill-opacity="0.9" transform="rotate(0 68.3 2409.5)"/><ellipse cx="150.2" cy="2334.5" rx="8.0" ry="6.5" fill="#fff" fill-opacity="1" transform="rotate(0 150.2 2334.5)"/><ellipse cx="117.1" cy="2365.4" rx="4.9" ry="6.9" fill="#fff" fill-opacity="0.6" transform="rotate(0 117.1 2365.4)"/><ellipse cx="154.4" cy="2382.3" rx="4.5" ry="3.7" fill="#fff" fill-opacity="0.25" transform="rotate(0 154.4 2382.3)"/><path d="M222.3 2299.1L223.2 2316.1" fill="none" stroke="#fff" stroke-width="1.5" stroke-opacity="0.3" stroke-linecap="round"/><path d="M226.6 2363.7L230.0 2373.8" fill="none" stroke="#fff" stroke-width="2" stroke-opacity="0.6" stroke-linecap="round"/><path d="M199.4 2360.3C201.1 2362.5 206.2 2371.9 209.6 2373.8C213.0 2375.8 218.1 2372.4 219.8 2372.1" fill="none" stroke="#fff" stroke-width="2" stroke-opacity="0.35" stroke-linecap="round"/></g></g><rect x="67.5" y="2266.0" width="261.3" height="154.5" fill="none" stroke="#8f8f8f" stroke-width="1.0" /><clipPath id="l4"><rect x="348.6" y="2266.0" width="261.9" height="154.5"/></clipPath><rect x="348.6" y="2266.0" width="261.9" height="154.5" fill="#070605" stroke="none" stroke-width="1" /><g clip-path="url(#l4)"><g filter="url(#lb)"><path d="M341.8 2303.9C346.3 2304.1 361.6 2304.3 369.0 2305.1C376.3 2305.9 380.8 2308.6 385.9 2308.7C391.0 2308.7 395.3 2305.4 399.5 2305.3C403.8 2305.1 407.4 2306.3 411.4 2307.6C415.4 2308.9 419.0 2311.9 423.3 2313.1C427.5 2314.3 432.3 2314.1 436.9 2314.8C441.4 2315.4 444.8 2317.0 450.4 2317.1C456.1 2317.3 465.2 2315.0 470.8 2315.4C476.5 2315.9 478.7 2319.0 484.4 2319.9C490.1 2320.7 498.6 2321.4 504.8 2320.5C511.0 2319.7 517.2 2317.1 521.8 2314.8C526.3 2312.4 529.1 2309.4 531.9 2306.3C534.8 2303.2 535.8 2298.2 538.7 2296.1C541.6 2294.0 546.9 2295.7 549.3 2293.7C551.6 2291.7 551.0 2286.2 552.7 2283.9C554.4 2281.5 557.5 2279.1 559.4 2279.6C561.4 2280.2 564.5 2284.3 564.5 2287.3C564.5 2290.2 562.0 2294.6 559.4 2297.4C556.9 2300.3 551.5 2302.3 549.3 2304.6C547.0 2306.9 543.9 2310.3 545.9 2311.4C547.8 2312.4 554.9 2310.9 560.8 2311.0C566.7 2311.1 575.0 2312.0 581.2 2312.0C587.4 2312.0 591.9 2311.8 598.2 2311.0C604.4 2310.2 615.1 2303.3 618.5 2307.3C621.9 2311.3 623.3 2330.2 618.5 2334.8C613.7 2339.4 597.3 2334.2 589.7 2334.8C582.0 2335.4 578.9 2337.9 572.7 2338.2C566.5 2338.5 559.4 2335.9 552.3 2336.5C545.2 2337.1 535.3 2339.6 530.2 2341.6C525.2 2343.6 524.6 2348.2 521.8 2348.7C518.9 2349.3 517.5 2345.9 513.3 2345.0C509.0 2344.1 501.9 2343.6 496.3 2343.3C490.6 2343.0 485.0 2343.7 479.3 2343.3C473.7 2342.9 468.0 2341.6 462.3 2340.9C456.7 2340.2 451.0 2340.3 445.4 2339.2C439.7 2338.1 434.0 2335.2 428.4 2334.1C422.7 2333.0 418.5 2333.2 411.4 2332.4C404.3 2331.7 393.0 2330.7 385.9 2329.7C378.9 2328.7 376.3 2327.0 369.0 2326.3C361.6 2325.6 346.3 2329.0 341.8 2325.3C337.3 2321.6 341.8 2307.5 341.8 2303.9Z" fill="#fff" stroke="#fff" stroke-width="1.6"/><ellipse cx="426.7" cy="2297.8" rx="6.5" ry="15.8" fill="#fff" fill-opacity="1" transform="rotate(8 426.7 2297.8)"/><ellipse cx="386.8" cy="2348.0" rx="8.0" ry="7.2" fill="#fff" fill-opacity="1" transform="rotate(0 386.8 2348.0)"/><ellipse cx="369.0" cy="2358.6" rx="4.5" ry="11.2" fill="#fff" fill-opacity="0.9" transform="rotate(-25 369.0 2358.6)"/><ellipse cx="593.1" cy="2290.7" rx="4.9" ry="8.8" fill="#fff" fill-opacity="0.55" transform="rotate(0 593.1 2290.7)"/><ellipse cx="564.2" cy="2358.9" rx="11.2" ry="6.5" fill="#fff" fill-opacity="1" transform="rotate(0 564.2 2358.9)"/><ellipse cx="593.4" cy="2356.9" rx="8.4" ry="10.0" fill="#fff" fill-opacity="1" transform="rotate(-20 593.4 2356.9)"/><ellipse cx="576.1" cy="2345.0" rx="6.9" ry="10.8" fill="#fff" fill-opacity="1" transform="rotate(20 576.1 2345.0)"/><ellipse cx="545.5" cy="2358.6" rx="8.8" ry="3.7" fill="#fff" fill-opacity="0.3" transform="rotate(0 545.5 2358.6)"/><ellipse cx="425.0" cy="2408.7" rx="4.5" ry="6.5" fill="#fff" fill-opacity="0.8" transform="rotate(-20 425.0 2408.7)"/><ellipse cx="429.2" cy="2380.6" rx="3.7" ry="5.3" fill="#fff" fill-opacity="0.35" transform="rotate(20 429.2 2380.6)"/><ellipse cx="357.1" cy="2339.9" rx="3.3" ry="6.9" fill="#fff" fill-opacity="0.3" transform="rotate(-30 357.1 2339.9)"/><path d="M443.7 2346.7C442.5 2349.5 439.4 2358.0 436.9 2363.7C434.3 2369.3 430.9 2375.3 428.4 2380.6C425.8 2386.0 422.2 2391.1 421.6 2395.9C421.0 2400.7 424.4 2407.2 425.0 2409.5" fill="none" stroke="#fff" stroke-width="1.6" stroke-opacity="0.35" stroke-linecap="round"/><path d="M384.2 2334.8L385.9 2343.3" fill="none" stroke="#fff" stroke-width="2" stroke-opacity="0.7" stroke-linecap="round"/><path d="M577.8 2339.9C579.2 2341.6 583.7 2347.5 586.3 2350.1C588.8 2352.6 591.9 2354.3 593.1 2355.2" fill="none" stroke="#fff" stroke-width="4" stroke-opacity="1" stroke-linecap="round"/><path d="M593.1 2299.1L593.1 2309.3" fill="none" stroke="#fff" stroke-width="1.5" stroke-opacity="0.3" stroke-linecap="round"/></g></g><rect x="348.6" y="2266.0" width="261.9" height="154.5" fill="none" stroke="#8f8f8f" stroke-width="1.0" /><rect x="360.5" y="2384.0" width="46.1" height="6.8" fill="#fff" stroke="none" stroke-width="1" /></g>
<g id="p_m"><text font-size="46.3" font-weight="bold" transform="translate(678.79 2016.30) scale(0.998 1)">m</text><path d="M801.1 2097.5a3.5 3.5 0 1 0 7 0a3.5 3.5 0 1 0 -7 0zM794.4 2111a3.5 3.5 0 1 0 7 0a3.5 3.5 0 1 0 -7 0zM807.1 2116.6a3.5 3.5 0 1 0 7 0a3.5 3.5 0 1 0 -7 0zM801.1 2142.8a3.5 3.5 0 1 0 7 0a3.5 3.5 0 1 0 -7 0zM801.1 2178.1a3.5 3.5 0 1 0 7 0a3.5 3.5 0 1 0 -7 0zM801.1 2226a3.5 3.5 0 1 0 7 0a3.5 3.5 0 1 0 -7 0zM794.4 2238.4a3.5 3.5 0 1 0 7 0a3.5 3.5 0 1 0 -7 0zM807.1 2233.5a3.5 3.5 0 1 0 7 0a3.5 3.5 0 1 0 -7 0zM807.1 2241a3.5 3.5 0 1 0 7 0a3.5 3.5 0 1 0 -7 0zM801.1 2247.4a3.5 3.5 0 1 0 7 0a3.5 3.5 0 1 0 -7 0zM801.1 2289a3.5 3.5 0 1 0 7 0a3.5 3.5 0 1 0 -7 0zM801.1 2307.3a3.5 3.5 0 1 0 7 0a3.5 3.5 0 1 0 -7 0z" fill="#6e6869"/><path d="M925.8 2148.6h6.4v6.4h-6.4zM931.8 2170.4h6.4v6.4h-6.4zM919.4 2174.1h6.4v6.4h-6.4zM931.8 2182.7h6.4v6.4h-6.4zM919.4 2189.1h6.4v6.4h-6.4zM931.8 2202.2h6.4v6.4h-6.4zM925.8 2215.3h6.4v6.4h-6.4zM919.4 2260.7h6.4v6.4h-6.4zM931.8 2259.5h6.4v6.4h-6.4zM919.4 2303.4h6.4v6.4h-6.4zM931.8 2300.7h6.4v6.4h-6.4z" fill="#f9a88f"/><path d="M1053.4 2274.7l3.6 6.6h-7.2zM1040.7 2285.5l3.6 6.6h-7.2zM1053.4 2285.5l3.6 6.6h-7.2zM1065.8 2285.2l3.6 6.6h-7.2zM1053.4 2320.8l3.6 6.6h-7.2zM1040.7 2346.2l3.6 6.6h-7.2zM1065.8 2352.2l3.6 6.6h-7.2zM1053.4 2357.8l3.6 6.6h-7.2zM1053.4 2364.6l3.6 6.6h-7.2zM1047 2389.3l3.6 6.6h-7.2zM1059.4 2392.3l3.6 6.6h-7.2zM1053.4 2417l3.6 6.6h-7.2z" fill="#a9abe6"/><path d="M1177.8 2123l3.6 -6.6h-7.2zM1171.4 2211.1l3.6 -6.6h-7.2zM1183.8 2210l3.6 -6.6h-7.2zM1177.8 2220.5l3.6 -6.6h-7.2zM1177.8 2232.8l3.6 -6.6h-7.2zM1177.8 2241.1l3.6 -6.6h-7.2zM1171.4 2286.8l3.6 -6.6h-7.2zM1183.8 2282.6l3.6 -6.6h-7.2zM1177.8 2349l3.6 -6.6h-7.2zM1177.8 2368.4l3.6 -6.6h-7.2z" fill="#a8c59b"/><polyline points="764.8,2438.5 764.8,2202.8 844.5,2202.8 844.5,2438.5" fill="none" stroke="#000000" stroke-width="3.2" stroke-linejoin="miter" /><path d="M804.6 2181.8V2222.6M782.9 2181.8h43.4M782.9 2222.6h43.4" fill="none" stroke="#000000" stroke-width="3.0"/><line x1="804.6" y1="2438.5" x2="804.6" y2="2444.0" stroke="#000" stroke-width="3" stroke-linecap="butt" /><polyline points="889.2,2438.5 889.2,2220.8 968.5,2220.8 968.5,2438.5" fill="none" stroke="#e3321a" stroke-width="3.2" stroke-linejoin="miter" /><path d="M929 2205.4V2235.4M907.3 2205.4h43.4M907.3 2235.4h43.4" fill="none" stroke="#e3321a" stroke-width="3.0"/><line x1="929.0" y1="2438.5" x2="929.0" y2="2444.0" stroke="#000" stroke-width="3" stroke-linecap="butt" /><polyline points="1013.6,2438.5 1013.6,2342.9 1092.9,2342.9 1092.9,2438.5" fill="none" stroke="#4653b8" stroke-width="3.2" stroke-linejoin="miter" /><path d="M1053.4 2328.7V2356.4M1031.7 2328.7h43.4M1031.7 2356.4h43.4" fill="none" stroke="#4653b8" stroke-width="3.0"/><line x1="1053.4" y1="2438.5" x2="1053.4" y2="2444.0" stroke="#000" stroke-width="3" stroke-linecap="butt" /><polyline points="1138.3,2438.5 1138.3,2247.7 1217.6,2247.7 1217.6,2438.5" fill="none" stroke="#2f8a33" stroke-width="3.2" stroke-linejoin="miter" /><path d="M1177.8 2228.3V2266.1M1156.1 2228.3h43.4M1156.1 2266.1h43.4" fill="none" stroke="#2f8a33" stroke-width="3.0"/><line x1="1177.8" y1="2438.5" x2="1177.8" y2="2444.0" stroke="#000" stroke-width="3" stroke-linecap="butt" /><line x1="741.7" y1="2079.1" x2="741.7" y2="2440.0" stroke="#000" stroke-width="3.2" stroke-linecap="butt" /><line x1="738.7" y1="2438.5" x2="1240.0" y2="2438.5" stroke="#000" stroke-width="3.2" stroke-linecap="butt" /><line x1="735.7" y1="2080.6" x2="741.7" y2="2080.6" stroke="#000" stroke-width="3" stroke-linecap="butt" /><text font-size="16.85" font-weight="bold" text-anchor="end" transform="translate(735.9 2086.9) scale(0.962 1)" >6</text><line x1="735.7" y1="2200.2" x2="741.7" y2="2200.2" stroke="#000" stroke-width="3" stroke-linecap="butt" /><text font-size="16.85" font-weight="bold" text-anchor="end" transform="translate(735.9 2206.5) scale(0.962 1)" >4</text><line x1="735.7" y1="2319.7" x2="741.7" y2="2319.7" stroke="#000" stroke-width="3" stroke-linecap="butt" /><text font-size="16.85" font-weight="bold" text-anchor="end" transform="translate(735.9 2326.0) scale(0.962 1)" >2</text><line x1="735.7" y1="2438.5" x2="741.7" y2="2438.5" stroke="#000" stroke-width="3" stroke-linecap="butt" /><text font-size="16.85" font-weight="bold" text-anchor="end" transform="translate(735.9 2444.8) scale(0.962 1)" >0</text><polyline points="804.6,2089.3 804.6,2048.0 1053.4,2048.0 1053.4,2071.3" fill="none" stroke="#000" stroke-width="3.0" stroke-linejoin="miter" /><text font-size="24.44" font-weight="bold" text-anchor="middle" transform="translate(929.0 2046.9) scale(0.962 1)" >****</text><polyline points="929.0,2143.6 929.0,2079.1 1050.8,2079.1 1050.8,2270.2" fill="none" stroke="#000" stroke-width="3.0" stroke-linejoin="miter" /><text font-size="24.44" font-weight="bold" text-anchor="middle" transform="translate(989.7 2078.0) scale(0.962 1)" >****</text><polyline points="1056.0,2270.2 1056.0,2079.1 1177.8,2079.1 1177.8,2111.0" fill="none" stroke="#000" stroke-width="3.0" stroke-linejoin="miter" /><text font-size="24.44" font-weight="bold" text-anchor="middle" transform="translate(1117.1 2078.0) scale(0.962 1)" >**</text><text font-size="16.95" font-weight="bold" text-anchor="middle" transform="translate(802.4 2459.3) scale(0.962 1)" >WT</text><text font-size="16.95" font-weight="bold" text-anchor="middle" transform="translate(802.4 2476.8) scale(0.962 1)" >+ EGFP</text><text font-size="16.95" font-weight="bold" text-anchor="middle" transform="translate(929.0 2459.3) scale(0.962 1)" >WT</text><text font-size="16.95" font-weight="bold" text-anchor="middle" transform="translate(929.0 2476.8) scale(0.962 1)" >+ Ankyrin-G-190</text><text font-size="16.95" font-weight="bold" text-anchor="middle" transform="translate(929.0 2495.5) scale(0.962 1)" >-EGFP</text><text font-size="16.95" font-weight="bold" text-anchor="middle" transform="translate(1057.2 2459.3) scale(0.962 1)" >[Df(h15q13)/+]</text><text font-size="16.95" font-weight="bold" text-anchor="middle" transform="translate(1057.2 2476.8) scale(0.962 1)" >+ EGFP</text><text font-size="16.95" font-weight="bold" text-anchor="middle" transform="translate(1180.8 2459.3) scale(0.962 1)" >[Df(h15q13)/+]</text><text font-size="16.95" font-weight="bold" text-anchor="middle" transform="translate(1180.8 2476.8) scale(0.962 1)" >+ Ankyrin-G-190</text><text font-size="16.95" font-weight="bold" text-anchor="middle" transform="translate(1180.8 2495.5) scale(0.962 1)" >-EGFP</text><text x="715.5" y="2266.5" font-size="23.4" font-weight="bold" text-anchor="middle" transform="rotate(-90 715.5 2266.5)" textLength="262.3" lengthAdjust="spacingAndGlyphs">Mushroom Spines/10µm</text></g>
<g id="p_n"><text font-size="45.74" font-weight="bold" transform="translate(1319.72 2016.10) scale(1.001 1)">n</text><rect x="1808.9" y="2006.5" width="20.6" height="18.0" fill="#6e6869" stroke="#000" stroke-width="2.9" /><text font-size="20.6" transform="translate(1839.4 2021.8) scale(1.0 1)" >Mushroom</text><rect x="1808.9" y="2037.6" width="20.6" height="18.0" fill="#a8aae0" stroke="#000" stroke-width="2.9" /><text font-size="20.6" transform="translate(1839.4 2053.3) scale(1.0 1)" >Thin</text><rect x="1808.9" y="2069.1" width="20.6" height="18.0" fill="#fcc98f" stroke="#000" stroke-width="2.9" /><text font-size="20.6" transform="translate(1839.4 2084.8) scale(1.0 1)" >Filopodia</text><rect x="1808.9" y="2100.9" width="20.6" height="18.0" fill="#d0f2a4" stroke="#000" stroke-width="2.9" /><text font-size="20.6" transform="translate(1839.4 2116.3) scale(1.0 1)" >Stubby</text><rect x="1439.9" y="2146.8" width="140.4" height="42.3" fill="#6e6869" stroke="#000" stroke-width="2.9" /><rect x="1580.2" y="2146.8" width="17.5" height="42.3" fill="#a8aae0" stroke="#000" stroke-width="2.9" /><rect x="1597.8" y="2146.8" width="69.8" height="42.3" fill="#fcc98f" stroke="#000" stroke-width="2.9" /><rect x="1667.6" y="2146.8" width="121.6" height="42.3" fill="#d0f2a4" stroke="#000" stroke-width="2.9" /><path d="M1573.9 2167.9H1589M1573.9 2155.3v25.2M1589 2155.3v25.2" fill="none" stroke="#000000" stroke-width="2.9"/><path d="M1595 2167.9H1603M1595 2155.3v25.2M1603 2155.3v25.2" fill="none" stroke="#3f4eb4" stroke-width="2.9"/><path d="M1661.6 2167.9H1677.5M1661.6 2155.3v25.2M1677.5 2155.3v25.2" fill="none" stroke="#f28b0c" stroke-width="2.9"/><path d="M1783.2 2167.9H1797.5M1783.2 2155.3v25.2M1797.5 2155.3v25.2" fill="none" stroke="#6cc417" stroke-width="2.9"/><line x1="1430.4" y1="2167.9" x2="1439.9" y2="2167.9" stroke="#000" stroke-width="2.8" stroke-linecap="butt" /><rect x="1439.9" y="2219.8" width="121.2" height="43.1" fill="#6e6869" stroke="#000" stroke-width="2.9" /><rect x="1561.1" y="2219.8" width="19.1" height="43.1" fill="#a8aae0" stroke="#000" stroke-width="2.9" /><rect x="1580.2" y="2219.8" width="81.3" height="43.1" fill="#fcc98f" stroke="#000" stroke-width="2.9" /><rect x="1661.6" y="2219.8" width="126.8" height="43.1" fill="#d0f2a4" stroke="#000" stroke-width="2.9" /><path d="M1555.1 2241.3H1569.1M1555.1 2228.7v25.2M1569.1 2228.7v25.2" fill="none" stroke="#000000" stroke-width="2.9"/><path d="M1577.8 2241.3H1587M1577.8 2228.7v25.2M1587 2228.7v25.2" fill="none" stroke="#3f4eb4" stroke-width="2.9"/><path d="M1654.8 2241.3H1671.5M1654.8 2228.7v25.2M1671.5 2228.7v25.2" fill="none" stroke="#f28b0c" stroke-width="2.9"/><path d="M1776 2241.3H1803.9M1776 2228.7v25.2M1803.9 2228.7v25.2" fill="none" stroke="#6cc417" stroke-width="2.9"/><line x1="1430.4" y1="2241.3" x2="1439.9" y2="2241.3" stroke="#000" stroke-width="2.8" stroke-linecap="butt" /><rect x="1439.9" y="2292.7" width="87.3" height="42.7" fill="#6e6869" stroke="#000" stroke-width="2.9" /><rect x="1527.2" y="2292.7" width="11.2" height="42.7" fill="#a8aae0" stroke="#000" stroke-width="2.9" /><rect x="1538.4" y="2292.7" width="77.8" height="42.7" fill="#fcc98f" stroke="#000" stroke-width="2.9" /><rect x="1616.1" y="2292.7" width="173.4" height="42.7" fill="#d0f2a4" stroke="#000" stroke-width="2.9" /><path d="M1516.4 2314.1H1541.2M1516.4 2301.5v25.2M1541.2 2301.5v25.2" fill="none" stroke="#000000" stroke-width="2.9"/><path d="M1536.4 2314.1H1544M1536.4 2301.5v25.2M1544 2301.5v25.2" fill="none" stroke="#3f4eb4" stroke-width="2.9"/><path d="M1603 2314.1H1632.9M1603 2301.5v25.2M1632.9 2301.5v25.2" fill="none" stroke="#f28b0c" stroke-width="2.9"/><path d="M1780.8 2314.1H1801.5M1780.8 2301.5v25.2M1801.5 2301.5v25.2" fill="none" stroke="#6cc417" stroke-width="2.9"/><line x1="1430.4" y1="2314.1" x2="1439.9" y2="2314.1" stroke="#000" stroke-width="2.8" stroke-linecap="butt" /><rect x="1439.9" y="2365.7" width="100.5" height="42.7" fill="#6e6869" stroke="#000" stroke-width="2.9" /><rect x="1540.4" y="2365.7" width="17.9" height="42.7" fill="#a8aae0" stroke="#000" stroke-width="2.9" /><rect x="1558.3" y="2365.7" width="77.8" height="42.7" fill="#fcc98f" stroke="#000" stroke-width="2.9" /><rect x="1636.1" y="2365.7" width="151.5" height="42.7" fill="#d0f2a4" stroke="#000" stroke-width="2.9" /><path d="M1535.2 2387H1551.1M1535.2 2374.4v25.2M1551.1 2374.4v25.2" fill="none" stroke="#000000" stroke-width="2.9"/><path d="M1555.9 2387H1564.7M1555.9 2374.4v25.2M1564.7 2374.4v25.2" fill="none" stroke="#3f4eb4" stroke-width="2.9"/><path d="M1629.7 2387H1646M1629.7 2374.4v25.2M1646 2374.4v25.2" fill="none" stroke="#f28b0c" stroke-width="2.9"/><path d="M1776 2387H1802.7M1776 2374.4v25.2M1802.7 2374.4v25.2" fill="none" stroke="#6cc417" stroke-width="2.9"/><line x1="1430.4" y1="2387.0" x2="1439.9" y2="2387.0" stroke="#000" stroke-width="2.8" stroke-linecap="butt" /><line x1="1439.9" y1="2120.3" x2="1439.9" y2="2436.7" stroke="#000" stroke-width="2.9" stroke-linecap="butt" /><line x1="1438.5" y1="2435.3" x2="1862.1" y2="2435.3" stroke="#000" stroke-width="2.9" stroke-linecap="butt" /><line x1="1439.9" y1="2435.3" x2="1439.9" y2="2442.3" stroke="#000" stroke-width="2.4" stroke-linecap="butt" /><text font-size="19.8" font-weight="bold" text-anchor="middle" transform="translate(1440.4 2461.8) scale(0.935 1)" >0.0</text><line x1="1510.1" y1="2435.3" x2="1510.1" y2="2442.3" stroke="#000" stroke-width="2.4" stroke-linecap="butt" /><text font-size="19.8" font-weight="bold" text-anchor="middle" transform="translate(1510.6 2461.8) scale(0.935 1)" >0.2</text><line x1="1580.4" y1="2435.3" x2="1580.4" y2="2442.3" stroke="#000" stroke-width="2.4" stroke-linecap="butt" /><text font-size="19.8" font-weight="bold" text-anchor="middle" transform="translate(1580.9 2461.8) scale(0.935 1)" >0.4</text><line x1="1650.7" y1="2435.3" x2="1650.7" y2="2442.3" stroke="#000" stroke-width="2.4" stroke-linecap="butt" /><text font-size="19.8" font-weight="bold" text-anchor="middle" transform="translate(1651.2 2461.8) scale(0.935 1)" >0.6</text><line x1="1720.9" y1="2435.3" x2="1720.9" y2="2442.3" stroke="#000" stroke-width="2.4" stroke-linecap="butt" /><text font-size="19.8" font-weight="bold" text-anchor="middle" transform="translate(1721.4 2461.8) scale(0.935 1)" >0.8</text><line x1="1791.2" y1="2435.3" x2="1791.2" y2="2442.3" stroke="#000" stroke-width="2.4" stroke-linecap="butt" /><text font-size="19.8" font-weight="bold" text-anchor="middle" transform="translate(1791.7 2461.8) scale(0.935 1)" >1.0</text><line x1="1861.4" y1="2435.3" x2="1861.4" y2="2442.3" stroke="#000" stroke-width="2.4" stroke-linecap="butt" /><text font-size="19.8" font-weight="bold" text-anchor="middle" transform="translate(1861.9 2461.8) scale(0.935 1)" >1.2</text><text x="1650.8" y="2490.5" font-size="21.4" font-weight="bold" text-anchor="middle" textLength="213.0" lengthAdjust="spacingAndGlyphs">Spine type proportion</text><text font-size="20.5" text-anchor="middle" transform="translate(1355.0 2163.3) scale(0.97 1)" >WT</text><text font-size="20.5" text-anchor="middle" transform="translate(1355.0 2185.3) scale(0.97 1)" >+ EGFP</text><text font-size="20.5" text-anchor="middle" transform="translate(1355.0 2227.1) scale(0.97 1)" >WT</text><text font-size="20.5" text-anchor="middle" transform="translate(1355.0 2249.1) scale(0.97 1)" >+ Ankyrin-G-190</text><text font-size="20.5" text-anchor="middle" transform="translate(1355.0 2271.8) scale(0.97 1)" >-EGFP</text><text font-size="20.5" text-anchor="middle" transform="translate(1352.6 2309.7) scale(0.97 1)" >[Df(h15q13)/+]</text><text font-size="20.5" text-anchor="middle" transform="translate(1355.0 2331.6) scale(0.97 1)" >+ EGFP</text><text font-size="20.5" text-anchor="middle" transform="translate(1352.6 2382.6) scale(0.97 1)" >[Df(h15q13)/+]</text><text font-size="20.5" text-anchor="middle" transform="translate(1355.0 2404.6) scale(0.97 1)" >+ Ankyrin-G-190</text><text font-size="20.5" text-anchor="middle" transform="translate(1355.0 2427.3) scale(0.97 1)" >-EGFP</text><polyline points="1812.3,2164.1 1852.2,2164.1 1852.2,2386.6 1812.3,2386.6" fill="none" stroke="#000000" stroke-width="3.2" stroke-linejoin="miter" stroke-linecap="round"/><line x1="1813.5" y1="2311.7" x2="1852.2" y2="2311.7" stroke="#000000" stroke-width="3.2" stroke-linecap="round" /><polyline points="1869.3,2164.1 1908.8,2164.1 1908.8,2386.6 1869.3,2386.6" fill="none" stroke="#6cc417" stroke-width="2.8" stroke-linejoin="miter" stroke-linecap="round"/><line x1="1870.5" y1="2311.7" x2="1908.8" y2="2311.7" stroke="#6cc417" stroke-width="2.8" stroke-linecap="round" /><text font-size="26.75" font-weight="bold" text-anchor="middle" transform="translate(1875.5 2311.7) rotate(-90) scale(0.935 1)" >***</text><text font-size="26.75" font-weight="bold" text-anchor="middle" transform="translate(1875.5 2385.0) rotate(-90) scale(0.935 1)" >**</text><text x="1933.5" y="2311.7" font-size="27" text-anchor="middle" fill="#6cc417" transform="rotate(-90 1933.5 2311.7)">***</text><text x="1934.3" y="2379.5" font-size="27" text-anchor="middle" fill="#6cc417" transform="rotate(-90 1934.3 2379.5)">*</text></g>
</svg>
</body></html>
